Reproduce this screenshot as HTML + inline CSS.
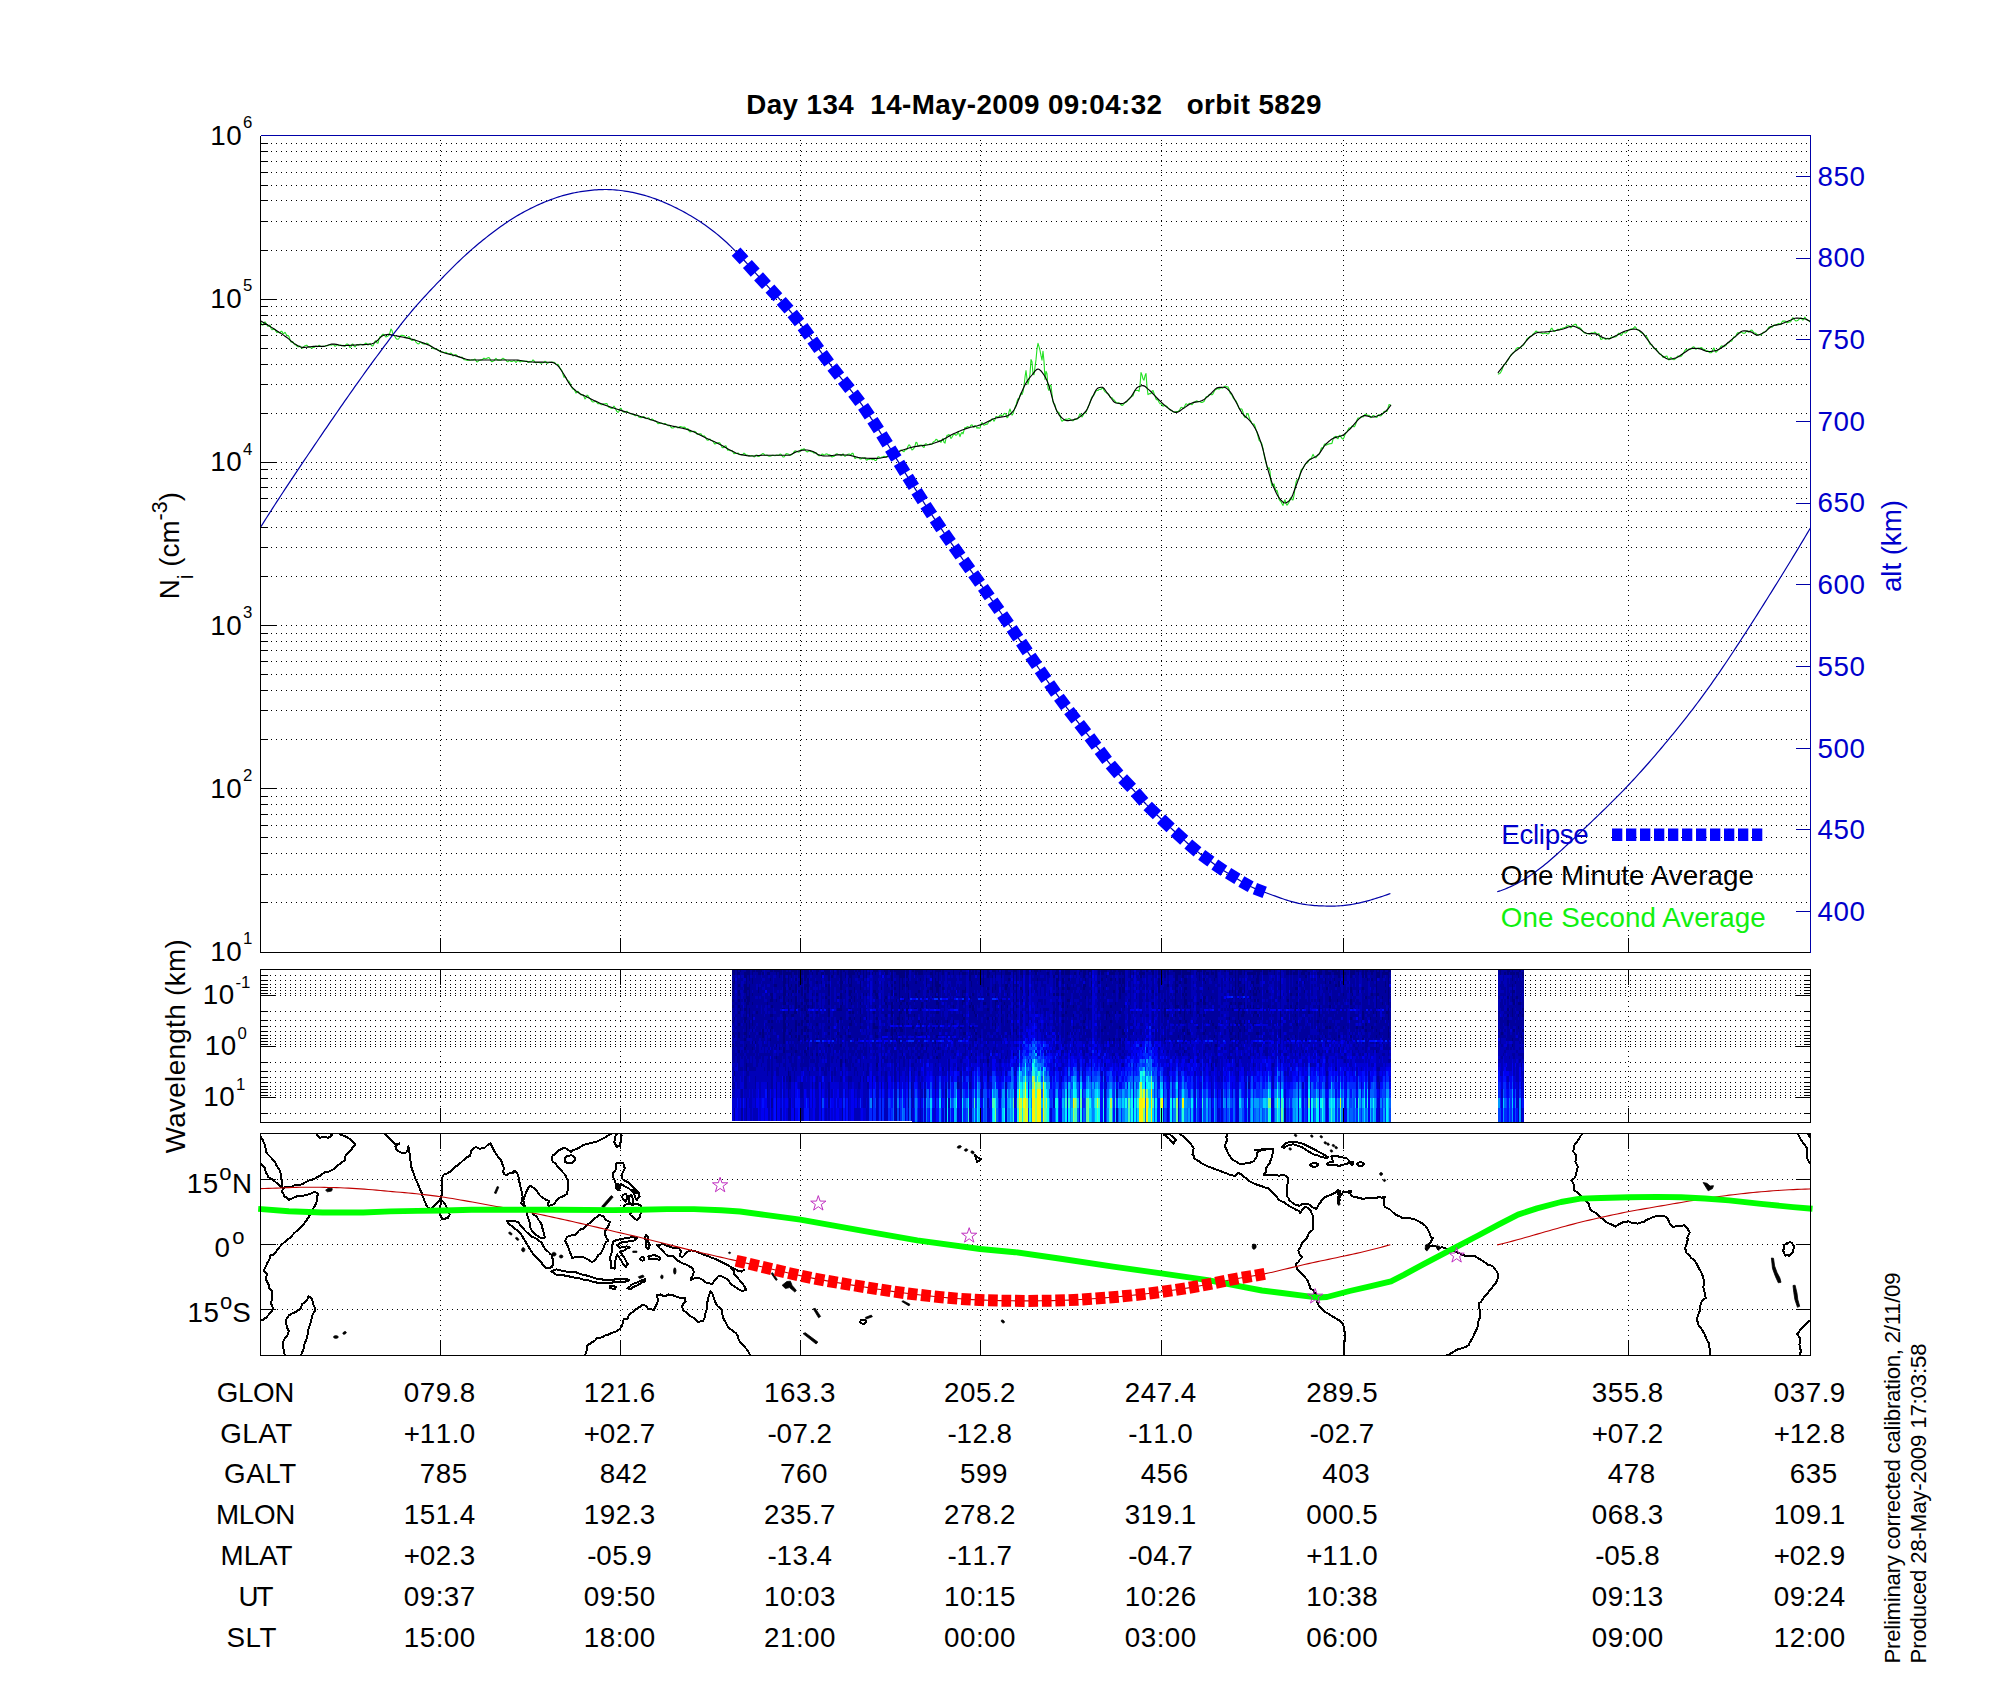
<!DOCTYPE html>
<html><head><meta charset="utf-8"><title>Day 134 14-May-2009 orbit 5829</title>
<style>
html,body{margin:0;padding:0;background:#fff;}
svg{display:block;font-family:"Liberation Sans",sans-serif;}
text{white-space:pre;}
</style></head><body>
<svg width="2000" height="1700" viewBox="0 0 2000 1700">
<rect x="0" y="0" width="2000" height="1700" fill="#fff"/>
<path d="M261 902.5H1809.5M261 874.5H1809.5M261 853.5H1809.5M261 837.5H1809.5M261 825.5H1809.5M261 814.5H1809.5M261 804.5H1809.5M261 796.5H1809.5M261 788.5H1809.5M261 739.5H1809.5M261 710.5H1809.5M261 690.5H1809.5M261 674.5H1809.5M261 661.5H1809.5M261 650.5H1809.5M261 641.5H1809.5M261 633.5H1809.5M261 625.5H1809.5M261 576.5H1809.5M261 547.5H1809.5M261 527.5H1809.5M261 511.5H1809.5M261 498.5H1809.5M261 487.5H1809.5M261 478.5H1809.5M261 469.5H1809.5M261 462.5H1809.5M261 413.5H1809.5M261 384.5H1809.5M261 364.5H1809.5M261 348.5H1809.5M261 335.5H1809.5M261 324.5H1809.5M261 315.5H1809.5M261 306.5H1809.5M261 299.5H1809.5M261 250.5H1809.5M261 221.5H1809.5M261 200.5H1809.5M261 185.5H1809.5M261 172.5H1809.5M261 161.5H1809.5M261 151.5H1809.5M261 143.5H1809.5M440.5 140V951.5M620.5 140V951.5M800.5 140V951.5M980.5 140V951.5M1161.5 140V951.5M1343.5 140V951.5M1628.5 140V951.5" stroke="#000" stroke-width="1" stroke-dasharray="1 4" fill="none" shape-rendering="crispEdges"/>
<path d="M261 322.22L262 325.06L263 325.12L264 322.69L265 321.88L266 323.26L267 325.11L268 326.34L269 325.43L270 325.13L271 328.2L272 329.64L273 329.39L274 328.99L275 329.2L276 331.48L277 332.58L278 331.75L279 332.31L280 333.1L281 331.37L282 331.34L283 333.72L284 333.33L285 332.3L286 334.04L287 335.59L288 335.49L289 336.56L290 339.77L291 341.94L292 341.66L293 341.89L294 343.79L295 344.82L296 344.92L297 346.1L298 346.95L299 346.16L300 345.99L301 347.14L302 348.23L303 347.94L304 346.4L305 345.75L306 345.4L307 345.26L308 346.6L309 347.1L310 346.97L311 347.91L312 348.16L313 347.56L314 347.46L315 346.83L316 345.92L317 346.62L318 346.42L319 345.28L320 345.83L321 346.67L322 346.78L323 346.35L324 346.28L325 346.06L326 345.53L327 345.65L328 345.58L329 345L330 344.75L331 345.22L332 344.98L333 344.38L334 345.06L335 346.3L336 345.76L337 344.36L338 345.08L339 345.78L340 344.94L341 345.07L342 345.66L343 345.3L344 346.1L345 346.25L346 344.59L347 343.98L348 344.29L349 345.68L350 347.61L351 346.89L352 344.28L353 344.16L354 346.1L355 346.85L356 345.67L357 344.57L358 344.78L359 344.84L360 344.27L361 344.18L362 344.84L363 345.04L364 344.55L365 343.75L366 343.05L367 343.94L368 345.08L369 343.95L370 343.35L371 344.79L372 345.84L373 345.65L374 343.77L375 341.25L376 340.68L377 342.96L378 343.19L379 339.01L380 336.79L381 336.66L382 335.08L383 334.17L384 334.56L385 335.98L386 337.02L387 336.58L388 335.92L389 334.88L390 332.51L391 328.94L392 330.47L393 334.71L394 335.59L395 336.64L396 338.43L397 339.29L398 339.23L399 338.33L400 336.61L401 335.35L402 335.4L403 335.59L404 335.64L405 336.42L406 337.56L407 338.06L408 337.18L409 336.58L410 337.93L411 339.64L412 340.57L413 340.24L414 339.21L415 340.09L416 342.19L417 343.07L418 343.91L419 343.69L420 342.14L421 342.29L422 343.28L423 343.76L424 344.02L425 344.09L426 343.59L427 343.11L428 343.71L429 344.62L430 345.36L431 346.22L432 347.53L433 348.5L434 348.71L435 348.97L436 349.1L437 349.21L438 349.62L439 350.35L440 351.29L441 352.05L442 351.97L443 351.89L444 352.59L445 352.45L446 352.28L447 352.87L448 353.42L449 353.88L450 353.53L451 353.07L452 354.22L453 355.88L454 355.44L455 354.61L456 354.71L457 355.61L458 356.71L459 356.49L460 357.16L461 357.57L462 356.97L463 358.26L464 359.71L465 359.77L466 359.94L467 360.36L468 360.27L469 360.06L470 360.2L471 360.06L472 359.8L473 360.06L474 359.43L475 359L476 360.58L477 362.04L478 361.34L479 360.27L480 360.18L481 359.86L482 359.74L483 359.02L484 358.12L485 358.72L486 358.89L487 358.32L488 357.77L489 357.65L490 358.89L491 361.03L492 361.79L493 361.17L494 360.82L495 359.42L496 358.3L497 359.5L498 360.26L499 359.95L500 360.32L501 360.25L502 358.86L503 358.26L504 359.08L505 359.57L506 360.03L507 361.45L508 361.74L509 360.69L510 360.83L511 361.42L512 361.48L513 361.04L514 360.44L515 361.35L516 362.44L517 361.38L518 360.24L519 361.09L520 361.94L521 361.21L522 361.09L523 361.48L524 360.92L525 361.18L526 361.14L527 361.1L528 362.44L529 362.19L530 361.35L531 361.83L532 361.1L533 359.93L534 360.78L535 362.3L536 362.85L537 362.57L538 362.45L539 362.48L540 362.69L541 363.16L542 362.94L543 362.74L544 362.33L545 361.22L546 361.81L547 363.4L548 363.09L549 362.34L550 362.29L551 362.21L552 362.14L553 362.25L554 362.26L555 362.91L556 364.51L557 364.45L558 364.22L559 366.05L560 368.11L561 369.43L562 370.75L563 374.41L564 377.3L565 376.85L566 377.63L567 379.78L568 380.83L569 381.26L570 383.15L571 385.88L572 387.97L573 389.23L574 389.27L575 391.11L576 393.1L577 391.82L578 391.21L579 392.56L580 393.92L581 394.93L582 394.82L583 394.65L584 396.61L585 398.99L586 397.57L587 395.08L588 395.78L589 397.42L590 398.55L591 399.9L592 401.44L593 401.95L594 401.66L595 401.42L596 401.55L597 402.66L598 403.78L599 403.6L600 403.65L601 404.63L602 404.69L603 404.07L604 403.82L605 404.05L606 403.52L607 403.63L608 406.14L609 407.4L610 407.41L611 408.23L612 408.54L613 407.31L614 406.11L615 407.46L616 409.87L617 411.55L618 412.35L619 411.29L620 408.74L621 408.25L622 410.28L623 411.73L624 412.14L625 412.07L626 411.47L627 411.29L628 412.15L629 412.87L630 413.53L631 414.03L632 414.07L633 414.36L634 414.91L635 415.63L636 415.59L637 414.87L638 415.7L639 417.21L640 417.41L641 417.6L642 417.46L643 416.6L644 416.71L645 417.75L646 418.71L647 418.57L648 417.7L649 418L650 419.76L651 420.05L652 418.88L653 419.48L654 420.59L655 420.93L656 421.25L657 422.45L658 423.68L659 423.53L660 423.4L661 423.24L662 423.13L663 423.75L664 423.7L665 423.48L666 424.07L667 424.93L668 425.6L669 425.37L670 425.69L671 427.23L672 428.02L673 428L674 427.45L675 426.62L676 426.32L677 427.05L678 428.02L679 427.36L680 426.47L681 426.66L682 427.01L683 427.43L684 427.15L685 427.36L686 428.71L687 428.74L688 428.62L689 430.94L690 431.95L691 431.19L692 431.77L693 431.53L694 431.19L695 431.46L696 432.16L697 434.14L698 434.6L699 433.89L700 433.75L701 433.91L702 435.46L703 436.45L704 435.77L705 436.47L706 438.39L707 440.01L708 440.34L709 439.23L710 439.16L711 440.16L712 440.43L713 441.17L714 443.1L715 444.06L716 443.35L717 443.14L718 443.01L719 442.51L720 443.11L721 445.03L722 447.39L723 447.76L724 446.98L725 446.02L726 445.86L727 448.62L728 450.35L729 449.86L730 450.59L731 450.75L732 450.4L733 452.27L734 453.73L735 453.31L736 453.41L737 453.44L738 452.88L739 454.02L740 454.81L741 454.42L742 454.95L743 454.17L744 453.16L745 453.95L746 454.76L747 455L748 455.35L749 455.95L750 455.91L751 455.72L752 455.5L753 455.96L754 456.92L755 456.41L756 455L757 454.95L758 456.38L759 456.49L760 455.55L761 454.95L762 454.04L763 453.54L764 454.2L765 455.28L766 455.29L767 455L768 455.85L769 456.27L770 456.14L771 456.05L772 455.35L773 455.18L774 455.55L775 455.72L776 455.33L777 455.08L778 455.55L779 455.07L780 454.13L781 454.2L782 455.67L783 457.02L784 457.04L785 455.71L786 453.88L787 453.65L788 454.06L789 454.58L790 455.5L791 455.11L792 454.27L793 453.47L794 451.91L795 450.8L796 450.95L797 451.68L798 451.96L799 452.1L800 451.37L801 449.62L802 449.38L803 449.53L804 448.78L805 449.42L806 451.12L807 451.91L808 451.61L809 450.8L810 450.94L811 451.6L812 451.49L813 452.27L814 453.2L815 452.64L816 452.58L817 453.88L818 455.17L819 455.64L820 455.78L821 455.26L822 454.08L823 454.39L824 455.25L825 454.66L826 453.92L827 453.96L828 454.54L829 454.87L830 454.9L831 456.14L832 457.03L833 456.56L834 456.43L835 455.47L836 454.08L837 453.81L838 454.24L839 454.56L840 454.71L841 455.7L842 455.03L843 453.71L844 455.4L845 456.32L846 455.47L847 454.86L848 454.18L849 454.03L850 454.34L851 454.57L852 453.4L853 453.24L854 456.57L855 458.54L856 457.74L857 457.68L858 457.72L859 457.65L860 458.89L861 459.07L862 457.89L863 458.15L864 458.02L865 457.76L866 459.8L867 460.19L868 459.03L869 459.4L870 459.05L871 458.87L872 459.69L873 459.36L874 459.42L875 460.41L876 460.56L877 459.1L878 456.81L879 456.75L880 458L881 457.71L882 457.05L883 456.66L884 456.23L885 456.72L886 457.42L887 456.53L888 455.82L889 456.4L890 456.03L891 454.49L892 454L893 454.28L894 454.32L895 453.68L896 452.63L897 452.08L898 451.77L899 451.58L900 450.82L901 450L902 450.15L903 451.35L904 451.7L905 450.06L906 449.74L907 449.23L908 446.2L909 444.74L910 445.67L911 448.04L912 449.92L913 449.34L914 448.17L915 445.67L916 442.28L917 442.82L918 446.03L919 446.01L920 445.06L921 445.35L922 445.1L923 446.9L924 447.53L925 444.47L926 443.66L927 444.61L928 444.45L929 444.18L930 443.82L931 444.51L932 444.28L933 442.18L934 441.56L935 440.91L936 439.21L937 439.64L938 441.42L939 441.12L940 440.89L941 442.36L942 440.08L943 438.44L944 442.39L945 443.13L946 438.39L947 435.38L948 435.21L949 434.48L950 435.93L951 438.53L952 437.25L953 435.18L954 434.44L955 434.3L956 435.4L957 434.65L958 432.07L959 433.79L960 436.64L961 433.78L962 432.33L963 433.8L964 430.36L965 427.47L966 428L967 426.72L968 426.48L969 427.74L970 426.79L971 425.16L972 424.74L973 426.23L974 427.39L975 425.57L976 426.21L977 428.22L978 427.49L979 428.19L980 428L981 424.36L982 422.45L983 423.97L984 425.3L985 424.72L986 423.95L987 424.4L988 423.25L989 421.34L990 421.59L991 420.64L992 418.72L993 419.43L994 421.19L995 419.49L996 416.51L997 416.67L998 417.3L999 416.66L1000 415.16L1001 414.87L1002 416.28L1003 415.27L1004 413.84L1005 413.31L1006 414.25L1007 417.75L1008 417.01L1009 411.78L1010 409.04L1011 411.92L1012 415.21L1013 413.68L1014 410.41L1015 407.36L1016 405.33L1017 401.54L1018 398.74L1019 399.13L1020 395.35L1021 392.95L1022 394.6L1023 391.83L1024 386.06L1025 377.19L1026 370.48L1027 378.93L1028 384.09L1029 380.15L1030 374.1L1031 359.53L1032 361.77L1033 374.04L1034 374.72L1035 366.84L1036 359.64L1037 348.97L1038 343.37L1039 346.7L1040 350.34L1041 355.67L1042 360.11L1043 351.18L1044 361.35L1045 379.54L1046 371.33L1047 373.62L1048 388.26L1049 390.5L1050 384.94L1051 385.77L1052 394.18L1053 401.94L1054 403.71L1055 404.9L1056 409.23L1057 411.86L1058 411.95L1059 412.77L1060 415.48L1061 419.4L1062 421.2L1063 420.47L1064 420.14L1065 419.69L1066 419.02L1067 419.33L1068 418.95L1069 418.45L1070 419.03L1071 419.85L1072 420.68L1073 420.79L1074 419.72L1075 418.92L1076 419.09L1077 419.22L1078 418.56L1079 415.89L1080 413.68L1081 415.23L1082 416.91L1083 415.39L1084 413.58L1085 413.01L1086 412.02L1087 409.9L1088 407.24L1089 404.99L1090 402.47L1091 399.16L1092 396.82L1093 396.05L1094 395.06L1095 393.03L1096 390.98L1097 390.48L1098 390.56L1099 389.48L1100 389.29L1101 389.43L1102 388.21L1103 388.25L1104 390.21L1105 391.8L1106 392.39L1107 393.2L1108 393.71L1109 394.71L1110 396.95L1111 397.57L1112 397.8L1113 399.13L1114 399.83L1115 401L1116 402.19L1117 402.85L1118 403.21L1119 402.75L1120 403.37L1121 404.82L1122 405.51L1123 405L1124 403.72L1125 402.64L1126 402.22L1127 401.55L1128 400.09L1129 399.1L1130 398.28L1131 396.94L1132 396.39L1133 395.76L1134 392.8L1135 390.49L1136 390.47L1137 390.46L1138 390.42L1139 391.3L1140 385.52L1141 372.46L1142 374.84L1143 378.87L1144 380.09L1145 375.83L1146 373.6L1147 386.7L1148 394.69L1149 393.85L1150 393.63L1151 393.65L1152 390.97L1153 390.54L1154 393.22L1155 396.09L1156 399.01L1157 399.91L1158 399.88L1159 402.25L1160 403.76L1161 403.5L1162 404.65L1163 406.17L1164 405.71L1165 405.37L1166 405.84L1167 406.38L1168 407.79L1169 408.99L1170 409.87L1171 410.21L1172 410.71L1173 411.75L1174 412.07L1175 411.94L1176 411.58L1177 411.57L1178 411.42L1179 410.83L1180 409.29L1181 407.39L1182 407.45L1183 408.51L1184 407.96L1185 405.43L1186 403.78L1187 404.18L1188 404.43L1189 403.58L1190 403.36L1191 404.29L1192 404.62L1193 403.39L1194 401.97L1195 401.78L1196 401.24L1197 400.86L1198 401.87L1199 401.74L1200 401.49L1201 402.42L1202 402.41L1203 401.89L1204 401.42L1205 399.45L1206 396.92L1207 396.58L1208 396.58L1209 395.03L1210 394.28L1211 394.64L1212 394.75L1213 393.86L1214 391.79L1215 390.07L1216 389.62L1217 388.84L1218 388.43L1219 389.09L1220 388.25L1221 387.47L1222 388.08L1223 387.96L1224 386.91L1225 386.07L1226 386.54L1227 387.07L1228 386.9L1229 389.1L1230 392.88L1231 394.05L1232 395.27L1233 397.62L1234 399.01L1235 399.89L1236 400.82L1237 403.06L1238 405.8L1239 408.35L1240 409.47L1241 408.75L1242 409.14L1243 412.22L1244 415.87L1245 417.55L1246 416.6L1247 413.76L1248 413.47L1249 416.97L1250 419.71L1251 421.43L1252 423.53L1253 424.15L1254 424.05L1255 426.15L1256 429.63L1257 432.25L1258 436.09L1259 440.23L1260 441.3L1261 442.08L1262 444.27L1263 448.6L1264 454.55L1265 459.04L1266 462.68L1267 466.85L1268 468.87L1269 467.61L1270 471.59L1271 481.7L1272 486.16L1273 484.69L1274 483.86L1275 487.7L1276 491.2L1277 490.38L1278 493.91L1279 499.12L1280 500.71L1281 501.49L1282 503.81L1283 505.42L1284 501.82L1285 499.8L1286 503.41L1287 505.25L1288 503.93L1289 502.32L1290 498.88L1291 497.25L1292 499.64L1293 499.89L1294 495.39L1295 488.16L1296 482.29L1297 479.82L1298 479.51L1299 478.95L1300 474.91L1301 470.12L1302 469.03L1303 468.43L1304 466.52L1305 464.58L1306 463.43L1307 463.07L1308 462.01L1309 460.08L1310 458.8L1311 458.91L1312 456.6L1313 454.36L1314 456.18L1315 457.79L1316 457.73L1317 456.24L1318 454.87L1319 454.27L1320 452.46L1321 448.8L1322 447.68L1323 448.3L1324 445.05L1325 443.73L1326 445.16L1327 444.74L1328 444.07L1329 444.1L1330 443.46L1331 443.67L1332 443.25L1333 439.38L1334 437.26L1335 436.78L1336 436.38L1337 438.22L1338 438.75L1339 436.05L1340 435.23L1341 436.96L1342 438.43L1343 439.15L1344 437.54L1345 434.5L1346 432.64L1347 431.83L1348 429.86L1349 427.93L1350 427.95L1351 427.61L1352 426.17L1353 426.12L1354 426.91L1355 425.89L1356 423.32L1357 420.04L1358 417.93L1359 417.98L1360 417.91L1361 416.81L1362 416.57L1363 417.06L1364 415.94L1365 414.42L1366 414.35L1367 415.14L1368 415.46L1369 415.23L1370 416.31L1371 417.63L1372 416.91L1373 415.63L1374 415.72L1375 416.69L1376 417.41L1377 417.14L1378 415.32L1379 414.66L1380 415.95L1381 415.82L1382 414.74L1383 413.36L1384 411.59L1385 411.13L1386 411.61L1387 411.23L1388 407.99L1389 404.59L1390 404.83L1391 405.22" stroke="#22e022" stroke-width="1.1" fill="none" stroke-linejoin="round"/>
<path d="M1497.9 374.23L1498.9 373.81L1499.9 373.39L1500.9 371.94L1501.9 369.97L1502.9 367.3L1503.9 364.78L1504.9 364.28L1505.9 363.22L1506.9 361.2L1507.9 360.13L1508.9 358.61L1509.9 356.48L1510.9 355L1511.9 354.04L1512.9 353.11L1513.9 352.28L1514.9 350.96L1515.9 349.21L1516.9 348.23L1517.9 347.53L1518.9 347.65L1519.9 348.03L1520.9 347.1L1521.9 345.87L1522.9 345.54L1523.9 344.62L1524.9 342.64L1525.9 340.98L1526.9 339.04L1527.9 338.06L1528.9 337.58L1529.9 336.49L1530.9 336.4L1531.9 335.76L1532.9 334.11L1533.9 333.44L1534.9 332.39L1535.9 331.16L1536.9 331.36L1537.9 332.29L1538.9 332.79L1539.9 332.81L1540.9 333.04L1541.9 333.22L1542.9 333.73L1543.9 333.5L1544.9 332.91L1545.9 333.16L1546.9 333.54L1547.9 334.06L1548.9 333.55L1549.9 331.39L1550.9 328.96L1551.9 328.19L1552.9 329.89L1553.9 331.54L1554.9 331.42L1555.9 330.65L1556.9 329.83L1557.9 329.34L1558.9 329.61L1559.9 329.21L1560.9 328.51L1561.9 328.57L1562.9 328.05L1563.9 327.69L1564.9 327.59L1565.9 326.94L1566.9 326.03L1567.9 325.67L1568.9 325.71L1569.9 326.61L1570.9 327.84L1571.9 326.65L1572.9 325.21L1573.9 325.11L1574.9 324.4L1575.9 324.33L1576.9 326.34L1577.9 327.48L1578.9 327.27L1579.9 327.83L1580.9 328.64L1581.9 330.06L1582.9 331.73L1583.9 332.72L1584.9 332.88L1585.9 333.04L1586.9 333.62L1587.9 333.61L1588.9 333.94L1589.9 334.21L1590.9 333.11L1591.9 332.68L1592.9 333.19L1593.9 332.66L1594.9 332.09L1595.9 332.96L1596.9 334.42L1597.9 333.98L1598.9 333.64L1599.9 336.53L1600.9 339.47L1601.9 339.3L1602.9 337.77L1603.9 337.84L1604.9 338.99L1605.9 339.43L1606.9 338.59L1607.9 338.16L1608.9 339.2L1609.9 338.85L1610.9 337.17L1611.9 336.98L1612.9 337.3L1613.9 337.01L1614.9 336.92L1615.9 336.77L1616.9 335.93L1617.9 334.22L1618.9 333.19L1619.9 334.16L1620.9 335.4L1621.9 334.85L1622.9 332.87L1623.9 332.19L1624.9 333.06L1625.9 332.88L1626.9 331.81L1627.9 330.73L1628.9 329.93L1629.9 329.58L1630.9 329.01L1631.9 328.8L1632.9 328.82L1633.9 327.73L1634.9 326.7L1635.9 327.71L1636.9 329.36L1637.9 329.76L1638.9 330.12L1639.9 331.33L1640.9 332.54L1641.9 332.92L1642.9 333.06L1643.9 334.25L1644.9 335.5L1645.9 336.01L1646.9 337.13L1647.9 339L1648.9 341.53L1649.9 344.13L1650.9 344.72L1651.9 344.81L1652.9 346.77L1653.9 348.57L1654.9 348.58L1655.9 348.89L1656.9 350.08L1657.9 351.47L1658.9 353.32L1659.9 354.19L1660.9 353.96L1661.9 355.54L1662.9 357.36L1663.9 357.12L1664.9 356.89L1665.9 356.3L1666.9 356.08L1667.9 358.37L1668.9 359.94L1669.9 358.42L1670.9 357.32L1671.9 358.3L1672.9 359.24L1673.9 359.68L1674.9 359.23L1675.9 358.18L1676.9 356.9L1677.9 356.03L1678.9 356.58L1679.9 356.75L1680.9 356.41L1681.9 355.49L1682.9 353.69L1683.9 352.3L1684.9 350.6L1685.9 349.41L1686.9 349.97L1687.9 349.81L1688.9 348.98L1689.9 349.17L1690.9 349.15L1691.9 348.42L1692.9 347.04L1693.9 346.77L1694.9 348.51L1695.9 349.2L1696.9 348.45L1697.9 348.01L1698.9 348.15L1699.9 348.3L1700.9 347.67L1701.9 347.8L1702.9 349.03L1703.9 349.24L1704.9 349.71L1705.9 350.85L1706.9 350.79L1707.9 350.71L1708.9 352.08L1709.9 352.81L1710.9 352.79L1711.9 352.25L1712.9 349.53L1713.9 347.94L1714.9 350.17L1715.9 352.24L1716.9 351.57L1717.9 349.85L1718.9 349.17L1719.9 348.2L1720.9 346.38L1721.9 345.77L1722.9 346.51L1723.9 346.74L1724.9 346.02L1725.9 345.57L1726.9 343.67L1727.9 342.39L1728.9 342.78L1729.9 341.52L1730.9 341.1L1731.9 340.88L1732.9 338.25L1733.9 336.82L1734.9 337.27L1735.9 336.04L1736.9 333.66L1737.9 332.59L1738.9 332.91L1739.9 332.99L1740.9 332.17L1741.9 332.33L1742.9 333.11L1743.9 333.24L1744.9 333.17L1745.9 331.93L1746.9 330.74L1747.9 331.74L1748.9 332.17L1749.9 331.18L1750.9 330.2L1751.9 330.05L1752.9 331.36L1753.9 332.71L1754.9 332.99L1755.9 333.38L1756.9 334.49L1757.9 335.22L1758.9 334.8L1759.9 334.8L1760.9 334.99L1761.9 334.1L1762.9 332.94L1763.9 331.99L1764.9 331.78L1765.9 331.45L1766.9 330.26L1767.9 328.56L1768.9 327.19L1769.9 326.64L1770.9 326.7L1771.9 327.29L1772.9 326.54L1773.9 325.16L1774.9 325.1L1775.9 325.13L1776.9 324.87L1777.9 323.84L1778.9 323.46L1779.9 324.71L1780.9 324.3L1781.9 322L1782.9 320.92L1783.9 321.13L1784.9 321.09L1785.9 321.51L1786.9 322.65L1787.9 322.59L1788.9 321.72L1789.9 321.94L1790.9 321.35L1791.9 318.86L1792.9 317.72L1793.9 318.85L1794.9 320.18L1795.9 321.03L1796.9 320.7L1797.9 320.16L1798.9 319.54L1799.9 318.19L1800.9 317.97L1801.9 319.1L1802.9 320.26L1803.9 318.7L1804.9 317.14L1805.9 318.69L1806.9 319.77L1807.9 320.21L1808.9 320.74L1809.9 321.61L1810.2 322.17" stroke="#22e022" stroke-width="1.1" fill="none" stroke-linejoin="round"/>
<path d="M261 321L262.5 321.88L264 322.78L265.5 323.68L267 324.59L268.5 325.51L270 326.44L271.5 327.38L273 328.33L274.5 329.28L276 330.24L277.5 331.2L279 332.16L280.5 333.13L282 334.12L283.5 335.13L285 336.17L286.5 337.24L288 338.37L289.5 339.65L291 340.98L292.5 342.25L294 343.38L295.5 344.28L297 345.16L298.5 346L300 346.71L301.5 347.21L303 347.4L304.5 347.36L306 347.24L307.5 347.08L309 346.9L310.5 346.72L312 346.56L313.5 346.44L315 346.4L316.5 346.4L318 346.4L319.5 346.4L321 346.4L322.5 346.4L324 346.33L325.5 346.02L327 345.56L328.5 345.02L330 344.52L331.5 344.15L333 344L334.5 344.1L336 344.35L337.5 344.68L339 345.04L340.5 345.35L342 345.56L343.5 345.6L345 345.57L346.5 345.52L348 345.44L349.5 345.35L351 345.25L352.5 345.15L354 345.06L355.5 344.97L357 344.9L358.5 344.84L360 344.77L361.5 344.71L363 344.64L364.5 344.56L366 344.47L367.5 344.36L369 344.22L370.5 344.06L372 343.78L373.5 343.17L375 342.4L376.5 341.34L378 339.89L379.5 338.31L381 336.87L382.5 335.82L384 335.25L385.5 334.78L387 334.47L388.5 334.41L390 334.56L391.5 334.84L393 335.17L394.5 335.5L396 335.79L397.5 336.07L399 336.36L400.5 336.65L402 336.95L403.5 337.26L405 337.58L406.5 337.91L408 338.26L409.5 338.62L411 339L412.5 339.4L414 339.83L415.5 340.28L417 340.75L418.5 341.25L420 341.76L421.5 342.29L423 342.85L424.5 343.41L426 344L427.5 344.61L429 345.29L430.5 346.04L432 346.84L433.5 347.67L435 348.52L436.5 349.36L438 350.17L439.5 350.93L441 351.62L442.5 352.22L444 352.73L445.5 353.19L447 353.61L448.5 353.99L450 354.37L451.5 354.73L453 355.09L454.5 355.47L456 355.88L457.5 356.34L459 356.83L460.5 357.35L462 357.86L463.5 358.36L465 358.82L466.5 359.23L468 359.57L469.5 359.82L471 359.97L472.5 360L474 360L475.5 360L477 360L478.5 360L480 360L481.5 360L483 360L484.5 360L486 360L487.5 360L489 360L490.5 360L492 360L493.5 360L495 360L496.5 360L498 360L499.5 360L501 360L502.5 360L504 360L505.5 360L507 360L508.5 360L510 360L511.5 360L513 360L514.5 360L516 360.02L517.5 360.12L519 360.29L520.5 360.5L522 360.75L523.5 361.02L525 361.29L526.5 361.53L528 361.75L529.5 361.91L531 362L532.5 362.05L534 362.08L535.5 362.11L537 362.13L538.5 362.14L540 362.16L541.5 362.17L543 362.18L544.5 362.2L546 362.22L547.5 362.25L549 362.29L550.5 362.34L552 362.4L553.5 362.76L555 363.57L556.5 364.63L558 365.9L559.5 367.75L561 369.96L562.5 372.26L564 374.55L565.5 377.13L567 379.82L568.5 382.42L570 384.73L571.5 386.56L573 388.13L574.5 389.56L576 390.84L577.5 391.98L579 393L580.5 393.89L582 394.67L583.5 395.39L585 396.07L586.5 396.76L588 397.48L589.5 398.22L591 398.95L592.5 399.68L594 400.41L595.5 401.13L597 401.83L598.5 402.51L600 403.17L601.5 403.8L603 404.4L604.5 404.97L606 405.52L607.5 406.05L609 406.56L610.5 407.06L612 407.55L613.5 408.03L615 408.5L616.5 408.98L618 409.45L619.5 409.92L621 410.4L622.5 410.88L624 411.36L625.5 411.83L627 412.29L628.5 412.76L630 413.22L631.5 413.68L633 414.15L634.5 414.61L636 415.07L637.5 415.53L639 416L640.5 416.47L642 416.93L643.5 417.39L645 417.86L646.5 418.32L648 418.79L649.5 419.25L651 419.72L652.5 420.2L654 420.68L655.5 421.16L657 421.67L658.5 422.19L660 422.71L661.5 423.22L663 423.7L664.5 424.14L666 424.56L667.5 424.94L669 425.31L670.5 425.66L672 425.99L673.5 426.32L675 426.64L676.5 426.96L678 427.28L679.5 427.6L681 427.94L682.5 428.29L684 428.66L685.5 429.05L687 429.47L688.5 429.92L690 430.4L691.5 430.94L693 431.55L694.5 432.22L696 432.93L697.5 433.68L699 434.45L700.5 435.23L702 436.01L703.5 436.78L705 437.52L706.5 438.23L708 438.91L709.5 439.58L711 440.25L712.5 440.91L714 441.57L715.5 442.25L717 442.94L718.5 443.66L720 444.4L721.5 445.19L723 446.04L724.5 446.92L726 447.81L727.5 448.67L729 449.49L730.5 450.25L732 451.02L733.5 451.8L735 452.56L736.5 453.25L738 453.83L739.5 454.29L741 454.61L742.5 454.91L744 455.18L745.5 455.44L747 455.65L748.5 455.82L750 455.94L751.5 456L753 455.98L754.5 455.91L756 455.79L757.5 455.65L759 455.5L760.5 455.36L762 455.26L763.5 455.2L765 455.2L766.5 455.2L768 455.2L769.5 455.2L771 455.2L772.5 455.2L774 455.2L775.5 455.2L777 455.2L778.5 455.2L780 455.2L781.5 455.2L783 455.2L784.5 455.2L786 455.2L787.5 455.2L789 455.11L790.5 454.68L792 454L793.5 453.19L795 452.38L796.5 451.68L798 451.2L799.5 450.88L801 450.57L802.5 450.3L804 450.11L805.5 450.01L807 450.05L808.5 450.28L810 450.64L811.5 451.06L813 451.56L814.5 452.35L816 453.28L817.5 454.18L819 454.9L820.5 455.3L822 455.59L823.5 455.82L825 455.97L826.5 456L828 455.93L829.5 455.81L831 455.65L832.5 455.46L834 455.27L835.5 455.09L837 454.94L838.5 454.84L840 454.8L841.5 454.82L843 454.87L844.5 454.95L846 455.05L847.5 455.16L849 455.3L850.5 455.55L852 455.87L853.5 456.25L855 456.65L856.5 457.04L858 457.4L859.5 457.71L861 457.92L862.5 458.02L864 458.1L865.5 458.16L867 458.22L868.5 458.27L870 458.32L871.5 458.35L873 458.38L874.5 458.39L876 458.4L877.5 458.35L879 458.23L880.5 458.03L882 457.79L883.5 457.51L885 457.21L886.5 456.89L888 456.45L889.5 455.89L891 455.22L892.5 454.5L894 453.74L895.5 452.98L897 452.24L898.5 451.58L900 451L901.5 450.48L903 449.97L904.5 449.47L906 448.99L907.5 448.52L909 448.07L910.5 447.65L912 447.26L913.5 446.91L915 446.59L916.5 446.31L918 446.08L919.5 445.89L921 445.72L922.5 445.56L924 445.39L925.5 445.2L927 444.98L928.5 444.7L930 444.37L931.5 443.97L933 443.53L934.5 443.04L936 442.52L937.5 441.97L939 441.39L940.5 440.8L942 440.12L943.5 439.37L945 438.55L946.5 437.7L948 436.83L949.5 435.96L951 435.12L952.5 434.32L954 433.6L955.5 432.92L957 432.25L958.5 431.59L960 430.95L961.5 430.33L963 429.74L964.5 429.18L966 428.65L967.5 428.16L969 427.71L970.5 427.31L972 426.96L973.5 426.62L975 426.29L976.5 425.95L978 425.57L979.5 425.15L981 424.66L982.5 424.07L984 423.4L985.5 422.68L987 421.92L988.5 421.16L990 420.41L991.5 419.69L993 419.04L994.5 418.47L996 418L997.5 417.65L999 417.37L1000.5 417.14L1002 416.93L1003.5 416.7L1005 416.42L1006.5 416.07L1008 415.6L1009.5 414.8L1011 413.53L1012.5 411.9L1014 410L1015.5 407.32L1017 403.69L1018.5 399.71L1020 396L1021.5 392.54L1023 389.05L1024.5 385.79L1026 383L1027.5 380.68L1029 378.62L1030.5 376.75L1032 375L1033.5 373.1L1035 371.14L1036.5 369.62L1038 369L1039.5 369.55L1041 370.96L1042.5 372.89L1044 375L1045.5 377.54L1047 380.83L1048.5 384.65L1050 389.2L1051.5 395.09L1053 400.9L1054.5 405.29L1056 408.97L1057.5 412.21L1059 414.78L1060.5 416.5L1062 417.93L1063.5 419.18L1065 420.1L1066.5 420.57L1068 420.57L1069.5 420.44L1071 420.21L1072.5 419.93L1074 419.6L1075.5 419.16L1077 418.52L1078.5 417.69L1080 416.67L1081.5 415.49L1083 414.14L1084.5 412.64L1086 411L1087.5 408.54L1089 405.06L1090.5 401.3L1092 398L1093.5 394.94L1095 391.84L1096.5 389.32L1098 388L1099.5 387.55L1101 387.26L1102.5 387.29L1104 388.46L1105.5 390.48L1107 392.71L1108.5 394.59L1110 396.61L1111.5 398.76L1113 400.74L1114.5 402.25L1116 403L1117.5 403.24L1119 403.43L1120.5 403.56L1122 403.6L1123.5 403.3L1125 402.48L1126.5 401.31L1128 399.92L1129.5 398.47L1131 396.87L1132.5 394.59L1134 392.02L1135.5 389.58L1137 387.71L1138.5 386.78L1140 386.19L1141.5 385.76L1143 385.6L1144.5 386.08L1146 387.23L1147.5 388.58L1149 389.84L1150.5 391.23L1152 392.75L1153.5 394.34L1155 395.95L1156.5 397.52L1158 399L1159.5 400.44L1161 401.91L1162.5 403.36L1164 404.77L1165.5 406.09L1167 407.29L1168.5 408.35L1170 409.45L1171.5 410.54L1173 411.48L1174.5 412.15L1176 412.4L1177.5 412.13L1179 411.42L1180.5 410.44L1182 409.35L1183.5 408.31L1185 407.38L1186.5 406.34L1188 405.27L1189.5 404.26L1191 403.42L1192.5 402.83L1194 402.42L1195.5 402.1L1197 401.83L1198.5 401.55L1200 401.22L1201.5 400.78L1203 400.14L1204.5 399.16L1206 397.94L1207.5 396.6L1209 395.25L1210.5 393.97L1212 392.47L1213.5 390.84L1215 389.32L1216.5 388.16L1218 387.6L1219.5 387.44L1221 387.31L1222.5 387.23L1224 387.2L1225.5 387.6L1227 388.63L1228.5 390.04L1230 391.6L1231.5 393.59L1233 396.24L1234.5 399.16L1236 402L1237.5 404.85L1239 407.85L1240.5 410.67L1242 413L1243.5 414.76L1245 416.22L1246.5 417.53L1248 418.88L1249.5 420.42L1251 422.24L1252.5 424.25L1254 426.5L1255.5 429.06L1257 432.07L1258.5 435.71L1260 439.86L1261.5 444.41L1263 449.52L1264.5 455.67L1266 462.15L1267.5 468.21L1269 473.4L1270.5 478.3L1272 482.83L1273.5 486.82L1275 490.24L1276.5 493.4L1278 496.18L1279.5 498.41L1281 500.12L1282.5 501.69L1284 502.76L1285.5 502.96L1287 502.39L1288.5 501.34L1290 500L1291.5 497.72L1293 494.16L1294.5 490.02L1296 486L1297.5 481.94L1299 477.57L1300.5 473.42L1302 470L1303.5 467.22L1305 464.73L1306.5 462.62L1308 461L1309.5 459.83L1311 458.93L1312.5 458.18L1314 457.48L1315.5 456.71L1317 455.77L1318.5 454.53L1320 452.69L1321.5 450.42L1323 448.02L1324.5 445.78L1326 444L1327.5 442.58L1329 441.27L1330.5 440.08L1332 439.06L1333.5 438.23L1335 437.62L1336.5 437.17L1338 436.81L1339.5 436.45L1341 435.99L1342.5 435.36L1344 434.43L1345.5 433.24L1347 431.88L1348.5 430.44L1350 429L1351.5 427.46L1353 425.71L1354.5 423.88L1356 422.04L1357.5 420.33L1359 418.83L1360.5 417.61L1362 416.43L1363.5 415.66L1365 415.66L1366.5 415.92L1368 416.3L1369.5 416.68L1371 416.94L1372.5 416.99L1374 416.83L1375.5 416.51L1377 416.07L1378.5 415.55L1380 415L1381.5 414.3L1383 413.37L1384.5 412.25L1386 411L1387.5 409.52L1389 407.74L1390.5 405.71L1391 405" stroke="#000" stroke-width="1.15" fill="none" stroke-linejoin="round"/>
<path d="M1497.9 372.8L1499.4 370.94L1500.9 369.06L1502.4 367.14L1503.9 365.2L1505.4 363.23L1506.9 361.15L1508.4 358.93L1509.9 356.76L1511.4 354.8L1512.9 353.21L1514.4 351.9L1515.9 350.75L1517.4 349.67L1518.9 348.57L1520.4 347.36L1521.9 345.93L1523.4 344.29L1524.9 342.53L1526.4 340.75L1527.9 339.05L1529.4 337.52L1530.9 336.27L1532.4 335.21L1533.9 334.19L1535.4 333.32L1536.9 332.7L1538.4 332.42L1539.9 332.26L1541.4 332.14L1542.9 332.05L1544.4 331.97L1545.9 331.88L1547.4 331.76L1548.9 331.6L1550.4 331.41L1551.9 331.2L1553.4 330.97L1554.9 330.72L1556.4 330.45L1557.9 330.16L1559.4 329.86L1560.9 329.55L1562.4 329.2L1563.9 328.73L1565.4 328.18L1566.9 327.6L1568.4 327.05L1569.9 326.59L1571.4 326.29L1572.9 326.2L1574.4 326.47L1575.9 327.03L1577.4 327.74L1578.9 328.44L1580.4 329.35L1581.9 330.47L1583.4 331.62L1584.9 332.61L1586.4 333.26L1587.9 333.48L1589.4 333.57L1590.9 333.63L1592.4 333.69L1593.9 333.76L1595.4 333.88L1596.9 334.25L1598.4 335.04L1599.9 335.99L1601.4 336.87L1602.9 337.47L1604.4 337.98L1605.9 338.44L1607.4 338.73L1608.9 338.77L1610.4 338.42L1611.9 337.77L1613.4 336.97L1614.9 336.14L1616.4 335.42L1617.9 334.68L1619.4 333.9L1620.9 333.09L1622.4 332.32L1623.9 331.63L1625.4 331.05L1626.9 330.6L1628.4 330.18L1629.9 329.79L1631.4 329.45L1632.9 329.21L1634.4 329.1L1635.9 329.22L1637.4 329.66L1638.9 330.33L1640.4 331.13L1641.9 332.26L1643.4 334.06L1644.9 336.18L1646.4 338.25L1647.9 340.14L1649.4 342.08L1650.9 344L1652.4 345.85L1653.9 347.56L1655.4 349.24L1656.9 350.9L1658.4 352.46L1659.9 353.9L1661.4 355.14L1662.9 356.22L1664.4 357.33L1665.9 358.31L1667.4 358.99L1668.9 359.2L1670.4 359.1L1671.9 358.87L1673.4 358.54L1674.9 358.16L1676.4 357.7L1677.9 356.96L1679.4 356.01L1680.9 354.96L1682.4 353.91L1683.9 352.96L1685.4 352.01L1686.9 350.94L1688.4 349.9L1689.9 349.01L1691.4 348.44L1692.9 348.3L1694.4 348.34L1695.9 348.42L1697.4 348.53L1698.9 348.66L1700.4 348.91L1701.9 349.45L1703.4 350.13L1704.9 350.81L1706.4 351.32L1707.9 351.5L1709.4 351.45L1710.9 351.32L1712.4 351.13L1713.9 350.88L1715.4 350.59L1716.9 350.24L1718.4 349.64L1719.9 348.79L1721.4 347.77L1722.9 346.68L1724.4 345.58L1725.9 344.5L1727.4 343.3L1728.9 342.02L1730.4 340.69L1731.9 339.37L1733.4 338.08L1734.9 336.88L1736.4 335.62L1737.9 334.22L1739.4 332.86L1740.9 331.72L1742.4 330.98L1743.9 330.8L1745.4 330.89L1746.9 331.07L1748.4 331.32L1749.9 331.62L1751.4 332.1L1752.9 333.02L1754.4 334.05L1755.9 334.86L1757.4 335.09L1758.9 334.83L1760.4 334.27L1761.9 333.54L1763.4 332.76L1764.9 331.9L1766.4 330.7L1767.9 329.33L1769.4 327.96L1770.9 326.79L1772.4 326L1773.9 325.53L1775.4 325.18L1776.9 324.89L1778.4 324.6L1779.9 324.27L1781.4 323.85L1782.9 323.32L1784.4 322.71L1785.9 322.07L1787.4 321.42L1788.9 320.8L1790.4 320.18L1791.9 319.45L1793.4 318.76L1794.9 318.26L1796.4 318.1L1797.9 318.14L1799.4 318.23L1800.9 318.37L1802.4 318.55L1803.9 318.77L1805.4 319.06L1806.9 319.62L1808.4 320.41L1809.9 321.31L1810.2 321.5" stroke="#000" stroke-width="1.15" fill="none" stroke-linejoin="round"/>
<path d="M260.7 527L262.7 523.81L264.7 520.63L266.7 517.47L268.7 514.33L270.7 511.2L272.7 508.08L274.7 504.98L276.7 501.9L278.7 498.82L280.7 495.76L282.7 492.71L284.7 489.67L286.7 486.64L288.7 483.62L290.7 480.6L292.7 477.6L294.7 474.6L296.7 471.61L298.7 468.63L300.7 465.65L302.7 462.68L304.7 459.71L306.7 456.74L308.7 453.78L310.7 450.82L312.7 447.87L314.7 444.92L316.7 441.97L318.7 439.02L320.7 436.08L322.7 433.15L324.7 430.21L326.7 427.29L328.7 424.37L330.7 421.45L332.7 418.54L334.7 415.63L336.7 412.73L338.7 409.83L340.7 406.95L342.7 404.07L344.7 401.19L346.7 398.33L348.7 395.47L350.7 392.62L352.7 389.78L354.7 386.95L356.7 384.13L358.7 381.32L360.7 378.52L362.7 375.73L364.7 372.95L366.7 370.19L368.7 367.43L370.7 364.68L372.7 361.94L374.7 359.21L376.7 356.49L378.7 353.78L380.7 351.08L382.7 348.39L384.7 345.7L386.7 343.03L388.7 340.36L390.7 337.71L392.7 335.07L394.7 332.44L396.7 329.84L398.7 327.26L400.7 324.7L402.7 322.17L404.7 319.67L406.7 317.2L408.7 314.76L410.7 312.36L412.7 309.99L414.7 307.66L416.7 305.36L418.7 303.1L420.7 300.86L422.7 298.65L424.7 296.47L426.7 294.3L428.7 292.16L430.7 290.03L432.7 287.91L434.7 285.81L436.7 283.71L438.7 281.63L440.7 279.55L442.7 277.48L444.7 275.42L446.7 273.38L448.7 271.35L450.7 269.33L452.7 267.34L454.7 265.36L456.7 263.4L458.7 261.47L460.7 259.56L462.7 257.68L464.7 255.83L466.7 254L468.7 252.2L470.7 250.42L472.7 248.67L474.7 246.95L476.7 245.25L478.7 243.58L480.7 241.92L482.7 240.29L484.7 238.69L486.7 237.1L488.7 235.53L490.7 233.99L492.7 232.46L494.7 230.96L496.7 229.48L498.7 228.02L500.7 226.58L502.7 225.17L504.7 223.79L506.7 222.43L508.7 221.1L510.7 219.8L512.7 218.53L514.7 217.28L516.7 216.07L518.7 214.89L520.7 213.74L522.7 212.61L524.7 211.52L526.7 210.45L528.7 209.41L530.7 208.4L532.7 207.42L534.7 206.46L536.7 205.52L538.7 204.61L540.7 203.73L542.7 202.87L544.7 202.03L546.7 201.22L548.7 200.44L550.7 199.68L552.7 198.94L554.7 198.23L556.7 197.55L558.7 196.9L560.7 196.28L562.7 195.68L564.7 195.11L566.7 194.58L568.7 194.07L570.7 193.6L572.7 193.15L574.7 192.73L576.7 192.34L578.7 191.97L580.7 191.64L582.7 191.33L584.7 191.04L586.7 190.78L588.7 190.54L590.7 190.32L592.7 190.13L594.7 189.96L596.7 189.81L598.7 189.68L600.7 189.59L602.7 189.53L604.7 189.5L606.7 189.51L608.7 189.55L610.7 189.63L612.7 189.74L614.7 189.89L616.7 190.06L618.7 190.27L620.7 190.5L622.7 190.76L624.7 191.04L626.7 191.35L628.7 191.69L630.7 192.06L632.7 192.45L634.7 192.88L636.7 193.33L638.7 193.81L640.7 194.31L642.7 194.85L644.7 195.41L646.7 196.01L648.7 196.63L650.7 197.28L652.7 197.95L654.7 198.66L656.7 199.39L658.7 200.15L660.7 200.94L662.7 201.75L664.7 202.59L666.7 203.45L668.7 204.34L670.7 205.26L672.7 206.2L674.7 207.17L676.7 208.16L678.7 209.17L680.7 210.22L682.7 211.28L684.7 212.38L686.7 213.5L688.7 214.65L690.7 215.82L692.7 217.02L694.7 218.25L696.7 219.51L698.7 220.79L700.7 222.11L702.7 223.45L704.7 224.83L706.7 226.24L708.7 227.69L710.7 229.17L712.7 230.69L714.7 232.25L716.7 233.86L718.7 235.5L720.7 237.2L722.7 238.94L724.7 240.72L726.7 242.56L728.7 244.44L730.7 246.37L732.7 248.34L734.7 250.36L736.7 252.43L738.7 254.54L740.7 256.68L742.7 258.84L744.7 261.02L746.7 263.21L748.7 265.42L750.7 267.63L752.7 269.85L754.7 272.06L756.7 274.28L758.7 276.49L760.7 278.69L762.7 280.87L764.7 283.04L766.7 285.2L768.7 287.35L770.7 289.5L772.7 291.65L774.7 293.8L776.7 295.96L778.7 298.14L780.7 300.34L782.7 302.55L784.7 304.8L786.7 307.08L788.7 309.39L790.7 311.75L792.7 314.15L794.7 316.6L796.7 319.11L798.7 321.67L800.7 324.28L802.7 326.93L804.7 329.62L806.7 332.34L808.7 335.08L810.7 337.84L812.7 340.61L814.7 343.39L816.7 346.16L818.7 348.93L820.7 351.69L822.7 354.43L824.7 357.14L826.7 359.82L828.7 362.47L830.7 365.07L832.7 367.64L834.7 370.17L836.7 372.68L838.7 375.17L840.7 377.65L842.7 380.13L844.7 382.6L846.7 385.08L848.7 387.57L850.7 390.09L852.7 392.63L854.7 395.2L856.7 397.82L858.7 400.47L860.7 403.18L862.7 405.95L864.7 408.78L866.7 411.67L868.7 414.6L870.7 417.59L872.7 420.62L874.7 423.69L876.7 426.8L878.7 429.94L880.7 433.11L882.7 436.3L884.7 439.52L886.7 442.76L888.7 446.01L890.7 449.27L892.7 452.53L894.7 455.8L896.7 459.07L898.7 462.33L900.7 465.59L902.7 468.85L904.7 472.09L906.7 475.33L908.7 478.56L910.7 481.78L912.7 484.99L914.7 488.18L916.7 491.36L918.7 494.52L920.7 497.66L922.7 500.79L924.7 503.89L926.7 506.97L928.7 510.03L930.7 513.06L932.7 516.07L934.7 519.06L936.7 522.03L938.7 524.98L940.7 527.91L942.7 530.82L944.7 533.72L946.7 536.6L948.7 539.47L950.7 542.32L952.7 545.17L954.7 548L956.7 550.82L958.7 553.63L960.7 556.44L962.7 559.24L964.7 562.03L966.7 564.82L968.7 567.6L970.7 570.39L972.7 573.17L974.7 575.95L976.7 578.73L978.7 581.51L980.7 584.3L982.7 587.09L984.7 589.88L986.7 592.68L988.7 595.49L990.7 598.3L992.7 601.13L994.7 603.96L996.7 606.8L998.7 609.66L1000.7 612.52L1002.7 615.4L1004.7 618.28L1006.7 621.17L1008.7 624.07L1010.7 626.98L1012.7 629.9L1014.7 632.82L1016.7 635.75L1018.7 638.69L1020.7 641.63L1022.7 644.58L1024.7 647.54L1026.7 650.5L1028.7 653.46L1030.7 656.43L1032.7 659.4L1034.7 662.36L1036.7 665.33L1038.7 668.28L1040.7 671.23L1042.7 674.16L1044.7 677.08L1046.7 679.98L1048.7 682.86L1050.7 685.72L1052.7 688.56L1054.7 691.37L1056.7 694.16L1058.7 696.91L1060.7 699.63L1062.7 702.31L1064.7 704.97L1066.7 707.6L1068.7 710.22L1070.7 712.81L1072.7 715.39L1074.7 717.96L1076.7 720.52L1078.7 723.08L1080.7 725.64L1082.7 728.2L1084.7 730.77L1086.7 733.35L1088.7 735.95L1090.7 738.56L1092.7 741.2L1094.7 743.85L1096.7 746.53L1098.7 749.2L1100.7 751.87L1102.7 754.53L1104.7 757.16L1106.7 759.76L1108.7 762.31L1110.7 764.82L1112.7 767.27L1114.7 769.66L1116.7 771.99L1118.7 774.25L1120.7 776.43L1122.7 778.57L1124.7 780.66L1126.7 782.75L1128.7 784.85L1130.7 786.98L1132.7 789.17L1134.7 791.43L1136.7 793.72L1138.7 796.02L1140.7 798.32L1142.7 800.57L1144.7 802.76L1146.7 804.87L1148.7 806.92L1150.7 808.91L1152.7 810.87L1154.7 812.8L1156.7 814.7L1158.7 816.61L1160.7 818.5L1162.7 820.4L1164.7 822.28L1166.7 824.16L1168.7 826.02L1170.7 827.88L1172.7 829.72L1174.7 831.56L1176.7 833.39L1178.7 835.21L1180.7 837.03L1182.7 838.85L1184.7 840.66L1186.7 842.47L1188.7 844.26L1190.7 846.02L1192.7 847.75L1194.7 849.44L1196.7 851.06L1198.7 852.63L1200.7 854.16L1202.7 855.65L1204.7 857.12L1206.7 858.57L1208.7 860.03L1210.7 861.49L1212.7 862.95L1214.7 864.4L1216.7 865.84L1218.7 867.24L1220.7 868.6L1222.7 869.91L1224.7 871.18L1226.7 872.4L1228.7 873.6L1230.7 874.8L1232.7 875.99L1234.7 877.19L1236.7 878.43L1238.7 879.68L1240.7 880.92L1242.7 882.16L1244.7 883.35L1246.7 884.49L1248.7 885.57L1250.7 886.56L1252.7 887.49L1254.7 888.37L1256.7 889.19L1258.7 889.99L1260.7 890.76L1262.7 891.52L1264.7 892.27L1266.7 893.01L1268.7 893.75L1270.7 894.48L1272.7 895.21L1274.7 895.93L1276.7 896.65L1278.7 897.37L1280.7 898.08L1282.7 898.77L1284.7 899.45L1286.7 900.11L1288.7 900.74L1290.7 901.33L1292.7 901.89L1294.7 902.41L1296.7 902.89L1298.7 903.34L1300.7 903.74L1302.7 904.11L1304.7 904.44L1306.7 904.73L1308.7 904.99L1310.7 905.21L1312.7 905.4L1314.7 905.55L1316.7 905.69L1318.7 905.8L1320.7 905.89L1322.7 905.96L1324.7 906.02L1326.7 906.06L1328.7 906.09L1330.7 906.1L1332.7 906.09L1334.7 906.05L1336.7 905.98L1338.7 905.88L1340.7 905.75L1342.7 905.58L1344.7 905.37L1346.7 905.13L1348.7 904.86L1350.7 904.56L1352.7 904.22L1354.7 903.85L1356.7 903.46L1358.7 903.04L1360.7 902.59L1362.7 902.11L1364.7 901.61L1366.7 901.09L1368.7 900.55L1370.7 899.98L1372.7 899.39L1374.7 898.79L1376.7 898.16L1378.7 897.52L1380.7 896.87L1382.7 896.2L1384.7 895.51L1386.7 894.82L1388.7 894.11L1390.4 893.5" stroke="#0000a8" stroke-width="1.2" fill="none"/>
<path d="M1497.2 891.8L1499.2 891.17L1501.2 890.5L1503.2 889.77L1505.2 889L1507.2 888.18L1509.2 887.31L1511.2 886.39L1513.2 885.43L1515.2 884.43L1517.2 883.38L1519.2 882.28L1521.2 881.14L1523.2 879.96L1525.2 878.74L1527.2 877.47L1529.2 876.17L1531.2 874.82L1533.2 873.43L1535.2 872.01L1537.2 870.55L1539.2 869.04L1541.2 867.51L1543.2 865.93L1545.2 864.32L1547.2 862.67L1549.2 860.99L1551.2 859.28L1553.2 857.54L1555.2 855.77L1557.2 853.98L1559.2 852.17L1561.2 850.34L1563.2 848.5L1565.2 846.64L1567.2 844.77L1569.2 842.89L1571.2 841.01L1573.2 839.13L1575.2 837.24L1577.2 835.36L1579.2 833.47L1581.2 831.58L1583.2 829.68L1585.2 827.79L1587.2 825.89L1589.2 823.99L1591.2 822.08L1593.2 820.17L1595.2 818.25L1597.2 816.33L1599.2 814.4L1601.2 812.47L1603.2 810.53L1605.2 808.58L1607.2 806.63L1609.2 804.66L1611.2 802.68L1613.2 800.69L1615.2 798.69L1617.2 796.68L1619.2 794.65L1621.2 792.61L1623.2 790.55L1625.2 788.48L1627.2 786.38L1629.2 784.27L1631.2 782.15L1633.2 780L1635.2 777.84L1637.2 775.66L1639.2 773.46L1641.2 771.24L1643.2 769.01L1645.2 766.77L1647.2 764.51L1649.2 762.23L1651.2 759.94L1653.2 757.63L1655.2 755.31L1657.2 752.97L1659.2 750.62L1661.2 748.26L1663.2 745.88L1665.2 743.48L1667.2 741.08L1669.2 738.66L1671.2 736.22L1673.2 733.78L1675.2 731.31L1677.2 728.84L1679.2 726.35L1681.2 723.85L1683.2 721.34L1685.2 718.8L1687.2 716.26L1689.2 713.69L1691.2 711.11L1693.2 708.51L1695.2 705.88L1697.2 703.24L1699.2 700.57L1701.2 697.88L1703.2 695.17L1705.2 692.42L1707.2 689.66L1709.2 686.87L1711.2 684.05L1713.2 681.21L1715.2 678.35L1717.2 675.47L1719.2 672.56L1721.2 669.64L1723.2 666.69L1725.2 663.73L1727.2 660.76L1729.2 657.76L1731.2 654.75L1733.2 651.73L1735.2 648.69L1737.2 645.64L1739.2 642.58L1741.2 639.51L1743.2 636.42L1745.2 633.33L1747.2 630.22L1749.2 627.1L1751.2 623.98L1753.2 620.85L1755.2 617.71L1757.2 614.56L1759.2 611.41L1761.2 608.25L1763.2 605.08L1765.2 601.91L1767.2 598.73L1769.2 595.54L1771.2 592.34L1773.2 589.14L1775.2 585.93L1777.2 582.71L1779.2 579.49L1781.2 576.25L1783.2 573.01L1785.2 569.76L1787.2 566.5L1789.2 563.23L1791.2 559.96L1793.2 556.67L1795.2 553.37L1797.2 550.07L1799.2 546.75L1801.2 543.43L1803.2 540.09L1805.2 536.75L1807.2 533.39L1809.2 530.03L1810.4 528" stroke="#0000a8" stroke-width="1.2" fill="none"/>
<path d="M740.45 247.61L748.42 256.16L739.65 264.35L731.68 255.79ZM751.84 259.94L759.67 268.61L750.76 276.65L742.93 267.98ZM762.97 272.29L770.87 280.91L762.03 289.02L754.13 280.4ZM774.32 284.57L782.27 293.14L773.48 301.31L765.53 292.74ZM785.74 296.9L793.47 305.67L784.46 313.61L776.73 304.84ZM796.9 309.73L804.18 318.87L794.8 326.35L787.52 317.2ZM807.37 323.12L814.3 332.54L804.63 339.64L797.7 330.22ZM817.2 336.59L824.03 346.08L814.3 353.09L807.47 343.61ZM826.92 350.08L833.9 359.45L824.28 366.62L817.3 357.25ZM836.85 363.24L844.14 372.38L834.75 379.87L827.46 370.73ZM847.31 376.27L854.64 385.37L845.29 392.9L837.96 383.79ZM857.84 389.4L864.91 398.71L855.36 405.97L848.29 396.66ZM868.03 403.01L874.66 412.64L864.77 419.45L858.14 409.82ZM877.53 417L883.86 426.83L873.77 433.32L867.44 423.49ZM886.57 431.15L892.73 441.09L882.53 447.41L876.37 437.47ZM895.37 445.39L901.47 455.37L891.23 461.63L885.13 451.66ZM904.1 459.67L910.22 469.63L900 475.91L893.88 465.95ZM912.8 473.81L918.98 483.73L908.8 490.08L902.62 480.15ZM921.62 487.94L927.9 497.8L917.78 504.25L911.5 494.38ZM930.56 501.92L936.97 511.69L926.94 518.28L920.53 508.51ZM939.73 515.81L946.3 525.49L936.37 532.23L929.8 522.56ZM949.08 529.52L955.76 539.11L945.92 545.98L939.24 536.39ZM958.61 543.15L965.38 552.68L955.59 559.62L948.82 550.09ZM968.32 556.78L975.13 566.28L965.38 573.28L958.57 563.78ZM978.06 570.34L984.88 579.83L975.14 586.84L968.32 577.35ZM987.79 583.88L994.58 593.39L984.81 600.36L978.02 590.85ZM997.5 597.5L1004.22 607.07L994.4 613.97L987.68 604.4ZM1007.11 611.21L1013.76 620.83L1003.89 627.66L997.24 618.04ZM1016.61 624.97L1023.2 634.63L1013.29 641.4L1006.7 631.74ZM1026.05 638.81L1032.59 648.5L1022.65 655.22L1016.11 645.54ZM1035.41 652.68L1041.94 662.37L1031.99 669.08L1025.46 659.39ZM1044.7 666.46L1051.3 676.11L1041.4 682.88L1034.8 673.23ZM1054.12 680.18L1060.87 689.73L1051.08 696.66L1044.33 687.12ZM1063.71 693.64L1070.71 703L1061.09 710.19L1054.09 700.82ZM1073.7 706.9L1080.87 716.13L1071.4 723.49L1064.23 714.26ZM1083.94 720.03L1091.13 729.25L1081.66 736.63L1074.47 727.41ZM1094.27 733.31L1101.31 742.65L1091.73 749.87L1084.69 740.54ZM1104.29 746.7L1111.87 756.69L1102.31 763.94L1094.73 753.95ZM1114.93 760.64L1123.34 770.58L1114.17 778.33L1105.76 768.39ZM1126.99 774.37L1135.99 783.78L1127.31 792.07L1118.31 782.66ZM1139.79 788.15L1148.35 797.97L1139.31 805.85L1130.75 796.04ZM1151.86 801.69L1161.2 810.76L1152.84 819.37L1143.5 810.3ZM1165.2 814.53L1174.7 823.43L1166.5 832.19L1157 823.28ZM1178.73 827.12L1188.25 835.79L1180.17 844.66L1170.65 836ZM1192.17 839.42L1201.41 847.28L1193.63 856.42L1184.39 848.56ZM1205.22 850.08L1214.43 856.77L1207.38 866.48L1198.17 859.79ZM1218.17 859.61L1227.31 865.87L1220.53 875.77L1211.39 869.51ZM1231.15 868.06L1240.52 873.68L1234.35 883.97L1224.98 878.36ZM1244.28 876.23L1253.64 881.53L1247.72 891.97L1238.36 886.67ZM1257.05 882.93L1266.85 886.7L1262.55 897.9L1252.75 894.13Z" fill="#0000ff"/>
<path d="M260.5 902.5h7M260.5 874.5h7M260.5 853.5h7M260.5 837.5h7M260.5 825.5h7M260.5 814.5h7M260.5 804.5h7M260.5 796.5h7M260.5 788.5h15M260.5 739.5h7M260.5 710.5h7M260.5 690.5h7M260.5 674.5h7M260.5 661.5h7M260.5 650.5h7M260.5 641.5h7M260.5 633.5h7M260.5 625.5h15M260.5 576.5h7M260.5 547.5h7M260.5 527.5h7M260.5 511.5h7M260.5 498.5h7M260.5 487.5h7M260.5 478.5h7M260.5 469.5h7M260.5 462.5h15M260.5 413.5h7M260.5 384.5h7M260.5 364.5h7M260.5 348.5h7M260.5 335.5h7M260.5 324.5h7M260.5 315.5h7M260.5 306.5h7M260.5 299.5h15M260.5 250.5h7M260.5 221.5h7M260.5 200.5h7M260.5 185.5h7M260.5 172.5h7M260.5 161.5h7M260.5 151.5h7M260.5 143.5h7M440.5 952.5v-15M620.5 952.5v-15M800.5 952.5v-15M980.5 952.5v-15M1161.5 952.5v-15M1343.5 952.5v-15M1628.5 952.5v-15" stroke="#000" stroke-width="1" fill="none" shape-rendering="crispEdges"/>
<path d="M260.5 135.5V952.5H1810.5" stroke="#000" stroke-width="1.2" fill="none" shape-rendering="crispEdges"/>
<path d="M260.5 135.5H1810.5V952.5M1810.5 911.5h-15M1810.5 829.5h-15M1810.5 748.5h-15M1810.5 666.5h-15M1810.5 584.5h-15M1810.5 503.5h-15M1810.5 421.5h-15M1810.5 339.5h-15M1810.5 258.5h-15M1810.5 176.5h-15" stroke="#0000a8" stroke-width="1.2" fill="none" shape-rendering="crispEdges"/>
<text x="210.2 226.2" y="960.9" font-size="27.78">10</text>
<text x="243" y="944.2" font-size="16.8">1</text>
<text x="210.2 226.2" y="797.7" font-size="27.78">10</text>
<text x="243" y="781" font-size="16.8">2</text>
<text x="210.2 226.2" y="634.5" font-size="27.78">10</text>
<text x="243" y="617.8" font-size="16.8">3</text>
<text x="210.2 226.2" y="471.3" font-size="27.78">10</text>
<text x="243" y="454.6" font-size="16.8">4</text>
<text x="210.2 226.2" y="308.1" font-size="27.78">10</text>
<text x="243" y="291.4" font-size="16.8">5</text>
<text x="210.2 226.2" y="144.9" font-size="27.78">10</text>
<text x="243" y="128.2" font-size="16.8">6</text>
<text x="1817.5 1833.5 1849.5" y="920.9" font-size="27.78" fill="#0000cc">400</text>
<text x="1817.5 1833.5 1849.5" y="839.2" font-size="27.78" fill="#0000cc">450</text>
<text x="1817.5 1833.5 1849.5" y="757.5" font-size="27.78" fill="#0000cc">500</text>
<text x="1817.5 1833.5 1849.5" y="675.8" font-size="27.78" fill="#0000cc">550</text>
<text x="1817.5 1833.5 1849.5" y="594.1" font-size="27.78" fill="#0000cc">600</text>
<text x="1817.5 1833.5 1849.5" y="512.4" font-size="27.78" fill="#0000cc">650</text>
<text x="1817.5 1833.5 1849.5" y="430.7" font-size="27.78" fill="#0000cc">700</text>
<text x="1817.5 1833.5 1849.5" y="349" font-size="27.78" fill="#0000cc">750</text>
<text x="1817.5 1833.5 1849.5" y="267.3" font-size="27.78" fill="#0000cc">800</text>
<text x="1817.5 1833.5 1849.5" y="185.6" font-size="27.78" fill="#0000cc">850</text>
<text x="746.3" y="113.8" font-size="27.78" letter-spacing="0.400" fill="#000" font-weight="bold">Day 134  14-May-2009 09:04:32   orbit 5829</text>
<g transform="translate(178.8 599.3) rotate(-90)"><text x="0" y="0" font-size="27.78">N<tspan font-size="21.5" dy="14">i</tspan><tspan dy="-14"> (cm</tspan><tspan font-size="21.5" dy="-12.3">-3</tspan><tspan dy="12.3">)</tspan></text></g>
<g transform="translate(1901.3 592) rotate(-90)"><text x="0" y="0" font-size="27.78" fill="#0000cc" textLength="92" lengthAdjust="spacing">alt (km)</text></g>
<text x="1501.2" y="843.8" font-size="27.78" letter-spacing="-0.317" fill="#0000cc">Eclipse</text>
<text x="1500.8" y="885" font-size="27.78" letter-spacing="0.024" fill="#000">One Minute Average</text>
<text x="1500.8" y="926.8" font-size="27.78" letter-spacing="0.082" fill="#10f010">One Second Average</text>
<path d="M1612 828.5h10.3v12.6h-10.3zM1626 828.5h10.3v12.6h-10.3zM1640 828.5h10.3v12.6h-10.3zM1654 828.5h10.3v12.6h-10.3zM1668 828.5h10.3v12.6h-10.3zM1682 828.5h10.3v12.6h-10.3zM1696 828.5h10.3v12.6h-10.3zM1710 828.5h10.3v12.6h-10.3zM1724 828.5h10.3v12.6h-10.3zM1738 828.5h10.3v12.6h-10.3zM1752 828.5h10.3v12.6h-10.3z" fill="#0000ff"/>
<path d="M265 975.5H1809.5M265 980.5H1809.5M265 984.5H1809.5M265 987.5H1809.5M265 990.5H1809.5M265 993.5H1809.5M265 995.5H1809.5M265 1011.5H1809.5M265 1020.5H1809.5M265 1026.5H1809.5M265 1031.5H1809.5M265 1035.5H1809.5M265 1038.5H1809.5M265 1041.5H1809.5M265 1044.5H1809.5M265 1046.5H1809.5M265 1062.5H1809.5M265 1071.5H1809.5M265 1077.5H1809.5M265 1082.5H1809.5M265 1086.5H1809.5M265 1089.5H1809.5M265 1092.5H1809.5M265 1095.5H1809.5M265 1097.5H1809.5M265 1113.5H1809.5M440.5 970.5V1121.5M620.5 970.5V1121.5M800.5 970.5V1121.5M980.5 970.5V1121.5M1161.5 970.5V1121.5M1343.5 970.5V1121.5M1628.5 970.5V1121.5" stroke="#000" stroke-width="1" stroke-dasharray="1 4" fill="none" shape-rendering="crispEdges"/>
<g shape-rendering="crispEdges"><rect x="732" y="969.5" width="659" height="152.5" fill="rgb(0,0,158)"/><rect x="1498" y="969.5" width="26" height="152.5" fill="rgb(0,0,158)"/><path d="M732 1044h1.5v3h-1.5zM732 1032h1.5v3h-1.5zM732 1020h1.5v3h-1.5zM732 1005h1.5v3h-1.5zM732 999h1.5v3h-1.5zM732 981h1.5v15h-1.5zM732 969.5h1.5v5.5h-1.5zM733.5 1071h1.5v5h-1.5zM733.5 1035h1.5v3h-1.5zM733.5 1017h1.5v3h-1.5zM733.5 978h1.5v6h-1.5zM733.5 969.5h1.5v5.5h-1.5zM736.5 969.5h1.5v5.5h-1.5zM738 1050h1.5v3h-1.5zM738 1032h1.5v6h-1.5zM738 1023h1.5v3h-1.5zM738 1011h1.5v3h-1.5zM738 1005h1.5v3h-1.5zM738 999h1.5v3h-1.5zM738 990h1.5v6h-1.5zM738 984h1.5v3h-1.5zM738 972h1.5v3h-1.5zM739.5 1008h1.5v3h-1.5zM739.5 969.5h1.5v2.5h-1.5zM744 1047h1.5v3h-1.5zM744 1038h1.5v3h-1.5zM744 1032h1.5v3h-1.5zM744 1017h1.5v6h-1.5zM744 1008h1.5v3h-1.5zM744 999h1.5v3h-1.5zM744 984h1.5v9h-1.5zM744 972h1.5v6h-1.5zM745.5 1062.5h1.5v8.5h-1.5zM745.5 1044h1.5v3h-1.5zM745.5 1023h1.5v15h-1.5zM745.5 1002h1.5v18h-1.5zM745.5 969.5h1.5v29.5h-1.5zM747 996h1.5v9h-1.5zM747 987h1.5v3h-1.5zM747 969.5h1.5v5.5h-1.5zM748.5 1035h1.5v3h-1.5zM748.5 1020h1.5v9h-1.5zM748.5 1008h1.5v9h-1.5zM748.5 984h1.5v18h-1.5zM748.5 969.5h1.5v11.5h-1.5zM751.5 1047h1.5v3h-1.5zM751.5 1041h1.5v3h-1.5zM751.5 1029h1.5v3h-1.5zM751.5 1014h1.5v12h-1.5zM751.5 1002h1.5v3h-1.5zM751.5 993h1.5v3h-1.5zM751.5 978h1.5v6h-1.5zM751.5 969.5h1.5v5.5h-1.5zM753 969.5h1.5v2.5h-1.5zM754.5 1041h1.5v3h-1.5zM756 1011h1.5v3h-1.5zM756 969.5h1.5v2.5h-1.5zM757.5 987h1.5v6h-1.5zM757.5 969.5h1.5v5.5h-1.5zM759 1032h1.5v3h-1.5zM759 969.5h1.5v5.5h-1.5zM760.5 969.5h1.5v2.5h-1.5zM762 1029h1.5v9h-1.5zM762 972h1.5v3h-1.5zM766.5 1002h1.5v3h-1.5zM766.5 972h1.5v3h-1.5zM768 1020h1.5v3h-1.5zM768 972h1.5v3h-1.5zM769.5 1038h1.5v3h-1.5zM769.5 1029h1.5v3h-1.5zM769.5 1014h1.5v3h-1.5zM769.5 999h1.5v3h-1.5zM769.5 993h1.5v3h-1.5zM769.5 978h1.5v3h-1.5zM769.5 969.5h1.5v2.5h-1.5zM771 1026h1.5v3h-1.5zM771 1020h1.5v3h-1.5zM771 1014h1.5v3h-1.5zM771 1005h1.5v3h-1.5zM771 993h1.5v9h-1.5zM771 969.5h1.5v2.5h-1.5zM774 984h1.5v3h-1.5zM774 969.5h1.5v2.5h-1.5zM775.5 1056h1.5v3h-1.5zM775.5 1044h1.5v3h-1.5zM775.5 999h1.5v3h-1.5zM775.5 984h1.5v3h-1.5zM775.5 969.5h1.5v5.5h-1.5zM777 969.5h1.5v2.5h-1.5zM778.5 1047h1.5v3h-1.5zM778.5 996h1.5v3h-1.5zM778.5 969.5h1.5v8.5h-1.5zM780 969.5h1.5v5.5h-1.5zM781.5 1008h1.5v3h-1.5zM783 1047h1.5v6h-1.5zM783 1008h1.5v36h-1.5zM783 969.5h1.5v35.5h-1.5zM784.5 1023h1.5v9h-1.5zM784.5 1014h1.5v6h-1.5zM784.5 1002h1.5v3h-1.5zM784.5 987h1.5v9h-1.5zM784.5 978h1.5v6h-1.5zM784.5 969.5h1.5v5.5h-1.5zM786 972h1.5v3h-1.5zM787.5 1071h1.5v5h-1.5zM787.5 1023h1.5v3h-1.5zM787.5 1005h1.5v9h-1.5zM787.5 999h1.5v3h-1.5zM787.5 993h1.5v3h-1.5zM787.5 969.5h1.5v17.5h-1.5zM789 1076h1.5v6h-1.5zM789 1032h1.5v3h-1.5zM789 987h1.5v3h-1.5zM789 972h1.5v3h-1.5zM790.5 1053h1.5v3h-1.5zM790.5 1047h1.5v3h-1.5zM790.5 1035h1.5v3h-1.5zM790.5 1029h1.5v3h-1.5zM790.5 1014h1.5v3h-1.5zM790.5 999h1.5v3h-1.5zM790.5 993h1.5v3h-1.5zM790.5 984h1.5v3h-1.5zM790.5 969.5h1.5v8.5h-1.5zM792 1014h1.5v3h-1.5zM792 990h1.5v3h-1.5zM792 969.5h1.5v2.5h-1.5zM793.5 1011h1.5v3h-1.5zM793.5 969.5h1.5v5.5h-1.5zM795 1050h1.5v3h-1.5zM795 1035h1.5v3h-1.5zM795 1020h1.5v12h-1.5zM795 996h1.5v18h-1.5zM795 984h1.5v9h-1.5zM795 978h1.5v3h-1.5zM795 969.5h1.5v5.5h-1.5zM798 1035h1.5v6h-1.5zM798 1023h1.5v3h-1.5zM798 1005h1.5v3h-1.5zM798 990h1.5v3h-1.5zM798 981h1.5v6h-1.5zM798 969.5h1.5v8.5h-1.5zM801 1029h1.5v6h-1.5zM801 1020h1.5v6h-1.5zM801 1008h1.5v3h-1.5zM801 1002h1.5v3h-1.5zM801 987h1.5v9h-1.5zM801 978h1.5v6h-1.5zM801 969.5h1.5v5.5h-1.5zM804 1050h1.5v3h-1.5zM804 1035h1.5v6h-1.5zM804 1026h1.5v6h-1.5zM804 1017h1.5v3h-1.5zM804 1005h1.5v6h-1.5zM804 993h1.5v9h-1.5zM804 984h1.5v6h-1.5zM804 969.5h1.5v11.5h-1.5zM805.5 1053h1.5v3h-1.5zM805.5 1026h1.5v3h-1.5zM805.5 1020h1.5v3h-1.5zM805.5 1011h1.5v6h-1.5zM805.5 999h1.5v6h-1.5zM805.5 984h1.5v3h-1.5zM805.5 969.5h1.5v8.5h-1.5zM807 1047h1.5v3h-1.5zM807 1035h1.5v3h-1.5zM807 1029h1.5v3h-1.5zM807 1020h1.5v3h-1.5zM807 1014h1.5v3h-1.5zM807 1005h1.5v3h-1.5zM807 999h1.5v3h-1.5zM807 978h1.5v15h-1.5zM807 969.5h1.5v5.5h-1.5zM810 969.5h1.5v2.5h-1.5zM811.5 1053h1.5v3h-1.5zM811.5 1026h1.5v3h-1.5zM811.5 999h1.5v9h-1.5zM811.5 993h1.5v3h-1.5zM811.5 972h1.5v3h-1.5zM816 1053h1.5v3h-1.5zM816 1038h1.5v6h-1.5zM816 1023h1.5v3h-1.5zM816 1011h1.5v3h-1.5zM816 999h1.5v3h-1.5zM816 993h1.5v3h-1.5zM816 981h1.5v3h-1.5zM816 969.5h1.5v5.5h-1.5zM817.5 1032h1.5v3h-1.5zM817.5 969.5h1.5v2.5h-1.5zM820.5 1008h1.5v3h-1.5zM820.5 981h1.5v3h-1.5zM820.5 972h1.5v6h-1.5zM822 972h1.5v3h-1.5zM823.5 969.5h1.5v2.5h-1.5zM825 996h1.5v3h-1.5zM825 984h1.5v3h-1.5zM825 969.5h1.5v5.5h-1.5zM826.5 969.5h1.5v5.5h-1.5zM828 1044h1.5v3h-1.5zM828 1032h1.5v3h-1.5zM828 1026h1.5v3h-1.5zM828 1020h1.5v3h-1.5zM828 1008h1.5v9h-1.5zM828 999h1.5v6h-1.5zM828 984h1.5v12h-1.5zM828 969.5h1.5v11.5h-1.5zM831 975h1.5v3h-1.5zM832.5 1038h1.5v3h-1.5zM832.5 969.5h1.5v5.5h-1.5zM837 1032h1.5v3h-1.5zM837 1020h1.5v3h-1.5zM837 1008h1.5v3h-1.5zM837 996h1.5v3h-1.5zM837 969.5h1.5v5.5h-1.5zM838.5 1008h1.5v3h-1.5zM840 1059h1.5v7.5h-1.5zM840 1044h1.5v3h-1.5zM840 1035h1.5v3h-1.5zM840 1017h1.5v3h-1.5zM840 1005h1.5v6h-1.5zM840 993h1.5v6h-1.5zM840 969.5h1.5v20.5h-1.5zM841.5 1026h1.5v3h-1.5zM841.5 1002h1.5v3h-1.5zM841.5 981h1.5v3h-1.5zM843 969.5h1.5v2.5h-1.5zM844.5 1059h1.5v3.5h-1.5zM844.5 1032h1.5v3h-1.5zM844.5 990h1.5v3h-1.5zM844.5 972h1.5v6h-1.5zM847.5 1035h1.5v3h-1.5zM847.5 1029h1.5v3h-1.5zM847.5 978h1.5v6h-1.5zM847.5 969.5h1.5v5.5h-1.5zM849 1035h1.5v3h-1.5zM849 1023h1.5v3h-1.5zM849 1017h1.5v3h-1.5zM849 1008h1.5v6h-1.5zM849 999h1.5v3h-1.5zM849 990h1.5v6h-1.5zM849 984h1.5v3h-1.5zM849 969.5h1.5v8.5h-1.5zM850.5 1020h1.5v6h-1.5zM850.5 1002h1.5v3h-1.5zM850.5 996h1.5v3h-1.5zM850.5 990h1.5v3h-1.5zM850.5 969.5h1.5v17.5h-1.5zM852 1011h1.5v3h-1.5zM852 969.5h1.5v5.5h-1.5zM853.5 1017h1.5v3h-1.5zM853.5 996h1.5v6h-1.5zM853.5 987h1.5v6h-1.5zM853.5 972h1.5v3h-1.5zM855 969.5h1.5v2.5h-1.5zM856.5 1038h1.5v3h-1.5zM856.5 972h1.5v3h-1.5zM858 975h1.5v3h-1.5zM858 969.5h1.5v2.5h-1.5zM859.5 1026h1.5v3h-1.5zM859.5 1017h1.5v6h-1.5zM859.5 1008h1.5v6h-1.5zM859.5 1002h1.5v3h-1.5zM859.5 996h1.5v3h-1.5zM859.5 981h1.5v9h-1.5zM859.5 969.5h1.5v5.5h-1.5zM862.5 993h1.5v3h-1.5zM862.5 969.5h1.5v11.5h-1.5zM865.5 1017h1.5v3h-1.5zM865.5 993h1.5v3h-1.5zM865.5 969.5h1.5v8.5h-1.5zM868.5 972h1.5v3h-1.5zM871.5 972h1.5v3h-1.5zM873 1023h1.5v6h-1.5zM873 1011h1.5v3h-1.5zM873 990h1.5v3h-1.5zM873 969.5h1.5v2.5h-1.5zM874.5 1032h1.5v6h-1.5zM874.5 1026h1.5v3h-1.5zM874.5 1005h1.5v3h-1.5zM874.5 990h1.5v6h-1.5zM874.5 981h1.5v3h-1.5zM874.5 969.5h1.5v5.5h-1.5zM876 1062.5h1.5v4h-1.5zM876 1035h1.5v3h-1.5zM876 1026h1.5v3h-1.5zM876 1017h1.5v3h-1.5zM876 993h1.5v6h-1.5zM876 969.5h1.5v2.5h-1.5zM880.5 987h1.5v3h-1.5zM883.5 999h1.5v3h-1.5zM883.5 969.5h1.5v2.5h-1.5zM885 1029h1.5v3h-1.5zM885 1014h1.5v3h-1.5zM885 1002h1.5v3h-1.5zM885 996h1.5v3h-1.5zM885 969.5h1.5v5.5h-1.5zM886.5 1029h1.5v3h-1.5zM886.5 1005h1.5v3h-1.5zM886.5 984h1.5v3h-1.5zM886.5 969.5h1.5v5.5h-1.5zM889.5 969.5h1.5v2.5h-1.5zM891 1020h1.5v21h-1.5zM891 1002h1.5v15h-1.5zM891 990h1.5v6h-1.5zM891 984h1.5v3h-1.5zM891 969.5h1.5v11.5h-1.5zM894 1029h1.5v3h-1.5zM894 993h1.5v3h-1.5zM894 987h1.5v3h-1.5zM894 981h1.5v3h-1.5zM894 969.5h1.5v2.5h-1.5zM895.5 1038h1.5v3h-1.5zM895.5 1032h1.5v3h-1.5zM895.5 1026h1.5v3h-1.5zM895.5 999h1.5v3h-1.5zM895.5 993h1.5v3h-1.5zM895.5 969.5h1.5v5.5h-1.5zM897 1023h1.5v3h-1.5zM897 1017h1.5v3h-1.5zM897 969.5h1.5v5.5h-1.5zM898.5 1035h1.5v9h-1.5zM898.5 1005h1.5v24h-1.5zM898.5 969.5h1.5v32.5h-1.5zM900 1026h1.5v6h-1.5zM900 1011h1.5v3h-1.5zM900 1002h1.5v3h-1.5zM900 969.5h1.5v8.5h-1.5zM901.5 1053h1.5v3h-1.5zM901.5 1029h1.5v3h-1.5zM901.5 1023h1.5v3h-1.5zM901.5 1017h1.5v3h-1.5zM901.5 1008h1.5v3h-1.5zM901.5 996h1.5v6h-1.5zM901.5 969.5h1.5v20.5h-1.5zM903 999h1.5v3h-1.5zM903 984h1.5v3h-1.5zM903 969.5h1.5v8.5h-1.5zM906 1008h1.5v6h-1.5zM906 1002h1.5v3h-1.5zM906 981h1.5v6h-1.5zM906 969.5h1.5v8.5h-1.5zM907.5 1023h1.5v3h-1.5zM907.5 1014h1.5v6h-1.5zM907.5 1005h1.5v6h-1.5zM907.5 993h1.5v6h-1.5zM907.5 984h1.5v6h-1.5zM907.5 978h1.5v3h-1.5zM907.5 969.5h1.5v5.5h-1.5zM912 1026h1.5v3h-1.5zM912 969.5h1.5v2.5h-1.5zM913.5 1014h1.5v3h-1.5zM913.5 1008h1.5v3h-1.5zM913.5 999h1.5v3h-1.5zM915 1032h1.5v3h-1.5zM915 1008h1.5v3h-1.5zM915 993h1.5v3h-1.5zM915 981h1.5v3h-1.5zM915 969.5h1.5v5.5h-1.5zM916.5 996h1.5v3h-1.5zM916.5 969.5h1.5v2.5h-1.5zM918 1056h1.5v3h-1.5zM918 1035h1.5v3h-1.5zM918 1020h1.5v3h-1.5zM918 990h1.5v3h-1.5zM918 969.5h1.5v5.5h-1.5zM919.5 1023h1.5v6h-1.5zM919.5 1008h1.5v3h-1.5zM919.5 978h1.5v3h-1.5zM919.5 969.5h1.5v5.5h-1.5zM921 1044h1.5v3h-1.5zM921 1032h1.5v3h-1.5zM921 1002h1.5v6h-1.5zM921 969.5h1.5v5.5h-1.5zM925.5 1047h1.5v3h-1.5zM925.5 1035h1.5v3h-1.5zM925.5 1026h1.5v6h-1.5zM925.5 1017h1.5v3h-1.5zM925.5 1005h1.5v3h-1.5zM925.5 996h1.5v6h-1.5zM925.5 978h1.5v9h-1.5zM925.5 969.5h1.5v2.5h-1.5zM927 990h1.5v3h-1.5zM930 987h1.5v3h-1.5zM930 972h1.5v3h-1.5zM931.5 1029h1.5v3h-1.5zM931.5 1020h1.5v3h-1.5zM931.5 996h1.5v3h-1.5zM931.5 969.5h1.5v23.5h-1.5zM933 1026h1.5v3h-1.5zM934.5 1050h1.5v3h-1.5zM934.5 1041h1.5v3h-1.5zM934.5 1020h1.5v3h-1.5zM934.5 1008h1.5v3h-1.5zM934.5 993h1.5v6h-1.5zM934.5 978h1.5v9h-1.5zM934.5 969.5h1.5v5.5h-1.5zM936 1056h1.5v3h-1.5zM936 1035h1.5v3h-1.5zM936 1023h1.5v3h-1.5zM936 1011h1.5v3h-1.5zM936 996h1.5v9h-1.5zM936 981h1.5v12h-1.5zM936 969.5h1.5v2.5h-1.5zM937.5 1047h1.5v3h-1.5zM937.5 1035h1.5v3h-1.5zM937.5 1026h1.5v3h-1.5zM937.5 1020h1.5v3h-1.5zM937.5 1002h1.5v12h-1.5zM937.5 969.5h1.5v29.5h-1.5zM939 984h1.5v3h-1.5zM939 969.5h1.5v2.5h-1.5zM942 987h1.5v3h-1.5zM942 969.5h1.5v5.5h-1.5zM946.5 1020h1.5v3h-1.5zM948 972h1.5v3h-1.5zM952.5 1020h1.5v6h-1.5zM952.5 1005h1.5v3h-1.5zM952.5 969.5h1.5v5.5h-1.5zM958.5 972h1.5v3h-1.5zM960 1026h1.5v3h-1.5zM960 969.5h1.5v2.5h-1.5zM961.5 1038h1.5v3h-1.5zM961.5 1020h1.5v3h-1.5zM961.5 1014h1.5v3h-1.5zM961.5 990h1.5v15h-1.5zM961.5 972h1.5v3h-1.5zM963 1032h1.5v3h-1.5zM963 1017h1.5v3h-1.5zM963 996h1.5v6h-1.5zM963 990h1.5v3h-1.5zM963 972h1.5v3h-1.5zM964.5 1032h1.5v3h-1.5zM964.5 987h1.5v6h-1.5zM964.5 972h1.5v3h-1.5zM969 1026h1.5v3h-1.5zM969 1005h1.5v3h-1.5zM969 996h1.5v3h-1.5zM969 969.5h1.5v11.5h-1.5zM970.5 1053h1.5v3h-1.5zM970.5 1002h1.5v3h-1.5zM970.5 981h1.5v6h-1.5zM970.5 972h1.5v3h-1.5zM972 1026h1.5v3h-1.5zM972 1005h1.5v6h-1.5zM972 993h1.5v3h-1.5zM972 969.5h1.5v5.5h-1.5zM973.5 1029h1.5v3h-1.5zM973.5 1011h1.5v3h-1.5zM975 1038h1.5v3h-1.5zM975 1032h1.5v3h-1.5zM975 1014h1.5v3h-1.5zM975 969.5h1.5v5.5h-1.5zM978 972h1.5v3h-1.5zM979.5 1035h1.5v3h-1.5zM979.5 972h1.5v3h-1.5zM982.5 1002h1.5v3h-1.5zM982.5 969.5h1.5v17.5h-1.5zM984 1002h1.5v3h-1.5zM987 1059h1.5v3.5h-1.5zM987 1017h1.5v3h-1.5zM987 1008h1.5v3h-1.5zM987 993h1.5v3h-1.5zM987 987h1.5v3h-1.5zM987 969.5h1.5v8.5h-1.5zM988.5 972h1.5v3h-1.5zM991.5 1023h1.5v3h-1.5zM991.5 1017h1.5v3h-1.5zM991.5 987h1.5v6h-1.5zM991.5 975h1.5v3h-1.5zM991.5 969.5h1.5v2.5h-1.5zM993 969.5h1.5v2.5h-1.5zM994.5 1023h1.5v6h-1.5zM994.5 1017h1.5v3h-1.5zM994.5 996h1.5v15h-1.5zM994.5 984h1.5v6h-1.5zM994.5 969.5h1.5v8.5h-1.5zM996 999h1.5v3h-1.5zM997.5 969.5h1.5v2.5h-1.5zM1000.5 1017h1.5v6h-1.5zM1000.5 1005h1.5v9h-1.5zM1000.5 999h1.5v3h-1.5zM1000.5 969.5h1.5v8.5h-1.5zM1003.5 1002h1.5v3h-1.5zM1005 984h1.5v6h-1.5zM1005 969.5h1.5v5.5h-1.5zM1006.5 1020h1.5v3h-1.5zM1006.5 1014h1.5v3h-1.5zM1006.5 1005h1.5v3h-1.5zM1006.5 993h1.5v3h-1.5zM1006.5 984h1.5v3h-1.5zM1006.5 969.5h1.5v5.5h-1.5zM1008 978h1.5v3h-1.5zM1008 972h1.5v3h-1.5zM1009.5 1032h1.5v3h-1.5zM1009.5 972h1.5v3h-1.5zM1012.5 1053h1.5v3h-1.5zM1012.5 1023h1.5v9h-1.5zM1012.5 1005h1.5v9h-1.5zM1012.5 999h1.5v3h-1.5zM1012.5 993h1.5v3h-1.5zM1012.5 969.5h1.5v20.5h-1.5zM1014 969.5h1.5v2.5h-1.5zM1015.5 1029h1.5v6h-1.5zM1015.5 1014h1.5v3h-1.5zM1015.5 1005h1.5v3h-1.5zM1015.5 969.5h1.5v32.5h-1.5zM1020 987h1.5v3h-1.5zM1020 969.5h1.5v5.5h-1.5zM1021.5 1014h1.5v3h-1.5zM1021.5 999h1.5v3h-1.5zM1021.5 990h1.5v3h-1.5zM1021.5 969.5h1.5v8.5h-1.5zM1026 969.5h1.5v5.5h-1.5zM1027.5 990h1.5v6h-1.5zM1027.5 969.5h1.5v5.5h-1.5zM1030.5 969.5h1.5v2.5h-1.5zM1033.5 969.5h1.5v2.5h-1.5zM1035 969.5h1.5v5.5h-1.5zM1036.5 978h1.5v3h-1.5zM1036.5 969.5h1.5v2.5h-1.5zM1039.5 969.5h1.5v2.5h-1.5zM1047 972h1.5v3h-1.5zM1053 1011h1.5v3h-1.5zM1053 993h1.5v3h-1.5zM1053 975h1.5v3h-1.5zM1054.5 972h1.5v3h-1.5zM1056 993h1.5v3h-1.5zM1056 978h1.5v9h-1.5zM1056 969.5h1.5v5.5h-1.5zM1057.5 1035h1.5v3h-1.5zM1057.5 1002h1.5v3h-1.5zM1057.5 993h1.5v3h-1.5zM1057.5 987h1.5v3h-1.5zM1057.5 969.5h1.5v11.5h-1.5zM1060.5 993h1.5v3h-1.5zM1060.5 969.5h1.5v5.5h-1.5zM1062 1020h1.5v3h-1.5zM1062 1014h1.5v3h-1.5zM1062 1002h1.5v6h-1.5zM1062 993h1.5v3h-1.5zM1062 987h1.5v3h-1.5zM1062 978h1.5v6h-1.5zM1062 969.5h1.5v5.5h-1.5zM1065 1011h1.5v3h-1.5zM1065 969.5h1.5v5.5h-1.5zM1066.5 1032h1.5v3h-1.5zM1066.5 1005h1.5v3h-1.5zM1066.5 999h1.5v3h-1.5zM1066.5 984h1.5v6h-1.5zM1066.5 969.5h1.5v5.5h-1.5zM1068 999h1.5v3h-1.5zM1068 987h1.5v3h-1.5zM1068 978h1.5v3h-1.5zM1068 969.5h1.5v5.5h-1.5zM1072.5 1026h1.5v3h-1.5zM1072.5 1014h1.5v3h-1.5zM1072.5 1005h1.5v3h-1.5zM1074 972h1.5v3h-1.5zM1078.5 972h1.5v3h-1.5zM1080 969.5h1.5v2.5h-1.5zM1083 1026h1.5v3h-1.5zM1083 1020h1.5v3h-1.5zM1083 984h1.5v6h-1.5zM1083 969.5h1.5v8.5h-1.5zM1084.5 1017h1.5v3h-1.5zM1084.5 996h1.5v3h-1.5zM1084.5 984h1.5v3h-1.5zM1084.5 978h1.5v3h-1.5zM1084.5 969.5h1.5v5.5h-1.5zM1087.5 1008h1.5v3h-1.5zM1087.5 969.5h1.5v5.5h-1.5zM1089 969.5h1.5v2.5h-1.5zM1090.5 990h1.5v6h-1.5zM1090.5 981h1.5v6h-1.5zM1090.5 969.5h1.5v8.5h-1.5zM1098 990h1.5v3h-1.5zM1098 981h1.5v3h-1.5zM1098 969.5h1.5v5.5h-1.5zM1101 1029h1.5v3h-1.5zM1101 978h1.5v3h-1.5zM1101 969.5h1.5v5.5h-1.5zM1102.5 1002h1.5v6h-1.5zM1102.5 993h1.5v3h-1.5zM1102.5 987h1.5v3h-1.5zM1102.5 969.5h1.5v5.5h-1.5zM1104 1026h1.5v3h-1.5zM1104 969.5h1.5v2.5h-1.5zM1105.5 1011h1.5v9h-1.5zM1105.5 984h1.5v3h-1.5zM1105.5 975h1.5v3h-1.5zM1105.5 969.5h1.5v2.5h-1.5zM1107 1011h1.5v3h-1.5zM1108.5 1038h1.5v3h-1.5zM1108.5 1014h1.5v3h-1.5zM1108.5 972h1.5v3h-1.5zM1110 1020h1.5v3h-1.5zM1110 1005h1.5v3h-1.5zM1110 978h1.5v3h-1.5zM1110 969.5h1.5v5.5h-1.5zM1111.5 972h1.5v3h-1.5zM1113 1038h1.5v3h-1.5zM1113 990h1.5v3h-1.5zM1113 969.5h1.5v5.5h-1.5zM1114.5 1011h1.5v3h-1.5zM1114.5 1002h1.5v3h-1.5zM1114.5 978h1.5v3h-1.5zM1114.5 969.5h1.5v2.5h-1.5zM1117.5 969.5h1.5v2.5h-1.5zM1119 1038h1.5v3h-1.5zM1119 1026h1.5v3h-1.5zM1119 1011h1.5v3h-1.5zM1119 987h1.5v12h-1.5zM1119 978h1.5v6h-1.5zM1119 969.5h1.5v5.5h-1.5zM1120.5 984h1.5v3h-1.5zM1120.5 969.5h1.5v2.5h-1.5zM1122 1029h1.5v6h-1.5zM1122 987h1.5v6h-1.5zM1122 978h1.5v6h-1.5zM1122 969.5h1.5v5.5h-1.5zM1123.5 1038h1.5v3h-1.5zM1123.5 1032h1.5v3h-1.5zM1123.5 1005h1.5v3h-1.5zM1123.5 969.5h1.5v23.5h-1.5zM1129.5 969.5h1.5v8.5h-1.5zM1132.5 972h1.5v3h-1.5zM1138.5 972h1.5v3h-1.5zM1140 969.5h1.5v8.5h-1.5zM1141.5 972h1.5v3h-1.5zM1143 972h1.5v3h-1.5zM1146 969.5h1.5v2.5h-1.5zM1150.5 969.5h1.5v2.5h-1.5zM1152 1002h1.5v3h-1.5zM1152 990h1.5v3h-1.5zM1152 969.5h1.5v5.5h-1.5zM1158 1008h1.5v3h-1.5zM1158 978h1.5v15h-1.5zM1158 969.5h1.5v5.5h-1.5zM1164 1038h1.5v3h-1.5zM1164 1008h1.5v9h-1.5zM1164 999h1.5v3h-1.5zM1164 969.5h1.5v8.5h-1.5zM1167 1014h1.5v3h-1.5zM1167 1008h1.5v3h-1.5zM1167 984h1.5v3h-1.5zM1167 969.5h1.5v5.5h-1.5zM1173 969.5h1.5v2.5h-1.5zM1174.5 969.5h1.5v47.5h-1.5zM1176 1005h1.5v3h-1.5zM1176 990h1.5v3h-1.5zM1176 984h1.5v3h-1.5zM1176 969.5h1.5v11.5h-1.5zM1177.5 1035h1.5v3h-1.5zM1177.5 1005h1.5v3h-1.5zM1177.5 969.5h1.5v5.5h-1.5zM1179 1020h1.5v3h-1.5zM1179 1011h1.5v3h-1.5zM1179 981h1.5v3h-1.5zM1179 969.5h1.5v5.5h-1.5zM1182 1029h1.5v3h-1.5zM1182 993h1.5v3h-1.5zM1182 969.5h1.5v8.5h-1.5zM1183.5 1050h1.5v3h-1.5zM1183.5 1035h1.5v6h-1.5zM1183.5 1026h1.5v6h-1.5zM1183.5 1011h1.5v9h-1.5zM1183.5 996h1.5v12h-1.5zM1183.5 987h1.5v6h-1.5zM1183.5 978h1.5v6h-1.5zM1183.5 969.5h1.5v5.5h-1.5zM1185 1020h1.5v3h-1.5zM1185 999h1.5v6h-1.5zM1185 993h1.5v3h-1.5zM1185 987h1.5v3h-1.5zM1185 978h1.5v6h-1.5zM1185 969.5h1.5v5.5h-1.5zM1186.5 1029h1.5v6h-1.5zM1186.5 1005h1.5v3h-1.5zM1186.5 972h1.5v3h-1.5zM1188 1032h1.5v3h-1.5zM1188 972h1.5v3h-1.5zM1189.5 1011h1.5v3h-1.5zM1189.5 1005h1.5v3h-1.5zM1189.5 969.5h1.5v5.5h-1.5zM1195.5 972h1.5v3h-1.5zM1197 1026h1.5v3h-1.5zM1197 1011h1.5v3h-1.5zM1197 1002h1.5v3h-1.5zM1197 969.5h1.5v2.5h-1.5zM1198.5 1014h1.5v3h-1.5zM1198.5 969.5h1.5v11.5h-1.5zM1200 999h1.5v3h-1.5zM1200 969.5h1.5v2.5h-1.5zM1203 1032h1.5v3h-1.5zM1203 1014h1.5v3h-1.5zM1203 996h1.5v9h-1.5zM1203 978h1.5v3h-1.5zM1203 969.5h1.5v5.5h-1.5zM1204.5 1029h1.5v3h-1.5zM1204.5 1002h1.5v3h-1.5zM1204.5 996h1.5v3h-1.5zM1204.5 981h1.5v3h-1.5zM1204.5 969.5h1.5v2.5h-1.5zM1206 972h1.5v3h-1.5zM1207.5 1020h1.5v3h-1.5zM1207.5 987h1.5v3h-1.5zM1207.5 972h1.5v3h-1.5zM1210.5 1062.5h1.5v4h-1.5zM1210.5 1020h1.5v3h-1.5zM1210.5 996h1.5v3h-1.5zM1210.5 969.5h1.5v5.5h-1.5zM1212 1023h1.5v3h-1.5zM1212 972h1.5v3h-1.5zM1213.5 1035h1.5v3h-1.5zM1213.5 978h1.5v3h-1.5zM1215 1044h1.5v3h-1.5zM1215 1026h1.5v3h-1.5zM1215 969.5h1.5v8.5h-1.5zM1224 969.5h1.5v2.5h-1.5zM1228.5 1029h1.5v3h-1.5zM1228.5 1023h1.5v3h-1.5zM1228.5 1017h1.5v3h-1.5zM1228.5 1005h1.5v3h-1.5zM1228.5 990h1.5v3h-1.5zM1228.5 978h1.5v3h-1.5zM1228.5 969.5h1.5v5.5h-1.5zM1230 1038h1.5v3h-1.5zM1230 1032h1.5v3h-1.5zM1230 1002h1.5v3h-1.5zM1230 972h1.5v3h-1.5zM1231.5 1038h1.5v3h-1.5zM1231.5 1026h1.5v6h-1.5zM1231.5 1008h1.5v3h-1.5zM1231.5 996h1.5v3h-1.5zM1231.5 987h1.5v6h-1.5zM1231.5 978h1.5v3h-1.5zM1231.5 969.5h1.5v5.5h-1.5zM1234.5 1035h1.5v3h-1.5zM1234.5 1020h1.5v6h-1.5zM1234.5 1002h1.5v3h-1.5zM1234.5 969.5h1.5v26.5h-1.5zM1236 1023h1.5v3h-1.5zM1237.5 1032h1.5v9h-1.5zM1237.5 1026h1.5v3h-1.5zM1237.5 1011h1.5v9h-1.5zM1237.5 1002h1.5v6h-1.5zM1237.5 990h1.5v9h-1.5zM1237.5 969.5h1.5v17.5h-1.5zM1239 1029h1.5v3h-1.5zM1239 1020h1.5v6h-1.5zM1239 1008h1.5v3h-1.5zM1239 1002h1.5v3h-1.5zM1239 987h1.5v6h-1.5zM1239 981h1.5v3h-1.5zM1239 969.5h1.5v5.5h-1.5zM1240.5 1023h1.5v3h-1.5zM1240.5 1014h1.5v3h-1.5zM1240.5 1002h1.5v3h-1.5zM1240.5 996h1.5v3h-1.5zM1240.5 987h1.5v6h-1.5zM1240.5 969.5h1.5v5.5h-1.5zM1242 1011h1.5v6h-1.5zM1242 993h1.5v3h-1.5zM1243.5 1020h1.5v12h-1.5zM1243.5 1002h1.5v12h-1.5zM1243.5 996h1.5v3h-1.5zM1243.5 984h1.5v9h-1.5zM1243.5 969.5h1.5v5.5h-1.5zM1246.5 1005h1.5v3h-1.5zM1246.5 972h1.5v3h-1.5zM1248 972h1.5v3h-1.5zM1249.5 1020h1.5v3h-1.5zM1249.5 1005h1.5v3h-1.5zM1249.5 996h1.5v3h-1.5zM1249.5 990h1.5v3h-1.5zM1249.5 972h1.5v3h-1.5zM1251 981h1.5v3h-1.5zM1251 972h1.5v3h-1.5zM1252.5 1023h1.5v3h-1.5zM1252.5 1014h1.5v3h-1.5zM1252.5 1005h1.5v6h-1.5zM1252.5 990h1.5v6h-1.5zM1252.5 981h1.5v6h-1.5zM1252.5 969.5h1.5v8.5h-1.5zM1254 1023h1.5v3h-1.5zM1254 1011h1.5v3h-1.5zM1254 999h1.5v3h-1.5zM1254 993h1.5v3h-1.5zM1254 987h1.5v3h-1.5zM1254 969.5h1.5v5.5h-1.5zM1255.5 1032h1.5v3h-1.5zM1255.5 1008h1.5v6h-1.5zM1255.5 990h1.5v6h-1.5zM1255.5 978h1.5v6h-1.5zM1255.5 969.5h1.5v2.5h-1.5zM1257 1032h1.5v3h-1.5zM1257 1014h1.5v3h-1.5zM1257 1008h1.5v3h-1.5zM1257 999h1.5v3h-1.5zM1257 987h1.5v3h-1.5zM1257 969.5h1.5v14.5h-1.5zM1258.5 1008h1.5v3h-1.5zM1258.5 990h1.5v3h-1.5zM1258.5 969.5h1.5v5.5h-1.5zM1260 969.5h1.5v2.5h-1.5zM1263 969.5h1.5v5.5h-1.5zM1264.5 969.5h1.5v5.5h-1.5zM1266 990h1.5v3h-1.5zM1266 969.5h1.5v5.5h-1.5zM1267.5 1005h1.5v3h-1.5zM1269 969.5h1.5v2.5h-1.5zM1273.5 969.5h1.5v5.5h-1.5zM1279.5 1029h1.5v9h-1.5zM1279.5 1011h1.5v12h-1.5zM1279.5 969.5h1.5v29.5h-1.5zM1285.5 969.5h1.5v5.5h-1.5zM1287 1038h1.5v3h-1.5zM1287 1008h1.5v3h-1.5zM1287 999h1.5v3h-1.5zM1287 969.5h1.5v5.5h-1.5zM1290 1005h1.5v3h-1.5zM1290 993h1.5v3h-1.5zM1290 969.5h1.5v5.5h-1.5zM1293 972h1.5v3h-1.5zM1294.5 1035h1.5v3h-1.5zM1294.5 1020h1.5v3h-1.5zM1294.5 1014h1.5v3h-1.5zM1294.5 1005h1.5v6h-1.5zM1294.5 987h1.5v3h-1.5zM1294.5 969.5h1.5v5.5h-1.5zM1296 1023h1.5v3h-1.5zM1296 1008h1.5v3h-1.5zM1296 1002h1.5v3h-1.5zM1296 993h1.5v3h-1.5zM1296 987h1.5v3h-1.5zM1296 981h1.5v3h-1.5zM1296 969.5h1.5v5.5h-1.5zM1300.5 972h1.5v3h-1.5zM1302 1008h1.5v3h-1.5zM1302 969.5h1.5v5.5h-1.5zM1303.5 990h1.5v3h-1.5zM1303.5 981h1.5v3h-1.5zM1303.5 969.5h1.5v5.5h-1.5zM1305 1038h1.5v3h-1.5zM1305 975h1.5v3h-1.5zM1305 969.5h1.5v2.5h-1.5zM1308 1011h1.5v3h-1.5zM1308 972h1.5v3h-1.5zM1317 1020h1.5v3h-1.5zM1317 972h1.5v3h-1.5zM1318.5 1038h1.5v3h-1.5zM1318.5 1029h1.5v3h-1.5zM1318.5 1005h1.5v12h-1.5zM1318.5 999h1.5v3h-1.5zM1318.5 987h1.5v3h-1.5zM1318.5 969.5h1.5v8.5h-1.5zM1320 969.5h1.5v5.5h-1.5zM1324.5 1035h1.5v3h-1.5zM1324.5 1026h1.5v3h-1.5zM1324.5 1020h1.5v3h-1.5zM1324.5 978h1.5v6h-1.5zM1324.5 969.5h1.5v5.5h-1.5zM1326 1026h1.5v3h-1.5zM1326 987h1.5v3h-1.5zM1326 969.5h1.5v5.5h-1.5zM1327.5 972h1.5v3h-1.5zM1329 1026h1.5v3h-1.5zM1329 1005h1.5v3h-1.5zM1329 996h1.5v6h-1.5zM1329 981h1.5v3h-1.5zM1329 972h1.5v3h-1.5zM1332 969.5h1.5v2.5h-1.5zM1333.5 1038h1.5v3h-1.5zM1333.5 978h1.5v3h-1.5zM1333.5 969.5h1.5v5.5h-1.5zM1335 984h1.5v3h-1.5zM1335 969.5h1.5v5.5h-1.5zM1336.5 999h1.5v3h-1.5zM1336.5 972h1.5v3h-1.5zM1338 1035h1.5v3h-1.5zM1338 981h1.5v6h-1.5zM1338 969.5h1.5v8.5h-1.5zM1342.5 1026h1.5v3h-1.5zM1342.5 993h1.5v3h-1.5zM1342.5 972h1.5v6h-1.5zM1344 972h1.5v3h-1.5zM1350 1035h1.5v3h-1.5zM1350 1017h1.5v3h-1.5zM1350 1008h1.5v3h-1.5zM1350 999h1.5v6h-1.5zM1350 987h1.5v6h-1.5zM1350 969.5h1.5v8.5h-1.5zM1351.5 1008h1.5v3h-1.5zM1351.5 993h1.5v3h-1.5zM1351.5 969.5h1.5v5.5h-1.5zM1353 969.5h1.5v5.5h-1.5zM1356 1026h1.5v3h-1.5zM1356 969.5h1.5v2.5h-1.5zM1357.5 990h1.5v3h-1.5zM1357.5 969.5h1.5v5.5h-1.5zM1362 1038h1.5v3h-1.5zM1362 1026h1.5v3h-1.5zM1362 1011h1.5v9h-1.5zM1362 987h1.5v3h-1.5zM1362 969.5h1.5v8.5h-1.5zM1365 1029h1.5v3h-1.5zM1365 1023h1.5v3h-1.5zM1365 996h1.5v3h-1.5zM1365 969.5h1.5v8.5h-1.5zM1366.5 978h1.5v3h-1.5zM1366.5 969.5h1.5v2.5h-1.5zM1369.5 1017h1.5v3h-1.5zM1369.5 969.5h1.5v2.5h-1.5zM1371 1026h1.5v3h-1.5zM1371 993h1.5v3h-1.5zM1371 978h1.5v3h-1.5zM1371 969.5h1.5v5.5h-1.5zM1372.5 1011h1.5v3h-1.5zM1372.5 969.5h1.5v2.5h-1.5zM1375.5 1050h1.5v3h-1.5zM1375.5 1041h1.5v3h-1.5zM1375.5 1035h1.5v3h-1.5zM1375.5 1029h1.5v3h-1.5zM1375.5 1020h1.5v3h-1.5zM1375.5 1011h1.5v6h-1.5zM1375.5 969.5h1.5v38.5h-1.5zM1377 993h1.5v3h-1.5zM1377 972h1.5v6h-1.5zM1378.5 1032h1.5v3h-1.5zM1378.5 1008h1.5v3h-1.5zM1378.5 969.5h1.5v8.5h-1.5zM1381.5 1017h1.5v3h-1.5zM1381.5 1002h1.5v3h-1.5zM1381.5 996h1.5v3h-1.5zM1381.5 972h1.5v6h-1.5zM1383 969.5h1.5v5.5h-1.5zM1384.5 990h1.5v3h-1.5zM1384.5 981h1.5v6h-1.5zM1384.5 972h1.5v3h-1.5zM1386 1011h1.5v3h-1.5zM1386 972h1.5v3h-1.5zM1387.5 1026h1.5v12h-1.5zM1387.5 1008h1.5v12h-1.5zM1387.5 969.5h1.5v35.5h-1.5zM1389 969.5h1.5v2.5h-1.5zM1390.5 1032h0.5v3h-0.5zM1390.5 1023h0.5v3h-0.5zM1390.5 969.5h0.5v2.5h-0.5zM1499.5 969.5h1.5v5.5h-1.5zM1501 1032h1.5v3h-1.5zM1504 972h1.5v3h-1.5zM1507 1020h1.5v6h-1.5zM1507 1014h1.5v3h-1.5zM1507 1008h1.5v3h-1.5zM1507 996h1.5v3h-1.5zM1507 969.5h1.5v5.5h-1.5zM1508.5 969.5h1.5v2.5h-1.5zM1510 972h1.5v3h-1.5zM1511.5 1044h1.5v3h-1.5zM1511.5 1038h1.5v3h-1.5zM1511.5 1008h1.5v9h-1.5zM1511.5 984h1.5v18h-1.5zM1511.5 969.5h1.5v11.5h-1.5zM1513 1029h1.5v3h-1.5zM1513 999h1.5v6h-1.5zM1513 990h1.5v3h-1.5zM1513 972h1.5v3h-1.5zM1514.5 981h1.5v3h-1.5zM1516 996h1.5v3h-1.5zM1516 972h1.5v3h-1.5zM1517.5 1026h1.5v3h-1.5zM1517.5 1014h1.5v3h-1.5zM1517.5 1002h1.5v3h-1.5zM1517.5 972h1.5v6h-1.5zM1519 1011h1.5v3h-1.5zM1519 1002h1.5v3h-1.5zM1519 969.5h1.5v2.5h-1.5zM1520.5 1035h1.5v3h-1.5zM1522 1029h1.5v3h-1.5zM1522 1014h1.5v3h-1.5zM1522 1008h1.5v3h-1.5zM1522 972h1.5v6h-1.5zM1523.5 1035h0.5v3h-0.5zM1523.5 1023h0.5v6h-0.5zM1523.5 1014h0.5v6h-0.5zM1523.5 1002h0.5v3h-0.5zM1523.5 993h0.5v6h-0.5zM1523.5 978h0.5v12h-0.5zM1523.5 969.5h0.5v5.5h-0.5z" fill="rgb(0,0,128)"/><path d="M732 1089h1.5v8.5h-1.5zM732 1071h1.5v5h-1.5zM732 1062.5h1.5v4h-1.5zM732 1026h1.5v3h-1.5zM733.5 1089h1.5v8.5h-1.5zM733.5 1062.5h1.5v8.5h-1.5zM733.5 1038h1.5v9h-1.5zM733.5 1014h1.5v3h-1.5zM735 1071h1.5v11h-1.5zM735 1056h1.5v10.5h-1.5zM735 1047h1.5v6h-1.5zM735 1035h1.5v6h-1.5zM735 1029h1.5v3h-1.5zM735 1017h1.5v9h-1.5zM735 1005h1.5v9h-1.5zM735 993h1.5v9h-1.5zM735 981h1.5v9h-1.5zM735 975h1.5v3h-1.5zM736.5 1071h1.5v18h-1.5zM736.5 1053h1.5v3h-1.5zM738 1071h1.5v18h-1.5zM738 975h1.5v3h-1.5zM739.5 1089h1.5v8.5h-1.5zM739.5 1071h1.5v5h-1.5zM739.5 1056h1.5v10.5h-1.5zM739.5 1047h1.5v6h-1.5zM739.5 1041h1.5v3h-1.5zM739.5 990h1.5v3h-1.5zM741 1097.5h1.5v10.5h-1.5zM741 1071h1.5v11h-1.5zM741 1059h1.5v7.5h-1.5zM741 1047h1.5v3h-1.5zM741 1041h1.5v3h-1.5zM741 1023h1.5v3h-1.5zM741 1011h1.5v6h-1.5zM741 1002h1.5v3h-1.5zM741 990h1.5v9h-1.5zM741 981h1.5v6h-1.5zM741 975h1.5v3h-1.5zM742.5 1056h1.5v15h-1.5zM742.5 1041h1.5v12h-1.5zM742.5 1035h1.5v3h-1.5zM742.5 1029h1.5v3h-1.5zM742.5 1020h1.5v3h-1.5zM742.5 1008h1.5v6h-1.5zM742.5 999h1.5v6h-1.5zM742.5 993h1.5v3h-1.5zM742.5 987h1.5v3h-1.5zM742.5 975h1.5v9h-1.5zM744 1108h1.5v14h-1.5zM744 1089h1.5v8.5h-1.5zM744 1071h1.5v5h-1.5zM744 1053h1.5v3h-1.5zM744 978h1.5v3h-1.5zM745.5 1089h1.5v8.5h-1.5zM745.5 1056h1.5v3h-1.5zM747 1076h1.5v21.5h-1.5zM747 1066.5h1.5v4.5h-1.5zM747 1059h1.5v3.5h-1.5zM747 1050h1.5v3h-1.5zM747 1038h1.5v3h-1.5zM747 1014h1.5v3h-1.5zM748.5 1097.5h1.5v10.5h-1.5zM748.5 1082h1.5v7h-1.5zM748.5 1071h1.5v5h-1.5zM748.5 1038h1.5v3h-1.5zM748.5 1032h1.5v3h-1.5zM750 1071h1.5v51h-1.5zM750 1056h1.5v6.5h-1.5zM750 1038h1.5v6h-1.5zM750 1029h1.5v3h-1.5zM750 1020h1.5v3h-1.5zM750 975h1.5v3h-1.5zM751.5 1071h1.5v18h-1.5zM751.5 990h1.5v3h-1.5zM753 1108h1.5v14h-1.5zM753 1071h1.5v26.5h-1.5zM753 1056h1.5v10.5h-1.5zM753 1050h1.5v3h-1.5zM753 1041h1.5v3h-1.5zM753 1029h1.5v3h-1.5zM753 1011h1.5v3h-1.5zM754.5 1089h1.5v33h-1.5zM754.5 1071h1.5v5h-1.5zM754.5 1059h1.5v7.5h-1.5zM754.5 1053h1.5v3h-1.5zM754.5 1047h1.5v3h-1.5zM754.5 1035h1.5v3h-1.5zM754.5 1026h1.5v3h-1.5zM754.5 996h1.5v3h-1.5zM754.5 975h1.5v3h-1.5zM756 1108h1.5v14h-1.5zM756 1066.5h1.5v15.5h-1.5zM756 1032h1.5v3h-1.5zM756 1023h1.5v3h-1.5zM756 1005h1.5v3h-1.5zM756 996h1.5v3h-1.5zM756 984h1.5v6h-1.5zM757.5 1062.5h1.5v19.5h-1.5zM757.5 1053h1.5v3h-1.5zM757.5 1041h1.5v3h-1.5zM759 1059h1.5v38.5h-1.5zM759 1038h1.5v15h-1.5zM759 996h1.5v3h-1.5zM759 984h1.5v3h-1.5zM760.5 1066.5h1.5v15.5h-1.5zM760.5 1056h1.5v6.5h-1.5zM760.5 1050h1.5v3h-1.5zM760.5 1041h1.5v6h-1.5zM760.5 1029h1.5v3h-1.5zM760.5 1005h1.5v9h-1.5zM760.5 981h1.5v3h-1.5zM760.5 975h1.5v3h-1.5zM762 1062.5h1.5v19.5h-1.5zM762 1047h1.5v6h-1.5zM762 993h1.5v3h-1.5zM762 987h1.5v3h-1.5zM762 978h1.5v3h-1.5zM763.5 1071h1.5v11h-1.5zM763.5 1056h1.5v10.5h-1.5zM763.5 1026h1.5v6h-1.5zM763.5 1020h1.5v3h-1.5zM763.5 1014h1.5v3h-1.5zM763.5 1008h1.5v3h-1.5zM763.5 993h1.5v9h-1.5zM763.5 984h1.5v6h-1.5zM763.5 978h1.5v3h-1.5zM763.5 969.5h1.5v5.5h-1.5zM765 1056h1.5v26h-1.5zM765 1047h1.5v6h-1.5zM765 1035h1.5v9h-1.5zM765 1029h1.5v3h-1.5zM765 1020h1.5v3h-1.5zM765 1005h1.5v9h-1.5zM765 999h1.5v3h-1.5zM766.5 1097.5h1.5v10.5h-1.5zM766.5 1076h1.5v6h-1.5zM766.5 1056h1.5v3h-1.5zM766.5 1047h1.5v3h-1.5zM766.5 1032h1.5v3h-1.5zM766.5 1026h1.5v3h-1.5zM766.5 984h1.5v3h-1.5zM768 1071h1.5v51h-1.5zM768 1050h1.5v3h-1.5zM768 1041h1.5v6h-1.5zM768 1035h1.5v3h-1.5zM768 1029h1.5v3h-1.5zM768 1011h1.5v3h-1.5zM768 1005h1.5v3h-1.5zM768 993h1.5v3h-1.5zM768 984h1.5v3h-1.5zM768 975h1.5v3h-1.5zM769.5 1059h1.5v30h-1.5zM771 1108h1.5v14h-1.5zM771 1089h1.5v8.5h-1.5zM772.5 1047h1.5v29h-1.5zM772.5 1029h1.5v6h-1.5zM772.5 1017h1.5v3h-1.5zM772.5 1008h1.5v6h-1.5zM772.5 987h1.5v12h-1.5zM772.5 975h1.5v9h-1.5zM774 1059h1.5v12h-1.5zM774 1053h1.5v3h-1.5zM774 1044h1.5v3h-1.5zM774 1032h1.5v3h-1.5zM774 1011h1.5v3h-1.5zM774 993h1.5v6h-1.5zM774 975h1.5v3h-1.5zM775.5 1076h1.5v6h-1.5zM775.5 1062.5h1.5v4h-1.5zM775.5 1050h1.5v3h-1.5zM775.5 1020h1.5v3h-1.5zM777 1076h1.5v6h-1.5zM777 1062.5h1.5v4h-1.5zM777 1044h1.5v12h-1.5zM777 1038h1.5v3h-1.5zM777 1017h1.5v3h-1.5zM777 990h1.5v3h-1.5zM778.5 1066.5h1.5v15.5h-1.5zM778.5 1050h1.5v3h-1.5zM778.5 1017h1.5v6h-1.5zM780 1108h1.5v14h-1.5zM780 1062.5h1.5v35h-1.5zM780 1050h1.5v3h-1.5zM780 1044h1.5v3h-1.5zM780 1014h1.5v6h-1.5zM780 999h1.5v3h-1.5zM780 990h1.5v3h-1.5zM781.5 1056h1.5v20h-1.5zM781.5 1047h1.5v6h-1.5zM781.5 1029h1.5v3h-1.5zM781.5 1017h1.5v3h-1.5zM781.5 1005h1.5v3h-1.5zM781.5 996h1.5v6h-1.5zM781.5 987h1.5v6h-1.5zM781.5 975h1.5v6h-1.5zM783 1082h1.5v15.5h-1.5zM783 1066.5h1.5v9.5h-1.5zM783 1059h1.5v3.5h-1.5zM784.5 1071h1.5v5h-1.5zM786 1082h1.5v7h-1.5zM786 1053h1.5v23h-1.5zM786 1044h1.5v6h-1.5zM786 1029h1.5v6h-1.5zM786 1023h1.5v3h-1.5zM786 1017h1.5v3h-1.5zM786 1002h1.5v3h-1.5zM786 993h1.5v3h-1.5zM786 984h1.5v6h-1.5zM786 975h1.5v3h-1.5zM787.5 1097.5h1.5v10.5h-1.5zM787.5 1059h1.5v7.5h-1.5zM787.5 1053h1.5v3h-1.5zM787.5 1044h1.5v6h-1.5zM789 1089h1.5v8.5h-1.5zM789 1062.5h1.5v8.5h-1.5zM789 1053h1.5v3h-1.5zM789 1041h1.5v3h-1.5zM789 1035h1.5v3h-1.5zM789 1005h1.5v3h-1.5zM790.5 1066.5h1.5v15.5h-1.5zM790.5 978h1.5v3h-1.5zM792 1071h1.5v11h-1.5zM792 1056h1.5v6.5h-1.5zM792 1041h1.5v3h-1.5zM792 1017h1.5v3h-1.5zM792 1005h1.5v6h-1.5zM792 993h1.5v3h-1.5zM793.5 1082h1.5v26h-1.5zM793.5 1066.5h1.5v4.5h-1.5zM793.5 1053h1.5v3h-1.5zM793.5 1044h1.5v3h-1.5zM793.5 975h1.5v6h-1.5zM795 1071h1.5v11h-1.5zM796.5 1056h1.5v20h-1.5zM796.5 1044h1.5v6h-1.5zM796.5 1026h1.5v12h-1.5zM796.5 1008h1.5v6h-1.5zM796.5 993h1.5v9h-1.5zM796.5 975h1.5v15h-1.5zM798 1082h1.5v7h-1.5zM798 1059h1.5v17h-1.5zM799.5 1097.5h1.5v24.5h-1.5zM799.5 1066.5h1.5v15.5h-1.5zM799.5 1056h1.5v6.5h-1.5zM799.5 1050h1.5v3h-1.5zM799.5 1041h1.5v3h-1.5zM799.5 1011h1.5v6h-1.5zM799.5 999h1.5v3h-1.5zM799.5 984h1.5v3h-1.5zM799.5 975h1.5v3h-1.5zM801 1097.5h1.5v10.5h-1.5zM802.5 1076h1.5v46h-1.5zM802.5 1066.5h1.5v4.5h-1.5zM802.5 1059h1.5v3.5h-1.5zM802.5 1050h1.5v6h-1.5zM802.5 1038h1.5v6h-1.5zM802.5 1032h1.5v3h-1.5zM802.5 1023h1.5v3h-1.5zM802.5 1014h1.5v6h-1.5zM802.5 999h1.5v6h-1.5zM802.5 975h1.5v21h-1.5zM804 1066.5h1.5v22.5h-1.5zM804 1032h1.5v3h-1.5zM805.5 1082h1.5v7h-1.5zM805.5 1066.5h1.5v9.5h-1.5zM807 1071h1.5v26.5h-1.5zM807 1023h1.5v3h-1.5zM808.5 1076h1.5v46h-1.5zM808.5 1059h1.5v7.5h-1.5zM808.5 1047h1.5v9h-1.5zM808.5 1032h1.5v6h-1.5zM808.5 1026h1.5v3h-1.5zM808.5 1011h1.5v12h-1.5zM808.5 987h1.5v18h-1.5zM808.5 978h1.5v6h-1.5zM808.5 969.5h1.5v2.5h-1.5zM810 1062.5h1.5v13.5h-1.5zM810 1056h1.5v3h-1.5zM810 1032h1.5v15h-1.5zM810 1023h1.5v6h-1.5zM810 1014h1.5v3h-1.5zM810 1002h1.5v3h-1.5zM810 990h1.5v9h-1.5zM810 981h1.5v6h-1.5zM810 975h1.5v3h-1.5zM811.5 1089h1.5v19h-1.5zM811.5 1071h1.5v11h-1.5zM811.5 1062.5h1.5v4h-1.5zM811.5 969.5h1.5v2.5h-1.5zM813 1071h1.5v5h-1.5zM813 1062.5h1.5v4h-1.5zM813 1050h1.5v9h-1.5zM813 1026h1.5v3h-1.5zM813 1008h1.5v12h-1.5zM813 996h1.5v6h-1.5zM813 987h1.5v3h-1.5zM814.5 1108h1.5v14h-1.5zM814.5 1089h1.5v8.5h-1.5zM814.5 1066.5h1.5v15.5h-1.5zM814.5 1047h1.5v15.5h-1.5zM814.5 1035h1.5v3h-1.5zM814.5 1029h1.5v3h-1.5zM814.5 1014h1.5v3h-1.5zM814.5 984h1.5v27h-1.5zM814.5 978h1.5v3h-1.5zM816 1089h1.5v33h-1.5zM816 1071h1.5v5h-1.5zM816 987h1.5v3h-1.5zM817.5 1071h1.5v51h-1.5zM817.5 1062.5h1.5v4h-1.5zM817.5 1044h1.5v12h-1.5zM817.5 1035h1.5v3h-1.5zM817.5 1014h1.5v3h-1.5zM817.5 1008h1.5v3h-1.5zM817.5 1002h1.5v3h-1.5zM819 1076h1.5v6h-1.5zM819 1056h1.5v10.5h-1.5zM819 1041h1.5v6h-1.5zM819 1023h1.5v6h-1.5zM819 993h1.5v15h-1.5zM819 984h1.5v6h-1.5zM820.5 1089h1.5v33h-1.5zM820.5 1071h1.5v11h-1.5zM820.5 1059h1.5v7.5h-1.5zM820.5 1053h1.5v3h-1.5zM820.5 1044h1.5v6h-1.5zM820.5 1011h1.5v3h-1.5zM820.5 969.5h1.5v2.5h-1.5zM822 1071h1.5v5h-1.5zM822 1062.5h1.5v4h-1.5zM822 1056h1.5v3h-1.5zM822 1041h1.5v12h-1.5zM822 1023h1.5v15h-1.5zM822 1017h1.5v3h-1.5zM822 999h1.5v15h-1.5zM822 993h1.5v3h-1.5zM822 978h1.5v9h-1.5zM822 969.5h1.5v2.5h-1.5zM823.5 1076h1.5v6h-1.5zM823.5 1059h1.5v12h-1.5zM823.5 1053h1.5v3h-1.5zM823.5 1047h1.5v3h-1.5zM823.5 1035h1.5v3h-1.5zM823.5 1023h1.5v3h-1.5zM823.5 1008h1.5v3h-1.5zM823.5 993h1.5v12h-1.5zM823.5 987h1.5v3h-1.5zM823.5 981h1.5v3h-1.5zM825 1108h1.5v14h-1.5zM825 1076h1.5v21.5h-1.5zM825 1053h1.5v6h-1.5zM825 1032h1.5v3h-1.5zM826.5 1066.5h1.5v22.5h-1.5zM826.5 1047h1.5v6h-1.5zM826.5 1038h1.5v3h-1.5zM826.5 1017h1.5v6h-1.5zM826.5 981h1.5v3h-1.5zM828 1108h1.5v14h-1.5zM828 1071h1.5v11h-1.5zM829.5 1053h1.5v13.5h-1.5zM829.5 1044h1.5v3h-1.5zM829.5 1026h1.5v15h-1.5zM829.5 987h1.5v36h-1.5zM829.5 975h1.5v6h-1.5zM829.5 969.5h1.5v2.5h-1.5zM831 1089h1.5v8.5h-1.5zM831 1062.5h1.5v8.5h-1.5zM831 1047h1.5v9h-1.5zM831 1041h1.5v3h-1.5zM831 1011h1.5v6h-1.5zM832.5 1059h1.5v17h-1.5zM832.5 1044h1.5v3h-1.5zM832.5 1026h1.5v3h-1.5zM834 1076h1.5v6h-1.5zM834 1053h1.5v13.5h-1.5zM834 1041h1.5v3h-1.5zM834 1032h1.5v6h-1.5zM834 1017h1.5v9h-1.5zM834 1005h1.5v6h-1.5zM834 987h1.5v15h-1.5zM834 975h1.5v3h-1.5zM834 969.5h1.5v2.5h-1.5zM835.5 1071h1.5v11h-1.5zM835.5 1062.5h1.5v4h-1.5zM835.5 1053h1.5v6h-1.5zM835.5 1041h1.5v3h-1.5zM835.5 1026h1.5v3h-1.5zM837 1059h1.5v23h-1.5zM837 1053h1.5v3h-1.5zM837 993h1.5v3h-1.5zM837 981h1.5v3h-1.5zM838.5 1053h1.5v44.5h-1.5zM838.5 1038h1.5v6h-1.5zM838.5 1023h1.5v6h-1.5zM838.5 999h1.5v9h-1.5zM838.5 993h1.5v3h-1.5zM838.5 984h1.5v3h-1.5zM838.5 978h1.5v3h-1.5zM840 1082h1.5v15.5h-1.5zM840 1056h1.5v3h-1.5zM841.5 1076h1.5v32h-1.5zM841.5 1062.5h1.5v8.5h-1.5zM841.5 1044h1.5v6h-1.5zM841.5 1020h1.5v3h-1.5zM841.5 990h1.5v3h-1.5zM843 1053h1.5v9.5h-1.5zM843 1035h1.5v12h-1.5zM843 1026h1.5v3h-1.5zM843 999h1.5v6h-1.5zM843 981h1.5v3h-1.5zM844.5 1089h1.5v8.5h-1.5zM844.5 1066.5h1.5v15.5h-1.5zM844.5 1047h1.5v3h-1.5zM846 1076h1.5v6h-1.5zM846 1066.5h1.5v4.5h-1.5zM846 1041h1.5v18h-1.5zM846 1029h1.5v6h-1.5zM846 1011h1.5v9h-1.5zM846 987h1.5v21h-1.5zM846 975h1.5v9h-1.5zM847.5 1089h1.5v33h-1.5zM847.5 1071h1.5v5h-1.5zM847.5 1059h1.5v3.5h-1.5zM847.5 1047h1.5v3h-1.5zM847.5 1014h1.5v3h-1.5zM847.5 996h1.5v3h-1.5zM849 1082h1.5v7h-1.5zM849 1071h1.5v5h-1.5zM849 1053h1.5v3h-1.5zM849 1032h1.5v3h-1.5zM850.5 1082h1.5v7h-1.5zM850.5 1062.5h1.5v13.5h-1.5zM850.5 999h1.5v3h-1.5zM852 1066.5h1.5v15.5h-1.5zM852 1056h1.5v6.5h-1.5zM852 1047h1.5v3h-1.5zM852 1038h1.5v3h-1.5zM852 1005h1.5v3h-1.5zM853.5 1108h1.5v14h-1.5zM853.5 1076h1.5v21.5h-1.5zM853.5 1053h1.5v13.5h-1.5zM853.5 1020h1.5v3h-1.5zM853.5 1014h1.5v3h-1.5zM855 1108h1.5v14h-1.5zM855 1071h1.5v18h-1.5zM855 1062.5h1.5v4h-1.5zM855 1056h1.5v3h-1.5zM855 1050h1.5v3h-1.5zM855 1041h1.5v3h-1.5zM855 1023h1.5v3h-1.5zM855 990h1.5v3h-1.5zM855 978h1.5v3h-1.5zM856.5 1076h1.5v46h-1.5zM856.5 1059h1.5v12h-1.5zM856.5 1053h1.5v3h-1.5zM856.5 1047h1.5v3h-1.5zM856.5 1041h1.5v3h-1.5zM856.5 1011h1.5v3h-1.5zM856.5 1002h1.5v6h-1.5zM856.5 993h1.5v6h-1.5zM856.5 978h1.5v6h-1.5zM858 1108h1.5v14h-1.5zM858 1089h1.5v8.5h-1.5zM858 1062.5h1.5v19.5h-1.5zM858 1044h1.5v6h-1.5zM858 1038h1.5v3h-1.5zM858 981h1.5v3h-1.5zM859.5 1082h1.5v7h-1.5zM859.5 1066.5h1.5v9.5h-1.5zM859.5 1044h1.5v3h-1.5zM859.5 975h1.5v3h-1.5zM861 1053h1.5v23h-1.5zM861 1044h1.5v6h-1.5zM861 1029h1.5v6h-1.5zM861 1023h1.5v3h-1.5zM861 1008h1.5v6h-1.5zM861 1002h1.5v3h-1.5zM861 993h1.5v6h-1.5zM861 981h1.5v6h-1.5zM861 975h1.5v3h-1.5zM862.5 1082h1.5v26h-1.5zM862.5 1059h1.5v3.5h-1.5zM862.5 1050h1.5v3h-1.5zM862.5 1032h1.5v3h-1.5zM862.5 1017h1.5v3h-1.5zM864 1056h1.5v52h-1.5zM864 1038h1.5v9h-1.5zM864 1029h1.5v6h-1.5zM864 996h1.5v9h-1.5zM864 987h1.5v3h-1.5zM864 978h1.5v3h-1.5zM865.5 1108h1.5v14h-1.5zM865.5 1082h1.5v15.5h-1.5zM865.5 1059h1.5v12h-1.5zM865.5 1035h1.5v3h-1.5zM865.5 1020h1.5v3h-1.5zM867 1089h1.5v33h-1.5zM867 1041h1.5v21.5h-1.5zM867 1029h1.5v6h-1.5zM867 999h1.5v27h-1.5zM867 993h1.5v3h-1.5zM867 987h1.5v3h-1.5zM867 981h1.5v3h-1.5zM867 975h1.5v3h-1.5zM867 969.5h1.5v2.5h-1.5zM868.5 1053h1.5v13.5h-1.5zM868.5 1044h1.5v3h-1.5zM868.5 1035h1.5v6h-1.5zM868.5 1029h1.5v3h-1.5zM868.5 1020h1.5v3h-1.5zM868.5 1008h1.5v3h-1.5zM868.5 996h1.5v6h-1.5zM868.5 975h1.5v6h-1.5zM870 1059h1.5v3.5h-1.5zM870 1053h1.5v3h-1.5zM870 1047h1.5v3h-1.5zM870 1038h1.5v6h-1.5zM870 1023h1.5v12h-1.5zM870 1005h1.5v15h-1.5zM870 978h1.5v3h-1.5zM870 969.5h1.5v5.5h-1.5zM871.5 1082h1.5v26h-1.5zM871.5 1047h1.5v29h-1.5zM871.5 1035h1.5v6h-1.5zM871.5 1014h1.5v9h-1.5zM871.5 996h1.5v6h-1.5zM871.5 975h1.5v18h-1.5zM871.5 969.5h1.5v2.5h-1.5zM873 1056h1.5v20h-1.5zM873 1050h1.5v3h-1.5zM873 1008h1.5v3h-1.5zM874.5 1059h1.5v17h-1.5zM874.5 1053h1.5v3h-1.5zM874.5 1041h1.5v3h-1.5zM874.5 1020h1.5v3h-1.5zM874.5 1014h1.5v3h-1.5zM876 1082h1.5v40h-1.5zM876 1071h1.5v5h-1.5zM876 1050h1.5v3h-1.5zM876 1044h1.5v3h-1.5zM877.5 1076h1.5v21.5h-1.5zM877.5 1066.5h1.5v4.5h-1.5zM877.5 1044h1.5v12h-1.5zM877.5 1038h1.5v3h-1.5zM877.5 1032h1.5v3h-1.5zM877.5 1017h1.5v3h-1.5zM877.5 1008h1.5v3h-1.5zM877.5 993h1.5v3h-1.5zM877.5 987h1.5v3h-1.5zM877.5 978h1.5v3h-1.5zM879 1047h1.5v6h-1.5zM879 1041h1.5v3h-1.5zM879 1032h1.5v6h-1.5zM879 1026h1.5v3h-1.5zM879 1008h1.5v12h-1.5zM879 999h1.5v6h-1.5zM879 984h1.5v9h-1.5zM879 975h1.5v6h-1.5zM879 969.5h1.5v2.5h-1.5zM880.5 1089h1.5v33h-1.5zM880.5 1076h1.5v6h-1.5zM880.5 1066.5h1.5v4.5h-1.5zM880.5 1056h1.5v3h-1.5zM880.5 1023h1.5v6h-1.5zM880.5 1014h1.5v3h-1.5zM880.5 990h1.5v3h-1.5zM880.5 978h1.5v3h-1.5zM882 1062.5h1.5v13.5h-1.5zM882 1050h1.5v3h-1.5zM882 1038h1.5v9h-1.5zM882 1023h1.5v3h-1.5zM882 1014h1.5v6h-1.5zM882 1008h1.5v3h-1.5zM882 978h1.5v27h-1.5zM883.5 1108h1.5v14h-1.5zM883.5 1071h1.5v18h-1.5zM883.5 1062.5h1.5v4h-1.5zM883.5 1047h1.5v6h-1.5zM883.5 1017h1.5v3h-1.5zM883.5 1002h1.5v3h-1.5zM883.5 978h1.5v3h-1.5zM883.5 972h1.5v3h-1.5zM885 1082h1.5v40h-1.5zM885 1062.5h1.5v8.5h-1.5zM885 1056h1.5v3h-1.5zM886.5 1089h1.5v33h-1.5zM886.5 1066.5h1.5v15.5h-1.5zM886.5 1050h1.5v6h-1.5zM886.5 1044h1.5v3h-1.5zM886.5 1032h1.5v6h-1.5zM886.5 1026h1.5v3h-1.5zM886.5 1020h1.5v3h-1.5zM886.5 975h1.5v3h-1.5zM888 1066.5h1.5v4.5h-1.5zM888 1053h1.5v9.5h-1.5zM888 1047h1.5v3h-1.5zM888 1032h1.5v12h-1.5zM888 1017h1.5v9h-1.5zM888 1005h1.5v6h-1.5zM888 999h1.5v3h-1.5zM888 993h1.5v3h-1.5zM888 981h1.5v6h-1.5zM888 975h1.5v3h-1.5zM889.5 1071h1.5v5h-1.5zM889.5 1059h1.5v3.5h-1.5zM889.5 1053h1.5v3h-1.5zM889.5 1047h1.5v3h-1.5zM889.5 1023h1.5v6h-1.5zM889.5 1014h1.5v3h-1.5zM889.5 1005h1.5v6h-1.5zM889.5 984h1.5v6h-1.5zM889.5 972h1.5v3h-1.5zM891 1062.5h1.5v19.5h-1.5zM891 1056h1.5v3h-1.5zM891 996h1.5v3h-1.5zM892.5 1053h1.5v9.5h-1.5zM892.5 1041h1.5v6h-1.5zM892.5 1035h1.5v3h-1.5zM892.5 1026h1.5v3h-1.5zM892.5 1017h1.5v6h-1.5zM892.5 1002h1.5v3h-1.5zM892.5 996h1.5v3h-1.5zM892.5 972h1.5v18h-1.5zM894 1082h1.5v40h-1.5zM894 1041h1.5v3h-1.5zM894 978h1.5v3h-1.5zM895.5 1071h1.5v37h-1.5zM895.5 1059h1.5v3.5h-1.5zM895.5 1041h1.5v9h-1.5zM897 1066.5h1.5v4.5h-1.5zM897 1050h1.5v12.5h-1.5zM897 1032h1.5v3h-1.5zM897 999h1.5v3h-1.5zM898.5 1108h1.5v14h-1.5zM898.5 1082h1.5v15.5h-1.5zM898.5 1053h1.5v3h-1.5zM900 1059h1.5v17h-1.5zM900 1053h1.5v3h-1.5zM900 1047h1.5v3h-1.5zM901.5 1056h1.5v15h-1.5zM901.5 1044h1.5v3h-1.5zM903 1066.5h1.5v4.5h-1.5zM903 1047h1.5v6h-1.5zM903 1041h1.5v3h-1.5zM903 1035h1.5v3h-1.5zM904.5 1071h1.5v11h-1.5zM904.5 1059h1.5v7.5h-1.5zM904.5 1050h1.5v6h-1.5zM904.5 1041h1.5v6h-1.5zM904.5 1008h1.5v30h-1.5zM904.5 1002h1.5v3h-1.5zM904.5 972h1.5v21h-1.5zM906 1059h1.5v17h-1.5zM906 1050h1.5v3h-1.5zM906 1017h1.5v3h-1.5zM907.5 1108h1.5v14h-1.5zM907.5 1041h1.5v3h-1.5zM907.5 1020h1.5v3h-1.5zM909 1047h1.5v9h-1.5zM909 1035h1.5v6h-1.5zM909 1017h1.5v9h-1.5zM909 1005h1.5v6h-1.5zM909 990h1.5v12h-1.5zM909 969.5h1.5v11.5h-1.5zM910.5 1108h1.5v14h-1.5zM910.5 1076h1.5v6h-1.5zM910.5 1066.5h1.5v4.5h-1.5zM910.5 1056h1.5v6.5h-1.5zM910.5 1041h1.5v3h-1.5zM910.5 1020h1.5v3h-1.5zM912 1066.5h1.5v41.5h-1.5zM912 1059h1.5v3.5h-1.5zM912 1053h1.5v3h-1.5zM912 1047h1.5v3h-1.5zM912 1017h1.5v3h-1.5zM913.5 1071h1.5v11h-1.5zM913.5 1050h1.5v16.5h-1.5zM913.5 1038h1.5v3h-1.5zM913.5 1029h1.5v3h-1.5zM913.5 1002h1.5v3h-1.5zM915 1062.5h1.5v8.5h-1.5zM915 1056h1.5v3h-1.5zM915 1050h1.5v3h-1.5zM915 1044h1.5v3h-1.5zM915 1026h1.5v3h-1.5zM916.5 1062.5h1.5v4h-1.5zM916.5 1041h1.5v3h-1.5zM916.5 1008h1.5v3h-1.5zM916.5 978h1.5v3h-1.5zM918 1076h1.5v13h-1.5zM918 1059h1.5v12h-1.5zM918 1053h1.5v3h-1.5zM918 1047h1.5v3h-1.5zM918 1029h1.5v3h-1.5zM918 1014h1.5v3h-1.5zM919.5 1089h1.5v33h-1.5zM919.5 1062.5h1.5v13.5h-1.5zM919.5 1044h1.5v3h-1.5zM919.5 1020h1.5v3h-1.5zM919.5 987h1.5v3h-1.5zM921 1089h1.5v8.5h-1.5zM921 1076h1.5v6h-1.5zM921 1059h1.5v7.5h-1.5zM921 1050h1.5v3h-1.5zM921 999h1.5v3h-1.5zM922.5 1056h1.5v3h-1.5zM922.5 1047h1.5v3h-1.5zM922.5 1041h1.5v3h-1.5zM922.5 1035h1.5v3h-1.5zM922.5 1029h1.5v3h-1.5zM922.5 1020h1.5v6h-1.5zM922.5 1011h1.5v6h-1.5zM922.5 999h1.5v3h-1.5zM922.5 990h1.5v6h-1.5zM922.5 981h1.5v3h-1.5zM924 1082h1.5v7h-1.5zM924 1053h1.5v23h-1.5zM924 1035h1.5v12h-1.5zM924 1026h1.5v6h-1.5zM924 1011h1.5v12h-1.5zM924 1002h1.5v6h-1.5zM924 975h1.5v24h-1.5zM925.5 1053h1.5v9.5h-1.5zM925.5 1032h1.5v3h-1.5zM925.5 987h1.5v3h-1.5zM927 1047h1.5v6h-1.5zM927 1038h1.5v6h-1.5zM927 1026h1.5v3h-1.5zM927 1017h1.5v3h-1.5zM927 984h1.5v3h-1.5zM927 975h1.5v3h-1.5zM928.5 1026h1.5v40.5h-1.5zM928.5 1008h1.5v12h-1.5zM928.5 999h1.5v3h-1.5zM928.5 990h1.5v6h-1.5zM928.5 984h1.5v3h-1.5zM928.5 975h1.5v6h-1.5zM930 1059h1.5v3.5h-1.5zM930 1041h1.5v15h-1.5zM930 1029h1.5v3h-1.5zM930 1023h1.5v3h-1.5zM930 1014h1.5v3h-1.5zM930 996h1.5v3h-1.5zM931.5 1056h1.5v6.5h-1.5zM931.5 1047h1.5v3h-1.5zM933 1059h1.5v17h-1.5zM933 1050h1.5v6h-1.5zM933 1044h1.5v3h-1.5zM933 1035h1.5v3h-1.5zM933 1014h1.5v3h-1.5zM934.5 1089h1.5v19h-1.5zM934.5 1066.5h1.5v9.5h-1.5zM934.5 1053h1.5v9.5h-1.5zM934.5 1047h1.5v3h-1.5zM936 1059h1.5v17h-1.5zM936 1050h1.5v6h-1.5zM936 1041h1.5v6h-1.5zM936 993h1.5v3h-1.5zM937.5 1071h1.5v5h-1.5zM937.5 1062.5h1.5v4h-1.5zM937.5 1050h1.5v3h-1.5zM939 1059h1.5v3.5h-1.5zM939 1050h1.5v3h-1.5zM939 1044h1.5v3h-1.5zM939 981h1.5v3h-1.5zM940.5 1047h1.5v19.5h-1.5zM940.5 1038h1.5v6h-1.5zM940.5 1029h1.5v6h-1.5zM940.5 1020h1.5v6h-1.5zM940.5 1008h1.5v9h-1.5zM940.5 984h1.5v21h-1.5zM940.5 975h1.5v6h-1.5zM942 1071h1.5v5h-1.5zM942 1056h1.5v10.5h-1.5zM942 1038h1.5v12h-1.5zM942 1026h1.5v3h-1.5zM942 1008h1.5v3h-1.5zM943.5 1071h1.5v5h-1.5zM943.5 1056h1.5v10.5h-1.5zM943.5 1047h1.5v6h-1.5zM943.5 1041h1.5v3h-1.5zM943.5 1011h1.5v6h-1.5zM943.5 981h1.5v6h-1.5zM945 1097.5h1.5v24.5h-1.5zM945 1082h1.5v7h-1.5zM945 1050h1.5v26h-1.5zM945 1038h1.5v9h-1.5zM945 1023h1.5v6h-1.5zM945 1002h1.5v18h-1.5zM945 972h1.5v24h-1.5zM946.5 1053h1.5v6h-1.5zM946.5 1047h1.5v3h-1.5zM946.5 1041h1.5v3h-1.5zM946.5 1032h1.5v3h-1.5zM946.5 1026h1.5v3h-1.5zM946.5 1008h1.5v9h-1.5zM946.5 984h1.5v3h-1.5zM948 1097.5h1.5v10.5h-1.5zM948 1071h1.5v18h-1.5zM948 1050h1.5v9h-1.5zM948 1038h1.5v9h-1.5zM948 1023h1.5v3h-1.5zM948 1005h1.5v3h-1.5zM948 996h1.5v3h-1.5zM948 990h1.5v3h-1.5zM948 981h1.5v3h-1.5zM948 975h1.5v3h-1.5zM949.5 1050h1.5v6h-1.5zM949.5 1041h1.5v6h-1.5zM949.5 1032h1.5v3h-1.5zM949.5 1020h1.5v6h-1.5zM949.5 1008h1.5v3h-1.5zM949.5 993h1.5v3h-1.5zM949.5 981h1.5v6h-1.5zM951 1053h1.5v6h-1.5zM951 1047h1.5v3h-1.5zM951 1026h1.5v9h-1.5zM951 1017h1.5v6h-1.5zM951 1008h1.5v6h-1.5zM951 1002h1.5v3h-1.5zM951 996h1.5v3h-1.5zM951 987h1.5v3h-1.5zM951 975h1.5v3h-1.5zM952.5 1062.5h1.5v8.5h-1.5zM952.5 1053h1.5v3h-1.5zM952.5 1038h1.5v12h-1.5zM952.5 1029h1.5v3h-1.5zM954 1062.5h1.5v4h-1.5zM954 1056h1.5v3h-1.5zM954 1047h1.5v6h-1.5zM954 1035h1.5v3h-1.5zM954 1020h1.5v3h-1.5zM954 996h1.5v3h-1.5zM954 987h1.5v3h-1.5zM955.5 1050h1.5v3h-1.5zM955.5 1041h1.5v6h-1.5zM955.5 1020h1.5v18h-1.5zM955.5 1005h1.5v9h-1.5zM955.5 993h1.5v3h-1.5zM955.5 981h1.5v6h-1.5zM955.5 975h1.5v3h-1.5zM957 1076h1.5v6h-1.5zM957 1056h1.5v10.5h-1.5zM957 1041h1.5v9h-1.5zM957 1029h1.5v9h-1.5zM957 1020h1.5v3h-1.5zM957 999h1.5v15h-1.5zM957 993h1.5v3h-1.5zM957 975h1.5v9h-1.5zM958.5 1082h1.5v7h-1.5zM958.5 1047h1.5v24h-1.5zM958.5 1038h1.5v6h-1.5zM958.5 990h1.5v6h-1.5zM958.5 981h1.5v6h-1.5zM960 1076h1.5v21.5h-1.5zM960 1062.5h1.5v8.5h-1.5zM960 1056h1.5v3h-1.5zM960 1041h1.5v12h-1.5zM960 1029h1.5v3h-1.5zM960 1011h1.5v3h-1.5zM960 981h1.5v3h-1.5zM960 975h1.5v3h-1.5zM961.5 1059h1.5v3.5h-1.5zM961.5 1041h1.5v12h-1.5zM963 1062.5h1.5v8.5h-1.5zM963 1056h1.5v3h-1.5zM963 1047h1.5v6h-1.5zM963 1041h1.5v3h-1.5zM963 1014h1.5v3h-1.5zM963 1005h1.5v3h-1.5zM964.5 1062.5h1.5v8.5h-1.5zM964.5 1056h1.5v3h-1.5zM964.5 1041h1.5v3h-1.5zM966 1050h1.5v6h-1.5zM966 1044h1.5v3h-1.5zM966 1035h1.5v6h-1.5zM966 1023h1.5v9h-1.5zM966 1017h1.5v3h-1.5zM966 1005h1.5v9h-1.5zM966 996h1.5v6h-1.5zM966 975h1.5v18h-1.5zM966 969.5h1.5v2.5h-1.5zM967.5 1026h1.5v12h-1.5zM967.5 1017h1.5v6h-1.5zM967.5 1002h1.5v9h-1.5zM967.5 972h1.5v24h-1.5zM969 1108h1.5v14h-1.5zM969 1071h1.5v11h-1.5zM969 1059h1.5v7.5h-1.5zM969 1050h1.5v6h-1.5zM969 1041h1.5v3h-1.5zM969 1032h1.5v3h-1.5zM970.5 1108h1.5v14h-1.5zM970.5 1076h1.5v13h-1.5zM970.5 1066.5h1.5v4.5h-1.5zM970.5 1059h1.5v3.5h-1.5zM970.5 1041h1.5v9h-1.5zM970.5 1023h1.5v3h-1.5zM970.5 999h1.5v3h-1.5zM970.5 993h1.5v3h-1.5zM972 1066.5h1.5v4.5h-1.5zM972 1047h1.5v15.5h-1.5zM972 1023h1.5v3h-1.5zM973.5 1056h1.5v6.5h-1.5zM973.5 1047h1.5v6h-1.5zM973.5 1032h1.5v3h-1.5zM973.5 1023h1.5v3h-1.5zM973.5 1005h1.5v3h-1.5zM973.5 990h1.5v3h-1.5zM975 1056h1.5v3h-1.5zM975 1050h1.5v3h-1.5zM975 1041h1.5v3h-1.5zM975 1029h1.5v3h-1.5zM976.5 1035h1.5v6h-1.5zM976.5 1017h1.5v3h-1.5zM976.5 1005h1.5v6h-1.5zM976.5 990h1.5v9h-1.5zM976.5 981h1.5v3h-1.5zM978 1038h1.5v18h-1.5zM978 1008h1.5v3h-1.5zM978 993h1.5v3h-1.5zM979.5 1108h1.5v14h-1.5zM979.5 1076h1.5v6h-1.5zM979.5 1062.5h1.5v4h-1.5zM979.5 1053h1.5v6h-1.5zM979.5 1044h1.5v6h-1.5zM979.5 1002h1.5v9h-1.5zM979.5 996h1.5v3h-1.5zM979.5 990h1.5v3h-1.5zM979.5 978h1.5v3h-1.5zM981 1059h1.5v38.5h-1.5zM981 1047h1.5v6h-1.5zM981 1041h1.5v3h-1.5zM981 1029h1.5v9h-1.5zM981 1017h1.5v6h-1.5zM981 999h1.5v12h-1.5zM981 987h1.5v9h-1.5zM981 975h1.5v3h-1.5zM982.5 1056h1.5v3h-1.5zM982.5 1041h1.5v6h-1.5zM984 1059h1.5v3.5h-1.5zM984 1047h1.5v9h-1.5zM984 1041h1.5v3h-1.5zM984 1026h1.5v3h-1.5zM984 1014h1.5v3h-1.5zM984 1005h1.5v3h-1.5zM984 975h1.5v3h-1.5zM985.5 1056h1.5v6.5h-1.5zM985.5 1047h1.5v6h-1.5zM985.5 1035h1.5v3h-1.5zM985.5 1020h1.5v3h-1.5zM985.5 1005h1.5v3h-1.5zM985.5 993h1.5v3h-1.5zM985.5 987h1.5v3h-1.5zM987 1097.5h1.5v10.5h-1.5zM987 1082h1.5v7h-1.5zM987 1066.5h1.5v4.5h-1.5zM987 1050h1.5v3h-1.5zM987 1044h1.5v3h-1.5zM987 1032h1.5v3h-1.5zM988.5 1066.5h1.5v9.5h-1.5zM988.5 1059h1.5v3.5h-1.5zM988.5 1041h1.5v9h-1.5zM988.5 1032h1.5v6h-1.5zM988.5 1017h1.5v3h-1.5zM988.5 990h1.5v3h-1.5zM990 1056h1.5v20h-1.5zM990 1041h1.5v9h-1.5zM990 1035h1.5v3h-1.5zM990 1017h1.5v12h-1.5zM990 978h1.5v36h-1.5zM990 969.5h1.5v2.5h-1.5zM991.5 1041h1.5v9h-1.5zM991.5 1008h1.5v3h-1.5zM991.5 993h1.5v3h-1.5zM993 1053h1.5v3h-1.5zM993 1044h1.5v3h-1.5zM993 1032h1.5v3h-1.5zM993 1026h1.5v3h-1.5zM993 1017h1.5v3h-1.5zM993 993h1.5v6h-1.5zM993 975h1.5v9h-1.5zM994.5 1056h1.5v3h-1.5zM994.5 1050h1.5v3h-1.5zM994.5 1032h1.5v3h-1.5zM996 1066.5h1.5v4.5h-1.5zM996 1056h1.5v6.5h-1.5zM996 1047h1.5v3h-1.5zM996 1041h1.5v3h-1.5zM996 1035h1.5v3h-1.5zM996 1023h1.5v6h-1.5zM996 1014h1.5v3h-1.5zM996 1005h1.5v3h-1.5zM996 996h1.5v3h-1.5zM996 975h1.5v6h-1.5zM997.5 1041h1.5v21.5h-1.5zM997.5 1029h1.5v3h-1.5zM997.5 1017h1.5v6h-1.5zM997.5 1011h1.5v3h-1.5zM997.5 999h1.5v3h-1.5zM997.5 993h1.5v3h-1.5zM997.5 975h1.5v9h-1.5zM999 1062.5h1.5v8.5h-1.5zM999 1041h1.5v12h-1.5zM999 1002h1.5v33h-1.5zM999 993h1.5v6h-1.5zM999 975h1.5v12h-1.5zM999 969.5h1.5v2.5h-1.5zM1000.5 1066.5h1.5v9.5h-1.5zM1000.5 1059h1.5v3.5h-1.5zM1000.5 1050h1.5v3h-1.5zM1000.5 1044h1.5v3h-1.5zM1002 1053h1.5v6h-1.5zM1002 1044h1.5v6h-1.5zM1002 1038h1.5v3h-1.5zM1002 1011h1.5v3h-1.5zM1002 987h1.5v3h-1.5zM1002 975h1.5v9h-1.5zM1003.5 1059h1.5v3.5h-1.5zM1003.5 1041h1.5v15h-1.5zM1003.5 1032h1.5v6h-1.5zM1003.5 1011h1.5v15h-1.5zM1003.5 1005h1.5v3h-1.5zM1003.5 990h1.5v3h-1.5zM1005 1082h1.5v7h-1.5zM1005 1071h1.5v5h-1.5zM1005 1059h1.5v3.5h-1.5zM1005 1044h1.5v12h-1.5zM1005 993h1.5v3h-1.5zM1005 981h1.5v3h-1.5zM1006.5 1056h1.5v3h-1.5zM1006.5 1047h1.5v3h-1.5zM1008 1035h1.5v27.5h-1.5zM1008 1014h1.5v6h-1.5zM1008 1005h1.5v6h-1.5zM1008 984h1.5v3h-1.5zM1009.5 1050h1.5v6h-1.5zM1009.5 1044h1.5v3h-1.5zM1009.5 1038h1.5v3h-1.5zM1009.5 1023h1.5v6h-1.5zM1009.5 1017h1.5v3h-1.5zM1009.5 1005h1.5v3h-1.5zM1009.5 987h1.5v15h-1.5zM1009.5 981h1.5v3h-1.5zM1009.5 975h1.5v3h-1.5zM1011 1035h1.5v6h-1.5zM1011 1023h1.5v3h-1.5zM1011 1014h1.5v6h-1.5zM1011 1008h1.5v3h-1.5zM1011 996h1.5v6h-1.5zM1011 981h1.5v12h-1.5zM1011 972h1.5v6h-1.5zM1012.5 1056h1.5v3h-1.5zM1012.5 1050h1.5v3h-1.5zM1012.5 1041h1.5v6h-1.5zM1014 1071h1.5v5h-1.5zM1014 1053h1.5v3h-1.5zM1014 1044h1.5v3h-1.5zM1014 1032h1.5v9h-1.5zM1014 1020h1.5v9h-1.5zM1014 1005h1.5v6h-1.5zM1014 993h1.5v9h-1.5zM1014 987h1.5v3h-1.5zM1014 975h1.5v6h-1.5zM1015.5 1066.5h1.5v4.5h-1.5zM1015.5 1059h1.5v3.5h-1.5zM1015.5 1053h1.5v3h-1.5zM1015.5 1047h1.5v3h-1.5zM1017 1056h1.5v3h-1.5zM1017 1050h1.5v3h-1.5zM1017 1044h1.5v3h-1.5zM1017 1038h1.5v3h-1.5zM1017 1029h1.5v6h-1.5zM1017 1023h1.5v3h-1.5zM1017 1008h1.5v12h-1.5zM1017 1002h1.5v3h-1.5zM1017 987h1.5v12h-1.5zM1018.5 990h1.5v9h-1.5zM1018.5 969.5h1.5v14.5h-1.5zM1020 1044h1.5v6h-1.5zM1020 1038h1.5v3h-1.5zM1020 1032h1.5v3h-1.5zM1020 1026h1.5v3h-1.5zM1020 1005h1.5v6h-1.5zM1020 981h1.5v6h-1.5zM1021.5 1035h1.5v6h-1.5zM1021.5 1023h1.5v6h-1.5zM1021.5 1017h1.5v3h-1.5zM1021.5 1011h1.5v3h-1.5zM1021.5 1005h1.5v3h-1.5zM1023 1008h1.5v3h-1.5zM1023 996h1.5v3h-1.5zM1023 969.5h1.5v5.5h-1.5zM1024.5 1011h1.5v21h-1.5zM1024.5 993h1.5v9h-1.5zM1026 1032h1.5v6h-1.5zM1026 1014h1.5v9h-1.5zM1026 1008h1.5v3h-1.5zM1027.5 1038h1.5v3h-1.5zM1027.5 1023h1.5v6h-1.5zM1027.5 1002h1.5v3h-1.5zM1027.5 996h1.5v3h-1.5zM1029 1017h1.5v3h-1.5zM1029 972h1.5v3h-1.5zM1030.5 1038h1.5v3h-1.5zM1030.5 1032h1.5v3h-1.5zM1030.5 1017h1.5v3h-1.5zM1030.5 993h1.5v21h-1.5zM1030.5 984h1.5v3h-1.5zM1032 1008h1.5v6h-1.5zM1032 996h1.5v6h-1.5zM1032 981h1.5v12h-1.5zM1032 975h1.5v3h-1.5zM1033.5 993h1.5v12h-1.5zM1035 1029h1.5v3h-1.5zM1035 1017h1.5v6h-1.5zM1035 993h1.5v18h-1.5zM1035 981h1.5v3h-1.5zM1036.5 1023h1.5v18h-1.5zM1036.5 1017h1.5v3h-1.5zM1036.5 1008h1.5v3h-1.5zM1036.5 996h1.5v6h-1.5zM1036.5 987h1.5v3h-1.5zM1036.5 972h1.5v3h-1.5zM1038 1023h1.5v6h-1.5zM1038 1017h1.5v3h-1.5zM1038 1002h1.5v12h-1.5zM1038 981h1.5v18h-1.5zM1039.5 1026h1.5v3h-1.5zM1039.5 1014h1.5v3h-1.5zM1039.5 1002h1.5v6h-1.5zM1039.5 996h1.5v3h-1.5zM1039.5 981h1.5v6h-1.5zM1039.5 975h1.5v3h-1.5zM1041 1029h1.5v12h-1.5zM1041 1005h1.5v9h-1.5zM1041 987h1.5v12h-1.5zM1041 975h1.5v3h-1.5zM1042.5 1032h1.5v3h-1.5zM1042.5 1023h1.5v6h-1.5zM1042.5 1011h1.5v9h-1.5zM1042.5 987h1.5v21h-1.5zM1042.5 981h1.5v3h-1.5zM1042.5 975h1.5v3h-1.5zM1044 1050h1.5v6h-1.5zM1044 1038h1.5v3h-1.5zM1044 1029h1.5v6h-1.5zM1044 1017h1.5v6h-1.5zM1044 1005h1.5v3h-1.5zM1044 996h1.5v3h-1.5zM1044 981h1.5v3h-1.5zM1045.5 1035h1.5v6h-1.5zM1045.5 1029h1.5v3h-1.5zM1045.5 1020h1.5v3h-1.5zM1045.5 996h1.5v12h-1.5zM1045.5 975h1.5v18h-1.5zM1045.5 969.5h1.5v2.5h-1.5zM1047 1050h1.5v3h-1.5zM1047 1038h1.5v3h-1.5zM1047 1026h1.5v9h-1.5zM1047 1011h1.5v12h-1.5zM1047 984h1.5v24h-1.5zM1048.5 1044h1.5v3h-1.5zM1048.5 1038h1.5v3h-1.5zM1048.5 1020h1.5v12h-1.5zM1048.5 996h1.5v21h-1.5zM1048.5 978h1.5v12h-1.5zM1050 1050h1.5v3h-1.5zM1050 1038h1.5v3h-1.5zM1050 1032h1.5v3h-1.5zM1050 1023h1.5v3h-1.5zM1050 1017h1.5v3h-1.5zM1050 1002h1.5v12h-1.5zM1050 993h1.5v6h-1.5zM1050 969.5h1.5v17.5h-1.5zM1051.5 1047h1.5v3h-1.5zM1051.5 1035h1.5v3h-1.5zM1051.5 1023h1.5v6h-1.5zM1051.5 1005h1.5v15h-1.5zM1051.5 975h1.5v27h-1.5zM1053 1066.5h1.5v4.5h-1.5zM1053 1059h1.5v3.5h-1.5zM1053 1050h1.5v3h-1.5zM1053 1041h1.5v6h-1.5zM1053 1035h1.5v3h-1.5zM1053 1026h1.5v3h-1.5zM1053 996h1.5v6h-1.5zM1053 990h1.5v3h-1.5zM1054.5 1047h1.5v6h-1.5zM1054.5 1029h1.5v6h-1.5zM1054.5 1020h1.5v3h-1.5zM1054.5 1011h1.5v6h-1.5zM1054.5 975h1.5v33h-1.5zM1056 1023h1.5v3h-1.5zM1056 996h1.5v3h-1.5zM1056 975h1.5v3h-1.5zM1057.5 1066.5h1.5v4.5h-1.5zM1057.5 1053h1.5v3h-1.5zM1057.5 1044h1.5v3h-1.5zM1057.5 999h1.5v3h-1.5zM1059 1066.5h1.5v4.5h-1.5zM1059 1056h1.5v3h-1.5zM1059 1023h1.5v12h-1.5zM1059 1011h1.5v6h-1.5zM1059 1002h1.5v3h-1.5zM1059 987h1.5v9h-1.5zM1059 972h1.5v9h-1.5zM1060.5 1076h1.5v6h-1.5zM1060.5 1066.5h1.5v4.5h-1.5zM1060.5 1056h1.5v6.5h-1.5zM1060.5 1041h1.5v3h-1.5zM1060.5 1023h1.5v3h-1.5zM1060.5 1017h1.5v3h-1.5zM1060.5 999h1.5v6h-1.5zM1062 1062.5h1.5v4h-1.5zM1062 1053h1.5v3h-1.5zM1062 1038h1.5v6h-1.5zM1063.5 1047h1.5v3h-1.5zM1063.5 1023h1.5v18h-1.5zM1063.5 1017h1.5v3h-1.5zM1063.5 996h1.5v18h-1.5zM1063.5 990h1.5v3h-1.5zM1063.5 978h1.5v3h-1.5zM1065 1056h1.5v3h-1.5zM1065 1050h1.5v3h-1.5zM1065 1044h1.5v3h-1.5zM1066.5 1089h1.5v8.5h-1.5zM1066.5 1066.5h1.5v4.5h-1.5zM1066.5 1053h1.5v9.5h-1.5zM1066.5 1047h1.5v3h-1.5zM1066.5 1041h1.5v3h-1.5zM1066.5 1017h1.5v3h-1.5zM1066.5 990h1.5v3h-1.5zM1068 1041h1.5v9h-1.5zM1068 1035h1.5v3h-1.5zM1069.5 1026h1.5v3h-1.5zM1069.5 999h1.5v3h-1.5zM1069.5 978h1.5v3h-1.5zM1071 1047h1.5v6h-1.5zM1071 1035h1.5v3h-1.5zM1071 1026h1.5v6h-1.5zM1071 1017h1.5v3h-1.5zM1071 993h1.5v12h-1.5zM1071 984h1.5v3h-1.5zM1071 975h1.5v3h-1.5zM1072.5 1050h1.5v3h-1.5zM1072.5 1038h1.5v3h-1.5zM1072.5 1011h1.5v3h-1.5zM1072.5 990h1.5v3h-1.5zM1074 1053h1.5v3h-1.5zM1074 1044h1.5v6h-1.5zM1074 1035h1.5v3h-1.5zM1074 1029h1.5v3h-1.5zM1074 1020h1.5v6h-1.5zM1074 1011h1.5v6h-1.5zM1074 999h1.5v3h-1.5zM1074 984h1.5v3h-1.5zM1074 975h1.5v3h-1.5zM1075.5 1047h1.5v9h-1.5zM1075.5 1032h1.5v12h-1.5zM1075.5 1020h1.5v3h-1.5zM1075.5 1014h1.5v3h-1.5zM1075.5 999h1.5v6h-1.5zM1075.5 990h1.5v3h-1.5zM1075.5 978h1.5v6h-1.5zM1077 1059h1.5v12h-1.5zM1077 1029h1.5v12h-1.5zM1077 1014h1.5v9h-1.5zM1077 1005h1.5v6h-1.5zM1077 999h1.5v3h-1.5zM1077 987h1.5v6h-1.5zM1077 969.5h1.5v14.5h-1.5zM1078.5 1062.5h1.5v13.5h-1.5zM1078.5 1047h1.5v6h-1.5zM1078.5 1020h1.5v6h-1.5zM1078.5 1005h1.5v3h-1.5zM1078.5 993h1.5v3h-1.5zM1078.5 987h1.5v3h-1.5zM1078.5 975h1.5v3h-1.5zM1080 1047h1.5v3h-1.5zM1080 1035h1.5v3h-1.5zM1080 1023h1.5v3h-1.5zM1080 1017h1.5v3h-1.5zM1080 1011h1.5v3h-1.5zM1080 1002h1.5v3h-1.5zM1080 996h1.5v3h-1.5zM1080 990h1.5v3h-1.5zM1080 978h1.5v3h-1.5zM1081.5 1071h1.5v5h-1.5zM1081.5 1053h1.5v3h-1.5zM1081.5 1041h1.5v6h-1.5zM1081.5 1026h1.5v9h-1.5zM1081.5 1014h1.5v6h-1.5zM1081.5 984h1.5v3h-1.5zM1083 1056h1.5v3h-1.5zM1083 1047h1.5v3h-1.5zM1083 1041h1.5v3h-1.5zM1084.5 1056h1.5v6.5h-1.5zM1084.5 1047h1.5v6h-1.5zM1084.5 1041h1.5v3h-1.5zM1084.5 1023h1.5v3h-1.5zM1086 1056h1.5v6.5h-1.5zM1086 1044h1.5v3h-1.5zM1086 1038h1.5v3h-1.5zM1086 1014h1.5v12h-1.5zM1086 996h1.5v12h-1.5zM1086 975h1.5v3h-1.5zM1087.5 1059h1.5v3.5h-1.5zM1087.5 1050h1.5v3h-1.5zM1087.5 1041h1.5v3h-1.5zM1089 1053h1.5v3h-1.5zM1089 1044h1.5v3h-1.5zM1089 1038h1.5v3h-1.5zM1089 1020h1.5v9h-1.5zM1089 1005h1.5v3h-1.5zM1089 999h1.5v3h-1.5zM1089 990h1.5v3h-1.5zM1089 978h1.5v9h-1.5zM1089 972h1.5v3h-1.5zM1090.5 1059h1.5v12h-1.5zM1090.5 1041h1.5v9h-1.5zM1090.5 1029h1.5v3h-1.5zM1090.5 1005h1.5v3h-1.5zM1093.5 1026h1.5v15h-1.5zM1093.5 1014h1.5v9h-1.5zM1093.5 1005h1.5v6h-1.5zM1093.5 984h1.5v9h-1.5zM1093.5 969.5h1.5v11.5h-1.5zM1095 1047h1.5v3h-1.5zM1095 1035h1.5v9h-1.5zM1095 1026h1.5v6h-1.5zM1095 1020h1.5v3h-1.5zM1095 1011h1.5v3h-1.5zM1095 999h1.5v9h-1.5zM1095 993h1.5v3h-1.5zM1095 981h1.5v6h-1.5zM1095 969.5h1.5v5.5h-1.5zM1096.5 1044h1.5v6h-1.5zM1096.5 1026h1.5v3h-1.5zM1096.5 1014h1.5v3h-1.5zM1096.5 1005h1.5v3h-1.5zM1096.5 999h1.5v3h-1.5zM1096.5 987h1.5v6h-1.5zM1098 1056h1.5v3h-1.5zM1098 1038h1.5v6h-1.5zM1098 1017h1.5v3h-1.5zM1098 1011h1.5v3h-1.5zM1098 984h1.5v3h-1.5zM1099.5 1053h1.5v6h-1.5zM1099.5 1026h1.5v21h-1.5zM1099.5 1020h1.5v3h-1.5zM1099.5 1014h1.5v3h-1.5zM1099.5 1002h1.5v9h-1.5zM1099.5 996h1.5v3h-1.5zM1099.5 987h1.5v6h-1.5zM1099.5 972h1.5v12h-1.5zM1101 1071h1.5v5h-1.5zM1101 1059h1.5v3.5h-1.5zM1101 1044h1.5v12h-1.5zM1101 1008h1.5v3h-1.5zM1102.5 1050h1.5v6h-1.5zM1102.5 1032h1.5v3h-1.5zM1104 1089h1.5v8.5h-1.5zM1104 1076h1.5v6h-1.5zM1104 1050h1.5v3h-1.5zM1104 1041h1.5v3h-1.5zM1104 1014h1.5v6h-1.5zM1104 996h1.5v3h-1.5zM1105.5 1053h1.5v6h-1.5zM1105.5 1044h1.5v6h-1.5zM1105.5 993h1.5v3h-1.5zM1105.5 978h1.5v3h-1.5zM1107 1047h1.5v6h-1.5zM1107 1032h1.5v3h-1.5zM1107 1002h1.5v3h-1.5zM1107 987h1.5v3h-1.5zM1108.5 1050h1.5v9h-1.5zM1108.5 1044h1.5v3h-1.5zM1108.5 1026h1.5v3h-1.5zM1108.5 999h1.5v3h-1.5zM1110 1047h1.5v9h-1.5zM1110 1041h1.5v3h-1.5zM1110 999h1.5v3h-1.5zM1111.5 1047h1.5v3h-1.5zM1111.5 1023h1.5v3h-1.5zM1111.5 1017h1.5v3h-1.5zM1111.5 1011h1.5v3h-1.5zM1111.5 999h1.5v3h-1.5zM1111.5 993h1.5v3h-1.5zM1111.5 981h1.5v3h-1.5zM1111.5 975h1.5v3h-1.5zM1113 1059h1.5v3.5h-1.5zM1113 1047h1.5v6h-1.5zM1114.5 1047h1.5v6h-1.5zM1114.5 1035h1.5v9h-1.5zM1114.5 1017h1.5v3h-1.5zM1114.5 975h1.5v3h-1.5zM1116 1108h1.5v14h-1.5zM1116 1089h1.5v8.5h-1.5zM1116 1076h1.5v6h-1.5zM1116 1059h1.5v3.5h-1.5zM1116 1041h1.5v12h-1.5zM1116 1029h1.5v9h-1.5zM1116 1011h1.5v12h-1.5zM1116 984h1.5v18h-1.5zM1116 975h1.5v6h-1.5zM1117.5 1062.5h1.5v4h-1.5zM1117.5 1050h1.5v6h-1.5zM1117.5 1041h1.5v3h-1.5zM1117.5 1014h1.5v6h-1.5zM1117.5 990h1.5v3h-1.5zM1119 1056h1.5v3h-1.5zM1119 1050h1.5v3h-1.5zM1119 1014h1.5v3h-1.5zM1120.5 1062.5h1.5v4h-1.5zM1120.5 1044h1.5v12h-1.5zM1122 1053h1.5v3h-1.5zM1122 1047h1.5v3h-1.5zM1122 1038h1.5v3h-1.5zM1123.5 1056h1.5v3h-1.5zM1123.5 1050h1.5v3h-1.5zM1123.5 1041h1.5v3h-1.5zM1123.5 1011h1.5v3h-1.5zM1125 1050h1.5v6h-1.5zM1125 1023h1.5v12h-1.5zM1125 1005h1.5v15h-1.5zM1125 996h1.5v6h-1.5zM1125 990h1.5v3h-1.5zM1125 969.5h1.5v17.5h-1.5zM1126.5 1050h1.5v3h-1.5zM1126.5 1038h1.5v3h-1.5zM1126.5 1032h1.5v3h-1.5zM1126.5 1020h1.5v6h-1.5zM1126.5 1008h1.5v6h-1.5zM1126.5 1002h1.5v3h-1.5zM1126.5 990h1.5v9h-1.5zM1126.5 969.5h1.5v11.5h-1.5zM1128 1053h1.5v3h-1.5zM1128 1002h1.5v3h-1.5zM1128 993h1.5v6h-1.5zM1128 987h1.5v3h-1.5zM1128 978h1.5v3h-1.5zM1129.5 1053h1.5v3h-1.5zM1129.5 1041h1.5v6h-1.5zM1129.5 1035h1.5v3h-1.5zM1129.5 1020h1.5v3h-1.5zM1129.5 1011h1.5v3h-1.5zM1129.5 1005h1.5v3h-1.5zM1131 1035h1.5v6h-1.5zM1131 1014h1.5v9h-1.5zM1131 981h1.5v30h-1.5zM1132.5 1035h1.5v9h-1.5zM1132.5 1023h1.5v3h-1.5zM1132.5 1017h1.5v3h-1.5zM1132.5 993h1.5v21h-1.5zM1132.5 987h1.5v3h-1.5zM1132.5 978h1.5v6h-1.5zM1134 1026h1.5v15h-1.5zM1134 1011h1.5v6h-1.5zM1134 999h1.5v3h-1.5zM1134 990h1.5v3h-1.5zM1134 984h1.5v3h-1.5zM1134 972h1.5v3h-1.5zM1135.5 1053h1.5v3h-1.5zM1135.5 1035h1.5v3h-1.5zM1135.5 1029h1.5v3h-1.5zM1135.5 1014h1.5v6h-1.5zM1135.5 1008h1.5v3h-1.5zM1135.5 999h1.5v6h-1.5zM1135.5 978h1.5v9h-1.5zM1137 1029h1.5v9h-1.5zM1137 1011h1.5v12h-1.5zM1137 993h1.5v15h-1.5zM1137 984h1.5v6h-1.5zM1137 972h1.5v3h-1.5zM1138.5 1026h1.5v15h-1.5zM1138.5 1011h1.5v12h-1.5zM1138.5 990h1.5v3h-1.5zM1138.5 981h1.5v3h-1.5zM1138.5 975h1.5v3h-1.5zM1140 1035h1.5v6h-1.5zM1140 1026h1.5v3h-1.5zM1140 1017h1.5v6h-1.5zM1140 1011h1.5v3h-1.5zM1140 987h1.5v3h-1.5zM1141.5 1035h1.5v3h-1.5zM1141.5 1026h1.5v6h-1.5zM1141.5 1014h1.5v3h-1.5zM1141.5 1002h1.5v9h-1.5zM1141.5 996h1.5v3h-1.5zM1141.5 990h1.5v3h-1.5zM1141.5 984h1.5v3h-1.5zM1141.5 975h1.5v6h-1.5zM1143 996h1.5v45h-1.5zM1143 990h1.5v3h-1.5zM1143 978h1.5v6h-1.5zM1144.5 1035h1.5v3h-1.5zM1144.5 1026h1.5v3h-1.5zM1144.5 1011h1.5v6h-1.5zM1144.5 999h1.5v3h-1.5zM1144.5 984h1.5v3h-1.5zM1144.5 969.5h1.5v8.5h-1.5zM1146 1038h1.5v3h-1.5zM1146 1029h1.5v6h-1.5zM1146 1017h1.5v6h-1.5zM1146 1008h1.5v6h-1.5zM1146 1002h1.5v3h-1.5zM1146 990h1.5v3h-1.5zM1147.5 1038h1.5v3h-1.5zM1147.5 1017h1.5v18h-1.5zM1147.5 1002h1.5v12h-1.5zM1147.5 993h1.5v6h-1.5zM1147.5 987h1.5v3h-1.5zM1147.5 975h1.5v9h-1.5zM1149 1023h1.5v3h-1.5zM1149 993h1.5v9h-1.5zM1149 975h1.5v15h-1.5zM1149 969.5h1.5v2.5h-1.5zM1150.5 1038h1.5v3h-1.5zM1150.5 1026h1.5v9h-1.5zM1150.5 1011h1.5v12h-1.5zM1150.5 1005h1.5v3h-1.5zM1150.5 999h1.5v3h-1.5zM1150.5 993h1.5v3h-1.5zM1150.5 981h1.5v6h-1.5zM1150.5 975h1.5v3h-1.5zM1152 1035h1.5v12h-1.5zM1152 1023h1.5v3h-1.5zM1152 999h1.5v3h-1.5zM1153.5 1038h1.5v3h-1.5zM1153.5 1026h1.5v3h-1.5zM1153.5 1014h1.5v3h-1.5zM1153.5 1005h1.5v6h-1.5zM1153.5 984h1.5v6h-1.5zM1153.5 969.5h1.5v8.5h-1.5zM1155 1020h1.5v9h-1.5zM1155 996h1.5v21h-1.5zM1155 978h1.5v15h-1.5zM1156.5 1032h1.5v9h-1.5zM1156.5 1017h1.5v12h-1.5zM1156.5 1008h1.5v6h-1.5zM1156.5 999h1.5v6h-1.5zM1156.5 993h1.5v3h-1.5zM1156.5 984h1.5v3h-1.5zM1156.5 978h1.5v3h-1.5zM1156.5 969.5h1.5v5.5h-1.5zM1158 1050h1.5v9h-1.5zM1159.5 1038h1.5v3h-1.5zM1159.5 1029h1.5v6h-1.5zM1159.5 1002h1.5v24h-1.5zM1159.5 993h1.5v6h-1.5zM1159.5 975h1.5v15h-1.5zM1161 1041h1.5v6h-1.5zM1161 1029h1.5v6h-1.5zM1161 1023h1.5v3h-1.5zM1161 999h1.5v3h-1.5zM1161 984h1.5v6h-1.5zM1161 978h1.5v3h-1.5zM1162.5 1035h1.5v9h-1.5zM1162.5 1026h1.5v3h-1.5zM1162.5 1014h1.5v9h-1.5zM1162.5 1005h1.5v6h-1.5zM1162.5 993h1.5v9h-1.5zM1162.5 975h1.5v12h-1.5zM1164 1044h1.5v6h-1.5zM1164 981h1.5v3h-1.5zM1165.5 1059h1.5v3.5h-1.5zM1165.5 1047h1.5v9h-1.5zM1165.5 1029h1.5v12h-1.5zM1165.5 1011h1.5v3h-1.5zM1165.5 1005h1.5v3h-1.5zM1165.5 990h1.5v12h-1.5zM1165.5 972h1.5v12h-1.5zM1167 1066.5h1.5v9.5h-1.5zM1167 1059h1.5v3.5h-1.5zM1167 1053h1.5v3h-1.5zM1167 1041h1.5v9h-1.5zM1167 1023h1.5v6h-1.5zM1168.5 1076h1.5v6h-1.5zM1168.5 1062.5h1.5v8.5h-1.5zM1168.5 1044h1.5v6h-1.5zM1168.5 1038h1.5v3h-1.5zM1168.5 1032h1.5v3h-1.5zM1168.5 1014h1.5v6h-1.5zM1168.5 1008h1.5v3h-1.5zM1168.5 999h1.5v6h-1.5zM1168.5 984h1.5v12h-1.5zM1168.5 975h1.5v6h-1.5zM1168.5 969.5h1.5v2.5h-1.5zM1170 1050h1.5v9h-1.5zM1170 1023h1.5v9h-1.5zM1170 1002h1.5v15h-1.5zM1170 996h1.5v3h-1.5zM1170 975h1.5v12h-1.5zM1171.5 1066.5h1.5v4.5h-1.5zM1171.5 1047h1.5v9h-1.5zM1171.5 1041h1.5v3h-1.5zM1171.5 1029h1.5v6h-1.5zM1171.5 1023h1.5v3h-1.5zM1171.5 1005h1.5v9h-1.5zM1171.5 993h1.5v3h-1.5zM1171.5 975h1.5v9h-1.5zM1173 1059h1.5v3.5h-1.5zM1173 1047h1.5v9h-1.5zM1173 1041h1.5v3h-1.5zM1173 1029h1.5v3h-1.5zM1173 1017h1.5v3h-1.5zM1173 1008h1.5v6h-1.5zM1173 996h1.5v3h-1.5zM1173 990h1.5v3h-1.5zM1173 978h1.5v3h-1.5zM1174.5 1044h1.5v6h-1.5zM1174.5 1026h1.5v3h-1.5zM1176 1053h1.5v3h-1.5zM1176 1044h1.5v6h-1.5zM1177.5 1071h1.5v5h-1.5zM1177.5 1062.5h1.5v4h-1.5zM1177.5 1056h1.5v3h-1.5zM1177.5 1047h1.5v3h-1.5zM1177.5 1041h1.5v3h-1.5zM1177.5 1026h1.5v6h-1.5zM1177.5 1014h1.5v3h-1.5zM1177.5 1008h1.5v3h-1.5zM1177.5 1002h1.5v3h-1.5zM1177.5 987h1.5v6h-1.5zM1179 1056h1.5v6.5h-1.5zM1179 1050h1.5v3h-1.5zM1179 1041h1.5v3h-1.5zM1179 1026h1.5v3h-1.5zM1179 1017h1.5v3h-1.5zM1179 984h1.5v3h-1.5zM1180.5 1056h1.5v3h-1.5zM1180.5 1047h1.5v6h-1.5zM1180.5 1035h1.5v9h-1.5zM1180.5 1023h1.5v9h-1.5zM1180.5 1017h1.5v3h-1.5zM1180.5 1005h1.5v6h-1.5zM1180.5 990h1.5v9h-1.5zM1182 1050h1.5v3h-1.5zM1182 1044h1.5v3h-1.5zM1183.5 1066.5h1.5v4.5h-1.5zM1183.5 1053h1.5v3h-1.5zM1183.5 1041h1.5v9h-1.5zM1185 1059h1.5v3.5h-1.5zM1185 1053h1.5v3h-1.5zM1185 1044h1.5v3h-1.5zM1186.5 1059h1.5v3.5h-1.5zM1186.5 1050h1.5v6h-1.5zM1186.5 1044h1.5v3h-1.5zM1186.5 1011h1.5v3h-1.5zM1186.5 975h1.5v3h-1.5zM1188 1056h1.5v3h-1.5zM1188 1050h1.5v3h-1.5zM1188 1044h1.5v3h-1.5zM1188 1023h1.5v6h-1.5zM1188 1002h1.5v3h-1.5zM1189.5 1047h1.5v9h-1.5zM1189.5 1026h1.5v3h-1.5zM1189.5 1020h1.5v3h-1.5zM1191 1044h1.5v15h-1.5zM1191 1035h1.5v3h-1.5zM1191 1023h1.5v9h-1.5zM1191 1017h1.5v3h-1.5zM1191 1002h1.5v9h-1.5zM1191 978h1.5v21h-1.5zM1192.5 1053h1.5v9.5h-1.5zM1192.5 1044h1.5v3h-1.5zM1192.5 1023h1.5v18h-1.5zM1192.5 1008h1.5v12h-1.5zM1192.5 999h1.5v3h-1.5zM1192.5 990h1.5v6h-1.5zM1192.5 984h1.5v3h-1.5zM1192.5 975h1.5v6h-1.5zM1194 1071h1.5v5h-1.5zM1194 1026h1.5v12h-1.5zM1194 1011h1.5v12h-1.5zM1194 1002h1.5v3h-1.5zM1194 987h1.5v9h-1.5zM1194 969.5h1.5v14.5h-1.5zM1195.5 1059h1.5v3.5h-1.5zM1195.5 1044h1.5v12h-1.5zM1195.5 1038h1.5v3h-1.5zM1195.5 1029h1.5v3h-1.5zM1195.5 1017h1.5v3h-1.5zM1195.5 993h1.5v9h-1.5zM1195.5 987h1.5v3h-1.5zM1195.5 978h1.5v3h-1.5zM1197 1056h1.5v3h-1.5zM1197 1044h1.5v6h-1.5zM1197 1035h1.5v3h-1.5zM1197 1014h1.5v3h-1.5zM1198.5 1066.5h1.5v4.5h-1.5zM1198.5 1056h1.5v6.5h-1.5zM1198.5 1041h1.5v9h-1.5zM1198.5 987h1.5v3h-1.5zM1200 1071h1.5v5h-1.5zM1200 1062.5h1.5v4h-1.5zM1200 1041h1.5v18h-1.5zM1200 1029h1.5v3h-1.5zM1200 1008h1.5v6h-1.5zM1200 993h1.5v6h-1.5zM1201.5 1035h1.5v9h-1.5zM1201.5 1002h1.5v21h-1.5zM1201.5 990h1.5v3h-1.5zM1201.5 984h1.5v3h-1.5zM1201.5 978h1.5v3h-1.5zM1201.5 969.5h1.5v5.5h-1.5zM1203 1066.5h1.5v4.5h-1.5zM1203 1056h1.5v6.5h-1.5zM1203 1044h1.5v6h-1.5zM1203 1017h1.5v3h-1.5zM1204.5 1059h1.5v7.5h-1.5zM1204.5 1041h1.5v3h-1.5zM1204.5 1023h1.5v3h-1.5zM1204.5 978h1.5v3h-1.5zM1206 1059h1.5v3.5h-1.5zM1206 1047h1.5v6h-1.5zM1206 1035h1.5v9h-1.5zM1206 1023h1.5v3h-1.5zM1206 1005h1.5v3h-1.5zM1206 996h1.5v6h-1.5zM1206 975h1.5v3h-1.5zM1207.5 1062.5h1.5v4h-1.5zM1207.5 1050h1.5v9h-1.5zM1209 1071h1.5v5h-1.5zM1209 1050h1.5v6h-1.5zM1209 1038h1.5v9h-1.5zM1209 1032h1.5v3h-1.5zM1209 1020h1.5v3h-1.5zM1209 1008h1.5v3h-1.5zM1209 1002h1.5v3h-1.5zM1209 978h1.5v6h-1.5zM1210.5 1076h1.5v21.5h-1.5zM1210.5 1056h1.5v6.5h-1.5zM1210.5 1047h1.5v6h-1.5zM1210.5 981h1.5v3h-1.5zM1212 1062.5h1.5v4h-1.5zM1212 1041h1.5v15h-1.5zM1212 1008h1.5v3h-1.5zM1212 990h1.5v3h-1.5zM1213.5 1053h1.5v9.5h-1.5zM1213.5 1038h1.5v6h-1.5zM1213.5 1029h1.5v3h-1.5zM1213.5 999h1.5v3h-1.5zM1215 1056h1.5v3h-1.5zM1215 1041h1.5v3h-1.5zM1215 1032h1.5v3h-1.5zM1215 984h1.5v3h-1.5zM1216.5 1089h1.5v8.5h-1.5zM1216.5 1062.5h1.5v19.5h-1.5zM1216.5 1047h1.5v9h-1.5zM1218 1076h1.5v6h-1.5zM1218 1056h1.5v15h-1.5zM1218 1050h1.5v3h-1.5zM1218 1044h1.5v3h-1.5zM1218 1032h1.5v9h-1.5zM1218 1017h1.5v3h-1.5zM1218 1008h1.5v3h-1.5zM1218 987h1.5v18h-1.5zM1218 972h1.5v12h-1.5zM1219.5 1071h1.5v5h-1.5zM1219.5 1056h1.5v3h-1.5zM1219.5 1050h1.5v3h-1.5zM1219.5 1035h1.5v9h-1.5zM1219.5 1023h1.5v9h-1.5zM1219.5 990h1.5v30h-1.5zM1219.5 969.5h1.5v17.5h-1.5zM1221 1089h1.5v8.5h-1.5zM1221 1056h1.5v26h-1.5zM1221 1050h1.5v3h-1.5zM1221 1038h1.5v6h-1.5zM1221 1026h1.5v9h-1.5zM1221 1017h1.5v3h-1.5zM1221 1011h1.5v3h-1.5zM1221 1005h1.5v3h-1.5zM1221 993h1.5v3h-1.5zM1221 975h1.5v3h-1.5zM1222.5 1053h1.5v3h-1.5zM1222.5 1002h1.5v39h-1.5zM1222.5 981h1.5v18h-1.5zM1222.5 975h1.5v3h-1.5zM1224 1053h1.5v6h-1.5zM1224 1044h1.5v3h-1.5zM1224 1035h1.5v6h-1.5zM1224 1017h1.5v9h-1.5zM1224 1011h1.5v3h-1.5zM1224 1002h1.5v6h-1.5zM1224 987h1.5v6h-1.5zM1224 981h1.5v3h-1.5zM1225.5 1059h1.5v3.5h-1.5zM1225.5 1053h1.5v3h-1.5zM1225.5 1023h1.5v27h-1.5zM1225.5 1008h1.5v9h-1.5zM1225.5 999h1.5v6h-1.5zM1225.5 981h1.5v15h-1.5zM1225.5 969.5h1.5v8.5h-1.5zM1227 1029h1.5v27h-1.5zM1227 1020h1.5v6h-1.5zM1227 1011h1.5v6h-1.5zM1227 1002h1.5v6h-1.5zM1227 996h1.5v3h-1.5zM1227 972h1.5v18h-1.5zM1228.5 1038h1.5v6h-1.5zM1230 1066.5h1.5v4.5h-1.5zM1230 1059h1.5v3.5h-1.5zM1230 1047h1.5v3h-1.5zM1230 1041h1.5v3h-1.5zM1230 1023h1.5v3h-1.5zM1230 1005h1.5v3h-1.5zM1230 984h1.5v6h-1.5zM1230 978h1.5v3h-1.5zM1231.5 1066.5h1.5v4.5h-1.5zM1231.5 1053h1.5v6h-1.5zM1231.5 1017h1.5v3h-1.5zM1233 1050h1.5v9h-1.5zM1233 1041h1.5v6h-1.5zM1233 1032h1.5v3h-1.5zM1233 1023h1.5v3h-1.5zM1233 1017h1.5v3h-1.5zM1233 1005h1.5v3h-1.5zM1233 996h1.5v6h-1.5zM1233 987h1.5v3h-1.5zM1233 978h1.5v3h-1.5zM1234.5 1062.5h1.5v13.5h-1.5zM1234.5 1047h1.5v6h-1.5zM1234.5 1005h1.5v3h-1.5zM1236 1071h1.5v11h-1.5zM1236 1056h1.5v6.5h-1.5zM1236 990h1.5v3h-1.5zM1237.5 1076h1.5v6h-1.5zM1237.5 1066.5h1.5v4.5h-1.5zM1237.5 1050h1.5v9h-1.5zM1239 1050h1.5v6h-1.5zM1239 1044h1.5v3h-1.5zM1239 996h1.5v3h-1.5zM1239 978h1.5v3h-1.5zM1240.5 1059h1.5v3.5h-1.5zM1240.5 1041h1.5v3h-1.5zM1240.5 1032h1.5v6h-1.5zM1240.5 1005h1.5v3h-1.5zM1242 1050h1.5v16.5h-1.5zM1242 1041h1.5v6h-1.5zM1242 1020h1.5v3h-1.5zM1242 1005h1.5v3h-1.5zM1242 996h1.5v3h-1.5zM1242 990h1.5v3h-1.5zM1242 978h1.5v6h-1.5zM1243.5 1071h1.5v11h-1.5zM1243.5 1056h1.5v10.5h-1.5zM1243.5 1047h1.5v6h-1.5zM1245 1082h1.5v7h-1.5zM1245 1053h1.5v23h-1.5zM1245 1041h1.5v9h-1.5zM1245 1032h1.5v3h-1.5zM1245 1020h1.5v9h-1.5zM1245 981h1.5v27h-1.5zM1245 972h1.5v6h-1.5zM1246.5 1066.5h1.5v4.5h-1.5zM1246.5 1044h1.5v18.5h-1.5zM1246.5 1032h1.5v3h-1.5zM1246.5 1011h1.5v3h-1.5zM1246.5 996h1.5v3h-1.5zM1246.5 990h1.5v3h-1.5zM1246.5 975h1.5v3h-1.5zM1248 1076h1.5v6h-1.5zM1248 1059h1.5v12h-1.5zM1248 1050h1.5v3h-1.5zM1248 1035h1.5v12h-1.5zM1248 1026h1.5v3h-1.5zM1248 999h1.5v3h-1.5zM1248 981h1.5v9h-1.5zM1249.5 1056h1.5v6.5h-1.5zM1249.5 1047h1.5v3h-1.5zM1249.5 1041h1.5v3h-1.5zM1249.5 1023h1.5v3h-1.5zM1249.5 1011h1.5v3h-1.5zM1249.5 981h1.5v3h-1.5zM1251 1053h1.5v3h-1.5zM1251 1044h1.5v3h-1.5zM1251 1029h1.5v3h-1.5zM1251 1014h1.5v3h-1.5zM1251 1002h1.5v6h-1.5zM1251 996h1.5v3h-1.5zM1251 984h1.5v3h-1.5zM1251 975h1.5v3h-1.5zM1252.5 1066.5h1.5v4.5h-1.5zM1252.5 1059h1.5v3.5h-1.5zM1254 1062.5h1.5v4h-1.5zM1254 1053h1.5v6h-1.5zM1254 1047h1.5v3h-1.5zM1255.5 1044h1.5v9h-1.5zM1255.5 1035h1.5v3h-1.5zM1255.5 999h1.5v3h-1.5zM1257 1056h1.5v3h-1.5zM1257 1041h1.5v3h-1.5zM1257 1020h1.5v3h-1.5zM1257 1011h1.5v3h-1.5zM1257 1005h1.5v3h-1.5zM1258.5 1062.5h1.5v8.5h-1.5zM1258.5 1056h1.5v3h-1.5zM1258.5 1050h1.5v3h-1.5zM1258.5 1041h1.5v3h-1.5zM1258.5 1029h1.5v3h-1.5zM1260 1041h1.5v3h-1.5zM1260 1035h1.5v3h-1.5zM1260 1020h1.5v3h-1.5zM1260 1008h1.5v3h-1.5zM1260 981h1.5v6h-1.5zM1261.5 1053h1.5v3h-1.5zM1261.5 1038h1.5v6h-1.5zM1261.5 1029h1.5v6h-1.5zM1261.5 1020h1.5v6h-1.5zM1261.5 1011h1.5v6h-1.5zM1261.5 1002h1.5v3h-1.5zM1261.5 996h1.5v3h-1.5zM1261.5 987h1.5v3h-1.5zM1261.5 969.5h1.5v5.5h-1.5zM1263 1053h1.5v3h-1.5zM1263 1044h1.5v6h-1.5zM1263 999h1.5v3h-1.5zM1264.5 1066.5h1.5v4.5h-1.5zM1264.5 1044h1.5v3h-1.5zM1264.5 990h1.5v3h-1.5zM1266 1056h1.5v3h-1.5zM1266 1044h1.5v3h-1.5zM1266 1026h1.5v3h-1.5zM1266 1020h1.5v3h-1.5zM1266 999h1.5v3h-1.5zM1267.5 1053h1.5v3h-1.5zM1267.5 1038h1.5v12h-1.5zM1267.5 1026h1.5v6h-1.5zM1267.5 987h1.5v3h-1.5zM1267.5 981h1.5v3h-1.5zM1269 1047h1.5v9h-1.5zM1269 1041h1.5v3h-1.5zM1269 1032h1.5v3h-1.5zM1269 1026h1.5v3h-1.5zM1269 1017h1.5v3h-1.5zM1269 1011h1.5v3h-1.5zM1269 996h1.5v3h-1.5zM1269 984h1.5v9h-1.5zM1269 975h1.5v6h-1.5zM1270.5 1062.5h1.5v8.5h-1.5zM1270.5 1053h1.5v6h-1.5zM1270.5 1047h1.5v3h-1.5zM1270.5 1032h1.5v6h-1.5zM1270.5 1023h1.5v6h-1.5zM1270.5 1014h1.5v6h-1.5zM1270.5 999h1.5v9h-1.5zM1270.5 990h1.5v6h-1.5zM1270.5 984h1.5v3h-1.5zM1270.5 978h1.5v3h-1.5zM1272 1066.5h1.5v22.5h-1.5zM1272 1056h1.5v3h-1.5zM1272 1050h1.5v3h-1.5zM1272 1044h1.5v3h-1.5zM1272 1035h1.5v6h-1.5zM1272 1029h1.5v3h-1.5zM1272 1017h1.5v3h-1.5zM1272 1011h1.5v3h-1.5zM1272 1002h1.5v3h-1.5zM1272 993h1.5v6h-1.5zM1272 981h1.5v9h-1.5zM1272 975h1.5v3h-1.5zM1273.5 1059h1.5v7.5h-1.5zM1273.5 1044h1.5v3h-1.5zM1273.5 975h1.5v6h-1.5zM1275 1041h1.5v18h-1.5zM1275 1026h1.5v3h-1.5zM1276.5 1038h1.5v3h-1.5zM1276.5 1026h1.5v6h-1.5zM1276.5 996h1.5v27h-1.5zM1276.5 990h1.5v3h-1.5zM1276.5 981h1.5v6h-1.5zM1276.5 969.5h1.5v5.5h-1.5zM1278 1053h1.5v6h-1.5zM1278 1047h1.5v3h-1.5zM1278 1026h1.5v3h-1.5zM1278 1011h1.5v9h-1.5zM1278 1002h1.5v6h-1.5zM1278 990h1.5v6h-1.5zM1278 975h1.5v6h-1.5zM1278 969.5h1.5v2.5h-1.5zM1279.5 1062.5h1.5v4h-1.5zM1279.5 1044h1.5v6h-1.5zM1281 1050h1.5v3h-1.5zM1281 1026h1.5v15h-1.5zM1281 1020h1.5v3h-1.5zM1281 996h1.5v18h-1.5zM1281 984h1.5v6h-1.5zM1281 969.5h1.5v8.5h-1.5zM1282.5 1053h1.5v3h-1.5zM1282.5 1032h1.5v18h-1.5zM1282.5 999h1.5v21h-1.5zM1282.5 972h1.5v21h-1.5zM1284 1071h1.5v5h-1.5zM1284 1056h1.5v6.5h-1.5zM1284 1044h1.5v3h-1.5zM1284 1014h1.5v3h-1.5zM1284 978h1.5v27h-1.5zM1285.5 1056h1.5v3h-1.5zM1285.5 1038h1.5v6h-1.5zM1285.5 1032h1.5v3h-1.5zM1285.5 1011h1.5v3h-1.5zM1285.5 1002h1.5v3h-1.5zM1285.5 993h1.5v3h-1.5zM1287 1066.5h1.5v9.5h-1.5zM1287 1059h1.5v3.5h-1.5zM1287 1050h1.5v6h-1.5zM1287 1041h1.5v3h-1.5zM1288.5 1059h1.5v3.5h-1.5zM1288.5 1044h1.5v9h-1.5zM1288.5 1035h1.5v3h-1.5zM1288.5 1029h1.5v3h-1.5zM1288.5 1023h1.5v3h-1.5zM1288.5 993h1.5v21h-1.5zM1288.5 975h1.5v15h-1.5zM1290 1062.5h1.5v4h-1.5zM1290 1053h1.5v6h-1.5zM1290 1038h1.5v6h-1.5zM1290 1029h1.5v3h-1.5zM1291.5 1066.5h1.5v4.5h-1.5zM1291.5 1053h1.5v9.5h-1.5zM1291.5 1044h1.5v6h-1.5zM1291.5 1035h1.5v3h-1.5zM1291.5 1026h1.5v6h-1.5zM1291.5 1017h1.5v6h-1.5zM1291.5 1011h1.5v3h-1.5zM1291.5 1002h1.5v6h-1.5zM1291.5 996h1.5v3h-1.5zM1291.5 975h1.5v12h-1.5zM1293 1056h1.5v3h-1.5zM1293 1044h1.5v9h-1.5zM1293 1035h1.5v6h-1.5zM1293 1020h1.5v3h-1.5zM1293 996h1.5v3h-1.5zM1294.5 1056h1.5v6.5h-1.5zM1294.5 1044h1.5v3h-1.5zM1296 1056h1.5v6.5h-1.5zM1296 1044h1.5v9h-1.5zM1297.5 1071h1.5v5h-1.5zM1297.5 1062.5h1.5v4h-1.5zM1297.5 1047h1.5v3h-1.5zM1297.5 1029h1.5v12h-1.5zM1297.5 1023h1.5v3h-1.5zM1297.5 1011h1.5v9h-1.5zM1297.5 1002h1.5v6h-1.5zM1297.5 996h1.5v3h-1.5zM1297.5 990h1.5v3h-1.5zM1297.5 984h1.5v3h-1.5zM1297.5 969.5h1.5v11.5h-1.5zM1299 1056h1.5v3h-1.5zM1299 1041h1.5v12h-1.5zM1299 1026h1.5v6h-1.5zM1299 1017h1.5v6h-1.5zM1299 996h1.5v3h-1.5zM1299 987h1.5v6h-1.5zM1300.5 1050h1.5v3h-1.5zM1300.5 1026h1.5v3h-1.5zM1300.5 1017h1.5v3h-1.5zM1302 1082h1.5v7h-1.5zM1302 1059h1.5v7.5h-1.5zM1302 1053h1.5v3h-1.5zM1302 1047h1.5v3h-1.5zM1302 1041h1.5v3h-1.5zM1302 1014h1.5v3h-1.5zM1302 984h1.5v3h-1.5zM1303.5 1059h1.5v3.5h-1.5zM1303.5 1053h1.5v3h-1.5zM1303.5 1038h1.5v12h-1.5zM1303.5 1026h1.5v3h-1.5zM1303.5 987h1.5v3h-1.5zM1305 1056h1.5v10.5h-1.5zM1305 1041h1.5v6h-1.5zM1305 1017h1.5v9h-1.5zM1305 1005h1.5v6h-1.5zM1305 990h1.5v9h-1.5zM1306.5 1076h1.5v6h-1.5zM1306.5 1059h1.5v7.5h-1.5zM1306.5 1053h1.5v3h-1.5zM1306.5 1038h1.5v9h-1.5zM1306.5 1017h1.5v3h-1.5zM1306.5 1005h1.5v6h-1.5zM1306.5 996h1.5v6h-1.5zM1306.5 990h1.5v3h-1.5zM1306.5 975h1.5v6h-1.5zM1308 1047h1.5v6h-1.5zM1308 1035h1.5v3h-1.5zM1308 1023h1.5v3h-1.5zM1308 1014h1.5v3h-1.5zM1309.5 1038h1.5v21h-1.5zM1309.5 1026h1.5v9h-1.5zM1309.5 1014h1.5v6h-1.5zM1309.5 1005h1.5v3h-1.5zM1309.5 993h1.5v9h-1.5zM1309.5 978h1.5v12h-1.5zM1309.5 972h1.5v3h-1.5zM1311 1062.5h1.5v4h-1.5zM1311 1050h1.5v6h-1.5zM1311 1041h1.5v6h-1.5zM1311 1029h1.5v6h-1.5zM1311 1014h1.5v3h-1.5zM1311 1002h1.5v9h-1.5zM1311 996h1.5v3h-1.5zM1311 981h1.5v3h-1.5zM1311 975h1.5v3h-1.5zM1312.5 1062.5h1.5v4h-1.5zM1312.5 1056h1.5v3h-1.5zM1312.5 1050h1.5v3h-1.5zM1312.5 1008h1.5v36h-1.5zM1312.5 978h1.5v27h-1.5zM1312.5 972h1.5v3h-1.5zM1314 1062.5h1.5v4h-1.5zM1314 1053h1.5v6h-1.5zM1314 1041h1.5v6h-1.5zM1314 1029h1.5v6h-1.5zM1314 1008h1.5v3h-1.5zM1314 1002h1.5v3h-1.5zM1314 987h1.5v12h-1.5zM1314 981h1.5v3h-1.5zM1314 975h1.5v3h-1.5zM1314 969.5h1.5v2.5h-1.5zM1315.5 1047h1.5v3h-1.5zM1315.5 1041h1.5v3h-1.5zM1315.5 1029h1.5v9h-1.5zM1315.5 1023h1.5v3h-1.5zM1315.5 1005h1.5v15h-1.5zM1315.5 999h1.5v3h-1.5zM1315.5 981h1.5v15h-1.5zM1315.5 972h1.5v3h-1.5zM1317 1059h1.5v3.5h-1.5zM1317 1053h1.5v3h-1.5zM1317 1041h1.5v9h-1.5zM1317 1032h1.5v3h-1.5zM1317 1002h1.5v3h-1.5zM1317 987h1.5v3h-1.5zM1318.5 1062.5h1.5v8.5h-1.5zM1318.5 1047h1.5v3h-1.5zM1318.5 1041h1.5v3h-1.5zM1318.5 1023h1.5v3h-1.5zM1320 1062.5h1.5v4h-1.5zM1320 1056h1.5v3h-1.5zM1320 1047h1.5v6h-1.5zM1320 1041h1.5v3h-1.5zM1320 1035h1.5v3h-1.5zM1320 1011h1.5v3h-1.5zM1320 1005h1.5v3h-1.5zM1320 984h1.5v12h-1.5zM1320 975h1.5v3h-1.5zM1321.5 1053h1.5v3h-1.5zM1321.5 1047h1.5v3h-1.5zM1321.5 1038h1.5v3h-1.5zM1321.5 1032h1.5v3h-1.5zM1321.5 1023h1.5v6h-1.5zM1321.5 1017h1.5v3h-1.5zM1321.5 990h1.5v3h-1.5zM1321.5 975h1.5v3h-1.5zM1323 1050h1.5v3h-1.5zM1323 1035h1.5v6h-1.5zM1323 1026h1.5v3h-1.5zM1323 1014h1.5v3h-1.5zM1323 1008h1.5v3h-1.5zM1323 993h1.5v12h-1.5zM1323 984h1.5v3h-1.5zM1323 978h1.5v3h-1.5zM1324.5 1062.5h1.5v8.5h-1.5zM1324.5 1053h1.5v6h-1.5zM1324.5 1038h1.5v3h-1.5zM1326 1076h1.5v13h-1.5zM1326 1062.5h1.5v8.5h-1.5zM1326 1053h1.5v3h-1.5zM1326 1044h1.5v3h-1.5zM1326 1008h1.5v3h-1.5zM1327.5 1062.5h1.5v4h-1.5zM1327.5 1050h1.5v9h-1.5zM1327.5 1041h1.5v3h-1.5zM1327.5 1029h1.5v9h-1.5zM1327.5 1017h1.5v6h-1.5zM1327.5 1008h1.5v6h-1.5zM1327.5 1002h1.5v3h-1.5zM1327.5 987h1.5v6h-1.5zM1327.5 981h1.5v3h-1.5zM1327.5 975h1.5v3h-1.5zM1329 1053h1.5v3h-1.5zM1329 1047h1.5v3h-1.5zM1329 1041h1.5v3h-1.5zM1329 1035h1.5v3h-1.5zM1329 1029h1.5v3h-1.5zM1329 1017h1.5v3h-1.5zM1329 993h1.5v3h-1.5zM1330.5 1038h1.5v18h-1.5zM1330.5 1029h1.5v3h-1.5zM1330.5 1017h1.5v3h-1.5zM1330.5 1005h1.5v6h-1.5zM1330.5 990h1.5v9h-1.5zM1330.5 978h1.5v3h-1.5zM1332 1059h1.5v3.5h-1.5zM1332 1053h1.5v3h-1.5zM1332 1044h1.5v3h-1.5zM1332 1020h1.5v3h-1.5zM1332 975h1.5v3h-1.5zM1333.5 1053h1.5v3h-1.5zM1333.5 1041h1.5v3h-1.5zM1333.5 1026h1.5v3h-1.5zM1333.5 1014h1.5v3h-1.5zM1333.5 1002h1.5v3h-1.5zM1333.5 981h1.5v3h-1.5zM1335 1056h1.5v10.5h-1.5zM1335 1044h1.5v9h-1.5zM1335 1029h1.5v3h-1.5zM1335 1020h1.5v6h-1.5zM1335 1005h1.5v3h-1.5zM1335 987h1.5v3h-1.5zM1336.5 1050h1.5v3h-1.5zM1336.5 1044h1.5v3h-1.5zM1336.5 1026h1.5v15h-1.5zM1336.5 1020h1.5v3h-1.5zM1336.5 1011h1.5v3h-1.5zM1338 1053h1.5v6h-1.5zM1338 1041h1.5v3h-1.5zM1338 1026h1.5v3h-1.5zM1338 1020h1.5v3h-1.5zM1338 1002h1.5v3h-1.5zM1338 993h1.5v3h-1.5zM1339.5 1053h1.5v6h-1.5zM1339.5 1032h1.5v9h-1.5zM1339.5 984h1.5v3h-1.5zM1341 1047h1.5v6h-1.5zM1341 1038h1.5v3h-1.5zM1341 1032h1.5v3h-1.5zM1341 1005h1.5v3h-1.5zM1341 984h1.5v9h-1.5zM1341 975h1.5v3h-1.5zM1342.5 1056h1.5v6.5h-1.5zM1342.5 1050h1.5v3h-1.5zM1342.5 1044h1.5v3h-1.5zM1342.5 999h1.5v3h-1.5zM1342.5 969.5h1.5v2.5h-1.5zM1344 1071h1.5v5h-1.5zM1344 1056h1.5v3h-1.5zM1344 1041h1.5v6h-1.5zM1344 1035h1.5v3h-1.5zM1344 1002h1.5v3h-1.5zM1344 981h1.5v3h-1.5zM1345.5 1053h1.5v13.5h-1.5zM1345.5 1047h1.5v3h-1.5zM1345.5 1026h1.5v3h-1.5zM1345.5 999h1.5v3h-1.5zM1345.5 981h1.5v9h-1.5zM1347 1059h1.5v3.5h-1.5zM1347 1050h1.5v3h-1.5zM1347 1029h1.5v12h-1.5zM1347 1008h1.5v15h-1.5zM1347 1002h1.5v3h-1.5zM1347 993h1.5v6h-1.5zM1347 984h1.5v3h-1.5zM1347 975h1.5v6h-1.5zM1348.5 1062.5h1.5v4h-1.5zM1348.5 1044h1.5v9h-1.5zM1348.5 1038h1.5v3h-1.5zM1348.5 1023h1.5v6h-1.5zM1348.5 993h1.5v27h-1.5zM1348.5 984h1.5v6h-1.5zM1348.5 969.5h1.5v11.5h-1.5zM1350 1059h1.5v7.5h-1.5zM1350 1047h1.5v3h-1.5zM1350 1041h1.5v3h-1.5zM1350 1032h1.5v3h-1.5zM1351.5 1066.5h1.5v4.5h-1.5zM1351.5 1056h1.5v3h-1.5zM1351.5 1041h1.5v9h-1.5zM1351.5 1035h1.5v3h-1.5zM1351.5 996h1.5v3h-1.5zM1351.5 984h1.5v3h-1.5zM1353 1047h1.5v6h-1.5zM1353 1041h1.5v3h-1.5zM1353 1032h1.5v3h-1.5zM1353 1017h1.5v3h-1.5zM1353 1008h1.5v3h-1.5zM1353 1002h1.5v3h-1.5zM1353 990h1.5v6h-1.5zM1353 975h1.5v3h-1.5zM1354.5 1059h1.5v3.5h-1.5zM1354.5 1050h1.5v6h-1.5zM1354.5 1041h1.5v6h-1.5zM1354.5 1029h1.5v3h-1.5zM1354.5 1023h1.5v3h-1.5zM1354.5 1017h1.5v3h-1.5zM1354.5 1011h1.5v3h-1.5zM1354.5 1005h1.5v3h-1.5zM1354.5 999h1.5v3h-1.5zM1354.5 990h1.5v6h-1.5zM1354.5 978h1.5v9h-1.5zM1356 1066.5h1.5v9.5h-1.5zM1356 1056h1.5v6.5h-1.5zM1356 1050h1.5v3h-1.5zM1356 1044h1.5v3h-1.5zM1356 1035h1.5v3h-1.5zM1356 1005h1.5v9h-1.5zM1356 996h1.5v3h-1.5zM1357.5 1059h1.5v3.5h-1.5zM1357.5 1053h1.5v3h-1.5zM1357.5 1047h1.5v3h-1.5zM1357.5 1041h1.5v3h-1.5zM1357.5 1029h1.5v3h-1.5zM1357.5 1023h1.5v3h-1.5zM1357.5 996h1.5v3h-1.5zM1359 1056h1.5v6.5h-1.5zM1359 1032h1.5v21h-1.5zM1359 1017h1.5v6h-1.5zM1359 1005h1.5v9h-1.5zM1359 993h1.5v9h-1.5zM1359 987h1.5v3h-1.5zM1359 972h1.5v12h-1.5zM1360.5 1066.5h1.5v4.5h-1.5zM1360.5 1044h1.5v18.5h-1.5zM1360.5 1035h1.5v6h-1.5zM1360.5 1029h1.5v3h-1.5zM1360.5 1023h1.5v3h-1.5zM1360.5 993h1.5v27h-1.5zM1360.5 975h1.5v12h-1.5zM1362 1059h1.5v3.5h-1.5zM1362 1050h1.5v3h-1.5zM1362 1044h1.5v3h-1.5zM1362 1029h1.5v6h-1.5zM1363.5 1041h1.5v12h-1.5zM1363.5 1032h1.5v3h-1.5zM1363.5 1020h1.5v9h-1.5zM1363.5 996h1.5v3h-1.5zM1363.5 990h1.5v3h-1.5zM1363.5 975h1.5v3h-1.5zM1365 1056h1.5v6.5h-1.5zM1365 1014h1.5v3h-1.5zM1366.5 1056h1.5v3h-1.5zM1366.5 1047h1.5v6h-1.5zM1366.5 1038h1.5v3h-1.5zM1366.5 1017h1.5v3h-1.5zM1368 1071h1.5v18h-1.5zM1368 1059h1.5v7.5h-1.5zM1368 1050h1.5v3h-1.5zM1368 1041h1.5v6h-1.5zM1368 1032h1.5v6h-1.5zM1368 1017h1.5v3h-1.5zM1368 1011h1.5v3h-1.5zM1368 999h1.5v6h-1.5zM1368 981h1.5v15h-1.5zM1368 975h1.5v3h-1.5zM1369.5 1050h1.5v9h-1.5zM1369.5 1044h1.5v3h-1.5zM1369.5 1032h1.5v3h-1.5zM1369.5 1026h1.5v3h-1.5zM1369.5 990h1.5v3h-1.5zM1369.5 978h1.5v3h-1.5zM1371 1062.5h1.5v4h-1.5zM1371 1050h1.5v6h-1.5zM1371 1044h1.5v3h-1.5zM1372.5 1062.5h1.5v4h-1.5zM1372.5 1053h1.5v3h-1.5zM1372.5 1044h1.5v3h-1.5zM1372.5 1038h1.5v3h-1.5zM1372.5 1029h1.5v3h-1.5zM1372.5 1014h1.5v3h-1.5zM1372.5 999h1.5v3h-1.5zM1372.5 990h1.5v3h-1.5zM1374 1041h1.5v3h-1.5zM1374 1023h1.5v3h-1.5zM1374 1014h1.5v3h-1.5zM1374 996h1.5v12h-1.5zM1374 987h1.5v6h-1.5zM1374 981h1.5v3h-1.5zM1375.5 1053h1.5v18h-1.5zM1377 1082h1.5v7h-1.5zM1377 1071h1.5v5h-1.5zM1377 1053h1.5v13.5h-1.5zM1377 1044h1.5v3h-1.5zM1377 996h1.5v3h-1.5zM1378.5 1108h1.5v14h-1.5zM1378.5 1076h1.5v6h-1.5zM1378.5 1062.5h1.5v4h-1.5zM1378.5 1050h1.5v6h-1.5zM1378.5 1041h1.5v3h-1.5zM1378.5 1020h1.5v3h-1.5zM1378.5 978h1.5v3h-1.5zM1380 1050h1.5v16.5h-1.5zM1380 1044h1.5v3h-1.5zM1380 1029h1.5v3h-1.5zM1380 1017h1.5v3h-1.5zM1380 1008h1.5v3h-1.5zM1380 999h1.5v3h-1.5zM1381.5 1062.5h1.5v4h-1.5zM1381.5 1050h1.5v3h-1.5zM1381.5 1035h1.5v3h-1.5zM1381.5 1029h1.5v3h-1.5zM1381.5 1014h1.5v3h-1.5zM1383 1056h1.5v6.5h-1.5zM1383 1050h1.5v3h-1.5zM1383 1041h1.5v3h-1.5zM1383 1026h1.5v3h-1.5zM1383 1014h1.5v3h-1.5zM1383 978h1.5v3h-1.5zM1384.5 1050h1.5v16.5h-1.5zM1384.5 1041h1.5v6h-1.5zM1384.5 1002h1.5v3h-1.5zM1384.5 975h1.5v3h-1.5zM1386 1050h1.5v12.5h-1.5zM1386 1041h1.5v3h-1.5zM1386 1005h1.5v6h-1.5zM1387.5 1056h1.5v3h-1.5zM1387.5 1023h1.5v3h-1.5zM1389 1053h1.5v3h-1.5zM1389 1041h1.5v6h-1.5zM1389 1029h1.5v3h-1.5zM1389 1008h1.5v3h-1.5zM1389 999h1.5v3h-1.5zM1389 978h1.5v3h-1.5zM1390.5 1053h0.5v3h-0.5zM1390.5 1047h0.5v3h-0.5zM1390.5 1041h0.5v3h-0.5zM1390.5 1026h0.5v3h-0.5zM1390.5 1005h0.5v3h-0.5zM1498 1059h1.5v3.5h-1.5zM1498 1041h1.5v15h-1.5zM1498 1032h1.5v3h-1.5zM1498 1020h1.5v9h-1.5zM1498 999h1.5v12h-1.5zM1498 975h1.5v21h-1.5zM1499.5 1071h1.5v5h-1.5zM1499.5 1044h1.5v18.5h-1.5zM1499.5 1029h1.5v3h-1.5zM1499.5 1008h1.5v6h-1.5zM1499.5 996h1.5v6h-1.5zM1499.5 987h1.5v6h-1.5zM1499.5 975h1.5v9h-1.5zM1501 1089h1.5v8.5h-1.5zM1501 1059h1.5v17h-1.5zM1501 1047h1.5v9h-1.5zM1501 1038h1.5v6h-1.5zM1501 1011h1.5v6h-1.5zM1501 996h1.5v3h-1.5zM1501 990h1.5v3h-1.5zM1501 975h1.5v6h-1.5zM1502.5 1038h1.5v15h-1.5zM1502.5 1029h1.5v3h-1.5zM1502.5 1023h1.5v3h-1.5zM1502.5 1017h1.5v3h-1.5zM1502.5 1011h1.5v3h-1.5zM1502.5 999h1.5v6h-1.5zM1502.5 990h1.5v3h-1.5zM1502.5 981h1.5v3h-1.5zM1504 1053h1.5v9.5h-1.5zM1504 1047h1.5v3h-1.5zM1504 1038h1.5v6h-1.5zM1504 1032h1.5v3h-1.5zM1504 1026h1.5v3h-1.5zM1504 1014h1.5v3h-1.5zM1504 1005h1.5v6h-1.5zM1504 996h1.5v3h-1.5zM1504 975h1.5v12h-1.5zM1505.5 1066.5h1.5v4.5h-1.5zM1505.5 1056h1.5v6.5h-1.5zM1505.5 1050h1.5v3h-1.5zM1505.5 1026h1.5v12h-1.5zM1505.5 1014h1.5v3h-1.5zM1505.5 975h1.5v36h-1.5zM1507 1076h1.5v6h-1.5zM1507 1050h1.5v21h-1.5zM1507 1041h1.5v3h-1.5zM1507 975h1.5v3h-1.5zM1508.5 1059h1.5v12h-1.5zM1508.5 1044h1.5v12h-1.5zM1508.5 1023h1.5v6h-1.5zM1508.5 1014h1.5v6h-1.5zM1508.5 1008h1.5v3h-1.5zM1508.5 996h1.5v9h-1.5zM1508.5 987h1.5v6h-1.5zM1508.5 975h1.5v9h-1.5zM1510 1050h1.5v21h-1.5zM1510 1044h1.5v3h-1.5zM1510 1032h1.5v3h-1.5zM1510 1017h1.5v3h-1.5zM1510 1002h1.5v3h-1.5zM1510 993h1.5v3h-1.5zM1510 987h1.5v3h-1.5zM1510 975h1.5v3h-1.5zM1511.5 1056h1.5v3h-1.5zM1511.5 1047h1.5v6h-1.5zM1511.5 1041h1.5v3h-1.5zM1513 1059h1.5v17h-1.5zM1513 1050h1.5v3h-1.5zM1513 1026h1.5v3h-1.5zM1513 987h1.5v3h-1.5zM1514.5 1041h1.5v21.5h-1.5zM1514.5 1026h1.5v12h-1.5zM1514.5 1020h1.5v3h-1.5zM1514.5 1014h1.5v3h-1.5zM1514.5 1008h1.5v3h-1.5zM1514.5 999h1.5v6h-1.5zM1514.5 984h1.5v12h-1.5zM1514.5 978h1.5v3h-1.5zM1516 1062.5h1.5v19.5h-1.5zM1516 1053h1.5v6h-1.5zM1516 1041h1.5v9h-1.5zM1516 1011h1.5v3h-1.5zM1517.5 1056h1.5v66h-1.5zM1517.5 1041h1.5v12h-1.5zM1517.5 1032h1.5v3h-1.5zM1517.5 1017h1.5v3h-1.5zM1517.5 1011h1.5v3h-1.5zM1517.5 999h1.5v3h-1.5zM1517.5 978h1.5v3h-1.5zM1519 1056h1.5v3h-1.5zM1519 1050h1.5v3h-1.5zM1519 1044h1.5v3h-1.5zM1519 1038h1.5v3h-1.5zM1520.5 1108h1.5v14h-1.5zM1520.5 1082h1.5v7h-1.5zM1520.5 1066.5h1.5v9.5h-1.5zM1520.5 1056h1.5v6.5h-1.5zM1520.5 1041h1.5v12h-1.5zM1520.5 1029h1.5v3h-1.5zM1520.5 1017h1.5v3h-1.5zM1520.5 1005h1.5v6h-1.5zM1520.5 996h1.5v6h-1.5zM1520.5 987h1.5v3h-1.5zM1520.5 975h1.5v6h-1.5zM1520.5 969.5h1.5v2.5h-1.5zM1522 1071h1.5v11h-1.5zM1522 1059h1.5v3.5h-1.5zM1522 1050h1.5v3h-1.5zM1522 1044h1.5v3h-1.5zM1522 1032h1.5v3h-1.5zM1522 1026h1.5v3h-1.5zM1522 993h1.5v3h-1.5zM1523.5 1066.5h0.5v15.5h-0.5zM1523.5 1050h0.5v9h-0.5zM1523.5 1020h0.5v3h-0.5zM940 1009h2v1.5h-2zM1156 1009h2v1.5h-2zM1162 1009h2v1.5h-2zM1172 1009h2v1.5h-2zM1248 1009h2v1.5h-2zM890 1036h2v1.5h-2zM960 1036h2v1.5h-2zM898 1025h2v1.5h-2zM944 1025h2v1.5h-2zM1184 1024h2v1.5h-2zM1190 1024h2v1.5h-2zM1204 1024h2v1.5h-2zM1248 1024h2v1.5h-2z" fill="rgb(0,0,184)"/><path d="M732 1097.5h1.5v24.5h-1.5zM733.5 1097.5h1.5v10.5h-1.5zM733.5 1076h1.5v6h-1.5zM735 1082h1.5v26h-1.5zM735 1066.5h1.5v4.5h-1.5zM735 990h1.5v3h-1.5zM735 978h1.5v3h-1.5zM736.5 1089h1.5v8.5h-1.5zM736.5 1062.5h1.5v8.5h-1.5zM738 1089h1.5v33h-1.5zM739.5 1108h1.5v14h-1.5zM739.5 1076h1.5v13h-1.5zM741 1082h1.5v7h-1.5zM742.5 1071h1.5v26.5h-1.5zM742.5 1005h1.5v3h-1.5zM744 1097.5h1.5v10.5h-1.5zM747 1097.5h1.5v24.5h-1.5zM748.5 1108h1.5v14h-1.5zM748.5 1089h1.5v8.5h-1.5zM748.5 1076h1.5v6h-1.5zM751.5 1089h1.5v33h-1.5zM753 1097.5h1.5v10.5h-1.5zM753 1017h1.5v3h-1.5zM754.5 1044h1.5v3h-1.5zM756 1082h1.5v15.5h-1.5zM757.5 1082h1.5v7h-1.5zM759 1097.5h1.5v24.5h-1.5zM760.5 1082h1.5v15.5h-1.5zM762 1082h1.5v15.5h-1.5zM763.5 1108h1.5v14h-1.5zM763.5 1082h1.5v15.5h-1.5zM763.5 1041h1.5v3h-1.5zM763.5 1023h1.5v3h-1.5zM765 1082h1.5v7h-1.5zM769.5 1047h1.5v3h-1.5zM772.5 1076h1.5v21.5h-1.5zM774 1071h1.5v18h-1.5zM774 1050h1.5v3h-1.5zM777 1082h1.5v15.5h-1.5zM777 1035h1.5v3h-1.5zM778.5 1082h1.5v15.5h-1.5zM780 1097.5h1.5v10.5h-1.5zM783 1097.5h1.5v24.5h-1.5zM784.5 1076h1.5v21.5h-1.5zM786 1108h1.5v14h-1.5zM786 1089h1.5v8.5h-1.5zM786 1041h1.5v3h-1.5zM790.5 1082h1.5v15.5h-1.5zM792 1082h1.5v26h-1.5zM796.5 1076h1.5v13h-1.5zM796.5 990h1.5v3h-1.5zM798 1076h1.5v6h-1.5zM798 1056h1.5v3h-1.5zM801 1071h1.5v5h-1.5zM805.5 1089h1.5v8.5h-1.5zM805.5 1076h1.5v6h-1.5zM805.5 1047h1.5v3h-1.5zM808.5 1066.5h1.5v4.5h-1.5zM808.5 1041h1.5v6h-1.5zM808.5 1008h1.5v3h-1.5zM810 1108h1.5v14h-1.5zM810 1076h1.5v13h-1.5zM811.5 1108h1.5v14h-1.5zM813 1082h1.5v7h-1.5zM813 1066.5h1.5v4.5h-1.5zM814.5 1097.5h1.5v10.5h-1.5zM819 1066.5h1.5v9.5h-1.5zM819 1050h1.5v3h-1.5zM822 1082h1.5v7h-1.5zM822 1059h1.5v3.5h-1.5zM823.5 1108h1.5v14h-1.5zM823.5 1082h1.5v15.5h-1.5zM823.5 1050h1.5v3h-1.5zM823.5 1032h1.5v3h-1.5zM823.5 984h1.5v3h-1.5zM825 1097.5h1.5v10.5h-1.5zM825 1059h1.5v3.5h-1.5zM826.5 1108h1.5v14h-1.5zM826.5 1089h1.5v8.5h-1.5zM828 1041h1.5v3h-1.5zM829.5 1082h1.5v15.5h-1.5zM829.5 1066.5h1.5v9.5h-1.5zM829.5 981h1.5v6h-1.5zM831 1108h1.5v14h-1.5zM831 1082h1.5v7h-1.5zM832.5 1076h1.5v13h-1.5zM834 1082h1.5v40h-1.5zM834 1050h1.5v3h-1.5zM835.5 1082h1.5v15.5h-1.5zM835.5 1066.5h1.5v4.5h-1.5zM835.5 1038h1.5v3h-1.5zM835.5 1032h1.5v3h-1.5zM835.5 1023h1.5v3h-1.5zM837 1097.5h1.5v10.5h-1.5zM837 1082h1.5v7h-1.5zM837 999h1.5v3h-1.5zM838.5 1108h1.5v14h-1.5zM838.5 1050h1.5v3h-1.5zM838.5 1029h1.5v3h-1.5zM838.5 1020h1.5v3h-1.5zM840 1108h1.5v14h-1.5zM840 1071h1.5v5h-1.5zM843 1082h1.5v7h-1.5zM843 1062.5h1.5v13.5h-1.5zM844.5 1097.5h1.5v24.5h-1.5zM844.5 1082h1.5v7h-1.5zM846 1082h1.5v15.5h-1.5zM846 1071h1.5v5h-1.5zM847.5 1026h1.5v3h-1.5zM849 1089h1.5v33h-1.5zM852 1082h1.5v7h-1.5zM853.5 1097.5h1.5v10.5h-1.5zM855 1089h1.5v8.5h-1.5zM858 1097.5h1.5v10.5h-1.5zM858 1059h1.5v3.5h-1.5zM859.5 1108h1.5v14h-1.5zM859.5 1089h1.5v8.5h-1.5zM859.5 1029h1.5v3h-1.5zM861 1076h1.5v32h-1.5zM862.5 1108h1.5v14h-1.5zM862.5 1071h1.5v5h-1.5zM864 1108h1.5v14h-1.5zM864 1017h1.5v3h-1.5zM865.5 1097.5h1.5v10.5h-1.5zM865.5 1005h1.5v3h-1.5zM867 1026h1.5v3h-1.5zM867 996h1.5v3h-1.5zM867 984h1.5v3h-1.5zM867 978h1.5v3h-1.5zM868.5 1066.5h1.5v15.5h-1.5zM868.5 1041h1.5v3h-1.5zM870 1062.5h1.5v8.5h-1.5zM870 1056h1.5v3h-1.5zM870 1050h1.5v3h-1.5zM870 1044h1.5v3h-1.5zM870 1035h1.5v3h-1.5zM870 1020h1.5v3h-1.5zM870 981h1.5v24h-1.5zM870 975h1.5v3h-1.5zM871.5 1108h1.5v14h-1.5zM873 999h1.5v3h-1.5zM874.5 1076h1.5v6h-1.5zM874.5 1056h1.5v3h-1.5zM877.5 1097.5h1.5v24.5h-1.5zM877.5 1071h1.5v5h-1.5zM877.5 1062.5h1.5v4h-1.5zM879 1053h1.5v29h-1.5zM879 1044h1.5v3h-1.5zM879 1038h1.5v3h-1.5zM879 1029h1.5v3h-1.5zM879 1020h1.5v6h-1.5zM879 1005h1.5v3h-1.5zM879 993h1.5v6h-1.5zM879 981h1.5v3h-1.5zM879 972h1.5v3h-1.5zM882 1076h1.5v6h-1.5zM882 1059h1.5v3.5h-1.5zM882 1053h1.5v3h-1.5zM882 1047h1.5v3h-1.5zM883.5 1089h1.5v19h-1.5zM883.5 1066.5h1.5v4.5h-1.5zM883.5 1023h1.5v3h-1.5zM885 1053h1.5v3h-1.5zM886.5 1062.5h1.5v4h-1.5zM888 1071h1.5v5h-1.5zM888 1062.5h1.5v4h-1.5zM888 1050h1.5v3h-1.5zM888 1014h1.5v3h-1.5zM888 996h1.5v3h-1.5zM889.5 1066.5h1.5v4.5h-1.5zM889.5 1041h1.5v3h-1.5zM891 1082h1.5v7h-1.5zM892.5 1062.5h1.5v13.5h-1.5zM892.5 1023h1.5v3h-1.5zM892.5 1014h1.5v3h-1.5zM892.5 990h1.5v3h-1.5zM895.5 1066.5h1.5v4.5h-1.5zM897 1071h1.5v11h-1.5zM897 1062.5h1.5v4h-1.5zM900 1076h1.5v13h-1.5zM901.5 1071h1.5v11h-1.5zM903 1071h1.5v18h-1.5zM903 1053h1.5v3h-1.5zM904.5 1082h1.5v40h-1.5zM904.5 1066.5h1.5v4.5h-1.5zM904.5 1056h1.5v3h-1.5zM906 1076h1.5v6h-1.5zM907.5 1047h1.5v3h-1.5zM909 1059h1.5v7.5h-1.5zM909 1011h1.5v3h-1.5zM910.5 1097.5h1.5v10.5h-1.5zM912 1108h1.5v14h-1.5zM913.5 1047h1.5v3h-1.5zM913.5 975h1.5v3h-1.5zM915 1071h1.5v5h-1.5zM916.5 1066.5h1.5v15.5h-1.5zM916.5 1059h1.5v3.5h-1.5zM916.5 1023h1.5v3h-1.5zM918 1108h1.5v14h-1.5zM918 1089h1.5v8.5h-1.5zM918 1017h1.5v3h-1.5zM919.5 1076h1.5v6h-1.5zM921 1108h1.5v14h-1.5zM921 1082h1.5v7h-1.5zM921 1071h1.5v5h-1.5zM922.5 1076h1.5v6h-1.5zM922.5 1059h1.5v3.5h-1.5zM924 1097.5h1.5v24.5h-1.5zM924 1076h1.5v6h-1.5zM924 1047h1.5v3h-1.5zM924 1008h1.5v3h-1.5zM925.5 1066.5h1.5v9.5h-1.5zM927 1066.5h1.5v4.5h-1.5zM927 1059h1.5v3.5h-1.5zM927 1035h1.5v3h-1.5zM928.5 1066.5h1.5v9.5h-1.5zM928.5 1023h1.5v3h-1.5zM930 1062.5h1.5v8.5h-1.5zM930 1056h1.5v3h-1.5zM931.5 1062.5h1.5v13.5h-1.5zM933 1108h1.5v14h-1.5zM933 1076h1.5v13h-1.5zM934.5 1108h1.5v14h-1.5zM934.5 1026h1.5v3h-1.5zM936 1076h1.5v13h-1.5zM937.5 1076h1.5v21.5h-1.5zM939 1071h1.5v5h-1.5zM939 1062.5h1.5v4h-1.5zM939 1032h1.5v3h-1.5zM940.5 1066.5h1.5v22.5h-1.5zM940.5 1044h1.5v3h-1.5zM942 1108h1.5v14h-1.5zM942 1076h1.5v21.5h-1.5zM942 1002h1.5v3h-1.5zM943.5 1066.5h1.5v4.5h-1.5zM943.5 1053h1.5v3h-1.5zM943.5 990h1.5v3h-1.5zM945 1076h1.5v6h-1.5zM945 1047h1.5v3h-1.5zM945 1032h1.5v3h-1.5zM946.5 1059h1.5v12h-1.5zM946.5 1038h1.5v3h-1.5zM948 1108h1.5v14h-1.5zM949.5 1056h1.5v10.5h-1.5zM949.5 1047h1.5v3h-1.5zM951 1076h1.5v6h-1.5zM951 1059h1.5v12h-1.5zM951 1044h1.5v3h-1.5zM952.5 1071h1.5v5h-1.5zM952.5 1059h1.5v3.5h-1.5zM954 1066.5h1.5v4.5h-1.5zM954 1059h1.5v3.5h-1.5zM954 1026h1.5v3h-1.5zM955.5 1053h1.5v9.5h-1.5zM957 1108h1.5v14h-1.5zM957 1050h1.5v3h-1.5zM957 1023h1.5v3h-1.5zM958.5 1071h1.5v11h-1.5zM960 1097.5h1.5v24.5h-1.5zM960 1053h1.5v3h-1.5zM961.5 1062.5h1.5v4h-1.5zM963 1071h1.5v11h-1.5zM963 1059h1.5v3.5h-1.5zM963 1038h1.5v3h-1.5zM964.5 1071h1.5v5h-1.5zM964.5 1059h1.5v3.5h-1.5zM966 1071h1.5v5h-1.5zM966 1059h1.5v7.5h-1.5zM966 1047h1.5v3h-1.5zM966 1041h1.5v3h-1.5zM966 1032h1.5v3h-1.5zM966 1020h1.5v3h-1.5zM966 1014h1.5v3h-1.5zM966 1002h1.5v3h-1.5zM966 993h1.5v3h-1.5zM967.5 1050h1.5v9h-1.5zM967.5 1038h1.5v9h-1.5zM967.5 1023h1.5v3h-1.5zM967.5 1011h1.5v3h-1.5zM967.5 996h1.5v6h-1.5zM967.5 969.5h1.5v2.5h-1.5zM969 1089h1.5v19h-1.5zM969 1066.5h1.5v4.5h-1.5zM970.5 1089h1.5v19h-1.5zM970.5 1056h1.5v3h-1.5zM970.5 1035h1.5v3h-1.5zM972 1062.5h1.5v4h-1.5zM973.5 1062.5h1.5v4h-1.5zM973.5 1053h1.5v3h-1.5zM973.5 1041h1.5v6h-1.5zM975 1062.5h1.5v8.5h-1.5zM975 1044h1.5v3h-1.5zM975 975h1.5v3h-1.5zM976.5 1050h1.5v6h-1.5zM976.5 1041h1.5v3h-1.5zM976.5 1014h1.5v3h-1.5zM978 1056h1.5v10.5h-1.5zM979.5 1089h1.5v8.5h-1.5zM979.5 1071h1.5v5h-1.5zM981 1053h1.5v6h-1.5zM981 1044h1.5v3h-1.5zM981 1038h1.5v3h-1.5zM982.5 1066.5h1.5v4.5h-1.5zM984 1062.5h1.5v13.5h-1.5zM984 1056h1.5v3h-1.5zM985.5 1062.5h1.5v8.5h-1.5zM987 1108h1.5v14h-1.5zM988.5 1108h1.5v14h-1.5zM988.5 1076h1.5v13h-1.5zM988.5 1062.5h1.5v4h-1.5zM988.5 1056h1.5v3h-1.5zM990 1082h1.5v7h-1.5zM990 1050h1.5v3h-1.5zM991.5 1056h1.5v3h-1.5zM991.5 1035h1.5v3h-1.5zM993 1056h1.5v3h-1.5zM993 1041h1.5v3h-1.5zM994.5 1062.5h1.5v4h-1.5zM994.5 1053h1.5v3h-1.5zM996 1071h1.5v5h-1.5zM996 1062.5h1.5v4h-1.5zM996 1044h1.5v3h-1.5zM996 1029h1.5v3h-1.5zM997.5 1062.5h1.5v13.5h-1.5zM997.5 1026h1.5v3h-1.5zM999 1089h1.5v8.5h-1.5zM999 1071h1.5v11h-1.5zM999 1053h1.5v6h-1.5zM999 987h1.5v6h-1.5zM1000.5 1062.5h1.5v4h-1.5zM1000.5 1035h1.5v3h-1.5zM1002 1066.5h1.5v4.5h-1.5zM1002 1059h1.5v3.5h-1.5zM1002 1050h1.5v3h-1.5zM1002 1041h1.5v3h-1.5zM1003.5 1062.5h1.5v4h-1.5zM1003.5 1056h1.5v3h-1.5zM1003.5 1038h1.5v3h-1.5zM1003.5 993h1.5v3h-1.5zM1005 1108h1.5v14h-1.5zM1005 1089h1.5v8.5h-1.5zM1005 1062.5h1.5v8.5h-1.5zM1005 1038h1.5v3h-1.5zM1005 1032h1.5v3h-1.5zM1006.5 1066.5h1.5v4.5h-1.5zM1006.5 1059h1.5v3.5h-1.5zM1006.5 1041h1.5v3h-1.5zM1008 1062.5h1.5v8.5h-1.5zM1009.5 1066.5h1.5v4.5h-1.5zM1009.5 1056h1.5v3h-1.5zM1009.5 1047h1.5v3h-1.5zM1009.5 1041h1.5v3h-1.5zM1011 1041h1.5v9h-1.5zM1011 1026h1.5v9h-1.5zM1011 1011h1.5v3h-1.5zM1011 1002h1.5v6h-1.5zM1011 993h1.5v3h-1.5zM1011 978h1.5v3h-1.5zM1012.5 1062.5h1.5v4h-1.5zM1012.5 1047h1.5v3h-1.5zM1014 1089h1.5v19h-1.5zM1014 1062.5h1.5v8.5h-1.5zM1014 1047h1.5v6h-1.5zM1014 981h1.5v3h-1.5zM1015.5 1082h1.5v7h-1.5zM1015.5 1062.5h1.5v4h-1.5zM1015.5 1050h1.5v3h-1.5zM1015.5 1041h1.5v3h-1.5zM1017 1062.5h1.5v4h-1.5zM1017 1053h1.5v3h-1.5zM1017 981h1.5v3h-1.5zM1018.5 1035h1.5v6h-1.5zM1018.5 1005h1.5v27h-1.5zM1018.5 999h1.5v3h-1.5zM1018.5 984h1.5v6h-1.5zM1020 1050h1.5v6h-1.5zM1021.5 1047h1.5v3h-1.5zM1021.5 1041h1.5v3h-1.5zM1021.5 1032h1.5v3h-1.5zM1021.5 996h1.5v3h-1.5zM1023 1038h1.5v3h-1.5zM1023 1011h1.5v24h-1.5zM1023 1005h1.5v3h-1.5zM1023 999h1.5v3h-1.5zM1023 975h1.5v21h-1.5zM1024.5 1032h1.5v6h-1.5zM1026 1026h1.5v3h-1.5zM1027.5 1035h1.5v3h-1.5zM1027.5 1029h1.5v3h-1.5zM1029 1023h1.5v6h-1.5zM1029 1011h1.5v6h-1.5zM1029 987h1.5v18h-1.5zM1029 975h1.5v9h-1.5zM1029 969.5h1.5v2.5h-1.5zM1030.5 1023h1.5v9h-1.5zM1030.5 1014h1.5v3h-1.5zM1032 1032h1.5v3h-1.5zM1032 1014h1.5v12h-1.5zM1032 1002h1.5v6h-1.5zM1032 993h1.5v3h-1.5zM1033.5 1020h1.5v3h-1.5zM1033.5 1005h1.5v12h-1.5zM1033.5 990h1.5v3h-1.5zM1035 1032h1.5v9h-1.5zM1035 1023h1.5v3h-1.5zM1036.5 1053h1.5v3h-1.5zM1038 1029h1.5v12h-1.5zM1038 1020h1.5v3h-1.5zM1038 1014h1.5v3h-1.5zM1039.5 1032h1.5v9h-1.5zM1039.5 1017h1.5v6h-1.5zM1041 1023h1.5v6h-1.5zM1041 1014h1.5v6h-1.5zM1042.5 1047h1.5v3h-1.5zM1042.5 1035h1.5v6h-1.5zM1042.5 1020h1.5v3h-1.5zM1045.5 1047h1.5v3h-1.5zM1045.5 1041h1.5v3h-1.5zM1045.5 1023h1.5v6h-1.5zM1045.5 1011h1.5v9h-1.5zM1045.5 993h1.5v3h-1.5zM1047 1041h1.5v3h-1.5zM1047 1035h1.5v3h-1.5zM1048.5 1047h1.5v3h-1.5zM1048.5 1035h1.5v3h-1.5zM1050 1108h1.5v14h-1.5zM1050 1076h1.5v6h-1.5zM1050 1062.5h1.5v8.5h-1.5zM1050 1041h1.5v6h-1.5zM1050 1035h1.5v3h-1.5zM1050 1026h1.5v6h-1.5zM1050 1020h1.5v3h-1.5zM1050 1014h1.5v3h-1.5zM1050 999h1.5v3h-1.5zM1050 987h1.5v6h-1.5zM1051.5 1050h1.5v6h-1.5zM1051.5 1044h1.5v3h-1.5zM1051.5 1020h1.5v3h-1.5zM1053 1097.5h1.5v10.5h-1.5zM1053 1071h1.5v5h-1.5zM1053 1062.5h1.5v4h-1.5zM1053 1053h1.5v6h-1.5zM1053 1047h1.5v3h-1.5zM1053 1038h1.5v3h-1.5zM1054.5 1053h1.5v3h-1.5zM1054.5 1044h1.5v3h-1.5zM1054.5 1038h1.5v3h-1.5zM1054.5 1017h1.5v3h-1.5zM1056 1062.5h1.5v4h-1.5zM1056 1056h1.5v3h-1.5zM1056 1050h1.5v3h-1.5zM1056 1041h1.5v3h-1.5zM1057.5 1056h1.5v6.5h-1.5zM1057.5 1041h1.5v3h-1.5zM1057.5 1032h1.5v3h-1.5zM1059 1071h1.5v18h-1.5zM1059 1059h1.5v3.5h-1.5zM1059 1035h1.5v15h-1.5zM1059 1017h1.5v6h-1.5zM1059 1005h1.5v6h-1.5zM1059 996h1.5v6h-1.5zM1059 981h1.5v6h-1.5zM1059 969.5h1.5v2.5h-1.5zM1060.5 1062.5h1.5v4h-1.5zM1060.5 1008h1.5v3h-1.5zM1062 1066.5h1.5v9.5h-1.5zM1062 1056h1.5v6.5h-1.5zM1062 1047h1.5v3h-1.5zM1063.5 1062.5h1.5v4h-1.5zM1063.5 1056h1.5v3h-1.5zM1063.5 1050h1.5v3h-1.5zM1063.5 1044h1.5v3h-1.5zM1063.5 984h1.5v3h-1.5zM1065 1059h1.5v7.5h-1.5zM1065 1053h1.5v3h-1.5zM1066.5 1097.5h1.5v10.5h-1.5zM1066.5 1071h1.5v11h-1.5zM1066.5 1062.5h1.5v4h-1.5zM1066.5 1044h1.5v3h-1.5zM1068 1050h1.5v3h-1.5zM1069.5 1056h1.5v10.5h-1.5zM1069.5 1047h1.5v3h-1.5zM1069.5 1041h1.5v3h-1.5zM1069.5 1032h1.5v6h-1.5zM1069.5 1002h1.5v3h-1.5zM1069.5 975h1.5v3h-1.5zM1071 1053h1.5v3h-1.5zM1071 1038h1.5v9h-1.5zM1071 1023h1.5v3h-1.5zM1072.5 1053h1.5v3h-1.5zM1072.5 1047h1.5v3h-1.5zM1072.5 1032h1.5v3h-1.5zM1074 1056h1.5v3h-1.5zM1074 1050h1.5v3h-1.5zM1074 1041h1.5v3h-1.5zM1075.5 1056h1.5v3h-1.5zM1075.5 1044h1.5v3h-1.5zM1077 1041h1.5v18h-1.5zM1078.5 1076h1.5v6h-1.5zM1078.5 1056h1.5v6.5h-1.5zM1078.5 1041h1.5v6h-1.5zM1078.5 1029h1.5v3h-1.5zM1080 1053h1.5v3h-1.5zM1080 1041h1.5v6h-1.5zM1081.5 1076h1.5v6h-1.5zM1081.5 1056h1.5v15h-1.5zM1083 1062.5h1.5v8.5h-1.5zM1083 981h1.5v3h-1.5zM1084.5 1066.5h1.5v9.5h-1.5zM1084.5 1053h1.5v3h-1.5zM1084.5 1032h1.5v3h-1.5zM1086 1053h1.5v3h-1.5zM1086 1026h1.5v3h-1.5zM1087.5 1062.5h1.5v4h-1.5zM1087.5 1053h1.5v6h-1.5zM1087.5 1044h1.5v6h-1.5zM1089 1056h1.5v3h-1.5zM1089 1050h1.5v3h-1.5zM1089 1041h1.5v3h-1.5zM1090.5 1076h1.5v6h-1.5zM1090.5 1056h1.5v3h-1.5zM1090.5 1050h1.5v3h-1.5zM1092 1044h1.5v3h-1.5zM1092 987h1.5v51h-1.5zM1092 978h1.5v6h-1.5zM1092 969.5h1.5v5.5h-1.5zM1093.5 1047h1.5v9h-1.5zM1093.5 1023h1.5v3h-1.5zM1093.5 1011h1.5v3h-1.5zM1093.5 993h1.5v12h-1.5zM1093.5 981h1.5v3h-1.5zM1095 1053h1.5v3h-1.5zM1095 1032h1.5v3h-1.5zM1095 1014h1.5v6h-1.5zM1095 1008h1.5v3h-1.5zM1095 996h1.5v3h-1.5zM1095 987h1.5v6h-1.5zM1095 975h1.5v6h-1.5zM1096.5 1053h1.5v13.5h-1.5zM1096.5 1041h1.5v3h-1.5zM1098 1044h1.5v6h-1.5zM1098 1014h1.5v3h-1.5zM1099.5 1062.5h1.5v13.5h-1.5zM1099.5 1047h1.5v3h-1.5zM1099.5 1023h1.5v3h-1.5zM1099.5 984h1.5v3h-1.5zM1101 1076h1.5v6h-1.5zM1101 1062.5h1.5v4h-1.5zM1101 1056h1.5v3h-1.5zM1104 1097.5h1.5v24.5h-1.5zM1104 1082h1.5v7h-1.5zM1104 1066.5h1.5v9.5h-1.5zM1104 1056h1.5v6.5h-1.5zM1104 1044h1.5v3h-1.5zM1105.5 1082h1.5v7h-1.5zM1105.5 1066.5h1.5v4.5h-1.5zM1105.5 1050h1.5v3h-1.5zM1105.5 987h1.5v3h-1.5zM1107 1062.5h1.5v8.5h-1.5zM1107 1053h1.5v6h-1.5zM1107 999h1.5v3h-1.5zM1107 972h1.5v3h-1.5zM1108.5 1062.5h1.5v4h-1.5zM1110 1056h1.5v10.5h-1.5zM1111.5 1059h1.5v3.5h-1.5zM1111.5 1050h1.5v3h-1.5zM1113 1062.5h1.5v8.5h-1.5zM1113 1056h1.5v3h-1.5zM1114.5 1059h1.5v3.5h-1.5zM1114.5 1053h1.5v3h-1.5zM1114.5 1044h1.5v3h-1.5zM1114.5 1014h1.5v3h-1.5zM1116 1071h1.5v5h-1.5zM1116 1062.5h1.5v4h-1.5zM1116 1053h1.5v6h-1.5zM1117.5 1066.5h1.5v4.5h-1.5zM1117.5 1059h1.5v3.5h-1.5zM1117.5 1044h1.5v3h-1.5zM1119 1059h1.5v3.5h-1.5zM1120.5 1066.5h1.5v4.5h-1.5zM1120.5 1038h1.5v6h-1.5zM1120.5 1008h1.5v3h-1.5zM1122 1059h1.5v3.5h-1.5zM1123.5 1059h1.5v12h-1.5zM1123.5 1029h1.5v3h-1.5zM1125 1056h1.5v3h-1.5zM1125 1038h1.5v12h-1.5zM1125 1020h1.5v3h-1.5zM1125 987h1.5v3h-1.5zM1126.5 1059h1.5v3.5h-1.5zM1126.5 1053h1.5v3h-1.5zM1126.5 1044h1.5v6h-1.5zM1126.5 1035h1.5v3h-1.5zM1126.5 1026h1.5v3h-1.5zM1126.5 1014h1.5v6h-1.5zM1126.5 1005h1.5v3h-1.5zM1126.5 999h1.5v3h-1.5zM1126.5 981h1.5v9h-1.5zM1128 1044h1.5v9h-1.5zM1129.5 1062.5h1.5v4h-1.5zM1129.5 1056h1.5v3h-1.5zM1129.5 1047h1.5v6h-1.5zM1129.5 1026h1.5v3h-1.5zM1131 1050h1.5v3h-1.5zM1131 1041h1.5v6h-1.5zM1131 1026h1.5v3h-1.5zM1131 975h1.5v3h-1.5zM1132.5 1082h1.5v7h-1.5zM1132.5 1062.5h1.5v8.5h-1.5zM1132.5 1053h1.5v3h-1.5zM1132.5 1047h1.5v3h-1.5zM1132.5 1014h1.5v3h-1.5zM1134 1017h1.5v9h-1.5zM1134 1002h1.5v9h-1.5zM1134 993h1.5v6h-1.5zM1134 987h1.5v3h-1.5zM1134 975h1.5v9h-1.5zM1134 969.5h1.5v2.5h-1.5zM1135.5 1062.5h1.5v4h-1.5zM1135.5 1056h1.5v3h-1.5zM1135.5 1047h1.5v3h-1.5zM1135.5 1026h1.5v3h-1.5zM1135.5 990h1.5v3h-1.5zM1137 1047h1.5v3h-1.5zM1137 1038h1.5v3h-1.5zM1137 1023h1.5v6h-1.5zM1137 1008h1.5v3h-1.5zM1137 990h1.5v3h-1.5zM1137 981h1.5v3h-1.5zM1138.5 1044h1.5v3h-1.5zM1138.5 1023h1.5v3h-1.5zM1140 1041h1.5v3h-1.5zM1141.5 1050h1.5v3h-1.5zM1141.5 1032h1.5v3h-1.5zM1141.5 1017h1.5v6h-1.5zM1144.5 1032h1.5v3h-1.5zM1144.5 1017h1.5v9h-1.5zM1144.5 1002h1.5v9h-1.5zM1144.5 987h1.5v12h-1.5zM1144.5 978h1.5v6h-1.5zM1146 1047h1.5v6h-1.5zM1146 1023h1.5v3h-1.5zM1147.5 1035h1.5v3h-1.5zM1149 1002h1.5v18h-1.5zM1149 990h1.5v3h-1.5zM1150.5 1047h1.5v3h-1.5zM1150.5 1041h1.5v3h-1.5zM1150.5 1035h1.5v3h-1.5zM1150.5 1023h1.5v3h-1.5zM1150.5 1008h1.5v3h-1.5zM1152 1029h1.5v3h-1.5zM1153.5 1053h1.5v3h-1.5zM1153.5 1047h1.5v3h-1.5zM1153.5 1032h1.5v6h-1.5zM1153.5 1023h1.5v3h-1.5zM1153.5 1017h1.5v3h-1.5zM1153.5 1011h1.5v3h-1.5zM1153.5 990h1.5v15h-1.5zM1153.5 978h1.5v6h-1.5zM1155 1044h1.5v3h-1.5zM1155 1017h1.5v3h-1.5zM1156.5 1050h1.5v3h-1.5zM1156.5 1044h1.5v3h-1.5zM1156.5 1014h1.5v3h-1.5zM1156.5 1005h1.5v3h-1.5zM1156.5 996h1.5v3h-1.5zM1156.5 987h1.5v6h-1.5zM1156.5 975h1.5v3h-1.5zM1158 1076h1.5v6h-1.5zM1158 1059h1.5v7.5h-1.5zM1158 1041h1.5v3h-1.5zM1159.5 1059h1.5v3.5h-1.5zM1159.5 1047h1.5v9h-1.5zM1159.5 1035h1.5v3h-1.5zM1159.5 1026h1.5v3h-1.5zM1161 1059h1.5v7.5h-1.5zM1161 1053h1.5v3h-1.5zM1161 1047h1.5v3h-1.5zM1162.5 1071h1.5v18h-1.5zM1162.5 1059h1.5v7.5h-1.5zM1162.5 1053h1.5v3h-1.5zM1162.5 1044h1.5v6h-1.5zM1162.5 1029h1.5v3h-1.5zM1164 1066.5h1.5v9.5h-1.5zM1164 1050h1.5v12.5h-1.5zM1165.5 1062.5h1.5v13.5h-1.5zM1165.5 1041h1.5v6h-1.5zM1165.5 1026h1.5v3h-1.5zM1167 1108h1.5v14h-1.5zM1167 1089h1.5v8.5h-1.5zM1167 1076h1.5v6h-1.5zM1167 1056h1.5v3h-1.5zM1167 1020h1.5v3h-1.5zM1168.5 1082h1.5v7h-1.5zM1168.5 1050h1.5v12.5h-1.5zM1168.5 981h1.5v3h-1.5zM1170 1041h1.5v9h-1.5zM1170 1032h1.5v3h-1.5zM1170 987h1.5v6h-1.5zM1171.5 1076h1.5v6h-1.5zM1171.5 1056h1.5v10.5h-1.5zM1171.5 1044h1.5v3h-1.5zM1171.5 990h1.5v3h-1.5zM1173 1062.5h1.5v8.5h-1.5zM1173 1056h1.5v3h-1.5zM1174.5 1059h1.5v12h-1.5zM1174.5 1053h1.5v3h-1.5zM1176 1056h1.5v3h-1.5zM1177.5 1076h1.5v46h-1.5zM1177.5 1066.5h1.5v4.5h-1.5zM1177.5 1059h1.5v3.5h-1.5zM1177.5 1044h1.5v3h-1.5zM1179 1071h1.5v5h-1.5zM1179 1062.5h1.5v4h-1.5zM1180.5 1066.5h1.5v4.5h-1.5zM1180.5 1059h1.5v3.5h-1.5zM1180.5 1053h1.5v3h-1.5zM1180.5 1044h1.5v3h-1.5zM1180.5 987h1.5v3h-1.5zM1180.5 978h1.5v3h-1.5zM1182 1056h1.5v3h-1.5zM1183.5 1062.5h1.5v4h-1.5zM1183.5 1056h1.5v3h-1.5zM1183.5 1032h1.5v3h-1.5zM1185 1062.5h1.5v8.5h-1.5zM1185 1056h1.5v3h-1.5zM1185 1047h1.5v3h-1.5zM1186.5 1066.5h1.5v9.5h-1.5zM1186.5 1056h1.5v3h-1.5zM1186.5 1041h1.5v3h-1.5zM1188 1071h1.5v5h-1.5zM1188 1041h1.5v3h-1.5zM1189.5 1062.5h1.5v8.5h-1.5zM1189.5 1044h1.5v3h-1.5zM1189.5 1029h1.5v3h-1.5zM1191 1062.5h1.5v4h-1.5zM1191 1041h1.5v3h-1.5zM1191 1032h1.5v3h-1.5zM1191 975h1.5v3h-1.5zM1192.5 1076h1.5v6h-1.5zM1192.5 1066.5h1.5v4.5h-1.5zM1192.5 1050h1.5v3h-1.5zM1192.5 1041h1.5v3h-1.5zM1194 1076h1.5v21.5h-1.5zM1194 1041h1.5v15h-1.5zM1194 1005h1.5v6h-1.5zM1194 996h1.5v6h-1.5zM1194 984h1.5v3h-1.5zM1195.5 1066.5h1.5v4.5h-1.5zM1195.5 1041h1.5v3h-1.5zM1197 1062.5h1.5v13.5h-1.5zM1197 1050h1.5v3h-1.5zM1197 1038h1.5v6h-1.5zM1198.5 1071h1.5v26.5h-1.5zM1198.5 1062.5h1.5v4h-1.5zM1198.5 1053h1.5v3h-1.5zM1200 1108h1.5v14h-1.5zM1200 1082h1.5v7h-1.5zM1200 1066.5h1.5v4.5h-1.5zM1200 1059h1.5v3.5h-1.5zM1200 987h1.5v3h-1.5zM1201.5 1044h1.5v15h-1.5zM1201.5 1023h1.5v9h-1.5zM1201.5 996h1.5v6h-1.5zM1201.5 987h1.5v3h-1.5zM1201.5 981h1.5v3h-1.5zM1201.5 975h1.5v3h-1.5zM1203 1071h1.5v11h-1.5zM1203 1062.5h1.5v4h-1.5zM1203 1041h1.5v3h-1.5zM1204.5 1066.5h1.5v9.5h-1.5zM1204.5 1053h1.5v3h-1.5zM1204.5 1011h1.5v3h-1.5zM1206 1053h1.5v6h-1.5zM1207.5 1066.5h1.5v9.5h-1.5zM1207.5 1041h1.5v3h-1.5zM1209 1076h1.5v6h-1.5zM1209 1062.5h1.5v8.5h-1.5zM1209 1056h1.5v3h-1.5zM1210.5 1097.5h1.5v24.5h-1.5zM1210.5 1071h1.5v5h-1.5zM1210.5 1053h1.5v3h-1.5zM1212 1071h1.5v26.5h-1.5zM1212 1005h1.5v3h-1.5zM1215 1066.5h1.5v15.5h-1.5zM1216.5 1097.5h1.5v24.5h-1.5zM1216.5 1082h1.5v7h-1.5zM1218 1108h1.5v14h-1.5zM1218 1082h1.5v7h-1.5zM1218 1071h1.5v5h-1.5zM1218 1041h1.5v3h-1.5zM1218 1023h1.5v3h-1.5zM1219.5 1076h1.5v13h-1.5zM1219.5 1059h1.5v12h-1.5zM1219.5 1053h1.5v3h-1.5zM1219.5 1044h1.5v6h-1.5zM1219.5 1020h1.5v3h-1.5zM1219.5 987h1.5v3h-1.5zM1221 1097.5h1.5v24.5h-1.5zM1221 1082h1.5v7h-1.5zM1221 1053h1.5v3h-1.5zM1221 1044h1.5v3h-1.5zM1222.5 1056h1.5v10.5h-1.5zM1222.5 1041h1.5v12h-1.5zM1222.5 978h1.5v3h-1.5zM1224 1076h1.5v6h-1.5zM1224 1059h1.5v12h-1.5zM1224 1050h1.5v3h-1.5zM1224 1026h1.5v3h-1.5zM1224 1014h1.5v3h-1.5zM1225.5 1071h1.5v5h-1.5zM1225.5 1062.5h1.5v4h-1.5zM1225.5 1056h1.5v3h-1.5zM1225.5 1050h1.5v3h-1.5zM1225.5 978h1.5v3h-1.5zM1227 1066.5h1.5v4.5h-1.5zM1227 1059h1.5v3.5h-1.5zM1227 993h1.5v3h-1.5zM1228.5 1066.5h1.5v4.5h-1.5zM1230 1071h1.5v5h-1.5zM1230 1062.5h1.5v4h-1.5zM1230 1053h1.5v3h-1.5zM1231.5 1082h1.5v15.5h-1.5zM1233 1059h1.5v17h-1.5zM1234.5 1076h1.5v13h-1.5zM1236 1082h1.5v40h-1.5zM1236 1066.5h1.5v4.5h-1.5zM1236 1050h1.5v6h-1.5zM1236 1041h1.5v3h-1.5zM1237.5 1082h1.5v40h-1.5zM1239 1059h1.5v12h-1.5zM1240.5 1062.5h1.5v4h-1.5zM1240.5 1050h1.5v3h-1.5zM1245 1089h1.5v8.5h-1.5zM1245 1076h1.5v6h-1.5zM1245 1050h1.5v3h-1.5zM1245 978h1.5v3h-1.5zM1246.5 1062.5h1.5v4h-1.5zM1248 1097.5h1.5v24.5h-1.5zM1248 1071h1.5v5h-1.5zM1248 1053h1.5v3h-1.5zM1248 1047h1.5v3h-1.5zM1248 1029h1.5v3h-1.5zM1249.5 1071h1.5v5h-1.5zM1249.5 1062.5h1.5v4h-1.5zM1249.5 1044h1.5v3h-1.5zM1249.5 1029h1.5v3h-1.5zM1249.5 987h1.5v3h-1.5zM1251 1062.5h1.5v8.5h-1.5zM1251 1056h1.5v3h-1.5zM1251 1047h1.5v6h-1.5zM1251 1041h1.5v3h-1.5zM1251 1026h1.5v3h-1.5zM1252.5 1071h1.5v11h-1.5zM1252.5 1056h1.5v3h-1.5zM1254 1066.5h1.5v9.5h-1.5zM1254 1059h1.5v3.5h-1.5zM1254 1050h1.5v3h-1.5zM1255.5 1053h1.5v9.5h-1.5zM1257 1059h1.5v12h-1.5zM1257 1053h1.5v3h-1.5zM1258.5 1059h1.5v3.5h-1.5zM1258.5 1047h1.5v3h-1.5zM1258.5 1035h1.5v3h-1.5zM1258.5 1014h1.5v3h-1.5zM1260 1047h1.5v15.5h-1.5zM1260 1023h1.5v3h-1.5zM1261.5 1062.5h1.5v13.5h-1.5zM1261.5 1056h1.5v3h-1.5zM1261.5 1047h1.5v6h-1.5zM1261.5 1026h1.5v3h-1.5zM1261.5 1017h1.5v3h-1.5zM1261.5 1005h1.5v3h-1.5zM1261.5 999h1.5v3h-1.5zM1261.5 990h1.5v6h-1.5zM1261.5 975h1.5v12h-1.5zM1263 1062.5h1.5v8.5h-1.5zM1263 1056h1.5v3h-1.5zM1263 1032h1.5v3h-1.5zM1263 981h1.5v3h-1.5zM1264.5 1062.5h1.5v4h-1.5zM1264.5 1056h1.5v3h-1.5zM1266 1059h1.5v3.5h-1.5zM1267.5 1050h1.5v3h-1.5zM1267.5 1008h1.5v3h-1.5zM1269 1056h1.5v3h-1.5zM1269 1044h1.5v3h-1.5zM1270.5 1097.5h1.5v10.5h-1.5zM1270.5 1076h1.5v6h-1.5zM1270.5 1059h1.5v3.5h-1.5zM1270.5 1050h1.5v3h-1.5zM1270.5 1044h1.5v3h-1.5zM1270.5 996h1.5v3h-1.5zM1270.5 987h1.5v3h-1.5zM1270.5 975h1.5v3h-1.5zM1272 1097.5h1.5v24.5h-1.5zM1272 1059h1.5v3.5h-1.5zM1272 1047h1.5v3h-1.5zM1272 1032h1.5v3h-1.5zM1272 990h1.5v3h-1.5zM1273.5 1066.5h1.5v9.5h-1.5zM1273.5 1050h1.5v9h-1.5zM1275 1059h1.5v7.5h-1.5zM1275 999h1.5v3h-1.5zM1276.5 1053h1.5v3h-1.5zM1276.5 1032h1.5v3h-1.5zM1276.5 993h1.5v3h-1.5zM1276.5 987h1.5v3h-1.5zM1276.5 975h1.5v6h-1.5zM1278 1059h1.5v3.5h-1.5zM1278 1038h1.5v6h-1.5zM1279.5 1066.5h1.5v22.5h-1.5zM1279.5 1056h1.5v3h-1.5zM1281 1056h1.5v6.5h-1.5zM1281 1041h1.5v9h-1.5zM1281 1023h1.5v3h-1.5zM1281 990h1.5v6h-1.5zM1281 978h1.5v6h-1.5zM1282.5 1062.5h1.5v4h-1.5zM1282.5 1050h1.5v3h-1.5zM1282.5 1020h1.5v3h-1.5zM1282.5 996h1.5v3h-1.5zM1284 1089h1.5v19h-1.5zM1284 1076h1.5v6h-1.5zM1284 1062.5h1.5v8.5h-1.5zM1284 1047h1.5v6h-1.5zM1284 1041h1.5v3h-1.5zM1284 1032h1.5v3h-1.5zM1284 1020h1.5v3h-1.5zM1285.5 1071h1.5v5h-1.5zM1285.5 1059h1.5v7.5h-1.5zM1285.5 1050h1.5v3h-1.5zM1287 1076h1.5v6h-1.5zM1287 1062.5h1.5v4h-1.5zM1287 1047h1.5v3h-1.5zM1288.5 1076h1.5v6h-1.5zM1288.5 1066.5h1.5v4.5h-1.5zM1288.5 1053h1.5v6h-1.5zM1288.5 1041h1.5v3h-1.5zM1288.5 1014h1.5v6h-1.5zM1290 1071h1.5v11h-1.5zM1290 1059h1.5v3.5h-1.5zM1290 1023h1.5v3h-1.5zM1291.5 1062.5h1.5v4h-1.5zM1291.5 1050h1.5v3h-1.5zM1291.5 1041h1.5v3h-1.5zM1293 1062.5h1.5v8.5h-1.5zM1293 1053h1.5v3h-1.5zM1293 1041h1.5v3h-1.5zM1294.5 1062.5h1.5v4h-1.5zM1294.5 1047h1.5v3h-1.5zM1296 1053h1.5v3h-1.5zM1296 1041h1.5v3h-1.5zM1297.5 1108h1.5v14h-1.5zM1297.5 1076h1.5v21.5h-1.5zM1297.5 1066.5h1.5v4.5h-1.5zM1297.5 1050h1.5v12.5h-1.5zM1297.5 1041h1.5v3h-1.5zM1297.5 1008h1.5v3h-1.5zM1297.5 999h1.5v3h-1.5zM1297.5 993h1.5v3h-1.5zM1297.5 987h1.5v3h-1.5zM1297.5 981h1.5v3h-1.5zM1299 1062.5h1.5v4h-1.5zM1299 978h1.5v3h-1.5zM1300.5 1062.5h1.5v4h-1.5zM1300.5 1053h1.5v6h-1.5zM1300.5 1041h1.5v3h-1.5zM1302 1066.5h1.5v9.5h-1.5zM1302 1056h1.5v3h-1.5zM1302 1044h1.5v3h-1.5zM1302 981h1.5v3h-1.5zM1303.5 1056h1.5v3h-1.5zM1303.5 1050h1.5v3h-1.5zM1303.5 1014h1.5v3h-1.5zM1305 1076h1.5v6h-1.5zM1305 1066.5h1.5v4.5h-1.5zM1305 1053h1.5v3h-1.5zM1305 1047h1.5v3h-1.5zM1306.5 1082h1.5v15.5h-1.5zM1306.5 1066.5h1.5v9.5h-1.5zM1306.5 1056h1.5v3h-1.5zM1306.5 1050h1.5v3h-1.5zM1306.5 1020h1.5v3h-1.5zM1308 1053h1.5v3h-1.5zM1308 1044h1.5v3h-1.5zM1309.5 1082h1.5v7h-1.5zM1309.5 1066.5h1.5v9.5h-1.5zM1309.5 1059h1.5v3.5h-1.5zM1309.5 1023h1.5v3h-1.5zM1309.5 1008h1.5v3h-1.5zM1309.5 990h1.5v3h-1.5zM1309.5 975h1.5v3h-1.5zM1311 1056h1.5v6.5h-1.5zM1312.5 1047h1.5v3h-1.5zM1312.5 969.5h1.5v2.5h-1.5zM1314 1066.5h1.5v4.5h-1.5zM1314 1059h1.5v3.5h-1.5zM1314 1050h1.5v3h-1.5zM1315.5 1050h1.5v3h-1.5zM1315.5 1044h1.5v3h-1.5zM1315.5 996h1.5v3h-1.5zM1315.5 975h1.5v6h-1.5zM1317 1056h1.5v3h-1.5zM1318.5 1089h1.5v8.5h-1.5zM1318.5 1071h1.5v11h-1.5zM1318.5 1056h1.5v3h-1.5zM1320 1059h1.5v3.5h-1.5zM1321.5 1056h1.5v6.5h-1.5zM1321.5 1041h1.5v3h-1.5zM1323 1053h1.5v3h-1.5zM1323 1041h1.5v9h-1.5zM1324.5 1082h1.5v7h-1.5zM1324.5 1071h1.5v5h-1.5zM1324.5 1059h1.5v3.5h-1.5zM1324.5 1047h1.5v3h-1.5zM1326 1097.5h1.5v24.5h-1.5zM1326 1047h1.5v3h-1.5zM1327.5 1071h1.5v5h-1.5zM1327.5 1059h1.5v3.5h-1.5zM1327.5 1047h1.5v3h-1.5zM1329 1056h1.5v10.5h-1.5zM1330.5 1056h1.5v6.5h-1.5zM1332 1062.5h1.5v8.5h-1.5zM1332 1056h1.5v3h-1.5zM1332 1047h1.5v6h-1.5zM1332 1041h1.5v3h-1.5zM1333.5 1056h1.5v10.5h-1.5zM1333.5 1044h1.5v3h-1.5zM1335 1076h1.5v6h-1.5zM1335 1053h1.5v3h-1.5zM1335 1041h1.5v3h-1.5zM1336.5 1053h1.5v6h-1.5zM1336.5 1047h1.5v3h-1.5zM1336.5 1041h1.5v3h-1.5zM1338 1059h1.5v17h-1.5zM1338 1044h1.5v3h-1.5zM1339.5 1059h1.5v7.5h-1.5zM1339.5 1047h1.5v3h-1.5zM1339.5 1041h1.5v3h-1.5zM1339.5 981h1.5v3h-1.5zM1341 1059h1.5v7.5h-1.5zM1341 1053h1.5v3h-1.5zM1341 1044h1.5v3h-1.5zM1341 1035h1.5v3h-1.5zM1341 1017h1.5v3h-1.5zM1341 978h1.5v3h-1.5zM1342.5 1062.5h1.5v8.5h-1.5zM1342.5 1053h1.5v3h-1.5zM1342.5 1041h1.5v3h-1.5zM1344 1062.5h1.5v4h-1.5zM1344 1047h1.5v3h-1.5zM1345.5 1076h1.5v6h-1.5zM1345.5 1066.5h1.5v4.5h-1.5zM1345.5 1050h1.5v3h-1.5zM1345.5 1041h1.5v6h-1.5zM1345.5 1002h1.5v3h-1.5zM1347 1066.5h1.5v4.5h-1.5zM1347 1053h1.5v3h-1.5zM1347 1044h1.5v6h-1.5zM1348.5 1053h1.5v9.5h-1.5zM1348.5 1041h1.5v3h-1.5zM1348.5 1035h1.5v3h-1.5zM1348.5 1029h1.5v3h-1.5zM1348.5 990h1.5v3h-1.5zM1348.5 981h1.5v3h-1.5zM1350 1066.5h1.5v4.5h-1.5zM1350 1050h1.5v6h-1.5zM1350 1044h1.5v3h-1.5zM1351.5 1071h1.5v5h-1.5zM1351.5 1059h1.5v7.5h-1.5zM1351.5 1038h1.5v3h-1.5zM1353 1056h1.5v15h-1.5zM1354.5 1056h1.5v3h-1.5zM1356 1076h1.5v13h-1.5zM1356 1062.5h1.5v4h-1.5zM1356 1053h1.5v3h-1.5zM1356 1023h1.5v3h-1.5zM1357.5 1062.5h1.5v4h-1.5zM1357.5 1056h1.5v3h-1.5zM1357.5 1032h1.5v3h-1.5zM1359 1062.5h1.5v8.5h-1.5zM1359 1023h1.5v3h-1.5zM1359 1014h1.5v3h-1.5zM1359 990h1.5v3h-1.5zM1359 984h1.5v3h-1.5zM1360.5 1082h1.5v7h-1.5zM1360.5 1062.5h1.5v4h-1.5zM1360.5 1041h1.5v3h-1.5zM1362 1062.5h1.5v8.5h-1.5zM1362 1020h1.5v3h-1.5zM1363.5 1053h1.5v13.5h-1.5zM1363.5 1038h1.5v3h-1.5zM1365 1062.5h1.5v13.5h-1.5zM1365 1053h1.5v3h-1.5zM1366.5 1059h1.5v3.5h-1.5zM1368 1089h1.5v8.5h-1.5zM1368 1066.5h1.5v4.5h-1.5zM1368 1053h1.5v6h-1.5zM1368 1047h1.5v3h-1.5zM1369.5 1059h1.5v12h-1.5zM1369.5 987h1.5v3h-1.5zM1371 1066.5h1.5v4.5h-1.5zM1371 1059h1.5v3.5h-1.5zM1372.5 1056h1.5v6.5h-1.5zM1374 1050h1.5v12.5h-1.5zM1374 1044h1.5v3h-1.5zM1375.5 1071h1.5v11h-1.5zM1377 1097.5h1.5v24.5h-1.5zM1377 978h1.5v3h-1.5zM1378.5 1089h1.5v19h-1.5zM1378.5 1071h1.5v5h-1.5zM1378.5 1059h1.5v3.5h-1.5zM1380 1076h1.5v6h-1.5zM1380 1066.5h1.5v4.5h-1.5zM1380 1047h1.5v3h-1.5zM1380 1038h1.5v6h-1.5zM1380 1011h1.5v6h-1.5zM1381.5 1066.5h1.5v9.5h-1.5zM1381.5 1056h1.5v6.5h-1.5zM1381.5 1044h1.5v6h-1.5zM1383 1062.5h1.5v8.5h-1.5zM1384.5 1066.5h1.5v9.5h-1.5zM1384.5 1020h1.5v3h-1.5zM1386 1062.5h1.5v4h-1.5zM1387.5 1062.5h1.5v4h-1.5zM1389 1076h1.5v6h-1.5zM1389 1062.5h1.5v4h-1.5zM1389 1056h1.5v3h-1.5zM1389 1050h1.5v3h-1.5zM1390.5 1066.5h0.5v9.5h-0.5zM1390.5 1056h0.5v6.5h-0.5zM1390.5 1050h0.5v3h-0.5zM1390.5 1044h0.5v3h-0.5zM1498 1062.5h1.5v4h-1.5zM1498 1056h1.5v3h-1.5zM1499.5 1062.5h1.5v8.5h-1.5zM1499.5 1014h1.5v3h-1.5zM1501 1097.5h1.5v10.5h-1.5zM1501 1076h1.5v13h-1.5zM1502.5 1056h1.5v15h-1.5zM1504 1062.5h1.5v4h-1.5zM1504 1044h1.5v3h-1.5zM1505.5 1076h1.5v6h-1.5zM1505.5 1053h1.5v3h-1.5zM1505.5 1041h1.5v6h-1.5zM1507 1082h1.5v7h-1.5zM1508.5 1071h1.5v5h-1.5zM1508.5 1041h1.5v3h-1.5zM1510 1071h1.5v5h-1.5zM1510 1041h1.5v3h-1.5zM1510 1029h1.5v3h-1.5zM1511.5 1059h1.5v3.5h-1.5zM1513 1076h1.5v13h-1.5zM1514.5 1066.5h1.5v15.5h-1.5zM1516 1082h1.5v26h-1.5zM1516 1059h1.5v3.5h-1.5zM1516 1035h1.5v3h-1.5zM1519 1062.5h1.5v4h-1.5zM1520.5 1089h1.5v19h-1.5zM1520.5 1076h1.5v6h-1.5zM1522 1108h1.5v14h-1.5zM1522 1082h1.5v15.5h-1.5zM1522 1062.5h1.5v8.5h-1.5zM1523.5 1082h0.5v7h-0.5zM924 998h2v1.5h-2zM932 998h2v1.5h-2zM958 998h2v1.5h-2zM960 998h2v1.5h-2zM1002 998h2v1.5h-2zM1004 998h2v1.5h-2zM780 1009h2v1.5h-2zM790 1009h2v1.5h-2zM792 1009h2v1.5h-2zM814 1009h2v1.5h-2zM830 1009h2v1.5h-2zM834 1009h2v1.5h-2zM850 1009h2v1.5h-2zM866 1009h2v1.5h-2zM892 1009h2v1.5h-2zM912 1009h2v1.5h-2zM914 1009h2v1.5h-2zM916 1009h2v1.5h-2zM922 1009h2v1.5h-2zM928 1009h2v1.5h-2zM948 1009h2v1.5h-2zM1134 1009h2v1.5h-2zM1174 1009h2v1.5h-2zM1176 1009h2v1.5h-2zM1186 1009h2v1.5h-2zM1188 1009h2v1.5h-2zM1208 1009h2v1.5h-2zM1218 1009h2v1.5h-2zM1240 1009h2v1.5h-2zM1244 1009h2v1.5h-2zM1250 1009h2v1.5h-2zM1252 1009h2v1.5h-2zM1254 1009h2v1.5h-2zM1256 1009h2v1.5h-2zM1258 1009h2v1.5h-2zM1284 1009h2v1.5h-2zM1290 1009h2v1.5h-2zM1292 1009h2v1.5h-2zM1298 1009h2v1.5h-2zM1310 1009h2v1.5h-2zM1320 1009h2v1.5h-2zM1326 1009h2v1.5h-2zM1330 1009h2v1.5h-2zM1334 1009h2v1.5h-2zM1344 1009h2v1.5h-2zM1348 1009h2v1.5h-2zM1356 1009h2v1.5h-2zM1358 1009h2v1.5h-2zM1370 1009h2v1.5h-2zM1376 1009h2v1.5h-2zM1380 1009h2v1.5h-2zM900 1036h2v1.5h-2zM904 1036h2v1.5h-2zM908 1036h2v1.5h-2zM910 1036h2v1.5h-2zM912 1036h2v1.5h-2zM916 1036h2v1.5h-2zM922 1036h2v1.5h-2zM938 1036h2v1.5h-2zM940 1036h2v1.5h-2zM944 1036h2v1.5h-2zM952 1036h2v1.5h-2zM800 1040h2v1.5h-2zM806 1040h2v1.5h-2zM814 1040h2v1.5h-2zM826 1040h2v1.5h-2zM830 1040h2v1.5h-2zM852 1040h2v1.5h-2zM858 1040h2v1.5h-2zM868 1040h2v1.5h-2zM892 1040h2v1.5h-2zM928 1040h2v1.5h-2zM964 1040h2v1.5h-2zM1165 1040h2v1.5h-2zM1167 1040h2v1.5h-2zM1173 1040h2v1.5h-2zM1191 1040h2v1.5h-2zM1199 1040h2v1.5h-2zM1203 1040h2v1.5h-2zM1215 1040h2v1.5h-2zM1231 1040h2v1.5h-2zM1237 1040h2v1.5h-2zM1245 1040h2v1.5h-2zM1251 1040h2v1.5h-2zM1265 1040h2v1.5h-2zM1267 1040h2v1.5h-2zM1271 1040h2v1.5h-2zM1281 1040h2v1.5h-2zM1311 1040h2v1.5h-2zM1313 1040h2v1.5h-2zM1343 1040h2v1.5h-2zM894 1025h2v1.5h-2zM904 1025h2v1.5h-2zM924 1025h2v1.5h-2zM932 1025h2v1.5h-2zM934 1025h2v1.5h-2zM936 1025h2v1.5h-2zM952 1025h2v1.5h-2zM960 1025h2v1.5h-2zM962 1025h2v1.5h-2zM974 1025h2v1.5h-2zM976 1025h2v1.5h-2zM1225 996h2v1.5h-2zM1241 996h2v1.5h-2zM1170 1024h2v1.5h-2zM1172 1024h2v1.5h-2zM1176 1024h2v1.5h-2zM1180 1024h2v1.5h-2zM1182 1024h2v1.5h-2zM1194 1024h2v1.5h-2zM1208 1024h2v1.5h-2zM1218 1024h2v1.5h-2zM1222 1024h2v1.5h-2zM1226 1024h2v1.5h-2zM1230 1024h2v1.5h-2zM1238 1024h2v1.5h-2zM1244 1024h2v1.5h-2zM1250 1024h2v1.5h-2zM1254 1024h2v1.5h-2zM1262 1024h2v1.5h-2zM1264 1024h2v1.5h-2zM1266 1024h2v1.5h-2zM1274 1024h2v1.5h-2z" fill="rgb(0,0,212)"/><path d="M735 1108h1.5v14h-1.5zM736.5 1108h1.5v14h-1.5zM739.5 1097.5h1.5v10.5h-1.5zM742.5 1108h1.5v14h-1.5zM756 1097.5h1.5v10.5h-1.5zM757.5 1089h1.5v33h-1.5zM760.5 1097.5h1.5v24.5h-1.5zM762 1108h1.5v14h-1.5zM763.5 1097.5h1.5v10.5h-1.5zM765 1097.5h1.5v24.5h-1.5zM765 990h1.5v3h-1.5zM766.5 1108h1.5v14h-1.5zM769.5 1089h1.5v33h-1.5zM769.5 1056h1.5v3h-1.5zM772.5 1097.5h1.5v24.5h-1.5zM774 1089h1.5v8.5h-1.5zM777 1097.5h1.5v24.5h-1.5zM778.5 1097.5h1.5v24.5h-1.5zM781.5 1076h1.5v13h-1.5zM784.5 1097.5h1.5v24.5h-1.5zM786 1097.5h1.5v10.5h-1.5zM790.5 1097.5h1.5v24.5h-1.5zM792 1108h1.5v14h-1.5zM795 1108h1.5v14h-1.5zM795 1082h1.5v15.5h-1.5zM796.5 1108h1.5v14h-1.5zM798 1089h1.5v8.5h-1.5zM801 1076h1.5v6h-1.5zM802.5 1071h1.5v5h-1.5zM804 1089h1.5v19h-1.5zM807 1097.5h1.5v10.5h-1.5zM810 1089h1.5v19h-1.5zM813 1089h1.5v33h-1.5zM813 1076h1.5v6h-1.5zM819 1082h1.5v40h-1.5zM822 1089h1.5v8.5h-1.5zM822 975h1.5v3h-1.5zM823.5 1097.5h1.5v10.5h-1.5zM826.5 1097.5h1.5v10.5h-1.5zM829.5 1108h1.5v14h-1.5zM829.5 1076h1.5v6h-1.5zM831 1097.5h1.5v10.5h-1.5zM832.5 1089h1.5v33h-1.5zM834 1026h1.5v3h-1.5zM835.5 1108h1.5v14h-1.5zM837 1108h1.5v14h-1.5zM837 1089h1.5v8.5h-1.5zM838.5 1097.5h1.5v10.5h-1.5zM840 1097.5h1.5v10.5h-1.5zM843 1076h1.5v6h-1.5zM850.5 1089h1.5v33h-1.5zM852 1089h1.5v33h-1.5zM855 1097.5h1.5v10.5h-1.5zM861 1108h1.5v14h-1.5zM862.5 1056h1.5v3h-1.5zM867 1076h1.5v6h-1.5zM868.5 1082h1.5v7h-1.5zM870 1071h1.5v18h-1.5zM873 1076h1.5v13h-1.5zM879 1082h1.5v7h-1.5zM882 1082h1.5v7h-1.5zM882 975h1.5v3h-1.5zM883.5 1041h1.5v3h-1.5zM888 1076h1.5v13h-1.5zM889.5 1076h1.5v21.5h-1.5zM889.5 1062.5h1.5v4h-1.5zM891 1089h1.5v8.5h-1.5zM892.5 1076h1.5v6h-1.5zM892.5 993h1.5v3h-1.5zM894 1047h1.5v3h-1.5zM898.5 1097.5h1.5v10.5h-1.5zM900 1089h1.5v8.5h-1.5zM903 1089h1.5v8.5h-1.5zM906 1082h1.5v7h-1.5zM909 1066.5h1.5v4.5h-1.5zM915 1076h1.5v6h-1.5zM916.5 1082h1.5v7h-1.5zM918 1097.5h1.5v10.5h-1.5zM919.5 1059h1.5v3.5h-1.5zM921 1097.5h1.5v10.5h-1.5zM921 1066.5h1.5v4.5h-1.5zM922.5 1062.5h1.5v13.5h-1.5zM925.5 1076h1.5v6h-1.5zM925.5 1062.5h1.5v4h-1.5zM927 1071h1.5v18h-1.5zM928.5 1076h1.5v21.5h-1.5zM930 1071h1.5v5h-1.5zM930 978h1.5v3h-1.5zM931.5 1108h1.5v14h-1.5zM931.5 1076h1.5v21.5h-1.5zM933 1089h1.5v8.5h-1.5zM936 1089h1.5v8.5h-1.5zM939 1066.5h1.5v4.5h-1.5zM940.5 1097.5h1.5v10.5h-1.5zM943.5 1076h1.5v6h-1.5zM949.5 1066.5h1.5v9.5h-1.5zM951 1071h1.5v5h-1.5zM951 1041h1.5v3h-1.5zM952.5 1108h1.5v14h-1.5zM952.5 1076h1.5v13h-1.5zM955.5 1062.5h1.5v8.5h-1.5zM955.5 990h1.5v3h-1.5zM957 1089h1.5v19h-1.5zM957 1071h1.5v5h-1.5zM957 1053h1.5v3h-1.5zM958.5 1108h1.5v14h-1.5zM958.5 1089h1.5v8.5h-1.5zM961.5 1066.5h1.5v4.5h-1.5zM963 1082h1.5v7h-1.5zM964.5 1076h1.5v13h-1.5zM966 1082h1.5v7h-1.5zM966 1056h1.5v3h-1.5zM967.5 1059h1.5v17h-1.5zM967.5 1014h1.5v3h-1.5zM970.5 1062.5h1.5v4h-1.5zM970.5 1050h1.5v3h-1.5zM972 1071h1.5v18h-1.5zM973.5 1066.5h1.5v4.5h-1.5zM975 1071h1.5v18h-1.5zM976.5 1056h1.5v10.5h-1.5zM979.5 1097.5h1.5v10.5h-1.5zM981 1097.5h1.5v24.5h-1.5zM982.5 1082h1.5v7h-1.5zM982.5 1071h1.5v5h-1.5zM982.5 1062.5h1.5v4h-1.5zM985.5 1071h1.5v5h-1.5zM985.5 1041h1.5v3h-1.5zM987 1089h1.5v8.5h-1.5zM990 1089h1.5v8.5h-1.5zM990 1076h1.5v6h-1.5zM991.5 1059h1.5v12h-1.5zM993 1059h1.5v12h-1.5zM994.5 1066.5h1.5v4.5h-1.5zM994.5 1059h1.5v3.5h-1.5zM996 1076h1.5v6h-1.5zM996 1053h1.5v3h-1.5zM997.5 1076h1.5v21.5h-1.5zM997.5 1005h1.5v3h-1.5zM999 1097.5h1.5v10.5h-1.5zM999 1082h1.5v7h-1.5zM1000.5 1076h1.5v6h-1.5zM1002 1071h1.5v11h-1.5zM1002 1062.5h1.5v4h-1.5zM1003.5 1066.5h1.5v4.5h-1.5zM1005 1097.5h1.5v10.5h-1.5zM1005 1076h1.5v6h-1.5zM1005 1041h1.5v3h-1.5zM1006.5 1071h1.5v5h-1.5zM1006.5 1062.5h1.5v4h-1.5zM1009.5 1076h1.5v6h-1.5zM1009.5 1059h1.5v3.5h-1.5zM1011 1062.5h1.5v4h-1.5zM1011 1050h1.5v9h-1.5zM1011 1020h1.5v3h-1.5zM1012.5 1059h1.5v3.5h-1.5zM1014 1076h1.5v13h-1.5zM1014 1059h1.5v3.5h-1.5zM1014 1041h1.5v3h-1.5zM1015.5 1089h1.5v8.5h-1.5zM1015.5 1071h1.5v11h-1.5zM1015.5 1056h1.5v3h-1.5zM1017 1059h1.5v3.5h-1.5zM1017 1047h1.5v3h-1.5zM1017 1041h1.5v3h-1.5zM1017 1020h1.5v3h-1.5zM1018.5 1032h1.5v3h-1.5zM1018.5 1002h1.5v3h-1.5zM1020 1056h1.5v6.5h-1.5zM1020 1041h1.5v3h-1.5zM1021.5 1056h1.5v3h-1.5zM1021.5 1050h1.5v3h-1.5zM1023 1044h1.5v3h-1.5zM1023 1035h1.5v3h-1.5zM1023 1002h1.5v3h-1.5zM1026 1050h1.5v3h-1.5zM1026 1038h1.5v6h-1.5zM1026 1029h1.5v3h-1.5zM1027.5 1059h1.5v3.5h-1.5zM1027.5 1050h1.5v3h-1.5zM1027.5 1041h1.5v6h-1.5zM1027.5 1032h1.5v3h-1.5zM1029 1029h1.5v15h-1.5zM1029 1020h1.5v3h-1.5zM1029 1005h1.5v6h-1.5zM1029 984h1.5v3h-1.5zM1030.5 1059h1.5v3.5h-1.5zM1030.5 1044h1.5v3h-1.5zM1030.5 1035h1.5v3h-1.5zM1032 1035h1.5v3h-1.5zM1032 1026h1.5v6h-1.5zM1033.5 1029h1.5v9h-1.5zM1033.5 1017h1.5v3h-1.5zM1035 1050h1.5v3h-1.5zM1035 1026h1.5v3h-1.5zM1035 1014h1.5v3h-1.5zM1036.5 1047h1.5v3h-1.5zM1036.5 1014h1.5v3h-1.5zM1038 1053h1.5v3h-1.5zM1038 1047h1.5v3h-1.5zM1041 1050h1.5v3h-1.5zM1041 1041h1.5v6h-1.5zM1041 1020h1.5v3h-1.5zM1044 1047h1.5v3h-1.5zM1045.5 1053h1.5v3h-1.5zM1047 1062.5h1.5v4h-1.5zM1047 1053h1.5v3h-1.5zM1047 1047h1.5v3h-1.5zM1048.5 1071h1.5v5h-1.5zM1048.5 1062.5h1.5v4h-1.5zM1048.5 1050h1.5v3h-1.5zM1048.5 1041h1.5v3h-1.5zM1050 1082h1.5v7h-1.5zM1050 1071h1.5v5h-1.5zM1050 1059h1.5v3.5h-1.5zM1050 1053h1.5v3h-1.5zM1050 1047h1.5v3h-1.5zM1051.5 1056h1.5v20h-1.5zM1051.5 1038h1.5v6h-1.5zM1051.5 1032h1.5v3h-1.5zM1053 1089h1.5v8.5h-1.5zM1053 1076h1.5v6h-1.5zM1053 1032h1.5v3h-1.5zM1054.5 1066.5h1.5v4.5h-1.5zM1054.5 1059h1.5v3.5h-1.5zM1054.5 1035h1.5v3h-1.5zM1056 1066.5h1.5v4.5h-1.5zM1056 1059h1.5v3.5h-1.5zM1057.5 1062.5h1.5v4h-1.5zM1057.5 1050h1.5v3h-1.5zM1059 1097.5h1.5v24.5h-1.5zM1059 1062.5h1.5v4h-1.5zM1059 1050h1.5v6h-1.5zM1060.5 1108h1.5v14h-1.5zM1060.5 1082h1.5v15.5h-1.5zM1060.5 1044h1.5v6h-1.5zM1062 1076h1.5v6h-1.5zM1063.5 1066.5h1.5v9.5h-1.5zM1063.5 1059h1.5v3.5h-1.5zM1063.5 1053h1.5v3h-1.5zM1066.5 1108h1.5v14h-1.5zM1066.5 1082h1.5v7h-1.5zM1068 1053h1.5v6h-1.5zM1069.5 1066.5h1.5v9.5h-1.5zM1071 1056h1.5v15h-1.5zM1071 1020h1.5v3h-1.5zM1072.5 1062.5h1.5v4h-1.5zM1072.5 1056h1.5v3h-1.5zM1074 1059h1.5v3.5h-1.5zM1075.5 1059h1.5v3.5h-1.5zM1077 1071h1.5v11h-1.5zM1078.5 1082h1.5v40h-1.5zM1078.5 1053h1.5v3h-1.5zM1080 1056h1.5v3h-1.5zM1080 1050h1.5v3h-1.5zM1081.5 1089h1.5v8.5h-1.5zM1083 1071h1.5v11h-1.5zM1083 1059h1.5v3.5h-1.5zM1083 1044h1.5v3h-1.5zM1084.5 1076h1.5v6h-1.5zM1086 1062.5h1.5v4h-1.5zM1089 1062.5h1.5v4h-1.5zM1089 1047h1.5v3h-1.5zM1090.5 1071h1.5v5h-1.5zM1092 1053h1.5v6h-1.5zM1092 1047h1.5v3h-1.5zM1092 1038h1.5v3h-1.5zM1092 984h1.5v3h-1.5zM1092 975h1.5v3h-1.5zM1093.5 1066.5h1.5v4.5h-1.5zM1093.5 1056h1.5v6.5h-1.5zM1093.5 1041h1.5v6h-1.5zM1095 1056h1.5v10.5h-1.5zM1095 1050h1.5v3h-1.5zM1095 1044h1.5v3h-1.5zM1095 1023h1.5v3h-1.5zM1096.5 1066.5h1.5v4.5h-1.5zM1098 1059h1.5v3.5h-1.5zM1098 1050h1.5v3h-1.5zM1099.5 1082h1.5v7h-1.5zM1099.5 1059h1.5v3.5h-1.5zM1099.5 1050h1.5v3h-1.5zM1101 1082h1.5v7h-1.5zM1102.5 1066.5h1.5v4.5h-1.5zM1102.5 1059h1.5v3.5h-1.5zM1105.5 1059h1.5v7.5h-1.5zM1107 1059h1.5v3.5h-1.5zM1107 1041h1.5v6h-1.5zM1108.5 1066.5h1.5v4.5h-1.5zM1108.5 1059h1.5v3.5h-1.5zM1111.5 1071h1.5v5h-1.5zM1111.5 1062.5h1.5v4h-1.5zM1111.5 1041h1.5v3h-1.5zM1113 1071h1.5v11h-1.5zM1114.5 1062.5h1.5v8.5h-1.5zM1116 1082h1.5v7h-1.5zM1116 1066.5h1.5v4.5h-1.5zM1117.5 1071h1.5v11h-1.5zM1117.5 1056h1.5v3h-1.5zM1119 1082h1.5v7h-1.5zM1119 1062.5h1.5v13.5h-1.5zM1120.5 1082h1.5v7h-1.5zM1120.5 1059h1.5v3.5h-1.5zM1122 1076h1.5v6h-1.5zM1122 1066.5h1.5v4.5h-1.5zM1123.5 1071h1.5v5h-1.5zM1125 1062.5h1.5v4h-1.5zM1125 1002h1.5v3h-1.5zM1126.5 1082h1.5v7h-1.5zM1126.5 1071h1.5v5h-1.5zM1126.5 1062.5h1.5v4h-1.5zM1126.5 1041h1.5v3h-1.5zM1128 1059h1.5v3.5h-1.5zM1128 1041h1.5v3h-1.5zM1131 1053h1.5v6h-1.5zM1131 1047h1.5v3h-1.5zM1132.5 1089h1.5v8.5h-1.5zM1132.5 1071h1.5v11h-1.5zM1132.5 1050h1.5v3h-1.5zM1132.5 1044h1.5v3h-1.5zM1132.5 1032h1.5v3h-1.5zM1134 1041h1.5v21.5h-1.5zM1135.5 1059h1.5v3.5h-1.5zM1135.5 1050h1.5v3h-1.5zM1137 1056h1.5v6.5h-1.5zM1137 1050h1.5v3h-1.5zM1137 1041h1.5v3h-1.5zM1138.5 1047h1.5v9h-1.5zM1138.5 1041h1.5v3h-1.5zM1140 1047h1.5v3h-1.5zM1141.5 1056h1.5v3h-1.5zM1141.5 1041h1.5v6h-1.5zM1143 1041h1.5v9h-1.5zM1144.5 1038h1.5v3h-1.5zM1144.5 1029h1.5v3h-1.5zM1146 1035h1.5v3h-1.5zM1146 1026h1.5v3h-1.5zM1147.5 1041h1.5v6h-1.5zM1149 1035h1.5v6h-1.5zM1149 1029h1.5v3h-1.5zM1149 1020h1.5v3h-1.5zM1152 1062.5h1.5v4h-1.5zM1152 1056h1.5v3h-1.5zM1152 1050h1.5v3h-1.5zM1153.5 1059h1.5v7.5h-1.5zM1153.5 1050h1.5v3h-1.5zM1153.5 1041h1.5v3h-1.5zM1153.5 1029h1.5v3h-1.5zM1153.5 1020h1.5v3h-1.5zM1155 1047h1.5v9h-1.5zM1155 1041h1.5v3h-1.5zM1156.5 1071h1.5v11h-1.5zM1156.5 1053h1.5v9.5h-1.5zM1156.5 1047h1.5v3h-1.5zM1156.5 1041h1.5v3h-1.5zM1156.5 1029h1.5v3h-1.5zM1158 1082h1.5v7h-1.5zM1158 1066.5h1.5v4.5h-1.5zM1158 1044h1.5v3h-1.5zM1159.5 1041h1.5v6h-1.5zM1161 1056h1.5v3h-1.5zM1161 1050h1.5v3h-1.5zM1162.5 1108h1.5v14h-1.5zM1162.5 1089h1.5v8.5h-1.5zM1162.5 1066.5h1.5v4.5h-1.5zM1162.5 1032h1.5v3h-1.5zM1164 1062.5h1.5v4h-1.5zM1165.5 1076h1.5v6h-1.5zM1167 1097.5h1.5v10.5h-1.5zM1167 1082h1.5v7h-1.5zM1167 1062.5h1.5v4h-1.5zM1168.5 1071h1.5v5h-1.5zM1170 1062.5h1.5v8.5h-1.5zM1171.5 1082h1.5v15.5h-1.5zM1171.5 1071h1.5v5h-1.5zM1171.5 1014h1.5v3h-1.5zM1173 1071h1.5v11h-1.5zM1176 1059h1.5v3.5h-1.5zM1179 1076h1.5v6h-1.5zM1179 1066.5h1.5v4.5h-1.5zM1180.5 1062.5h1.5v4h-1.5zM1182 1059h1.5v12h-1.5zM1183.5 1071h1.5v5h-1.5zM1183.5 1059h1.5v3.5h-1.5zM1185 1071h1.5v11h-1.5zM1186.5 1062.5h1.5v4h-1.5zM1188 1062.5h1.5v8.5h-1.5zM1189.5 1071h1.5v11h-1.5zM1189.5 1059h1.5v3.5h-1.5zM1191 1071h1.5v5h-1.5zM1191 1059h1.5v3.5h-1.5zM1191 1020h1.5v3h-1.5zM1192.5 1082h1.5v7h-1.5zM1192.5 1071h1.5v5h-1.5zM1192.5 1062.5h1.5v4h-1.5zM1192.5 1047h1.5v3h-1.5zM1194 1097.5h1.5v24.5h-1.5zM1194 1056h1.5v15h-1.5zM1195.5 1071h1.5v5h-1.5zM1195.5 1056h1.5v3h-1.5zM1197 1076h1.5v13h-1.5zM1198.5 1108h1.5v14h-1.5zM1200 1089h1.5v8.5h-1.5zM1200 1076h1.5v6h-1.5zM1203 1082h1.5v7h-1.5zM1204.5 1076h1.5v13h-1.5zM1206 1062.5h1.5v13.5h-1.5zM1207.5 1076h1.5v13h-1.5zM1209 1082h1.5v7h-1.5zM1209 1059h1.5v3.5h-1.5zM1212 1108h1.5v14h-1.5zM1213.5 1062.5h1.5v13.5h-1.5zM1215 1082h1.5v7h-1.5zM1218 1089h1.5v8.5h-1.5zM1218 1053h1.5v3h-1.5zM1218 1047h1.5v3h-1.5zM1219.5 1032h1.5v3h-1.5zM1222.5 1071h1.5v5h-1.5zM1224 1071h1.5v5h-1.5zM1224 1041h1.5v3h-1.5zM1224 996h1.5v3h-1.5zM1225.5 1076h1.5v32h-1.5zM1225.5 1066.5h1.5v4.5h-1.5zM1225.5 1020h1.5v3h-1.5zM1227 1071h1.5v11h-1.5zM1227 1062.5h1.5v4h-1.5zM1228.5 1062.5h1.5v4h-1.5zM1230 1076h1.5v13h-1.5zM1231.5 1071h1.5v11h-1.5zM1231.5 1062.5h1.5v4h-1.5zM1233 1076h1.5v13h-1.5zM1234.5 1089h1.5v8.5h-1.5zM1236 1047h1.5v3h-1.5zM1239 1071h1.5v11h-1.5zM1240.5 1066.5h1.5v9.5h-1.5zM1240.5 1053h1.5v3h-1.5zM1242 1066.5h1.5v9.5h-1.5zM1243.5 1082h1.5v26h-1.5zM1243.5 1044h1.5v3h-1.5zM1245 1108h1.5v14h-1.5zM1246.5 1071h1.5v5h-1.5zM1248 1089h1.5v8.5h-1.5zM1248 1020h1.5v3h-1.5zM1249.5 1076h1.5v6h-1.5zM1249.5 1066.5h1.5v4.5h-1.5zM1251 1071h1.5v5h-1.5zM1251 1059h1.5v3.5h-1.5zM1252.5 1082h1.5v7h-1.5zM1254 1082h1.5v7h-1.5zM1255.5 1062.5h1.5v13.5h-1.5zM1257 1076h1.5v6h-1.5zM1258.5 1071h1.5v11h-1.5zM1260 1062.5h1.5v8.5h-1.5zM1261.5 1059h1.5v3.5h-1.5zM1261.5 1044h1.5v3h-1.5zM1261.5 1035h1.5v3h-1.5zM1261.5 1008h1.5v3h-1.5zM1263 1071h1.5v11h-1.5zM1263 1059h1.5v3.5h-1.5zM1263 1041h1.5v3h-1.5zM1266 1066.5h1.5v15.5h-1.5zM1267.5 1056h1.5v15h-1.5zM1269 1059h1.5v12h-1.5zM1270.5 1108h1.5v14h-1.5zM1270.5 1082h1.5v15.5h-1.5zM1270.5 1071h1.5v5h-1.5zM1270.5 1041h1.5v3h-1.5zM1270.5 1020h1.5v3h-1.5zM1272 1089h1.5v8.5h-1.5zM1272 1053h1.5v3h-1.5zM1272 1041h1.5v3h-1.5zM1275 1066.5h1.5v9.5h-1.5zM1276.5 1047h1.5v3h-1.5zM1276.5 1041h1.5v3h-1.5zM1276.5 1023h1.5v3h-1.5zM1278 1062.5h1.5v8.5h-1.5zM1281 1053h1.5v3h-1.5zM1281 1017h1.5v3h-1.5zM1282.5 1066.5h1.5v4.5h-1.5zM1282.5 1056h1.5v6.5h-1.5zM1284 1082h1.5v7h-1.5zM1285.5 1076h1.5v6h-1.5zM1285.5 1066.5h1.5v4.5h-1.5zM1287 1082h1.5v7h-1.5zM1287 1056h1.5v3h-1.5zM1288.5 1082h1.5v7h-1.5zM1288.5 1071h1.5v5h-1.5zM1288.5 1062.5h1.5v4h-1.5zM1288.5 990h1.5v3h-1.5zM1291.5 1071h1.5v11h-1.5zM1293 1071h1.5v5h-1.5zM1293 1059h1.5v3.5h-1.5zM1294.5 1066.5h1.5v9.5h-1.5zM1296 1076h1.5v6h-1.5zM1296 1062.5h1.5v4h-1.5zM1297.5 1097.5h1.5v10.5h-1.5zM1297.5 1044h1.5v3h-1.5zM1297.5 1020h1.5v3h-1.5zM1299 1066.5h1.5v4.5h-1.5zM1299 1059h1.5v3.5h-1.5zM1300.5 1066.5h1.5v9.5h-1.5zM1300.5 1059h1.5v3.5h-1.5zM1302 1089h1.5v33h-1.5zM1303.5 1062.5h1.5v19.5h-1.5zM1305 1082h1.5v15.5h-1.5zM1305 1071h1.5v5h-1.5zM1306.5 1097.5h1.5v24.5h-1.5zM1306.5 1047h1.5v3h-1.5zM1308 1056h1.5v6.5h-1.5zM1309.5 1089h1.5v33h-1.5zM1309.5 1076h1.5v6h-1.5zM1311 1066.5h1.5v4.5h-1.5zM1312.5 1066.5h1.5v9.5h-1.5zM1312.5 1059h1.5v3.5h-1.5zM1312.5 1053h1.5v3h-1.5zM1312.5 1044h1.5v3h-1.5zM1312.5 975h1.5v3h-1.5zM1314 1071h1.5v5h-1.5zM1315.5 1056h1.5v10.5h-1.5zM1315.5 1026h1.5v3h-1.5zM1317 1066.5h1.5v4.5h-1.5zM1318.5 1097.5h1.5v24.5h-1.5zM1318.5 1082h1.5v7h-1.5zM1320 1066.5h1.5v9.5h-1.5zM1321.5 1062.5h1.5v4h-1.5zM1321.5 1044h1.5v3h-1.5zM1323 1062.5h1.5v13.5h-1.5zM1323 1056h1.5v3h-1.5zM1324.5 1076h1.5v6h-1.5zM1326 1089h1.5v8.5h-1.5zM1326 1050h1.5v3h-1.5zM1327.5 1076h1.5v13h-1.5zM1327.5 1066.5h1.5v4.5h-1.5zM1329 1066.5h1.5v4.5h-1.5zM1329 1044h1.5v3h-1.5zM1330.5 1062.5h1.5v4h-1.5zM1332 1071h1.5v5h-1.5zM1333.5 1066.5h1.5v4.5h-1.5zM1335 1089h1.5v8.5h-1.5zM1335 1071h1.5v5h-1.5zM1336.5 1059h1.5v12h-1.5zM1338 1076h1.5v13h-1.5zM1339.5 1050h1.5v3h-1.5zM1341 1066.5h1.5v15.5h-1.5zM1341 1041h1.5v3h-1.5zM1344 1097.5h1.5v24.5h-1.5zM1344 1076h1.5v13h-1.5zM1344 1066.5h1.5v4.5h-1.5zM1344 1050h1.5v3h-1.5zM1345.5 1108h1.5v14h-1.5zM1345.5 1082h1.5v15.5h-1.5zM1345.5 1071h1.5v5h-1.5zM1347 1062.5h1.5v4h-1.5zM1347 1056h1.5v3h-1.5zM1348.5 1066.5h1.5v15.5h-1.5zM1348.5 1020h1.5v3h-1.5zM1350 1071h1.5v5h-1.5zM1350 1056h1.5v3h-1.5zM1353 1071h1.5v11h-1.5zM1354.5 1066.5h1.5v4.5h-1.5zM1356 1089h1.5v19h-1.5zM1356 1017h1.5v3h-1.5zM1357.5 1066.5h1.5v9.5h-1.5zM1359 1071h1.5v5h-1.5zM1360.5 1089h1.5v8.5h-1.5zM1360.5 1071h1.5v11h-1.5zM1362 1056h1.5v3h-1.5zM1363.5 1066.5h1.5v4.5h-1.5zM1365 1076h1.5v6h-1.5zM1366.5 1062.5h1.5v8.5h-1.5zM1368 1097.5h1.5v24.5h-1.5zM1368 1020h1.5v3h-1.5zM1369.5 1076h1.5v6h-1.5zM1371 1071h1.5v11h-1.5zM1371 1056h1.5v3h-1.5zM1372.5 1066.5h1.5v9.5h-1.5zM1374 1062.5h1.5v8.5h-1.5zM1375.5 1108h1.5v14h-1.5zM1375.5 1082h1.5v7h-1.5zM1377 1089h1.5v8.5h-1.5zM1380 1071h1.5v5h-1.5zM1381.5 1076h1.5v6h-1.5zM1383 1071h1.5v5h-1.5zM1384.5 1076h1.5v6h-1.5zM1386 1066.5h1.5v4.5h-1.5zM1387.5 1066.5h1.5v4.5h-1.5zM1389 1082h1.5v7h-1.5zM1389 1066.5h1.5v9.5h-1.5zM1389 984h1.5v3h-1.5zM1390.5 1076h0.5v6h-0.5zM1498 1066.5h1.5v4.5h-1.5zM1498 1038h1.5v3h-1.5zM1499.5 1076h1.5v6h-1.5zM1501 1108h1.5v14h-1.5zM1504 1066.5h1.5v9.5h-1.5zM1505.5 1082h1.5v7h-1.5zM1505.5 1071h1.5v5h-1.5zM1505.5 1062.5h1.5v4h-1.5zM1507 1089h1.5v8.5h-1.5zM1507 1071h1.5v5h-1.5zM1508.5 1076h1.5v6h-1.5zM1510 1076h1.5v13h-1.5zM1511.5 1062.5h1.5v13.5h-1.5zM1513 1108h1.5v14h-1.5zM1513 1089h1.5v8.5h-1.5zM1514.5 1082h1.5v7h-1.5zM1514.5 1062.5h1.5v4h-1.5zM1519 1066.5h1.5v15.5h-1.5zM902 998h2v1.5h-2zM912 998h2v1.5h-2zM914 998h2v1.5h-2zM942 998h2v1.5h-2zM944 998h2v1.5h-2zM954 998h2v1.5h-2zM1008 998h2v1.5h-2zM784 1009h2v1.5h-2zM786 1009h2v1.5h-2zM808 1009h2v1.5h-2zM810 1009h2v1.5h-2zM816 1009h2v1.5h-2zM848 1009h2v1.5h-2zM872 1009h2v1.5h-2zM874 1009h2v1.5h-2zM882 1009h2v1.5h-2zM898 1009h2v1.5h-2zM904 1009h2v1.5h-2zM908 1009h2v1.5h-2zM930 1009h2v1.5h-2zM932 1009h2v1.5h-2zM936 1009h2v1.5h-2zM938 1009h2v1.5h-2zM950 1009h2v1.5h-2zM952 1009h2v1.5h-2zM1130 1009h2v1.5h-2zM1132 1009h2v1.5h-2zM1138 1009h2v1.5h-2zM1152 1009h2v1.5h-2zM1154 1009h2v1.5h-2zM1158 1009h2v1.5h-2zM1168 1009h2v1.5h-2zM1170 1009h2v1.5h-2zM1182 1009h2v1.5h-2zM1204 1009h2v1.5h-2zM1206 1009h2v1.5h-2zM1210 1009h2v1.5h-2zM1234 1009h2v1.5h-2zM1236 1009h2v1.5h-2zM1260 1009h2v1.5h-2zM1264 1009h2v1.5h-2zM1270 1009h2v1.5h-2zM1272 1009h2v1.5h-2zM1274 1009h2v1.5h-2zM1280 1009h2v1.5h-2zM1288 1009h2v1.5h-2zM1296 1009h2v1.5h-2zM1304 1009h2v1.5h-2zM1312 1009h2v1.5h-2zM1314 1009h2v1.5h-2zM1332 1009h2v1.5h-2zM1340 1009h2v1.5h-2zM1352 1009h2v1.5h-2zM1378 1009h2v1.5h-2zM882 1036h2v1.5h-2zM884 1036h2v1.5h-2zM886 1036h2v1.5h-2zM898 1036h2v1.5h-2zM918 1036h2v1.5h-2zM920 1036h2v1.5h-2zM924 1036h2v1.5h-2zM928 1036h2v1.5h-2zM942 1036h2v1.5h-2zM954 1036h2v1.5h-2zM968 1036h2v1.5h-2zM824 1040h2v1.5h-2zM842 1040h2v1.5h-2zM860 1040h2v1.5h-2zM866 1040h2v1.5h-2zM870 1040h2v1.5h-2zM878 1040h2v1.5h-2zM880 1040h2v1.5h-2zM884 1040h2v1.5h-2zM886 1040h2v1.5h-2zM894 1040h2v1.5h-2zM906 1040h2v1.5h-2zM918 1040h2v1.5h-2zM936 1040h2v1.5h-2zM950 1040h2v1.5h-2zM962 1040h2v1.5h-2zM1179 1040h2v1.5h-2zM1181 1040h2v1.5h-2zM1185 1040h2v1.5h-2zM1207 1040h2v1.5h-2zM1253 1040h2v1.5h-2zM1257 1040h2v1.5h-2zM1269 1040h2v1.5h-2zM1287 1040h2v1.5h-2zM1299 1040h2v1.5h-2zM1307 1040h2v1.5h-2zM1329 1040h2v1.5h-2zM1333 1040h2v1.5h-2zM1341 1040h2v1.5h-2zM1353 1040h2v1.5h-2zM1359 1040h2v1.5h-2zM1377 1040h2v1.5h-2zM1379 1040h2v1.5h-2zM1389 1040h2v1.5h-2zM890 1025h2v1.5h-2zM892 1025h2v1.5h-2zM896 1025h2v1.5h-2zM900 1025h2v1.5h-2zM906 1025h2v1.5h-2zM908 1025h2v1.5h-2zM910 1025h2v1.5h-2zM918 1025h2v1.5h-2zM928 1025h2v1.5h-2zM942 1025h2v1.5h-2zM948 1025h2v1.5h-2zM954 1025h2v1.5h-2zM956 1025h2v1.5h-2zM970 1025h2v1.5h-2zM1237 996h2v1.5h-2zM1247 996h2v1.5h-2zM1196 1024h2v1.5h-2zM1206 1024h2v1.5h-2zM1220 1024h2v1.5h-2zM1234 1024h2v1.5h-2zM1256 1024h2v1.5h-2zM1258 1024h2v1.5h-2z" fill="rgb(0,0,241)"/><path d="M736.5 1097.5h1.5v10.5h-1.5zM742.5 1097.5h1.5v10.5h-1.5zM762 1097.5h1.5v10.5h-1.5zM765 1089h1.5v8.5h-1.5zM774 1097.5h1.5v24.5h-1.5zM781.5 1089h1.5v33h-1.5zM795 1097.5h1.5v10.5h-1.5zM796.5 1089h1.5v19h-1.5zM798 1097.5h1.5v24.5h-1.5zM804 1108h1.5v14h-1.5zM805.5 1108h1.5v14h-1.5zM807 1108h1.5v14h-1.5zM822 1108h1.5v14h-1.5zM822 1076h1.5v6h-1.5zM829.5 1097.5h1.5v10.5h-1.5zM835.5 1097.5h1.5v10.5h-1.5zM843 1108h1.5v14h-1.5zM843 1089h1.5v8.5h-1.5zM846 1097.5h1.5v24.5h-1.5zM870 1089h1.5v8.5h-1.5zM874.5 1082h1.5v15.5h-1.5zM879 1089h1.5v8.5h-1.5zM882 1089h1.5v8.5h-1.5zM888 1089h1.5v8.5h-1.5zM889.5 1108h1.5v14h-1.5zM891 1097.5h1.5v10.5h-1.5zM892.5 1082h1.5v7h-1.5zM897 1082h1.5v7h-1.5zM901.5 1082h1.5v7h-1.5zM903 1097.5h1.5v10.5h-1.5zM906 1089h1.5v8.5h-1.5zM909 1071h1.5v11h-1.5zM913.5 1108h1.5v14h-1.5zM913.5 1082h1.5v15.5h-1.5zM915 1082h1.5v7h-1.5zM916.5 1089h1.5v8.5h-1.5zM922.5 1082h1.5v7h-1.5zM927 1062.5h1.5v4h-1.5zM928.5 1108h1.5v14h-1.5zM930 1076h1.5v6h-1.5zM933 1097.5h1.5v10.5h-1.5zM936 1108h1.5v14h-1.5zM937.5 1097.5h1.5v24.5h-1.5zM940.5 1108h1.5v14h-1.5zM940.5 1089h1.5v8.5h-1.5zM942 1097.5h1.5v10.5h-1.5zM943.5 1082h1.5v15.5h-1.5zM946.5 1071h1.5v11h-1.5zM946.5 1044h1.5v3h-1.5zM948 1089h1.5v8.5h-1.5zM951 1108h1.5v14h-1.5zM951 1082h1.5v15.5h-1.5zM952.5 1089h1.5v8.5h-1.5zM954 1071h1.5v11h-1.5zM955.5 1071h1.5v11h-1.5zM958.5 1097.5h1.5v10.5h-1.5zM961.5 1071h1.5v5h-1.5zM964.5 1089h1.5v8.5h-1.5zM966 1089h1.5v8.5h-1.5zM966 1066.5h1.5v4.5h-1.5zM975 1089h1.5v8.5h-1.5zM978 1066.5h1.5v9.5h-1.5zM979.5 1082h1.5v7h-1.5zM982.5 1076h1.5v6h-1.5zM984 1076h1.5v6h-1.5zM985.5 1076h1.5v13h-1.5zM988.5 1097.5h1.5v10.5h-1.5zM990 1097.5h1.5v24.5h-1.5zM990 1053h1.5v3h-1.5zM994.5 1071h1.5v5h-1.5zM996 1082h1.5v7h-1.5zM999 1108h1.5v14h-1.5zM1000.5 1082h1.5v7h-1.5zM1003.5 1071h1.5v5h-1.5zM1006.5 1076h1.5v6h-1.5zM1008 1076h1.5v6h-1.5zM1009.5 1062.5h1.5v4h-1.5zM1011 1059h1.5v3.5h-1.5zM1012.5 1066.5h1.5v4.5h-1.5zM1014 1108h1.5v14h-1.5zM1014 1056h1.5v3h-1.5zM1015.5 1108h1.5v14h-1.5zM1018.5 1041h1.5v9h-1.5zM1020 1062.5h1.5v4h-1.5zM1021.5 1044h1.5v3h-1.5zM1023 1047h1.5v3h-1.5zM1024.5 1053h1.5v3h-1.5zM1024.5 1047h1.5v3h-1.5zM1024.5 1038h1.5v6h-1.5zM1026 1053h1.5v3h-1.5zM1026 1047h1.5v3h-1.5zM1027.5 1082h1.5v15.5h-1.5zM1027.5 1053h1.5v3h-1.5zM1027.5 1047h1.5v3h-1.5zM1030.5 1066.5h1.5v4.5h-1.5zM1030.5 1050h1.5v3h-1.5zM1030.5 1041h1.5v3h-1.5zM1032 1038h1.5v3h-1.5zM1033.5 1023h1.5v6h-1.5zM1036.5 1041h1.5v6h-1.5zM1038 1050h1.5v3h-1.5zM1038 1044h1.5v3h-1.5zM1039.5 1041h1.5v3h-1.5zM1041 1053h1.5v3h-1.5zM1042.5 1050h1.5v3h-1.5zM1044 1062.5h1.5v4h-1.5zM1044 1056h1.5v3h-1.5zM1044 1041h1.5v3h-1.5zM1045.5 1066.5h1.5v4.5h-1.5zM1045.5 1059h1.5v3.5h-1.5zM1045.5 1044h1.5v3h-1.5zM1045.5 1032h1.5v3h-1.5zM1047 1056h1.5v6.5h-1.5zM1047 1044h1.5v3h-1.5zM1048.5 1066.5h1.5v4.5h-1.5zM1048.5 1053h1.5v6h-1.5zM1050 1056h1.5v3h-1.5zM1053 1082h1.5v7h-1.5zM1054.5 1041h1.5v3h-1.5zM1056 1071h1.5v11h-1.5zM1056 1053h1.5v3h-1.5zM1057.5 1089h1.5v8.5h-1.5zM1057.5 1071h1.5v11h-1.5zM1059 1089h1.5v8.5h-1.5zM1060.5 1097.5h1.5v10.5h-1.5zM1060.5 1071h1.5v5h-1.5zM1065 1066.5h1.5v9.5h-1.5zM1068 1059h1.5v7.5h-1.5zM1069.5 1076h1.5v6h-1.5zM1069.5 1050h1.5v3h-1.5zM1069.5 1044h1.5v3h-1.5zM1071 1071h1.5v5h-1.5zM1072.5 1059h1.5v3.5h-1.5zM1074 1062.5h1.5v4h-1.5zM1075.5 1062.5h1.5v4h-1.5zM1080 1059h1.5v7.5h-1.5zM1081.5 1097.5h1.5v24.5h-1.5zM1083 1082h1.5v7h-1.5zM1084.5 1082h1.5v7h-1.5zM1086 1066.5h1.5v4.5h-1.5zM1087.5 1066.5h1.5v4.5h-1.5zM1089 1059h1.5v3.5h-1.5zM1092 1059h1.5v7.5h-1.5zM1092 1041h1.5v3h-1.5zM1095 1066.5h1.5v4.5h-1.5zM1098 1062.5h1.5v4h-1.5zM1098 1053h1.5v3h-1.5zM1099.5 1089h1.5v33h-1.5zM1099.5 1076h1.5v6h-1.5zM1101 1089h1.5v33h-1.5zM1101 1066.5h1.5v4.5h-1.5zM1102.5 1062.5h1.5v4h-1.5zM1102.5 1056h1.5v3h-1.5zM1104 1053h1.5v3h-1.5zM1105.5 1071h1.5v11h-1.5zM1107 1076h1.5v6h-1.5zM1110 1066.5h1.5v4.5h-1.5zM1111.5 1066.5h1.5v4.5h-1.5zM1113 1108h1.5v14h-1.5zM1114.5 1071h1.5v5h-1.5zM1120.5 1076h1.5v6h-1.5zM1122 1071h1.5v5h-1.5zM1125 1076h1.5v6h-1.5zM1125 1066.5h1.5v4.5h-1.5zM1125 1059h1.5v3.5h-1.5zM1126.5 1066.5h1.5v4.5h-1.5zM1126.5 1056h1.5v3h-1.5zM1126.5 1029h1.5v3h-1.5zM1128 1066.5h1.5v4.5h-1.5zM1128 1056h1.5v3h-1.5zM1129.5 1066.5h1.5v9.5h-1.5zM1129.5 1059h1.5v3.5h-1.5zM1132.5 1097.5h1.5v10.5h-1.5zM1132.5 1056h1.5v6.5h-1.5zM1134 1062.5h1.5v8.5h-1.5zM1135.5 1066.5h1.5v9.5h-1.5zM1135.5 1041h1.5v3h-1.5zM1137 1053h1.5v3h-1.5zM1138.5 1056h1.5v3h-1.5zM1140 1050h1.5v9h-1.5zM1141.5 1053h1.5v3h-1.5zM1141.5 1047h1.5v3h-1.5zM1143 1056h1.5v3h-1.5zM1143 1050h1.5v3h-1.5zM1144.5 1066.5h1.5v4.5h-1.5zM1144.5 1059h1.5v3.5h-1.5zM1146 1044h1.5v3h-1.5zM1147.5 1047h1.5v12h-1.5zM1149 1053h1.5v3h-1.5zM1149 1047h1.5v3h-1.5zM1149 1032h1.5v3h-1.5zM1150.5 1044h1.5v3h-1.5zM1152 1053h1.5v3h-1.5zM1152 1047h1.5v3h-1.5zM1153.5 1056h1.5v3h-1.5zM1153.5 1044h1.5v3h-1.5zM1155 1056h1.5v10.5h-1.5zM1156.5 1108h1.5v14h-1.5zM1156.5 1082h1.5v15.5h-1.5zM1156.5 1066.5h1.5v4.5h-1.5zM1158 1097.5h1.5v24.5h-1.5zM1158 1071h1.5v5h-1.5zM1159.5 1062.5h1.5v4h-1.5zM1159.5 1056h1.5v3h-1.5zM1162.5 1097.5h1.5v10.5h-1.5zM1162.5 1056h1.5v3h-1.5zM1164 1076h1.5v6h-1.5zM1165.5 1082h1.5v7h-1.5zM1165.5 1056h1.5v3h-1.5zM1168.5 1089h1.5v19h-1.5zM1170 1071h1.5v5h-1.5zM1170 1059h1.5v3.5h-1.5zM1174.5 1071h1.5v11h-1.5zM1176 1062.5h1.5v4h-1.5zM1179 1082h1.5v7h-1.5zM1180.5 1076h1.5v6h-1.5zM1183.5 1076h1.5v6h-1.5zM1186.5 1082h1.5v7h-1.5zM1188 1076h1.5v21.5h-1.5zM1189.5 1082h1.5v7h-1.5zM1191 1066.5h1.5v4.5h-1.5zM1192.5 1089h1.5v8.5h-1.5zM1195.5 1062.5h1.5v4h-1.5zM1198.5 1097.5h1.5v10.5h-1.5zM1200 1097.5h1.5v10.5h-1.5zM1201.5 1059h1.5v12h-1.5zM1206 1076h1.5v6h-1.5zM1207.5 1089h1.5v8.5h-1.5zM1209 1089h1.5v8.5h-1.5zM1212 1097.5h1.5v10.5h-1.5zM1213.5 1076h1.5v6h-1.5zM1215 1089h1.5v8.5h-1.5zM1218 1097.5h1.5v10.5h-1.5zM1219.5 1108h1.5v14h-1.5zM1219.5 1089h1.5v8.5h-1.5zM1222.5 1076h1.5v6h-1.5zM1222.5 1066.5h1.5v4.5h-1.5zM1224 1082h1.5v7h-1.5zM1225.5 1108h1.5v14h-1.5zM1230 1108h1.5v14h-1.5zM1230 1089h1.5v8.5h-1.5zM1231.5 1108h1.5v14h-1.5zM1231.5 1059h1.5v3.5h-1.5zM1234.5 1097.5h1.5v24.5h-1.5zM1240.5 1076h1.5v13h-1.5zM1242 1076h1.5v21.5h-1.5zM1243.5 1108h1.5v14h-1.5zM1245 1097.5h1.5v10.5h-1.5zM1249.5 1082h1.5v7h-1.5zM1252.5 1089h1.5v8.5h-1.5zM1254 1076h1.5v6h-1.5zM1255.5 1076h1.5v6h-1.5zM1257 1071h1.5v5h-1.5zM1258.5 1082h1.5v7h-1.5zM1260 1071h1.5v5h-1.5zM1261.5 1076h1.5v13h-1.5zM1263 1082h1.5v7h-1.5zM1264.5 1071h1.5v5h-1.5zM1264.5 1059h1.5v3.5h-1.5zM1266 1062.5h1.5v4h-1.5zM1269 1071h1.5v5h-1.5zM1273.5 1076h1.5v6h-1.5zM1276.5 1050h1.5v3h-1.5zM1276.5 1044h1.5v3h-1.5zM1276.5 1035h1.5v3h-1.5zM1278 1076h1.5v6h-1.5zM1279.5 1089h1.5v8.5h-1.5zM1281 1062.5h1.5v8.5h-1.5zM1282.5 1071h1.5v5h-1.5zM1285.5 1082h1.5v15.5h-1.5zM1287 1108h1.5v14h-1.5zM1287 1089h1.5v8.5h-1.5zM1290 1108h1.5v14h-1.5zM1290 1082h1.5v7h-1.5zM1290 1066.5h1.5v4.5h-1.5zM1291.5 1082h1.5v7h-1.5zM1293 1076h1.5v6h-1.5zM1294.5 1076h1.5v6h-1.5zM1296 1071h1.5v5h-1.5zM1299 1071h1.5v5h-1.5zM1300.5 1076h1.5v6h-1.5zM1302 1076h1.5v6h-1.5zM1311 1071h1.5v11h-1.5zM1312.5 1076h1.5v6h-1.5zM1314 1076h1.5v13h-1.5zM1315.5 1066.5h1.5v4.5h-1.5zM1315.5 1053h1.5v3h-1.5zM1317 1071h1.5v5h-1.5zM1317 1062.5h1.5v4h-1.5zM1320 1076h1.5v13h-1.5zM1321.5 1066.5h1.5v15.5h-1.5zM1323 1059h1.5v3.5h-1.5zM1324.5 1089h1.5v8.5h-1.5zM1327.5 1108h1.5v14h-1.5zM1327.5 1089h1.5v8.5h-1.5zM1329 1071h1.5v18h-1.5zM1330.5 1066.5h1.5v9.5h-1.5zM1332 1076h1.5v6h-1.5zM1333.5 1071h1.5v5h-1.5zM1335 1082h1.5v7h-1.5zM1336.5 1071h1.5v5h-1.5zM1338 1089h1.5v8.5h-1.5zM1339.5 1071h1.5v5h-1.5zM1341 1082h1.5v7h-1.5zM1342.5 1071h1.5v5h-1.5zM1344 1089h1.5v8.5h-1.5zM1347 1071h1.5v11h-1.5zM1350 1089h1.5v8.5h-1.5zM1350 1076h1.5v6h-1.5zM1351.5 1076h1.5v6h-1.5zM1354.5 1076h1.5v6h-1.5zM1354.5 1062.5h1.5v4h-1.5zM1359 1076h1.5v6h-1.5zM1362 1071h1.5v18h-1.5zM1363.5 1071h1.5v5h-1.5zM1365 1082h1.5v15.5h-1.5zM1366.5 1071h1.5v5h-1.5zM1369.5 1082h1.5v7h-1.5zM1369.5 1071h1.5v5h-1.5zM1374 1071h1.5v5h-1.5zM1380 1082h1.5v7h-1.5zM1381.5 1082h1.5v7h-1.5zM1384.5 1082h1.5v7h-1.5zM1387.5 1071h1.5v5h-1.5zM1390.5 1082h0.5v7h-0.5zM1498 1071h1.5v11h-1.5zM1499.5 1082h1.5v15.5h-1.5zM1502.5 1071h1.5v11h-1.5zM1504 1076h1.5v6h-1.5zM1505.5 1089h1.5v8.5h-1.5zM1507 1097.5h1.5v24.5h-1.5zM1513 1097.5h1.5v10.5h-1.5zM1516 1108h1.5v14h-1.5zM1519 1082h1.5v7h-1.5zM1522 1097.5h1.5v10.5h-1.5zM1523.5 1089h0.5v19h-0.5zM900 998h2v1.5h-2zM920 998h2v1.5h-2zM926 998h2v1.5h-2zM946 998h2v1.5h-2zM968 998h2v1.5h-2zM980 998h2v1.5h-2zM996 998h2v1.5h-2zM782 1009h2v1.5h-2zM796 1009h2v1.5h-2zM812 1009h2v1.5h-2zM820 1009h2v1.5h-2zM824 1009h2v1.5h-2zM832 1009h2v1.5h-2zM870 1009h2v1.5h-2zM910 1009h2v1.5h-2zM926 1009h2v1.5h-2zM934 1009h2v1.5h-2zM954 1009h2v1.5h-2zM956 1009h2v1.5h-2zM1136 1009h2v1.5h-2zM1140 1009h2v1.5h-2zM1166 1009h2v1.5h-2zM1178 1009h2v1.5h-2zM1212 1009h2v1.5h-2zM1246 1009h2v1.5h-2zM1278 1009h2v1.5h-2zM1286 1009h2v1.5h-2zM1302 1009h2v1.5h-2zM1316 1009h2v1.5h-2zM1350 1009h2v1.5h-2zM1354 1009h2v1.5h-2zM1366 1009h2v1.5h-2zM1382 1009h2v1.5h-2zM948 1036h2v1.5h-2zM828 1040h2v1.5h-2zM862 1040h2v1.5h-2zM876 1040h2v1.5h-2zM926 1040h2v1.5h-2zM938 1040h2v1.5h-2zM942 1040h2v1.5h-2zM948 1040h2v1.5h-2zM958 1040h2v1.5h-2zM966 1040h2v1.5h-2zM1169 1040h2v1.5h-2zM1195 1040h2v1.5h-2zM1233 1040h2v1.5h-2zM1255 1040h2v1.5h-2zM1261 1040h2v1.5h-2zM1291 1040h2v1.5h-2zM1293 1040h2v1.5h-2zM1297 1040h2v1.5h-2zM1303 1040h2v1.5h-2zM1315 1040h2v1.5h-2zM1327 1040h2v1.5h-2zM1361 1040h2v1.5h-2zM1369 1040h2v1.5h-2zM1371 1040h2v1.5h-2zM1373 1040h2v1.5h-2zM1381 1040h2v1.5h-2zM916 1025h2v1.5h-2zM922 1025h2v1.5h-2zM940 1025h2v1.5h-2zM1227 996h2v1.5h-2zM1229 996h2v1.5h-2z" fill="rgb(0,14,255)"/><path d="M805.5 1097.5h1.5v10.5h-1.5zM843 1097.5h1.5v10.5h-1.5zM859.5 1097.5h1.5v10.5h-1.5zM868.5 1108h1.5v14h-1.5zM868.5 1089h1.5v8.5h-1.5zM870 1108h1.5v14h-1.5zM873 1089h1.5v33h-1.5zM874.5 1108h1.5v14h-1.5zM879 1097.5h1.5v24.5h-1.5zM882 1097.5h1.5v24.5h-1.5zM888 1108h1.5v14h-1.5zM889.5 1097.5h1.5v10.5h-1.5zM891 1108h1.5v14h-1.5zM900 1097.5h1.5v24.5h-1.5zM906 1097.5h1.5v24.5h-1.5zM909 1082h1.5v7h-1.5zM913.5 1097.5h1.5v10.5h-1.5zM916.5 1108h1.5v14h-1.5zM922.5 1089h1.5v8.5h-1.5zM925.5 1082h1.5v7h-1.5zM927 1108h1.5v14h-1.5zM931.5 1097.5h1.5v10.5h-1.5zM936 1097.5h1.5v10.5h-1.5zM939 1076h1.5v6h-1.5zM943.5 1097.5h1.5v10.5h-1.5zM949.5 1076h1.5v6h-1.5zM961.5 1082h1.5v7h-1.5zM963 1108h1.5v14h-1.5zM963 1089h1.5v8.5h-1.5zM964.5 1108h1.5v14h-1.5zM966 1076h1.5v6h-1.5zM967.5 1076h1.5v6h-1.5zM972 1089h1.5v8.5h-1.5zM973.5 1071h1.5v5h-1.5zM975 1097.5h1.5v10.5h-1.5zM976.5 1066.5h1.5v4.5h-1.5zM978 1076h1.5v6h-1.5zM984 1082h1.5v7h-1.5zM988.5 1089h1.5v8.5h-1.5zM991.5 1071h1.5v5h-1.5zM993 1071h1.5v5h-1.5zM997.5 1097.5h1.5v24.5h-1.5zM1000.5 1089h1.5v8.5h-1.5zM1002 1082h1.5v7h-1.5zM1006.5 1082h1.5v7h-1.5zM1008 1071h1.5v5h-1.5zM1009.5 1071h1.5v5h-1.5zM1012.5 1071h1.5v5h-1.5zM1015.5 1097.5h1.5v10.5h-1.5zM1017 1066.5h1.5v4.5h-1.5zM1020 1066.5h1.5v4.5h-1.5zM1021.5 1059h1.5v3.5h-1.5zM1021.5 1053h1.5v3h-1.5zM1023 1050h1.5v6h-1.5zM1024.5 1050h1.5v3h-1.5zM1024.5 1044h1.5v3h-1.5zM1026 1062.5h1.5v4h-1.5zM1026 1056h1.5v3h-1.5zM1026 1044h1.5v3h-1.5zM1027.5 1108h1.5v14h-1.5zM1027.5 1071h1.5v5h-1.5zM1029 1062.5h1.5v4h-1.5zM1029 1056h1.5v3h-1.5zM1029 1050h1.5v3h-1.5zM1030.5 1062.5h1.5v4h-1.5zM1033.5 1041h1.5v3h-1.5zM1035 1044h1.5v3h-1.5zM1036.5 1056h1.5v3h-1.5zM1036.5 1050h1.5v3h-1.5zM1038 1041h1.5v3h-1.5zM1039.5 1059h1.5v3.5h-1.5zM1039.5 1044h1.5v6h-1.5zM1041 1066.5h1.5v4.5h-1.5zM1041 1056h1.5v3h-1.5zM1041 1047h1.5v3h-1.5zM1042.5 1041h1.5v3h-1.5zM1044 1059h1.5v3.5h-1.5zM1044 1044h1.5v3h-1.5zM1045.5 1071h1.5v5h-1.5zM1045.5 1062.5h1.5v4h-1.5zM1045.5 1056h1.5v3h-1.5zM1045.5 1050h1.5v3h-1.5zM1047 1066.5h1.5v4.5h-1.5zM1048.5 1089h1.5v8.5h-1.5zM1048.5 1059h1.5v3.5h-1.5zM1050 1089h1.5v19h-1.5zM1051.5 1108h1.5v14h-1.5zM1051.5 1076h1.5v21.5h-1.5zM1053 1108h1.5v14h-1.5zM1054.5 1082h1.5v7h-1.5zM1054.5 1071h1.5v5h-1.5zM1054.5 1062.5h1.5v4h-1.5zM1054.5 1056h1.5v3h-1.5zM1057.5 1108h1.5v14h-1.5zM1057.5 1082h1.5v7h-1.5zM1062 1082h1.5v7h-1.5zM1063.5 1076h1.5v6h-1.5zM1065 1076h1.5v6h-1.5zM1068 1076h1.5v6h-1.5zM1075.5 1066.5h1.5v4.5h-1.5zM1080 1066.5h1.5v4.5h-1.5zM1081.5 1082h1.5v7h-1.5zM1083 1097.5h1.5v10.5h-1.5zM1086 1071h1.5v5h-1.5zM1087.5 1071h1.5v5h-1.5zM1089 1066.5h1.5v9.5h-1.5zM1092 1066.5h1.5v4.5h-1.5zM1092 1050h1.5v3h-1.5zM1093.5 1071h1.5v5h-1.5zM1093.5 1062.5h1.5v4h-1.5zM1095 1071h1.5v5h-1.5zM1098 1066.5h1.5v4.5h-1.5zM1102.5 1071h1.5v5h-1.5zM1105.5 1089h1.5v19h-1.5zM1107 1071h1.5v5h-1.5zM1108.5 1071h1.5v5h-1.5zM1111.5 1076h1.5v6h-1.5zM1113 1082h1.5v26h-1.5zM1114.5 1076h1.5v6h-1.5zM1116 1097.5h1.5v10.5h-1.5zM1119 1076h1.5v6h-1.5zM1120.5 1108h1.5v14h-1.5zM1120.5 1071h1.5v5h-1.5zM1122 1082h1.5v7h-1.5zM1123.5 1076h1.5v13h-1.5zM1125 1071h1.5v5h-1.5zM1126.5 1076h1.5v6h-1.5zM1128 1071h1.5v5h-1.5zM1128 1062.5h1.5v4h-1.5zM1131 1066.5h1.5v4.5h-1.5zM1131 1059h1.5v3.5h-1.5zM1134 1071h1.5v5h-1.5zM1135.5 1082h1.5v7h-1.5zM1135.5 1044h1.5v3h-1.5zM1137 1062.5h1.5v13.5h-1.5zM1137 1044h1.5v3h-1.5zM1138.5 1059h1.5v7.5h-1.5zM1141.5 1062.5h1.5v4h-1.5zM1143 1062.5h1.5v4h-1.5zM1143 1053h1.5v3h-1.5zM1144.5 1082h1.5v7h-1.5zM1144.5 1062.5h1.5v4h-1.5zM1144.5 1053h1.5v6h-1.5zM1144.5 1041h1.5v3h-1.5zM1146 1053h1.5v6h-1.5zM1146 1041h1.5v3h-1.5zM1149 1050h1.5v3h-1.5zM1149 1041h1.5v6h-1.5zM1149 1026h1.5v3h-1.5zM1150.5 1053h1.5v6h-1.5zM1152 1071h1.5v5h-1.5zM1152 1059h1.5v3.5h-1.5zM1153.5 1082h1.5v15.5h-1.5zM1153.5 1066.5h1.5v4.5h-1.5zM1156.5 1097.5h1.5v10.5h-1.5zM1156.5 1062.5h1.5v4h-1.5zM1159.5 1066.5h1.5v4.5h-1.5zM1161 1066.5h1.5v9.5h-1.5zM1165.5 1108h1.5v14h-1.5zM1168.5 1108h1.5v14h-1.5zM1170 1076h1.5v6h-1.5zM1171.5 1097.5h1.5v24.5h-1.5zM1173 1082h1.5v15.5h-1.5zM1176 1066.5h1.5v4.5h-1.5zM1179 1089h1.5v8.5h-1.5zM1180.5 1082h1.5v7h-1.5zM1180.5 1071h1.5v5h-1.5zM1182 1071h1.5v5h-1.5zM1183.5 1082h1.5v7h-1.5zM1186.5 1076h1.5v6h-1.5zM1189.5 1108h1.5v14h-1.5zM1189.5 1089h1.5v8.5h-1.5zM1191 1076h1.5v13h-1.5zM1192.5 1108h1.5v14h-1.5zM1195.5 1076h1.5v13h-1.5zM1197 1089h1.5v33h-1.5zM1201.5 1071h1.5v5h-1.5zM1203 1089h1.5v8.5h-1.5zM1204.5 1089h1.5v8.5h-1.5zM1206 1082h1.5v7h-1.5zM1207.5 1097.5h1.5v24.5h-1.5zM1213.5 1082h1.5v7h-1.5zM1219.5 1097.5h1.5v10.5h-1.5zM1222.5 1108h1.5v14h-1.5zM1222.5 1082h1.5v7h-1.5zM1224 1089h1.5v8.5h-1.5zM1227 1082h1.5v7h-1.5zM1228.5 1071h1.5v11h-1.5zM1231.5 1097.5h1.5v10.5h-1.5zM1239 1082h1.5v7h-1.5zM1240.5 1089h1.5v8.5h-1.5zM1249.5 1089h1.5v8.5h-1.5zM1252.5 1108h1.5v14h-1.5zM1255.5 1082h1.5v15.5h-1.5zM1257 1082h1.5v15.5h-1.5zM1258.5 1089h1.5v8.5h-1.5zM1260 1076h1.5v6h-1.5zM1261.5 1089h1.5v8.5h-1.5zM1264.5 1076h1.5v6h-1.5zM1266 1082h1.5v7h-1.5zM1269 1076h1.5v6h-1.5zM1273.5 1082h1.5v7h-1.5zM1275 1076h1.5v13h-1.5zM1276.5 1056h1.5v10.5h-1.5zM1279.5 1097.5h1.5v10.5h-1.5zM1282.5 1076h1.5v6h-1.5zM1285.5 1108h1.5v14h-1.5zM1287 1097.5h1.5v10.5h-1.5zM1288.5 1089h1.5v8.5h-1.5zM1290 1089h1.5v19h-1.5zM1291.5 1089h1.5v8.5h-1.5zM1293 1082h1.5v7h-1.5zM1294.5 1082h1.5v7h-1.5zM1296 1066.5h1.5v4.5h-1.5zM1299 1076h1.5v6h-1.5zM1300.5 1082h1.5v7h-1.5zM1303.5 1082h1.5v15.5h-1.5zM1305 1097.5h1.5v24.5h-1.5zM1308 1062.5h1.5v4h-1.5zM1312.5 1108h1.5v14h-1.5zM1312.5 1082h1.5v7h-1.5zM1315.5 1076h1.5v6h-1.5zM1317 1082h1.5v7h-1.5zM1323 1076h1.5v6h-1.5zM1324.5 1097.5h1.5v24.5h-1.5zM1327.5 1097.5h1.5v10.5h-1.5zM1333.5 1076h1.5v13h-1.5zM1335 1097.5h1.5v24.5h-1.5zM1336.5 1082h1.5v7h-1.5zM1338 1108h1.5v14h-1.5zM1339.5 1066.5h1.5v4.5h-1.5zM1342.5 1076h1.5v6h-1.5zM1345.5 1097.5h1.5v10.5h-1.5zM1348.5 1082h1.5v7h-1.5zM1350 1082h1.5v7h-1.5zM1351.5 1082h1.5v7h-1.5zM1353 1082h1.5v7h-1.5zM1354.5 1082h1.5v7h-1.5zM1356 1108h1.5v14h-1.5zM1359 1082h1.5v7h-1.5zM1360.5 1108h1.5v14h-1.5zM1363.5 1076h1.5v6h-1.5zM1365 1097.5h1.5v10.5h-1.5zM1366.5 1076h1.5v6h-1.5zM1372.5 1076h1.5v6h-1.5zM1374 1076h1.5v6h-1.5zM1375.5 1089h1.5v8.5h-1.5zM1380 1089h1.5v8.5h-1.5zM1381.5 1097.5h1.5v24.5h-1.5zM1383 1076h1.5v6h-1.5zM1384.5 1108h1.5v14h-1.5zM1384.5 1089h1.5v8.5h-1.5zM1386 1071h1.5v11h-1.5zM1387.5 1076h1.5v6h-1.5zM1389 1089h1.5v8.5h-1.5zM1498 1082h1.5v15.5h-1.5zM1499.5 1097.5h1.5v10.5h-1.5zM1502.5 1082h1.5v7h-1.5zM1504 1108h1.5v14h-1.5zM1504 1082h1.5v15.5h-1.5zM1505.5 1108h1.5v14h-1.5zM1508.5 1082h1.5v15.5h-1.5zM1510 1089h1.5v33h-1.5zM1511.5 1076h1.5v6h-1.5zM1519 1089h1.5v8.5h-1.5zM1523.5 1108h0.5v14h-0.5zM910 998h2v1.5h-2zM916 998h2v1.5h-2zM934 998h2v1.5h-2zM936 998h2v1.5h-2zM940 998h2v1.5h-2zM956 998h2v1.5h-2zM962 998h2v1.5h-2zM978 998h2v1.5h-2zM982 998h2v1.5h-2zM992 998h2v1.5h-2zM994 998h2v1.5h-2zM810 1040h2v1.5h-2zM816 1040h2v1.5h-2zM818 1040h2v1.5h-2zM822 1040h2v1.5h-2zM832 1040h2v1.5h-2zM850 1040h2v1.5h-2zM872 1040h2v1.5h-2zM890 1040h2v1.5h-2zM900 1040h2v1.5h-2zM908 1040h2v1.5h-2zM910 1040h2v1.5h-2zM912 1040h2v1.5h-2zM924 1040h2v1.5h-2zM932 1040h2v1.5h-2zM940 1040h2v1.5h-2zM960 1040h2v1.5h-2zM1177 1040h2v1.5h-2zM1205 1040h2v1.5h-2zM1209 1040h2v1.5h-2zM1211 1040h2v1.5h-2zM1223 1040h2v1.5h-2zM1259 1040h2v1.5h-2zM1309 1040h2v1.5h-2zM1321 1040h2v1.5h-2zM1357 1040h2v1.5h-2zM1363 1040h2v1.5h-2zM1375 1040h2v1.5h-2zM1385 1040h2v1.5h-2zM1231 996h2v1.5h-2zM1243 996h2v1.5h-2z" fill="rgb(0,42,255)"/><path d="M822 1097.5h1.5v10.5h-1.5zM868.5 1097.5h1.5v10.5h-1.5zM874.5 1097.5h1.5v10.5h-1.5zM888 1097.5h1.5v10.5h-1.5zM892.5 1089h1.5v8.5h-1.5zM897 1108h1.5v14h-1.5zM897 1089h1.5v8.5h-1.5zM909 1089h1.5v8.5h-1.5zM915 1089h1.5v8.5h-1.5zM916.5 1097.5h1.5v10.5h-1.5zM922.5 1108h1.5v14h-1.5zM925.5 1089h1.5v8.5h-1.5zM928.5 1097.5h1.5v10.5h-1.5zM930 1082h1.5v7h-1.5zM939 1082h1.5v7h-1.5zM943.5 1108h1.5v14h-1.5zM946.5 1082h1.5v7h-1.5zM949.5 1082h1.5v7h-1.5zM951 1097.5h1.5v10.5h-1.5zM961.5 1076h1.5v6h-1.5zM963 1097.5h1.5v10.5h-1.5zM964.5 1097.5h1.5v10.5h-1.5zM966 1108h1.5v14h-1.5zM972 1097.5h1.5v10.5h-1.5zM973.5 1076h1.5v13h-1.5zM975 1108h1.5v14h-1.5zM976.5 1071h1.5v5h-1.5zM982.5 1089h1.5v8.5h-1.5zM984 1089h1.5v33h-1.5zM985.5 1089h1.5v8.5h-1.5zM991.5 1076h1.5v13h-1.5zM993 1076h1.5v13h-1.5zM994.5 1076h1.5v6h-1.5zM1000.5 1108h1.5v14h-1.5zM1003.5 1076h1.5v6h-1.5zM1008 1082h1.5v7h-1.5zM1012.5 1076h1.5v13h-1.5zM1018.5 1059h1.5v3.5h-1.5zM1021.5 1062.5h1.5v4h-1.5zM1023 1062.5h1.5v4h-1.5zM1023 1056h1.5v3h-1.5zM1023 1041h1.5v3h-1.5zM1026 1059h1.5v3.5h-1.5zM1027.5 1076h1.5v6h-1.5zM1027.5 1062.5h1.5v4h-1.5zM1027.5 1056h1.5v3h-1.5zM1029 1066.5h1.5v9.5h-1.5zM1029 1044h1.5v6h-1.5zM1030.5 1053h1.5v3h-1.5zM1030.5 1047h1.5v3h-1.5zM1032 1047h1.5v3h-1.5zM1032 1041h1.5v3h-1.5zM1033.5 1047h1.5v3h-1.5zM1033.5 1038h1.5v3h-1.5zM1035 1056h1.5v3h-1.5zM1035 1041h1.5v3h-1.5zM1038 1059h1.5v3.5h-1.5zM1039.5 1053h1.5v6h-1.5zM1041 1076h1.5v6h-1.5zM1041 1059h1.5v3.5h-1.5zM1042.5 1053h1.5v6h-1.5zM1048.5 1108h1.5v14h-1.5zM1048.5 1076h1.5v6h-1.5zM1051.5 1097.5h1.5v10.5h-1.5zM1054.5 1076h1.5v6h-1.5zM1056 1082h1.5v7h-1.5zM1057.5 1097.5h1.5v10.5h-1.5zM1063.5 1082h1.5v15.5h-1.5zM1068 1066.5h1.5v4.5h-1.5zM1069.5 1089h1.5v8.5h-1.5zM1071 1082h1.5v7h-1.5zM1072.5 1071h1.5v5h-1.5zM1074 1066.5h1.5v4.5h-1.5zM1075.5 1071h1.5v5h-1.5zM1077 1082h1.5v15.5h-1.5zM1080 1071h1.5v5h-1.5zM1083 1089h1.5v8.5h-1.5zM1084.5 1089h1.5v33h-1.5zM1089 1076h1.5v6h-1.5zM1090.5 1082h1.5v15.5h-1.5zM1092 1071h1.5v11h-1.5zM1093.5 1076h1.5v13h-1.5zM1095 1076h1.5v6h-1.5zM1096.5 1071h1.5v5h-1.5zM1098 1071h1.5v5h-1.5zM1102.5 1082h1.5v7h-1.5zM1105.5 1108h1.5v14h-1.5zM1107 1082h1.5v7h-1.5zM1108.5 1076h1.5v6h-1.5zM1110 1071h1.5v11h-1.5zM1111.5 1082h1.5v15.5h-1.5zM1117.5 1082h1.5v7h-1.5zM1120.5 1089h1.5v8.5h-1.5zM1128 1076h1.5v6h-1.5zM1129.5 1082h1.5v7h-1.5zM1131 1071h1.5v5h-1.5zM1131 1062.5h1.5v4h-1.5zM1132.5 1108h1.5v14h-1.5zM1140 1062.5h1.5v4h-1.5zM1141.5 1059h1.5v3.5h-1.5zM1144.5 1044h1.5v3h-1.5zM1147.5 1066.5h1.5v4.5h-1.5zM1147.5 1059h1.5v3.5h-1.5zM1150.5 1050h1.5v3h-1.5zM1152 1066.5h1.5v4.5h-1.5zM1153.5 1097.5h1.5v24.5h-1.5zM1153.5 1071h1.5v11h-1.5zM1155 1066.5h1.5v9.5h-1.5zM1158 1089h1.5v8.5h-1.5zM1164 1108h1.5v14h-1.5zM1164 1082h1.5v15.5h-1.5zM1165.5 1089h1.5v8.5h-1.5zM1174.5 1089h1.5v8.5h-1.5zM1176 1071h1.5v5h-1.5zM1179 1108h1.5v14h-1.5zM1185 1082h1.5v7h-1.5zM1192.5 1097.5h1.5v10.5h-1.5zM1203 1097.5h1.5v24.5h-1.5zM1204.5 1097.5h1.5v24.5h-1.5zM1215 1097.5h1.5v24.5h-1.5zM1224 1108h1.5v14h-1.5zM1227 1108h1.5v14h-1.5zM1227 1089h1.5v8.5h-1.5zM1228.5 1082h1.5v7h-1.5zM1230 1097.5h1.5v10.5h-1.5zM1233 1089h1.5v8.5h-1.5zM1242 1108h1.5v14h-1.5zM1246.5 1076h1.5v6h-1.5zM1251 1076h1.5v13h-1.5zM1252.5 1097.5h1.5v10.5h-1.5zM1254 1089h1.5v8.5h-1.5zM1258.5 1108h1.5v14h-1.5zM1260 1082h1.5v15.5h-1.5zM1261.5 1108h1.5v14h-1.5zM1264.5 1082h1.5v7h-1.5zM1267.5 1071h1.5v5h-1.5zM1273.5 1108h1.5v14h-1.5zM1278 1071h1.5v5h-1.5zM1279.5 1108h1.5v14h-1.5zM1281 1071h1.5v11h-1.5zM1282.5 1082h1.5v7h-1.5zM1285.5 1097.5h1.5v10.5h-1.5zM1288.5 1108h1.5v14h-1.5zM1291.5 1108h1.5v14h-1.5zM1300.5 1089h1.5v8.5h-1.5zM1303.5 1108h1.5v14h-1.5zM1308 1066.5h1.5v9.5h-1.5zM1312.5 1089h1.5v8.5h-1.5zM1314 1089h1.5v8.5h-1.5zM1315.5 1071h1.5v5h-1.5zM1317 1076h1.5v6h-1.5zM1320 1089h1.5v8.5h-1.5zM1323 1082h1.5v7h-1.5zM1330.5 1076h1.5v6h-1.5zM1332 1082h1.5v7h-1.5zM1336.5 1089h1.5v8.5h-1.5zM1336.5 1076h1.5v6h-1.5zM1339.5 1076h1.5v6h-1.5zM1341 1089h1.5v8.5h-1.5zM1342.5 1082h1.5v7h-1.5zM1347 1082h1.5v7h-1.5zM1348.5 1089h1.5v33h-1.5zM1350 1097.5h1.5v10.5h-1.5zM1353 1089h1.5v33h-1.5zM1354.5 1089h1.5v8.5h-1.5zM1354.5 1071h1.5v5h-1.5zM1357.5 1076h1.5v6h-1.5zM1360.5 1097.5h1.5v10.5h-1.5zM1362 1089h1.5v8.5h-1.5zM1371 1082h1.5v7h-1.5zM1374 1082h1.5v15.5h-1.5zM1375.5 1097.5h1.5v10.5h-1.5zM1380 1108h1.5v14h-1.5zM1381.5 1089h1.5v8.5h-1.5zM1383 1082h1.5v15.5h-1.5zM1384.5 1097.5h1.5v10.5h-1.5zM1389 1108h1.5v14h-1.5zM1390.5 1108h0.5v14h-0.5zM1390.5 1089h0.5v8.5h-0.5zM1498 1108h1.5v14h-1.5zM1499.5 1108h1.5v14h-1.5zM1505.5 1097.5h1.5v10.5h-1.5zM1511.5 1082h1.5v7h-1.5zM1514.5 1108h1.5v14h-1.5zM1514.5 1089h1.5v8.5h-1.5z" fill="rgb(0,71,255)"/><path d="M892.5 1097.5h1.5v24.5h-1.5zM901.5 1089h1.5v8.5h-1.5zM903 1108h1.5v14h-1.5zM909 1097.5h1.5v24.5h-1.5zM922.5 1097.5h1.5v10.5h-1.5zM927 1089h1.5v19h-1.5zM930 1089h1.5v8.5h-1.5zM949.5 1108h1.5v14h-1.5zM949.5 1089h1.5v8.5h-1.5zM952.5 1097.5h1.5v10.5h-1.5zM954 1082h1.5v15.5h-1.5zM955.5 1082h1.5v7h-1.5zM967.5 1082h1.5v7h-1.5zM972 1108h1.5v14h-1.5zM976.5 1076h1.5v6h-1.5zM978 1082h1.5v7h-1.5zM982.5 1108h1.5v14h-1.5zM985.5 1097.5h1.5v24.5h-1.5zM996 1108h1.5v14h-1.5zM1000.5 1097.5h1.5v10.5h-1.5zM1003.5 1082h1.5v7h-1.5zM1008 1089h1.5v8.5h-1.5zM1009.5 1082h1.5v7h-1.5zM1011 1066.5h1.5v15.5h-1.5zM1017 1071h1.5v5h-1.5zM1018.5 1050h1.5v9h-1.5zM1021.5 1071h1.5v5h-1.5zM1023 1059h1.5v3.5h-1.5zM1024.5 1056h1.5v3h-1.5zM1026 1066.5h1.5v9.5h-1.5zM1027.5 1097.5h1.5v10.5h-1.5zM1029 1059h1.5v3.5h-1.5zM1029 1053h1.5v3h-1.5zM1030.5 1071h1.5v18h-1.5zM1030.5 1056h1.5v3h-1.5zM1032 1050h1.5v9h-1.5zM1032 1044h1.5v3h-1.5zM1033.5 1053h1.5v3h-1.5zM1035 1047h1.5v3h-1.5zM1036.5 1059h1.5v3.5h-1.5zM1038 1066.5h1.5v4.5h-1.5zM1038 1056h1.5v3h-1.5zM1039.5 1050h1.5v3h-1.5zM1041 1089h1.5v8.5h-1.5zM1041 1062.5h1.5v4h-1.5zM1042.5 1062.5h1.5v4h-1.5zM1042.5 1044h1.5v3h-1.5zM1044 1071h1.5v5h-1.5zM1045.5 1076h1.5v6h-1.5zM1047 1071h1.5v5h-1.5zM1054.5 1089h1.5v8.5h-1.5zM1062 1089h1.5v8.5h-1.5zM1068 1071h1.5v5h-1.5zM1069.5 1082h1.5v7h-1.5zM1071 1076h1.5v6h-1.5zM1072.5 1066.5h1.5v4.5h-1.5zM1074 1071h1.5v5h-1.5zM1075.5 1076h1.5v6h-1.5zM1077 1108h1.5v14h-1.5zM1083 1108h1.5v14h-1.5zM1086 1076h1.5v6h-1.5zM1096.5 1076h1.5v6h-1.5zM1098 1076h1.5v6h-1.5zM1102.5 1076h1.5v6h-1.5zM1107 1089h1.5v8.5h-1.5zM1108.5 1082h1.5v7h-1.5zM1117.5 1108h1.5v14h-1.5zM1117.5 1089h1.5v8.5h-1.5zM1119 1089h1.5v8.5h-1.5zM1125 1089h1.5v8.5h-1.5zM1126.5 1089h1.5v8.5h-1.5zM1129.5 1089h1.5v8.5h-1.5zM1129.5 1076h1.5v6h-1.5zM1131 1076h1.5v6h-1.5zM1134 1076h1.5v6h-1.5zM1135.5 1108h1.5v14h-1.5zM1135.5 1089h1.5v8.5h-1.5zM1135.5 1076h1.5v6h-1.5zM1137 1076h1.5v13h-1.5zM1138.5 1071h1.5v11h-1.5zM1140 1066.5h1.5v4.5h-1.5zM1140 1059h1.5v3.5h-1.5zM1143 1059h1.5v3.5h-1.5zM1144.5 1097.5h1.5v24.5h-1.5zM1144.5 1071h1.5v11h-1.5zM1144.5 1050h1.5v3h-1.5zM1146 1062.5h1.5v4h-1.5zM1149 1056h1.5v20h-1.5zM1152 1076h1.5v6h-1.5zM1155 1076h1.5v6h-1.5zM1159.5 1071h1.5v5h-1.5zM1161 1076h1.5v6h-1.5zM1165.5 1097.5h1.5v10.5h-1.5zM1174.5 1082h1.5v7h-1.5zM1176 1076h1.5v6h-1.5zM1179 1097.5h1.5v10.5h-1.5zM1180.5 1089h1.5v8.5h-1.5zM1182 1076h1.5v6h-1.5zM1185 1089h1.5v8.5h-1.5zM1186.5 1108h1.5v14h-1.5zM1186.5 1089h1.5v8.5h-1.5zM1189.5 1097.5h1.5v10.5h-1.5zM1201.5 1076h1.5v13h-1.5zM1206 1089h1.5v8.5h-1.5zM1209 1097.5h1.5v24.5h-1.5zM1213.5 1089h1.5v8.5h-1.5zM1222.5 1089h1.5v8.5h-1.5zM1233 1097.5h1.5v24.5h-1.5zM1242 1097.5h1.5v10.5h-1.5zM1246.5 1082h1.5v15.5h-1.5zM1249.5 1097.5h1.5v10.5h-1.5zM1254 1108h1.5v14h-1.5zM1258.5 1097.5h1.5v10.5h-1.5zM1263 1108h1.5v14h-1.5zM1263 1089h1.5v8.5h-1.5zM1264.5 1089h1.5v8.5h-1.5zM1266 1108h1.5v14h-1.5zM1266 1089h1.5v8.5h-1.5zM1273.5 1089h1.5v8.5h-1.5zM1276.5 1066.5h1.5v4.5h-1.5zM1278 1082h1.5v7h-1.5zM1282.5 1089h1.5v8.5h-1.5zM1293 1089h1.5v8.5h-1.5zM1294.5 1089h1.5v8.5h-1.5zM1296 1082h1.5v7h-1.5zM1299 1082h1.5v7h-1.5zM1300.5 1097.5h1.5v10.5h-1.5zM1303.5 1097.5h1.5v10.5h-1.5zM1311 1082h1.5v15.5h-1.5zM1314 1108h1.5v14h-1.5zM1315.5 1082h1.5v7h-1.5zM1321.5 1082h1.5v7h-1.5zM1332 1089h1.5v8.5h-1.5zM1338 1097.5h1.5v10.5h-1.5zM1350 1108h1.5v14h-1.5zM1351.5 1089h1.5v33h-1.5zM1357.5 1082h1.5v7h-1.5zM1359 1108h1.5v14h-1.5zM1365 1108h1.5v14h-1.5zM1366.5 1082h1.5v7h-1.5zM1369.5 1089h1.5v8.5h-1.5zM1371 1108h1.5v14h-1.5zM1371 1089h1.5v8.5h-1.5zM1372.5 1082h1.5v15.5h-1.5zM1386 1082h1.5v7h-1.5zM1387.5 1082h1.5v7h-1.5zM1389 1097.5h1.5v10.5h-1.5zM1502.5 1089h1.5v8.5h-1.5zM1504 1097.5h1.5v10.5h-1.5zM1508.5 1108h1.5v14h-1.5z" fill="rgb(0,99,255)"/><path d="M870 1097.5h1.5v10.5h-1.5zM897 1097.5h1.5v10.5h-1.5zM901.5 1097.5h1.5v24.5h-1.5zM915 1097.5h1.5v24.5h-1.5zM925.5 1108h1.5v14h-1.5zM939 1108h1.5v14h-1.5zM939 1089h1.5v8.5h-1.5zM946.5 1089h1.5v8.5h-1.5zM961.5 1089h1.5v8.5h-1.5zM966 1097.5h1.5v10.5h-1.5zM967.5 1089h1.5v8.5h-1.5zM978 1089h1.5v8.5h-1.5zM993 1089h1.5v8.5h-1.5zM996 1089h1.5v19h-1.5zM1008 1108h1.5v14h-1.5zM1011 1082h1.5v15.5h-1.5zM1017 1076h1.5v6h-1.5zM1018.5 1062.5h1.5v4h-1.5zM1021.5 1076h1.5v6h-1.5zM1021.5 1066.5h1.5v4.5h-1.5zM1023 1066.5h1.5v9.5h-1.5zM1027.5 1066.5h1.5v4.5h-1.5zM1029 1076h1.5v6h-1.5zM1030.5 1097.5h1.5v10.5h-1.5zM1033.5 1056h1.5v3h-1.5zM1033.5 1044h1.5v3h-1.5zM1035 1062.5h1.5v4h-1.5zM1038 1062.5h1.5v4h-1.5zM1039.5 1062.5h1.5v4h-1.5zM1041 1108h1.5v14h-1.5zM1041 1071h1.5v5h-1.5zM1042.5 1059h1.5v3.5h-1.5zM1044 1076h1.5v6h-1.5zM1047 1076h1.5v6h-1.5zM1048.5 1097.5h1.5v10.5h-1.5zM1054.5 1108h1.5v14h-1.5zM1063.5 1097.5h1.5v24.5h-1.5zM1065 1082h1.5v7h-1.5zM1069.5 1097.5h1.5v24.5h-1.5zM1071 1089h1.5v8.5h-1.5zM1075.5 1082h1.5v7h-1.5zM1080 1076h1.5v6h-1.5zM1086 1082h1.5v7h-1.5zM1089 1082h1.5v7h-1.5zM1092 1089h1.5v33h-1.5zM1098 1082h1.5v7h-1.5zM1110 1082h1.5v7h-1.5zM1114.5 1082h1.5v7h-1.5zM1120.5 1097.5h1.5v10.5h-1.5zM1122 1108h1.5v14h-1.5zM1123.5 1108h1.5v14h-1.5zM1123.5 1089h1.5v8.5h-1.5zM1125 1082h1.5v7h-1.5zM1126.5 1097.5h1.5v10.5h-1.5zM1131 1082h1.5v7h-1.5zM1138.5 1066.5h1.5v4.5h-1.5zM1141.5 1066.5h1.5v4.5h-1.5zM1144.5 1089h1.5v8.5h-1.5zM1144.5 1047h1.5v3h-1.5zM1146 1066.5h1.5v9.5h-1.5zM1147.5 1062.5h1.5v4h-1.5zM1150.5 1059h1.5v12h-1.5zM1155 1082h1.5v15.5h-1.5zM1159.5 1076h1.5v6h-1.5zM1164 1097.5h1.5v10.5h-1.5zM1170 1082h1.5v15.5h-1.5zM1173 1108h1.5v14h-1.5zM1174.5 1108h1.5v14h-1.5zM1182 1082h1.5v7h-1.5zM1183.5 1108h1.5v14h-1.5zM1183.5 1089h1.5v8.5h-1.5zM1185 1108h1.5v14h-1.5zM1186.5 1097.5h1.5v10.5h-1.5zM1188 1097.5h1.5v10.5h-1.5zM1191 1089h1.5v8.5h-1.5zM1195.5 1108h1.5v14h-1.5zM1195.5 1089h1.5v8.5h-1.5zM1224 1097.5h1.5v10.5h-1.5zM1227 1097.5h1.5v10.5h-1.5zM1228.5 1108h1.5v14h-1.5zM1228.5 1089h1.5v8.5h-1.5zM1239 1108h1.5v14h-1.5zM1239 1089h1.5v8.5h-1.5zM1240.5 1097.5h1.5v24.5h-1.5zM1246.5 1108h1.5v14h-1.5zM1249.5 1108h1.5v14h-1.5zM1251 1089h1.5v8.5h-1.5zM1255.5 1108h1.5v14h-1.5zM1257 1108h1.5v14h-1.5zM1260 1097.5h1.5v10.5h-1.5zM1261.5 1097.5h1.5v10.5h-1.5zM1267.5 1076h1.5v6h-1.5zM1269 1082h1.5v7h-1.5zM1273.5 1097.5h1.5v10.5h-1.5zM1275 1089h1.5v8.5h-1.5zM1276.5 1071h1.5v11h-1.5zM1278 1089h1.5v8.5h-1.5zM1281 1082h1.5v7h-1.5zM1288.5 1097.5h1.5v10.5h-1.5zM1291.5 1097.5h1.5v10.5h-1.5zM1294.5 1108h1.5v14h-1.5zM1296 1089h1.5v8.5h-1.5zM1300.5 1108h1.5v14h-1.5zM1312.5 1097.5h1.5v10.5h-1.5zM1317 1089h1.5v8.5h-1.5zM1320 1108h1.5v14h-1.5zM1323 1089h1.5v8.5h-1.5zM1329 1089h1.5v8.5h-1.5zM1333.5 1089h1.5v8.5h-1.5zM1341 1097.5h1.5v24.5h-1.5zM1342.5 1108h1.5v14h-1.5zM1342.5 1089h1.5v8.5h-1.5zM1347 1089h1.5v8.5h-1.5zM1354.5 1108h1.5v14h-1.5zM1357.5 1089h1.5v8.5h-1.5zM1362 1108h1.5v14h-1.5zM1380 1097.5h1.5v10.5h-1.5zM1383 1097.5h1.5v10.5h-1.5zM1390.5 1097.5h0.5v10.5h-0.5zM1508.5 1097.5h1.5v10.5h-1.5zM1514.5 1097.5h1.5v10.5h-1.5z" fill="rgb(0,128,255)"/><path d="M925.5 1097.5h1.5v10.5h-1.5zM955.5 1108h1.5v14h-1.5zM973.5 1089h1.5v8.5h-1.5zM976.5 1082h1.5v7h-1.5zM982.5 1097.5h1.5v10.5h-1.5zM994.5 1082h1.5v15.5h-1.5zM1002 1089h1.5v19h-1.5zM1003.5 1089h1.5v8.5h-1.5zM1006.5 1097.5h1.5v24.5h-1.5zM1008 1097.5h1.5v10.5h-1.5zM1009.5 1089h1.5v8.5h-1.5zM1011 1097.5h1.5v24.5h-1.5zM1017 1082h1.5v7h-1.5zM1020 1076h1.5v6h-1.5zM1024.5 1059h1.5v3.5h-1.5zM1026 1076h1.5v6h-1.5zM1029 1082h1.5v7h-1.5zM1030.5 1108h1.5v14h-1.5zM1030.5 1089h1.5v8.5h-1.5zM1035 1059h1.5v3.5h-1.5zM1036.5 1062.5h1.5v8.5h-1.5zM1041 1082h1.5v7h-1.5zM1044 1066.5h1.5v4.5h-1.5zM1045.5 1082h1.5v7h-1.5zM1047 1082h1.5v7h-1.5zM1048.5 1082h1.5v7h-1.5zM1056 1089h1.5v8.5h-1.5zM1062 1108h1.5v14h-1.5zM1071 1097.5h1.5v10.5h-1.5zM1074 1076h1.5v6h-1.5zM1087.5 1076h1.5v13h-1.5zM1089 1089h1.5v8.5h-1.5zM1090.5 1097.5h1.5v10.5h-1.5zM1092 1082h1.5v7h-1.5zM1093.5 1108h1.5v14h-1.5zM1093.5 1089h1.5v8.5h-1.5zM1095 1082h1.5v7h-1.5zM1107 1108h1.5v14h-1.5zM1111.5 1108h1.5v14h-1.5zM1119 1108h1.5v14h-1.5zM1122 1089h1.5v8.5h-1.5zM1123.5 1097.5h1.5v10.5h-1.5zM1126.5 1108h1.5v14h-1.5zM1129.5 1108h1.5v14h-1.5zM1134 1082h1.5v15.5h-1.5zM1135.5 1097.5h1.5v10.5h-1.5zM1146 1059h1.5v3.5h-1.5zM1152 1089h1.5v8.5h-1.5zM1174.5 1097.5h1.5v10.5h-1.5zM1180.5 1097.5h1.5v24.5h-1.5zM1183.5 1097.5h1.5v10.5h-1.5zM1185 1097.5h1.5v10.5h-1.5zM1188 1108h1.5v14h-1.5zM1201.5 1089h1.5v8.5h-1.5zM1206 1108h1.5v14h-1.5zM1213.5 1097.5h1.5v24.5h-1.5zM1222.5 1097.5h1.5v10.5h-1.5zM1228.5 1097.5h1.5v10.5h-1.5zM1254 1097.5h1.5v10.5h-1.5zM1255.5 1097.5h1.5v10.5h-1.5zM1257 1097.5h1.5v10.5h-1.5zM1260 1108h1.5v14h-1.5zM1264.5 1108h1.5v14h-1.5zM1267.5 1082h1.5v7h-1.5zM1275 1108h1.5v14h-1.5zM1293 1097.5h1.5v24.5h-1.5zM1294.5 1097.5h1.5v10.5h-1.5zM1299 1089h1.5v8.5h-1.5zM1308 1076h1.5v6h-1.5zM1314 1097.5h1.5v10.5h-1.5zM1321.5 1089h1.5v8.5h-1.5zM1336.5 1097.5h1.5v24.5h-1.5zM1339.5 1082h1.5v7h-1.5zM1347 1108h1.5v14h-1.5zM1359 1089h1.5v19h-1.5zM1363.5 1082h1.5v7h-1.5zM1366.5 1108h1.5v14h-1.5zM1371 1097.5h1.5v10.5h-1.5zM1374 1097.5h1.5v24.5h-1.5zM1383 1108h1.5v14h-1.5zM1386 1089h1.5v8.5h-1.5zM1387.5 1089h1.5v8.5h-1.5zM1498 1097.5h1.5v10.5h-1.5zM1502.5 1108h1.5v14h-1.5zM1511.5 1108h1.5v14h-1.5zM1511.5 1089h1.5v8.5h-1.5zM1519 1097.5h1.5v24.5h-1.5z" fill="rgb(0,156,255)"/><path d="M930 1108h1.5v14h-1.5zM949.5 1097.5h1.5v10.5h-1.5zM954 1097.5h1.5v24.5h-1.5zM955.5 1089h1.5v8.5h-1.5zM976.5 1089h1.5v8.5h-1.5zM978 1097.5h1.5v24.5h-1.5zM1003.5 1097.5h1.5v10.5h-1.5zM1006.5 1089h1.5v8.5h-1.5zM1009.5 1108h1.5v14h-1.5zM1012.5 1089h1.5v8.5h-1.5zM1020 1071h1.5v5h-1.5zM1021.5 1082h1.5v7h-1.5zM1032 1059h1.5v3.5h-1.5zM1033.5 1050h1.5v3h-1.5zM1035 1071h1.5v11h-1.5zM1035 1053h1.5v3h-1.5zM1039.5 1066.5h1.5v4.5h-1.5zM1041 1097.5h1.5v10.5h-1.5zM1047 1089h1.5v8.5h-1.5zM1062 1097.5h1.5v10.5h-1.5zM1068 1082h1.5v15.5h-1.5zM1071 1108h1.5v14h-1.5zM1072.5 1076h1.5v6h-1.5zM1077 1097.5h1.5v10.5h-1.5zM1090.5 1108h1.5v14h-1.5zM1096.5 1082h1.5v7h-1.5zM1098 1089h1.5v8.5h-1.5zM1102.5 1089h1.5v8.5h-1.5zM1107 1097.5h1.5v10.5h-1.5zM1108.5 1089h1.5v8.5h-1.5zM1111.5 1097.5h1.5v10.5h-1.5zM1114.5 1089h1.5v8.5h-1.5zM1119 1097.5h1.5v10.5h-1.5zM1125 1108h1.5v14h-1.5zM1128 1082h1.5v15.5h-1.5zM1129.5 1097.5h1.5v10.5h-1.5zM1137 1089h1.5v8.5h-1.5zM1141.5 1076h1.5v6h-1.5zM1143 1066.5h1.5v4.5h-1.5zM1147.5 1071h1.5v11h-1.5zM1149 1076h1.5v6h-1.5zM1161 1082h1.5v7h-1.5zM1176 1089h1.5v8.5h-1.5zM1191 1108h1.5v14h-1.5zM1206 1097.5h1.5v10.5h-1.5zM1251 1097.5h1.5v24.5h-1.5zM1266 1097.5h1.5v10.5h-1.5zM1269 1089h1.5v8.5h-1.5zM1296 1097.5h1.5v24.5h-1.5zM1299 1108h1.5v14h-1.5zM1308 1082h1.5v7h-1.5zM1315.5 1089h1.5v8.5h-1.5zM1323 1097.5h1.5v24.5h-1.5zM1329 1108h1.5v14h-1.5zM1330.5 1082h1.5v15.5h-1.5zM1332 1108h1.5v14h-1.5zM1347 1097.5h1.5v10.5h-1.5zM1362 1097.5h1.5v10.5h-1.5zM1363.5 1089h1.5v8.5h-1.5zM1369.5 1108h1.5v14h-1.5zM1387.5 1097.5h1.5v24.5h-1.5z" fill="rgb(0,184,255)"/><path d="M930 1097.5h1.5v10.5h-1.5zM939 1097.5h1.5v10.5h-1.5zM961.5 1108h1.5v14h-1.5zM973.5 1108h1.5v14h-1.5zM991.5 1108h1.5v14h-1.5zM991.5 1089h1.5v8.5h-1.5zM1002 1108h1.5v14h-1.5zM1009.5 1097.5h1.5v10.5h-1.5zM1021.5 1089h1.5v8.5h-1.5zM1023 1076h1.5v6h-1.5zM1026 1082h1.5v7h-1.5zM1029 1089h1.5v8.5h-1.5zM1033.5 1062.5h1.5v4h-1.5zM1035 1066.5h1.5v4.5h-1.5zM1036.5 1071h1.5v5h-1.5zM1039.5 1071h1.5v11h-1.5zM1065 1089h1.5v8.5h-1.5zM1074 1082h1.5v7h-1.5zM1075.5 1089h1.5v8.5h-1.5zM1080 1082h1.5v7h-1.5zM1086 1089h1.5v8.5h-1.5zM1089 1108h1.5v14h-1.5zM1093.5 1097.5h1.5v10.5h-1.5zM1095 1089h1.5v8.5h-1.5zM1110 1089h1.5v8.5h-1.5zM1114.5 1108h1.5v14h-1.5zM1117.5 1097.5h1.5v10.5h-1.5zM1122 1097.5h1.5v10.5h-1.5zM1131 1089h1.5v8.5h-1.5zM1137 1108h1.5v14h-1.5zM1141.5 1082h1.5v7h-1.5zM1143 1076h1.5v6h-1.5zM1147.5 1089h1.5v8.5h-1.5zM1149 1089h1.5v8.5h-1.5zM1150.5 1071h1.5v5h-1.5zM1152 1108h1.5v14h-1.5zM1155 1108h1.5v14h-1.5zM1159.5 1082h1.5v15.5h-1.5zM1173 1097.5h1.5v10.5h-1.5zM1176 1082h1.5v7h-1.5zM1182 1089h1.5v8.5h-1.5zM1195.5 1097.5h1.5v10.5h-1.5zM1201.5 1108h1.5v14h-1.5zM1239 1097.5h1.5v10.5h-1.5zM1246.5 1097.5h1.5v10.5h-1.5zM1263 1097.5h1.5v10.5h-1.5zM1264.5 1097.5h1.5v10.5h-1.5zM1275 1097.5h1.5v10.5h-1.5zM1276.5 1082h1.5v7h-1.5zM1278 1108h1.5v14h-1.5zM1282.5 1108h1.5v14h-1.5zM1329 1097.5h1.5v10.5h-1.5zM1332 1097.5h1.5v10.5h-1.5zM1333.5 1108h1.5v14h-1.5zM1339.5 1089h1.5v8.5h-1.5zM1342.5 1097.5h1.5v10.5h-1.5zM1354.5 1097.5h1.5v10.5h-1.5zM1363.5 1108h1.5v14h-1.5zM1366.5 1089h1.5v8.5h-1.5zM1369.5 1097.5h1.5v10.5h-1.5zM1372.5 1108h1.5v14h-1.5zM1502.5 1097.5h1.5v10.5h-1.5zM1511.5 1097.5h1.5v10.5h-1.5z" fill="rgb(0,212,255)"/><path d="M946.5 1097.5h1.5v24.5h-1.5zM961.5 1097.5h1.5v10.5h-1.5zM967.5 1097.5h1.5v10.5h-1.5zM976.5 1097.5h1.5v24.5h-1.5zM1018.5 1066.5h1.5v4.5h-1.5zM1020 1082h1.5v7h-1.5zM1021.5 1108h1.5v14h-1.5zM1024.5 1062.5h1.5v8.5h-1.5zM1029 1097.5h1.5v10.5h-1.5zM1033.5 1066.5h1.5v4.5h-1.5zM1038 1076h1.5v6h-1.5zM1042.5 1066.5h1.5v4.5h-1.5zM1045.5 1089h1.5v8.5h-1.5zM1047 1097.5h1.5v10.5h-1.5zM1054.5 1097.5h1.5v10.5h-1.5zM1056 1108h1.5v14h-1.5zM1065 1108h1.5v14h-1.5zM1068 1108h1.5v14h-1.5zM1072.5 1082h1.5v7h-1.5zM1074 1089h1.5v8.5h-1.5zM1087.5 1089h1.5v8.5h-1.5zM1095 1108h1.5v14h-1.5zM1096.5 1089h1.5v8.5h-1.5zM1134 1097.5h1.5v24.5h-1.5zM1141.5 1071h1.5v5h-1.5zM1143 1082h1.5v7h-1.5zM1146 1082h1.5v7h-1.5zM1149 1097.5h1.5v10.5h-1.5zM1149 1082h1.5v7h-1.5zM1152 1082h1.5v7h-1.5zM1155 1097.5h1.5v10.5h-1.5zM1161 1089h1.5v8.5h-1.5zM1170 1108h1.5v14h-1.5zM1191 1097.5h1.5v10.5h-1.5zM1278 1097.5h1.5v10.5h-1.5zM1281 1089h1.5v8.5h-1.5zM1282.5 1097.5h1.5v10.5h-1.5zM1308 1089h1.5v8.5h-1.5zM1311 1108h1.5v14h-1.5zM1315.5 1108h1.5v14h-1.5zM1317 1097.5h1.5v24.5h-1.5zM1320 1097.5h1.5v10.5h-1.5zM1333.5 1097.5h1.5v10.5h-1.5zM1386 1097.5h1.5v24.5h-1.5z" fill="rgb(0,241,255)"/><path d="M955.5 1097.5h1.5v10.5h-1.5zM993 1108h1.5v14h-1.5zM994.5 1097.5h1.5v10.5h-1.5zM1003.5 1108h1.5v14h-1.5zM1017 1089h1.5v8.5h-1.5zM1018.5 1071h1.5v5h-1.5zM1020 1089h1.5v8.5h-1.5zM1024.5 1071h1.5v5h-1.5zM1026 1089h1.5v8.5h-1.5zM1029 1108h1.5v14h-1.5zM1032 1062.5h1.5v4h-1.5zM1047 1108h1.5v14h-1.5zM1056 1097.5h1.5v10.5h-1.5zM1072.5 1089h1.5v8.5h-1.5zM1089 1097.5h1.5v10.5h-1.5zM1098 1108h1.5v14h-1.5zM1102.5 1108h1.5v14h-1.5zM1108.5 1097.5h1.5v10.5h-1.5zM1125 1097.5h1.5v10.5h-1.5zM1131 1097.5h1.5v24.5h-1.5zM1138.5 1082h1.5v7h-1.5zM1140 1071h1.5v11h-1.5zM1146 1076h1.5v6h-1.5zM1147.5 1082h1.5v7h-1.5zM1170 1097.5h1.5v10.5h-1.5zM1267.5 1089h1.5v8.5h-1.5zM1269 1108h1.5v14h-1.5zM1276.5 1089h1.5v8.5h-1.5zM1299 1097.5h1.5v10.5h-1.5zM1308 1108h1.5v14h-1.5zM1311 1097.5h1.5v10.5h-1.5zM1321.5 1108h1.5v14h-1.5zM1330.5 1097.5h1.5v10.5h-1.5zM1357.5 1108h1.5v14h-1.5zM1363.5 1097.5h1.5v10.5h-1.5zM1366.5 1097.5h1.5v10.5h-1.5zM1372.5 1097.5h1.5v10.5h-1.5z" fill="rgb(14,255,241)"/><path d="M967.5 1108h1.5v14h-1.5zM1012.5 1108h1.5v14h-1.5zM1017 1108h1.5v14h-1.5zM1018.5 1076h1.5v6h-1.5zM1021.5 1097.5h1.5v10.5h-1.5zM1023 1082h1.5v7h-1.5zM1032 1066.5h1.5v9.5h-1.5zM1033.5 1071h1.5v5h-1.5zM1033.5 1059h1.5v3.5h-1.5zM1038 1071h1.5v5h-1.5zM1042.5 1071h1.5v5h-1.5zM1044 1082h1.5v15.5h-1.5zM1065 1097.5h1.5v10.5h-1.5zM1068 1097.5h1.5v10.5h-1.5zM1080 1108h1.5v14h-1.5zM1080 1089h1.5v8.5h-1.5zM1095 1097.5h1.5v10.5h-1.5zM1102.5 1097.5h1.5v10.5h-1.5zM1108.5 1108h1.5v14h-1.5zM1114.5 1097.5h1.5v10.5h-1.5zM1137 1097.5h1.5v10.5h-1.5zM1143 1071h1.5v5h-1.5zM1147.5 1108h1.5v14h-1.5zM1149 1108h1.5v14h-1.5zM1161 1108h1.5v14h-1.5zM1182 1108h1.5v14h-1.5zM1201.5 1097.5h1.5v10.5h-1.5zM1267.5 1108h1.5v14h-1.5zM1276.5 1108h1.5v14h-1.5zM1321.5 1097.5h1.5v10.5h-1.5zM1330.5 1108h1.5v14h-1.5zM1357.5 1097.5h1.5v10.5h-1.5z" fill="rgb(43,255,212)"/><path d="M973.5 1097.5h1.5v10.5h-1.5zM991.5 1097.5h1.5v10.5h-1.5zM993 1097.5h1.5v10.5h-1.5zM1018.5 1082h1.5v7h-1.5zM1035 1082h1.5v15.5h-1.5zM1044 1097.5h1.5v10.5h-1.5zM1045.5 1108h1.5v14h-1.5zM1074 1108h1.5v14h-1.5zM1075.5 1108h1.5v14h-1.5zM1096.5 1108h1.5v14h-1.5zM1098 1097.5h1.5v10.5h-1.5zM1128 1108h1.5v14h-1.5zM1138.5 1089h1.5v8.5h-1.5zM1152 1097.5h1.5v10.5h-1.5zM1159.5 1108h1.5v14h-1.5zM1281 1097.5h1.5v10.5h-1.5zM1315.5 1097.5h1.5v10.5h-1.5zM1339.5 1108h1.5v14h-1.5z" fill="rgb(71,255,184)"/><path d="M1012.5 1097.5h1.5v10.5h-1.5zM1017 1097.5h1.5v10.5h-1.5zM1023 1089h1.5v8.5h-1.5zM1024.5 1076h1.5v6h-1.5zM1039.5 1082h1.5v7h-1.5zM1042.5 1076h1.5v6h-1.5zM1044 1108h1.5v14h-1.5zM1075.5 1097.5h1.5v10.5h-1.5zM1080 1097.5h1.5v10.5h-1.5zM1086 1097.5h1.5v24.5h-1.5zM1110 1108h1.5v14h-1.5zM1128 1097.5h1.5v10.5h-1.5zM1141.5 1089h1.5v8.5h-1.5zM1150.5 1076h1.5v6h-1.5zM1176 1108h1.5v14h-1.5zM1281 1108h1.5v14h-1.5zM1308 1097.5h1.5v10.5h-1.5z" fill="rgb(99,255,156)"/><path d="M994.5 1108h1.5v14h-1.5zM1032 1082h1.5v7h-1.5zM1033.5 1076h1.5v6h-1.5zM1036.5 1076h1.5v13h-1.5zM1087.5 1097.5h1.5v24.5h-1.5zM1143 1108h1.5v14h-1.5zM1146 1089h1.5v8.5h-1.5zM1147.5 1097.5h1.5v10.5h-1.5zM1267.5 1097.5h1.5v10.5h-1.5zM1269 1097.5h1.5v10.5h-1.5zM1276.5 1097.5h1.5v10.5h-1.5z" fill="rgb(128,255,128)"/><path d="M1035 1097.5h1.5v24.5h-1.5zM1038 1082h1.5v7h-1.5zM1072.5 1108h1.5v14h-1.5zM1074 1097.5h1.5v10.5h-1.5zM1150.5 1082h1.5v7h-1.5zM1159.5 1097.5h1.5v10.5h-1.5zM1176 1097.5h1.5v10.5h-1.5z" fill="rgb(156,255,99)"/><path d="M1020 1108h1.5v14h-1.5zM1023 1108h1.5v14h-1.5zM1026 1097.5h1.5v10.5h-1.5zM1032 1076h1.5v6h-1.5zM1045.5 1097.5h1.5v10.5h-1.5zM1110 1097.5h1.5v10.5h-1.5zM1140 1082h1.5v7h-1.5z" fill="rgb(184,255,71)"/><path d="M1020 1097.5h1.5v10.5h-1.5zM1026 1108h1.5v14h-1.5zM1096.5 1097.5h1.5v10.5h-1.5zM1140 1089h1.5v8.5h-1.5zM1143 1089h1.5v8.5h-1.5zM1339.5 1097.5h1.5v10.5h-1.5z" fill="rgb(213,255,42)"/><path d="M1023 1097.5h1.5v10.5h-1.5zM1024.5 1082h1.5v15.5h-1.5zM1039.5 1089h1.5v8.5h-1.5zM1143 1097.5h1.5v10.5h-1.5zM1161 1097.5h1.5v10.5h-1.5zM1182 1097.5h1.5v10.5h-1.5z" fill="rgb(241,255,14)"/><path d="M1018.5 1089h1.5v33h-1.5zM1024.5 1097.5h1.5v24.5h-1.5zM1032 1089h1.5v33h-1.5zM1033.5 1082h1.5v40h-1.5zM1036.5 1089h1.5v33h-1.5zM1038 1089h1.5v33h-1.5zM1039.5 1097.5h1.5v24.5h-1.5zM1042.5 1082h1.5v40h-1.5zM1072.5 1097.5h1.5v10.5h-1.5zM1138.5 1097.5h1.5v24.5h-1.5zM1140 1097.5h1.5v24.5h-1.5zM1141.5 1097.5h1.5v24.5h-1.5zM1146 1097.5h1.5v24.5h-1.5zM1150.5 1089h1.5v33h-1.5z" fill="rgb(255,241,0)"/><rect x="732" y="1121" width="180" height="1" fill="#fff"/></g>
<path d="M260.5 975.5h7M1810.5 975.5h-7M260.5 980.5h7M1810.5 980.5h-7M260.5 984.5h7M1810.5 984.5h-7M260.5 987.5h7M1810.5 987.5h-7M260.5 990.5h7M1810.5 990.5h-7M260.5 993.5h7M1810.5 993.5h-7M260.5 995.5h15M1810.5 995.5h-15M260.5 1011.5h7M1810.5 1011.5h-7M260.5 1020.5h7M1810.5 1020.5h-7M260.5 1026.5h7M1810.5 1026.5h-7M260.5 1031.5h7M1810.5 1031.5h-7M260.5 1035.5h7M1810.5 1035.5h-7M260.5 1038.5h7M1810.5 1038.5h-7M260.5 1041.5h7M1810.5 1041.5h-7M260.5 1044.5h7M1810.5 1044.5h-7M260.5 1046.5h15M1810.5 1046.5h-15M260.5 1062.5h7M1810.5 1062.5h-7M260.5 1071.5h7M1810.5 1071.5h-7M260.5 1077.5h7M1810.5 1077.5h-7M260.5 1082.5h7M1810.5 1082.5h-7M260.5 1086.5h7M1810.5 1086.5h-7M260.5 1089.5h7M1810.5 1089.5h-7M260.5 1092.5h7M1810.5 1092.5h-7M260.5 1095.5h7M1810.5 1095.5h-7M260.5 1097.5h15M1810.5 1097.5h-15M260.5 1113.5h7M1810.5 1113.5h-7M440.5 969.5v15M440.5 1122.5v-15M620.5 969.5v15M620.5 1122.5v-15M800.5 969.5v15M800.5 1122.5v-15M980.5 969.5v15M980.5 1122.5v-15M1161.5 969.5v15M1161.5 1122.5v-15M1343.5 969.5v15M1343.5 1122.5v-15M1628.5 969.5v15M1628.5 1122.5v-15" stroke="#000" stroke-width="1" fill="none" shape-rendering="crispEdges"/>
<rect x="260.5" y="969.5" width="1550" height="153" stroke="#000" stroke-width="1.2" fill="none" shape-rendering="crispEdges"/>
<text x="202.7 218.7" y="1004.2" font-size="27.78">10</text>
<text x="235.5" y="987.9" font-size="16.8">-1</text>
<text x="204.7 220.7" y="1055.2" font-size="27.78">10</text>
<text x="237.5" y="1038.9" font-size="16.8">0</text>
<text x="203.2 219.2" y="1106.2" font-size="27.78">10</text>
<text x="236" y="1089.9" font-size="16.8">1</text>
<g transform="translate(184.9 1153.3) rotate(-90)"><text x="0" y="0" font-size="27.78" textLength="214" lengthAdjust="spacing">Wavelength (km)</text></g>
<path d="M261.5 1309.5H1809.5M261.5 1244.5H1809.5M261.5 1179.5H1809.5M440.5 1134.5V1354.5M620.5 1134.5V1354.5M800.5 1134.5V1354.5M980.5 1134.5V1354.5M1161.5 1134.5V1354.5M1343.5 1134.5V1354.5M1628.5 1134.5V1354.5" stroke="#000" stroke-width="1" stroke-dasharray="1 4" fill="none" shape-rendering="crispEdges"/>
<clipPath id="mapclip"><rect x="260.5" y="1133.5" width="1550" height="222"/></clipPath>
<g clip-path="url(#mapclip)"><path d="M260.4 1136.1L261.9 1138.7L263.1 1140.8L264.4 1143.9L265.1 1146.2L265.7 1149.3L265.8 1151.6L267.4 1154L269.9 1156.4L272 1158.5L273.3 1160.4L275.3 1162.8L276.6 1165.8L278.3 1168L280 1170.6L280.7 1173.4L281.4 1176L281.3 1178.8L282.1 1182.1L282.2 1185.2L282.7 1187.5L282.6 1189.2L282.1 1191.6L283.3 1193.6L284.1 1196.3L286.6 1197.6L288.8 1199.7L291.1 1198.9L294.2 1197.4L297.4 1196.2L301 1195.6L304.1 1195.5L306.2 1195.1L309.1 1194.3L311.9 1193.1L314.5 1191.6L317.9 1193.6L317.3 1196.7L317.2 1199L316.7 1201.8L315.9 1203.7L314.5 1206.6L312.5 1209.8L310.7 1212.9L309.1 1216.6L307.4 1218.2L306.4 1220.6L304.2 1223.4L302.3 1226L299.2 1228.6L296.9 1230.8L294.1 1233.3L291.5 1236.2L289.1 1238.5L286.1 1240.9L283.6 1242.9L281.4 1245L279.5 1247L277.3 1249.7L276.1 1251.7L273.9 1254.5L270.6 1255.1L270.1 1257.8L269.2 1259.9L267.4 1262.8L266.5 1265.3L265 1268.1L263.8 1270.7L265 1272L267.2 1274.1L266.2 1276.9L265.8 1278.8L266.9 1281.7L268.5 1284.2L268.5 1287.6L270.6 1289.4L271.9 1290.3L271.8 1293.2L271.9 1296.4L271.6 1300L271.2 1303.2L271.9 1306.1L273.3 1308.6L272.2 1310.9L270.6 1312.6L268.1 1315.4L266.5 1317.4L264.4 1318.6L263.1 1320.1L260.1 1320.7M260.1 1162.5L262.4 1165.2L264.5 1167.2L265.3 1170.6L266.5 1173.3L267.6 1175.2L268.5 1177.3L271.1 1178.7L273.9 1180.7L275.6 1182.1L278 1184.1L280.5 1186.5L282.7 1187.9L285.5 1187.3L288.8 1187.5L292 1186.5L294.2 1185.5L296.9 1184.8L299.7 1184.9L302.3 1184.1L305.4 1182.4L308.4 1180.7L311.1 1180.1L314.5 1178.7L316.8 1177.3L319.9 1176L322.9 1173.6L325.3 1171.9L328.3 1171.7L330.8 1170.6L333.6 1169.2L336.2 1167.2L338.5 1164.8L341.6 1162.5L345 1160.4L345 1158.4L345.6 1155.7L347.5 1153.6L349.7 1151.6L351.5 1149.9L352.4 1147.6L354.3 1145.9L355.4 1144.2L353.5 1142.7L351.7 1140.8L350 1139.3L348.3 1138.1L345.6 1136.4L342.9 1135.4L340.8 1134.9L338.9 1133.5M317.2 1134.9L318.9 1136.6L319.7 1138.1L321.8 1137.3L324 1136.8L325.7 1137.1L328.1 1137.8L330.2 1136.7L331.8 1134.9L330.8 1133.8M384.9 1133.5L386.8 1136.1L388.9 1138.1L391.2 1140L393 1141.5L394.3 1143.9L397.1 1144L399.5 1143.5L397.3 1145.1L395.4 1146.2L396 1148.3L397 1150.3L399.7 1151.8L401.8 1153L404 1153.1L406.5 1152.3L407.7 1149.4L408.5 1146.2L408.6 1149.7L409.5 1153L409.6 1155.9L410.2 1158.7L410.6 1161.1L411.2 1164.1L411.3 1166.7L411.9 1169.2L413.5 1172.9L414.6 1176L415.8 1179.7L417.3 1182.8L419 1186.3L420 1189.5L421.8 1193.3L422.7 1196.3L424.1 1199.7L425.5 1203.1L426.5 1205.7L428.2 1207.8L430.9 1208.7L433.3 1206.9L434.9 1205.1L436.8 1203.6L438.3 1201.7L439.9 1199.4L441 1197.6L441.9 1194.3L442.4 1190.9L442.2 1187.4L441.7 1184.1L442.1 1181L442.4 1177.3L443.7 1174.6L446.9 1173.5L449.8 1171.9L452.5 1169.2L454.8 1166.9L457.9 1165.2L460.1 1163.3L462.2 1161.3L464.7 1159.1L467.5 1157L470.1 1155.7L470.7 1152.8L471.5 1150.3L473.4 1148.3L476.2 1146.9L479.6 1148.9L482.1 1148L485 1147.6L487.4 1145.1L490.4 1143.5L491.7 1146.1L493.1 1148.9L495.2 1152.4L497.2 1155.7L498.9 1158.1L501.2 1159.8L501.7 1162.4L502.8 1165.1L503.9 1167.9L503.4 1171L503.6 1173.6L506.6 1175.3L509.2 1173.5L512 1172.6L515.4 1170.6M441 1200.3L442.8 1201.3L444.4 1203.1L445.8 1205.6L447.1 1208.5L448.5 1211.9L449.8 1214.6L447.8 1217.9L445.4 1218.5L442.4 1219.3L441.6 1217.4L440.3 1215.2L439.9 1211.5L439.7 1208.5L440.2 1205.8L441 1203.5ZM308.4 1296.4L311.8 1298.4L312.6 1301.3L313.2 1304.5L314.5 1307.1L315.2 1310.6L313.5 1313L312.5 1315.3L311.7 1318.2L310.8 1322L309.8 1324.8L309 1327.4L308.2 1330L307.8 1332.9L307.3 1336L306.4 1339.6L305.1 1342.4L304.2 1345.3L303.7 1348.7L302.3 1351.9L301.1 1355.2L300 1358.9M308.4 1296.4L307.5 1299.1L305.7 1301.8L302.3 1303.8L301.5 1306.2L301 1308.6L297.9 1310.4L295.6 1312L292.2 1313.5L288.8 1315.3L287.7 1317.7L286.1 1319.4L286 1322.8L286.8 1326.2L287.6 1328.9L288.8 1330.9L288.1 1333.4L286.8 1336.3L284.9 1338.4L283.4 1341L283.5 1343.6L282.7 1346.5L283.5 1349.1L284.1 1351.9L284.7 1355.5L285 1358.9M513.1 1173L514.5 1170.6L517.2 1173.3L518.1 1175.7L518.8 1178.5L519.2 1181.4L519.9 1184L520.4 1186.8L521.2 1189.5L521.9 1192.8L522.6 1196.3L522.1 1199.8L521.2 1203.1L523.3 1205.8L524.5 1208.2L526.6 1211.2L527.3 1214.9L528 1217.9L529.4 1221.4L530 1224.7L530.6 1228.3L532.1 1231.5L534 1233.2L536.1 1234.8L538.7 1236.7L540.8 1238.2L542.9 1238.3L544.9 1237.5L544.2 1234.2L543.1 1230.7L542.2 1227.4L541.5 1224.4L540.2 1222L538.3 1219.6L536.8 1216.6L534 1214.9L532.1 1212.5L529.9 1211.1L527.3 1209.8L525.4 1207.4L523.9 1204.4L524 1202.1L523.3 1200.3L524.3 1197.7L525.3 1194.9L526.6 1191.4L528 1188.2L530 1185.5L531.7 1186.9L534.1 1188.2L536.4 1190.1L538.1 1192.9L539.6 1195.2L541.5 1197L543.8 1198.5L545.6 1199.7L549 1201L548.2 1203.6L548.3 1205.8L551.7 1205.1L554.1 1203.8L555.7 1201.7L557.8 1199L560.6 1197.2L563.2 1196.3L565.5 1194.7L567.2 1193.6L567.5 1190.6L567.5 1186.8L567.9 1183.1L567.9 1180.1L566.4 1177.7L565.2 1174.6L562.9 1172.4L561.1 1169.9L559 1167.6L557.1 1165.8L555.2 1163.4L553 1161.8L552 1159.7L551.7 1157.7L552.6 1155.6L554.4 1154.4L556.8 1152.5L559.1 1150.3L562.2 1148.6L564.5 1147.6L566.5 1148.8L568.6 1150.3L571.3 1152.3L572.6 1150.3L575.4 1149.3L578.1 1148.3L581.2 1146.5L583.5 1144.9L585.8 1144.4L588.9 1143.5L591.3 1143L594.3 1142.2L597 1141.5L599.7 1140.1L602.5 1138.9L605.1 1137.4L606.9 1136.1L609.2 1134.7L611.9 1133.5M564.5 1159.1L566.6 1156.4L568.7 1155.9L571.3 1155L574.7 1157.1L574.7 1160.4L572 1163.1L569.6 1162.8L567.2 1163.1L564.5 1161.4ZM617.3 1133.5L615.7 1135.7L614.6 1138.1L614.7 1139.9L614.3 1142.2L615.6 1144.7L616.6 1146.9L619.3 1145.6L620 1143.3L621.3 1140.8L621.1 1137.8L621.6 1135.4L620.7 1133.5M616.6 1163.1L619.9 1162.6L623 1162.5L624.2 1165.5L624.7 1168.6L623 1171.9L621.6 1174.6L621.7 1177.2L622.7 1179.4L625.3 1180.8L628.8 1182.8L631.9 1185.6L634.2 1188.2L636 1190.2L638.3 1192.9L634.9 1193.6L632.9 1191.7L630.1 1189.5L628.1 1187.8L625.4 1186.8L623.1 1185.3L620.7 1184.1L619.4 1186L618.6 1188.2L615.9 1186.8L615.7 1184L615.3 1181.4L614.1 1179.1L613.2 1177.3L613.2 1175.5L612.5 1173.3L615.3 1170.6L615.9 1168.5L615.9 1166.5ZM618 1183.8L620.3 1186.8L618.9 1190.3L616.2 1188.4L616.8 1186.4L616.7 1184.4ZM622.7 1194.9L626.1 1193.6L626.8 1195.7L627.4 1197.6L626.6 1199.6L625.4 1201.7L622.7 1199L622.3 1196.5ZM628.8 1196.3L631.5 1194.9L632.2 1197.2L633.5 1200.3L632.9 1202.4L631.5 1204.4L628.8 1201.7L629 1198.5ZM633.5 1189.5L635.9 1190.9L638.3 1191.6L639 1193.9L639.6 1196.3L638.2 1198L636.9 1200.3L635.6 1198L634.9 1196.3L634.1 1192.8ZM624 1205.8L627.4 1203.7L630.1 1204.1L632.2 1205.1L634.3 1204.2L636.9 1203.7L638.6 1204.6L641 1205.8L641.1 1208.4L641.6 1211.2L640.5 1214.3L640.3 1216.6L638.5 1218.7L636.9 1220L633.5 1217.9L632 1216.4L630.1 1214.6L631.5 1211.2L629.4 1210.9L627.4 1209.8L624 1211.2L622.7 1208.5ZM599.7 1214.6L601.4 1215.7L603.8 1216.6L605.1 1219.3L607.3 1220.8L609.8 1222L609 1224.4L607.8 1227.4L606.2 1229L605.1 1231.5L605.2 1233.8L605.8 1236.9L607 1239L608.5 1240.3L605.8 1242.3L604.6 1244.8L603.8 1247.7L602.7 1249.5L601.7 1251.8L600.2 1253.6L598.3 1255.1L596.7 1257.3L595.6 1259.9L593.8 1261.3L591.6 1261.9L589 1260.1L586.2 1258.5L583.9 1257.4L580.8 1257.2L577.7 1257.4L575.3 1257.2L572 1257.8L570.9 1254.4L569.9 1251.8L569 1249.5L567.9 1246.3L566.6 1243.5L565.2 1240.9L566.6 1237.5L568.6 1236.1L571.3 1235.5L573.7 1235.2L575.3 1234.8L577.4 1232.4L578.7 1230.8L580.9 1229.4L583.5 1228.8L585.4 1226.3L587.5 1224.7L589.3 1223.3L591.6 1222L593.4 1219.6L595.6 1217.9L597.3 1216.7ZM507 1221.3L509.4 1221L512.4 1220.6L515.1 1221.3L517.9 1222L519.8 1224.5L522.6 1227.4L524.6 1230.1L527.3 1232.8L530.1 1234.9L532.1 1236.9L535.1 1238L537.5 1239.6L539.1 1241L541.5 1242.3L542.9 1245.1L544.2 1247.7L546.1 1249.8L548.3 1251.8L550.2 1253.8L551.7 1255.1L552.2 1257.5L553 1259.9L553 1263L552.3 1266.6L549.6 1268L547.3 1267.8L545.6 1268L543.2 1265.5L541.5 1262.6L539.8 1260.4L537.5 1258.5L535.1 1256.1L533.4 1254.5L531.5 1251.4L530 1249L528.3 1246.4L526.6 1243.6L524.4 1239.9L522.6 1236.9L520.7 1233.8L518.5 1231.5L515.6 1229.2L513.1 1227.4L511 1225.4L509.1 1224ZM551 1271.4L553.6 1270.2L556.4 1269.3L559.3 1270.1L561.8 1270.7L565.6 1271.5L568.6 1272L572.2 1272.1L575.3 1272L578 1273.3L580.8 1274.1L583.6 1275.2L586.2 1275.4L589.1 1276.3L591.6 1276.8L594.1 1278.1L597 1278.8L599.6 1278.8L602.4 1279.5L604.7 1279.5L607.8 1280.2L610.3 1280.2L613.2 1279.9L612.5 1282.9L609.3 1282.5L606.5 1282.9L603.3 1283.3L599.7 1283.5L596.6 1282.5L594.3 1282.2L590.6 1281L587.5 1280.2L584.5 1279.9L580.8 1278.8L577.5 1277.9L574 1277.5L570.5 1276.7L567.2 1276.1L563.7 1275.3L560.5 1275.4L557.8 1275L555.1 1274.1L553.2 1272.4ZM613.9 1279.5L617 1278.7L620 1278.5L623.6 1278.6L626.8 1278.8L629.2 1280.2L627 1281.2L624 1281.8L621 1281.9L618.6 1282.3L616.6 1282.2L613.9 1282.2ZM610.5 1285.6L613.2 1286.2L615.9 1286.9L614.6 1289.1L612.5 1288.8L609.8 1287.7ZM627.4 1288.3L629.5 1287L631.5 1284.9L634.3 1283.4L636.9 1282.6L639.5 1281.4L641.6 1280.4L643.1 1280.1L645.4 1278.8L644.6 1281.5L642 1282.6L640.3 1283.5L637.6 1285.2L634.9 1286.2L632.4 1287.5L630.1 1289.4ZM613.2 1241.6L615.7 1240.3L618.6 1239.6L621.4 1239L624.3 1238.4L626.8 1238.2L630 1237.5L633.5 1237.3L637.3 1238.2L634.9 1240.3L632.6 1241L629.8 1241.3L626.8 1241.6L623.3 1242L620 1243L617.3 1245L620 1247.7L623.7 1247L626.8 1246.3L629.7 1247.7L626.5 1248.8L624 1250.4L621.7 1251.3L620 1251.8L621.7 1253.5L622.7 1255.8L624.3 1257.7L625.4 1259.9L626.7 1262.2L627.7 1263.9L626.1 1266.9L624.5 1265.3L622.7 1263.3L621.2 1260.4L620 1258.5L618.6 1256.6L617.3 1254.5L616.3 1256.4L615.9 1258.5L615.4 1260.8L615.3 1263.9L614.7 1266.2L614.6 1268.7L611.2 1268L611.2 1265.5L611.2 1262.6L610.4 1260.3L609.8 1257.2L611.1 1254.8L611.9 1251.8L612 1249.2L611.9 1246.3L612.6 1244.2ZM645.7 1234.8L648.4 1236.9L647.9 1239L647.7 1240.9L648.9 1243L649.8 1245L648.9 1246.6L648.4 1249L645.7 1246.3L645.7 1244.2L646.4 1242.3L645.8 1240.5L645 1238.2ZM644.5 1258.8L644.1 1259.8L643 1260.5L641.6 1260.5L640.6 1259.8L640.1 1258.8L640.6 1257.8L641.6 1257.1L643 1257.1L644.1 1257.8ZM648.4 1256.5L651.3 1255.6L653.8 1255.1L657 1255.9L659.5 1257.2L659.5 1259.9L656.8 1259.1L653.8 1259.2L651.7 1259.1L649.1 1258.8ZM657.2 1245L660.3 1244.9L662.6 1244L665.8 1245.4L668.7 1246.1L671.6 1247.3L674.1 1248.4L676.2 1248L678.8 1247.7L680.9 1251.1L680.5 1253.2L679.5 1255.8L682.2 1257.2L684.7 1254.8L686.3 1252.4L688.9 1251L691.7 1250.4L695 1251.1L698.5 1252.4L702 1254.1L705.2 1255.1L709 1256.6L712 1257.8L715.3 1258.8L718.7 1260.5L722.3 1262.3L725.5 1263.9L729.1 1265.8L732.3 1268L735.3 1269.1L737.7 1270.7L739.5 1271L741.7 1271.6L744.4 1269.6M657.2 1245L659.2 1247.7L661.4 1249.7L663.3 1251.1L664.3 1252.9L666 1254.5L669.4 1256.5L671.6 1255.9L673.4 1255.8L674.7 1257.9L676.8 1259.9L679.8 1261.9L682.2 1263.3L685.1 1264.2L687.6 1265.3L689.9 1266.7L692.4 1268L693.4 1270.2L693.7 1272.7L692.4 1276.1L691.3 1278.1L690.6 1279.9L693.6 1278.7L695.7 1278.1L698 1278.1L701.2 1278.8L703.9 1280.9L706.6 1282.9L709 1283.3L712 1284.2L713.4 1282.2L714.7 1279.9L716.5 1278.3L718.1 1276.4L721.5 1276.1L723.8 1277.4L726.9 1278.8L728.9 1281.3L730.2 1282.9L732.4 1285.2L735 1286.9L738.5 1289.3L741.7 1291L743.7 1290.6L746.1 1289.9L744.9 1287L743.1 1284.2L740.4 1281.2L738.4 1278.8L736.4 1276.8L735 1275.4L734 1273.2L733.6 1270.7L730.9 1268.3M584.8 1358.9L585.1 1355.6L586.2 1351.9L587.1 1348.8L587.5 1345.1L589.8 1343.9L591.6 1342.4L594.7 1340.8L597 1338.3L599.8 1338.1L602.4 1337L605.4 1335.3L609.2 1334.3L612.2 1332.7L615.9 1331.6L617.8 1330.2L620 1328.9L621.5 1326.4L622.7 1323.5L623 1321L624 1318.7L627.4 1319.4L628.1 1317.3L628.8 1315.3L630.8 1313.4L633.5 1311.3L635.4 1309.8L637.6 1307.9L639.6 1307L641.6 1305.2L644.1 1305.1L645.7 1305.9L647.3 1307.8L648.4 1309.2L650.9 1309.2L653.8 1309.9L654.8 1307.8L655.8 1305.9L657.1 1303.5L657.9 1300.5L657.4 1297.6L657.2 1295L660.6 1294.4L662.6 1295.6L664.6 1296.4L666.9 1295.4L668.7 1294.4L671.2 1294.9L674.1 1295.7L677.1 1296.8L679.5 1297.7L681.8 1297.7L684.9 1297.7L685 1299.9L685.6 1301.8L683.5 1303.6L682.2 1305.9L682.5 1308.2L683.6 1310.6L686 1312.3L687.6 1314L690.2 1316.1L693 1317.4L695.4 1319.6L698.5 1322.1L700.8 1321.3L702.5 1321.4L704.1 1318.9L705.2 1316.7L705.5 1313.1L706.6 1309.9L706.9 1306.4L707.2 1303.2L707.9 1299.4L708.6 1296.4L709.4 1294.1L710.6 1291L712.7 1294.4L713.6 1297.4L714.7 1300.5L715.7 1303L717.4 1305.9L719.8 1308.1L721.5 1309.9L722.1 1312.9L722.8 1316.7L724.1 1319.6L725.5 1322.1L726.8 1324.9L728.2 1327.5L731.3 1329.7L733.6 1331.6L735.8 1333.2L737.7 1335.6L738.6 1339.3L740.4 1342.4L742.3 1344.8L744.4 1346.5L746.8 1349.5L748.5 1351.9L749.8 1354.7L751.6 1356.9L752.8 1358.9M974.8 1155L977.7 1157.3L981.2 1159.1L979 1161L976.9 1162.1L976.3 1158.3ZM866.2 1321.7L865.6 1323L864.1 1323.8L862.3 1323.8L860.8 1323L860.2 1321.7L860.8 1320.4L862.3 1319.6L864.1 1319.6L865.6 1320.4ZM1162.6 1133.5L1165.9 1133.6L1169.4 1134.1L1171.6 1135.9L1174 1137.8L1176.1 1140.1L1174.5 1141.8L1173.4 1143.5L1170.7 1140.7L1168.7 1138.1L1166.7 1136.8L1164 1134.7M1179.5 1133.5L1181.9 1135.4L1184.9 1138.1L1187.9 1141.2L1190.3 1143.5L1192.1 1145.6L1193.7 1148.3L1192.8 1151.7L1192.4 1154.4L1193.8 1156L1194.4 1158.4L1196.8 1160L1199.8 1161.8L1202.3 1163.7L1205.2 1165.2L1207.8 1166.4L1210.6 1167.2L1213.7 1168.6L1217.4 1169.9L1221.2 1171.4L1224.2 1172.6L1227.2 1173.6L1230.9 1175.3L1233.1 1175.5L1235 1176L1236.6 1174.5L1238.4 1173L1241.7 1174.6L1243.8 1176.8L1245.8 1178L1247.6 1179.8L1249.9 1181.4L1252.4 1182.8L1255.3 1184.1L1258.2 1184.8L1260.7 1186.1L1263.4 1187.1L1266.1 1187.8M1226.9 1133.5L1226.4 1137.4L1226.9 1140.8L1225.8 1143.2L1224.8 1145.6L1225.9 1148.2L1226.9 1150.3L1227.8 1153L1229.6 1155.7L1231.2 1158L1233.6 1160.4L1236.9 1162L1240.4 1164.5L1243.6 1163.8L1247.2 1163.1L1250.7 1162.5L1253.9 1161.1L1255.2 1159.1L1256.6 1157.1L1257.2 1155.1L1257.3 1152.3L1260.7 1150.3L1263.8 1150.4L1266.1 1149.6M1255 1150.3L1257.5 1149.7L1260.4 1149.6L1263.5 1149L1265.8 1149.4L1268.5 1148.9L1270.9 1148.8L1273.3 1148.9L1273.2 1151.5L1272.4 1154.6L1271.9 1157.1L1270.6 1160L1269.9 1163.1L1268.2 1165.2L1266.5 1167.2L1265.9 1169.5L1265.8 1171.9L1263.8 1174.6L1265.8 1174.6L1268.5 1175.3L1271.1 1175L1274.4 1175.1L1276.6 1175.3L1279.1 1175.6L1282.3 1175.1L1284.8 1175.3L1286.7 1176.8L1288.1 1178L1287.7 1181.2L1287.5 1184.1L1286.9 1187.3L1286.8 1190.9L1287.1 1193.5L1286.8 1196.3L1288.5 1198L1289.5 1200.3L1291.5 1202L1294.2 1204.4L1297.2 1205.1L1299.6 1205.8L1301.6 1204.3L1304.4 1203.7L1306.7 1203.9L1308.4 1204.1L1310.5 1205.2L1311.8 1207.1L1314.3 1207.8L1316.6 1209.1L1317.9 1205.8L1319.8 1203.5L1321.3 1201L1323.4 1198.7L1325.3 1197L1328.5 1195.6L1330.8 1194.9L1333.1 1193.7L1336.2 1192.2L1337.5 1190.2L1339.6 1190.9L1338.8 1192.5L1338.9 1194.9L1338.2 1197.1L1337.5 1199L1338.2 1201.6L1338.2 1203.7L1339.6 1200.3L1339.5 1198.4L1340.2 1196.3L1341.9 1193.9L1342.9 1192.2L1345.9 1191.7L1348.3 1191.6L1350.2 1193.5L1352.4 1196.3L1355.3 1197L1357.8 1197.6L1360.9 1198.3L1363.2 1199L1366.3 1198.1L1370 1197.6L1373.2 1198L1376.8 1197.6L1379.2 1197.3L1382.2 1197.6L1384.9 1197L1384.1 1199.6L1383.5 1203.1L1384.1 1205.2L1384.9 1207.1L1387.7 1208.2L1390.3 1209.8L1392.7 1212.2L1395.7 1214.6L1399.2 1216.2L1402.5 1217.9L1405.2 1218.3L1407.9 1217.9L1410.9 1218.4L1414.6 1219.3L1417.3 1220.7L1420 1222L1423.1 1224.1L1425.5 1226L1427.3 1228.7L1428.8 1231.5L1430.1 1234.5L1430.9 1236.9L1432.9 1238.2L1431.7 1239.9L1430.9 1242.3L1428.2 1244.3L1426.9 1246.6L1426.1 1249L1428.2 1247.5L1429.5 1246.3L1432.3 1246.1L1434.9 1245.7L1437 1247L1438.3 1249L1441.7 1247L1444.6 1247.9L1447.1 1249L1450.1 1250.2L1453.9 1251.1L1457.6 1252.5L1460.6 1253.8L1462.9 1255.2L1466 1255.8L1468.6 1255.9L1471.7 1255.6L1474.2 1255.8L1477.5 1257.7L1480.9 1259.9L1482.8 1261.1L1485.6 1262.9L1487.7 1264.6L1490.7 1265.2L1493.1 1266.6L1494.9 1269.1L1497.2 1272L1497.9 1275L1497.8 1277.5L1497.2 1280.2L1495.8 1282.9L1493.4 1285.5L1491.7 1288.3L1489.7 1290.1L1488.2 1292.6L1486.3 1295L1483.9 1297.4L1482.3 1299.8L1481 1301.9L1478.9 1303.2L1479.2 1306.2L1479.6 1309.9L1480.1 1313L1480.2 1316.7L1479.3 1319L1478.2 1322.1L1478 1325.5L1476.9 1328.9L1475.5 1331.4L1474.2 1334.3L1472.8 1337.4L1471.5 1339.7L1470 1342.1L1468.7 1345.1L1466.1 1346.8L1463.3 1347.8L1459.8 1348.9L1456.6 1349.8L1454.2 1351.4L1451.2 1353.2L1448.7 1354.6L1445.7 1355.9L1443.6 1357L1442.1 1358.9M1255 1184.1L1258.8 1185.1L1261.8 1186.1L1265.1 1187.5L1268.5 1188.2L1270.6 1190.2L1272.6 1192.2L1274.4 1194.5L1276.6 1196.3L1277.8 1198.3L1279.4 1200.3L1282 1201.5L1284.1 1202.4L1286.1 1203.8L1288.8 1205.8L1291.7 1207.3L1294.2 1208.5L1295.9 1209.9L1298.3 1210.5L1300.3 1213.2L1302.3 1209.8L1305.1 1207.1L1308.4 1207.8L1309.5 1209.2L1311.1 1211.2L1311.8 1213.8L1313.2 1216.6L1313.3 1219.6L1312.9 1222.2L1313.2 1224.7L1312.5 1227.5L1312.5 1230.1L1310.6 1231.3L1309.1 1232.8L1307.7 1235.7L1307.1 1238.2L1304.4 1240.5L1302.3 1242.3L1301.2 1245.1L1300.3 1247.7L1298.3 1250.4L1299.1 1252.4L1299.6 1254.5L1302.3 1257.2L1299.6 1259.9L1298.3 1262.3L1296.3 1263.9L1296.4 1266.5L1296.9 1269.3L1299.3 1271L1301 1273.4L1303 1275.4L1305.1 1277.5L1307.2 1279.8L1308.4 1282.9L1309.6 1285.8L1310.5 1288.3L1312.7 1289.9L1314.5 1292.3L1315.9 1294.2L1316.6 1296.4L1317.2 1299.2L1317.2 1301.8L1318.5 1304.8L1319.9 1307.2L1322.1 1309.1L1324 1311.3L1327.6 1313.3L1330.8 1315.3L1334.3 1317.5L1337.5 1319.4L1340.5 1321.1L1342.9 1323.5L1343.6 1326.4L1344.3 1330.2L1344.8 1333.2L1345 1335.2L1345 1338.3L1344.8 1341L1344.2 1343.5L1344.3 1346.5L1344.4 1350.1L1343.6 1353.2L1343.4 1356.4L1343.6 1358.9M1282.1 1146.9L1284.2 1144.8L1286.1 1142.9L1289 1142.2L1291.3 1141.5L1294.2 1141.5L1297.1 1142.2L1299.9 1142.9L1302.3 1143.5L1305.7 1145L1309.1 1146.9L1312.7 1148.5L1315.9 1150.3L1319.3 1152.2L1322.6 1153.7L1325.3 1155.5L1328.1 1157.1L1326.7 1158.4L1322.9 1157.2L1319.9 1156.4L1316.9 1155L1313.2 1154.4L1309.4 1151.9L1306.4 1150.3L1303.3 1147.9L1299.6 1146.2L1296.2 1145.2L1292.9 1144.2L1290.4 1144.9L1287.5 1145.6L1285.8 1146.5L1284.1 1148.3ZM1331.4 1156.4L1334.1 1156.3L1336.2 1155.7L1339 1156.7L1341.6 1157.1L1344.4 1157.9L1347 1158.4L1348.7 1160.2L1349.7 1161.8L1347 1163.8L1343.9 1164.5L1341.6 1164.5L1338.9 1166.5L1337.3 1165.2L1334.8 1164.5L1332.4 1164.7L1330.8 1165.2L1328.4 1164.7L1326.7 1164.5L1328.7 1162.5L1330.7 1161.9L1333.5 1161.8L1332.1 1159.1ZM1318.3 1164.9L1317.5 1166L1315.5 1166.7L1313 1166.7L1311 1166L1310.2 1164.9L1311 1163.8L1313 1163.1L1315.5 1163.1L1317.5 1163.8ZM1364.2 1164.1L1363.5 1165.1L1361.6 1165.8L1359.4 1165.8L1357.6 1165.1L1356.9 1164.1L1357.6 1163.1L1359.4 1162.4L1361.6 1162.4L1363.5 1163.1ZM1353.2 1163.1L1352.9 1164L1352.2 1164.6L1351.3 1164.6L1350.5 1164L1350.2 1163.1L1350.5 1162.3L1351.3 1161.7L1352.2 1161.7L1352.9 1162.3ZM1340.5 1193.6L1340.2 1194.5L1339.6 1195.1L1338.7 1195.1L1338.1 1194.5L1337.8 1193.6L1338.1 1192.6L1338.7 1192L1339.6 1192L1340.2 1192.6ZM1351.3 1192L1351 1192.6L1350.2 1193L1349.2 1193L1348.4 1192.6L1348.1 1192L1348.4 1191.3L1349.2 1190.9L1350.2 1190.9L1351 1191.3ZM1582.6 1133.5L1580.2 1136.5L1578.6 1139.6L1576.8 1141.9L1575.3 1143.6L1573.8 1146L1573.8 1149.2L1573 1151.6L1574.8 1153.3L1576.2 1155.6L1575.7 1158.8L1575.4 1162L1576.5 1164L1577.8 1166.8L1577 1170.2L1576.2 1173.2L1575.6 1175.9L1574.6 1178L1571.4 1180.4L1572.8 1182.6L1573.8 1184.4L1574.1 1187.6L1573.8 1190L1576.1 1191.5L1577.8 1193.2L1579.9 1194.9L1581.8 1196.4L1584.1 1198.6L1585.8 1200.4L1587.3 1202.1L1589 1204.4L1589.6 1207L1590.6 1210L1593.6 1211.8L1596.2 1213.2L1598.3 1215.6L1601 1218L1603.4 1219.5L1604.9 1221.3L1607.4 1222.8L1609.9 1223.8L1612.5 1225L1615.4 1226.8L1617.5 1225.1L1620.2 1223.6L1622.5 1222.4L1625.6 1222.4L1628.2 1221.2L1631.4 1222.8L1634.9 1223L1637.8 1223.6L1641.4 1222.4L1644.2 1222L1646.3 1220L1649 1218.8L1651.8 1217.7L1655.4 1216.4L1658.3 1216.1L1661 1215.8L1663.4 1215.6L1665.8 1216.9L1667.4 1218L1668.6 1220.5L1669.8 1223.6L1671.3 1225.1L1673 1226.8L1676.5 1226.2L1679.4 1226L1681.6 1225.9L1684.2 1225.2L1685.4 1226.8L1687.4 1228.4L1688.3 1230.5L1689.8 1232.4L1688.7 1234.4L1687.4 1237.2L1687.6 1239.5L1687.4 1242L1686 1245.5L1685 1248.4L1686.1 1250.6L1686.6 1253.2L1689.2 1255.3L1691.4 1258L1693.8 1260L1696.2 1262.8L1697.9 1266.4L1699.4 1269.2L1701.1 1272L1702.6 1275.6L1703.4 1278.8L1704.2 1282L1703.7 1284.5L1703.4 1287.6L1704 1290.4L1705 1293.2L1705 1295.8L1705.8 1298L1703.6 1299.4L1701.8 1301.2L1700.6 1304.2L1700.2 1307.6L1699.8 1310.6L1698.6 1314L1697.4 1317.1L1697 1320.4L1698.2 1322.4L1698.6 1325.2L1700.5 1327.7L1702.6 1330.8L1704.4 1334L1705.8 1337.2L1707 1340.3L1709 1342.8L1709.2 1346.2L1709.8 1349.2L1710.2 1352.9L1710.6 1355.9M1797.8 1133.5L1799 1136.3L1801 1139.6L1802.4 1141.8L1804.2 1144.4L1806.1 1146.8L1807.4 1149.2L1807 1151.9L1807.2 1154.6L1806.6 1157.2L1807.8 1159.7L1809 1162L1810.9 1164.4M1807.9 1133.5L1809.5 1136.4L1810.9 1137.7M1810.9 1319.6L1808.5 1321.9L1805.8 1324.4L1802.9 1326.9L1800.2 1330L1798.5 1332.3L1797 1334L1798.4 1335.9L1800.2 1338L1799.9 1341.3L1799.4 1344.4L1799.9 1347.6L1801 1350.8L1800.4 1352.9L1799.4 1355.9M1784.2 1245.2L1785.4 1244.2L1787.4 1242.8L1790.2 1242.4L1792.2 1242.8L1792.9 1244.9L1794.3 1246.8L1793.4 1249.7L1793 1252.4L1791 1254L1789.8 1255.6L1787.1 1255.4L1785 1255.6L1784.2 1253.2L1783.1 1250.8L1784 1248.3Z" stroke="#000" stroke-width="2" fill="none" stroke-linejoin="round" stroke-linecap="round" shape-rendering="crispEdges"/><path d="M325.6 1190.2L328.7 1187.9L332.4 1188.7L331.6 1191.1L327.4 1191.8ZM338.3 1337L337.9 1337.8L336.7 1338.3L335.1 1338.3L333.9 1337.8L333.5 1337L333.9 1336.2L335.1 1335.7L336.7 1335.7L337.9 1336.2ZM346.2 1332L346.2 1332.8L345.6 1333.7L344.6 1334.2L343.6 1334.3L342.9 1333.8L342.9 1333L343.5 1332.2L344.5 1331.6L345.6 1331.6ZM497.2 1186.5L498.8 1187.1L496.1 1193.6L494.4 1193ZM601.7 1206.4L611.2 1195.6L613.2 1197L603.8 1207.8ZM512 1234.6L511.3 1234.9L510.3 1234.7L509.3 1234L508.8 1233.2L508.8 1232.4L509.5 1232.1L510.5 1232.3L511.5 1233L512 1233.8ZM518.6 1240.1L517.9 1240.4L517 1240.1L516.1 1239.3L515.6 1238.4L515.7 1237.7L516.4 1237.4L517.4 1237.7L518.3 1238.5L518.8 1239.4ZM524.9 1249.7L524.6 1251L523.8 1251.8L522.8 1251.8L521.9 1251L521.6 1249.7L521.9 1248.5L522.8 1247.7L523.8 1247.7L524.6 1248.5ZM556.1 1254.2L555.7 1255.3L554.6 1256L553.3 1256L552.2 1255.3L551.8 1254.2L552.2 1253.1L553.3 1252.4L554.6 1252.4L555.7 1253.1ZM562.9 1256.5L562.6 1257.4L561.7 1257.9L560.6 1257.9L559.7 1257.4L559.4 1256.5L559.7 1255.6L560.6 1255.1L561.7 1255.1L562.6 1255.6ZM638.3 1276.8L643 1275L644.1 1276.9L639.6 1278.5ZM632.8 1251.1L636.9 1251.1L636.9 1252.4L632.8 1252.4ZM676 1271L675.8 1272.9L675.2 1274.1L674.4 1274.1L673.8 1272.9L673.6 1271L673.8 1269.1L674.4 1267.9L675.2 1267.9L675.8 1269.1ZM663.1 1276.9L662.9 1278.1L662.3 1278.8L661.6 1278.8L660.9 1278.1L660.7 1276.9L660.9 1275.7L661.6 1275L662.3 1275L662.9 1275.7ZM730.6 1252.8L730.4 1253.3L729.9 1253.6L729.2 1253.6L728.7 1253.3L728.5 1252.8L728.7 1252.4L729.2 1252.1L729.9 1252.1L730.4 1252.4ZM961.3 1146.3L961.2 1147.1L960.3 1147.8L959 1148.2L957.8 1148.1L957.2 1147.5L957.4 1146.7L958.3 1146L959.6 1145.6L960.7 1145.7ZM967.7 1149.5L967.6 1150.3L966.9 1151L965.9 1151.3L964.9 1151.1L964.4 1150.5L964.5 1149.8L965.2 1149.1L966.2 1148.8L967.2 1148.9ZM974 1153.3L973.3 1153.8L972.3 1153.7L971.4 1153.1L970.9 1152.2L971.1 1151.3L971.8 1150.9L972.8 1151L973.7 1151.6L974.2 1152.5ZM771.2 1273.4L772.6 1272.7L777.3 1279.5L776 1280.4ZM782.1 1285.3L786.8 1281.5L790.4 1281.2L792.2 1285.6L796.3 1290.3L794.9 1292.1L789.5 1287.6L785.4 1288.5ZM813.2 1308.8L815.2 1308.3L820.6 1316.4L818.6 1317.8ZM803 1333.6L805.3 1332.7L817.9 1342.1L816.1 1344ZM865.3 1317.4L871.3 1315.1L872.4 1316.7L866.2 1319.1ZM901.8 1301.5L903.1 1300.7L909.9 1304.2L909 1305.9ZM1004.3 1322.6L1003.5 1323L1002.5 1322.7L1001.6 1321.9L1001.2 1321L1001.4 1320.2L1002.1 1319.9L1003.1 1320.2L1004 1320.9L1004.5 1321.9ZM1255.7 1246.6L1255.3 1248.2L1254.5 1249.2L1253.4 1249.2L1252.5 1248.2L1252.2 1246.6L1252.5 1245L1253.4 1244L1254.5 1244L1255.3 1245ZM1296.7 1136.2L1296.1 1136.6L1295.3 1136.5L1294.7 1136L1294.3 1135.3L1294.5 1134.6L1295 1134.3L1295.8 1134.3L1296.5 1134.8L1296.8 1135.5ZM1312.9 1136.9L1312.4 1137.2L1311.6 1137.2L1310.9 1136.7L1310.6 1136L1310.7 1135.3L1311.3 1134.9L1312.1 1135L1312.7 1135.5L1313.1 1136.2ZM1322.4 1137.5L1321.8 1137.9L1321.1 1137.8L1320.4 1137.4L1320 1136.7L1320.2 1136L1320.7 1135.6L1321.5 1135.7L1322.2 1136.2L1322.6 1136.9ZM1326.5 1143.6L1325.9 1144L1325.1 1143.9L1324.4 1143.5L1324.1 1142.8L1324.2 1142.1L1324.8 1141.7L1325.6 1141.8L1326.3 1142.2L1326.6 1142.9ZM1329.2 1145L1328.6 1145.3L1327.8 1145.3L1327.1 1144.8L1326.8 1144.1L1326.9 1143.4L1327.5 1143.1L1328.3 1143.1L1329 1143.6L1329.3 1144.3ZM1334.6 1146.3L1334 1146.7L1333.2 1146.6L1332.5 1146.2L1332.2 1145.5L1332.3 1144.8L1332.9 1144.4L1333.7 1144.5L1334.4 1144.9L1334.7 1145.7ZM1337.3 1148.4L1336.7 1148.7L1335.9 1148.7L1335.2 1148.2L1334.9 1147.5L1335.1 1146.8L1335.6 1146.4L1336.4 1146.5L1337.1 1147L1337.4 1147.7ZM1332.6 1151.7L1332 1152.1L1331.2 1152.1L1330.5 1151.6L1330.2 1150.9L1330.3 1150.2L1330.9 1149.8L1331.7 1149.9L1332.4 1150.4L1332.7 1151.1ZM1291.3 1149.7L1290.7 1150.1L1289.9 1150L1289.2 1149.6L1288.9 1148.8L1289.1 1148.2L1289.6 1147.8L1290.4 1147.9L1291.1 1148.3L1291.4 1149ZM1382.6 1174L1382.3 1174.8L1381.5 1175.4L1380.6 1175.4L1379.9 1174.8L1379.6 1174L1379.9 1173.1L1380.6 1172.6L1381.5 1172.6L1382.3 1173.1ZM1385.7 1180.5L1385.4 1181.1L1384.8 1181.5L1384.1 1181.5L1383.5 1181.1L1383.2 1180.5L1383.5 1179.8L1384.1 1179.4L1384.8 1179.4L1385.4 1179.8ZM1340 1203.7L1339.8 1204.7L1339.2 1205.3L1338.5 1205.3L1338 1204.7L1337.8 1203.7L1338 1202.8L1338.5 1202.2L1339.2 1202.2L1339.8 1202.8ZM1425.5 1245L1428.8 1243.6L1429.5 1247.7L1426.8 1251.1L1425.2 1249ZM1436.3 1245.7L1439.7 1246.3L1439 1250.4L1437 1249ZM1256.1 1246.3L1256 1247.5L1255.6 1248.1L1255.2 1248.1L1254.9 1247.5L1254.7 1246.3L1254.9 1245.2L1255.2 1244.5L1255.6 1244.5L1256 1245.2ZM1771.4 1258L1773.5 1258.3L1774.6 1266L1777 1272.4L1779.9 1278L1781 1282.3L1778.3 1282.8L1775.4 1276.4L1772.5 1268.4ZM1793 1285.5L1795.1 1285.2L1797 1293.2L1797.8 1299.6L1799.7 1306.3L1797.5 1307.3L1794.9 1299.6L1793.8 1292.4ZM1703.1 1182.5L1706.9 1183.3L1710.1 1186L1713.5 1185.7L1712.5 1188.6L1708.2 1190.8L1705.8 1187Z" fill="#000" stroke="#000" stroke-width="0.8"/></g>
<path d="M260.4 1188.6L264.4 1188.5L268.4 1188.38L272.4 1188.25L276.4 1188.11L280.4 1187.96L284.4 1187.81L288.4 1187.67L292.4 1187.54L296.4 1187.42L300.4 1187.32L304.4 1187.25L308.4 1187.2L312.4 1187.19L316.4 1187.22L320.4 1187.27L324.4 1187.34L328.4 1187.44L332.4 1187.55L336.4 1187.67L340.4 1187.81L344.4 1187.97L348.4 1188.15L352.4 1188.36L356.4 1188.59L360.4 1188.86L364.4 1189.15L368.4 1189.47L372.4 1189.8L376.4 1190.15L380.4 1190.51L384.4 1190.87L388.4 1191.23L392.4 1191.59L396.4 1191.94L400.4 1192.3L404.4 1192.66L408.4 1193.03L412.4 1193.41L416.4 1193.81L420.4 1194.23L424.4 1194.67L428.4 1195.14L432.4 1195.63L436.4 1196.16L440.4 1196.71L444.4 1197.3L448.4 1197.92L452.4 1198.56L456.4 1199.23L460.4 1199.92L464.4 1200.62L468.4 1201.34L472.4 1202.06L476.4 1202.8L480.4 1203.54L484.4 1204.27L488.4 1205L492.4 1205.73L496.4 1206.43L500.4 1207.13L504.4 1207.8L508.4 1208.47L512.4 1209.15L516.4 1209.85L520.4 1210.56L524.4 1211.3L528.4 1212.07L532.4 1212.86L536.4 1213.68L540.4 1214.52L544.4 1215.37L548.4 1216.24L552.4 1217.12L556.4 1218L560.4 1218.89L564.4 1219.77L568.4 1220.66L572.4 1221.55L576.4 1222.44L580.4 1223.35L584.4 1224.28L588.4 1225.22L592.4 1226.18L596.4 1227.14L600.4 1228.12L604.4 1229.09L608.4 1230.06L612.4 1231.01L616.4 1231.95L620.4 1232.88L624.4 1233.8L628.4 1234.72L632.4 1235.64L636.4 1236.57L640.4 1237.52L644.4 1238.5L648.4 1239.48L652.4 1240.49L656.4 1241.5L660.4 1242.53L664.4 1243.56L668.4 1244.58L672.4 1245.61L676.4 1246.63L680.4 1247.64L684.4 1248.64L688.4 1249.64L692.4 1250.62L696.4 1251.58L700.4 1252.53L704.4 1253.47L708.4 1254.4L712.4 1255.32L716.4 1256.24L720.4 1257.15L724.4 1258.06L728.4 1258.98L732.4 1259.89L736.4 1260.81L740.4 1261.74L744.4 1262.67L748.4 1263.6L752.4 1264.54L756.4 1265.48L760.4 1266.42L764.4 1267.37L768.4 1268.32L772.4 1269.27L776.4 1270.21L780.4 1271.15L784.4 1272.08L788.4 1273L792.4 1273.9L796.4 1274.78L800.4 1275.64L804.4 1276.49L808.4 1277.31L812.4 1278.1L816.4 1278.88L820.4 1279.64L824.4 1280.37L828.4 1281.09L832.4 1281.79L836.4 1282.47L840.4 1283.15L844.4 1283.81L848.4 1284.46L852.4 1285.11L856.4 1285.75L860.4 1286.39L864.4 1287.03L868.4 1287.66L872.4 1288.29L876.4 1288.92L880.4 1289.54L884.4 1290.16L888.4 1290.77L892.4 1291.36L896.4 1291.94L900.4 1292.5L904.4 1293.04L908.4 1293.56L912.4 1294.06L916.4 1294.54L920.4 1295L924.4 1295.45L928.4 1295.88L932.4 1296.3L936.4 1296.71L940.4 1297.11L944.4 1297.49L948.4 1297.85L952.4 1298.19L956.4 1298.52L960.4 1298.82L964.4 1299.09L968.4 1299.35L972.4 1299.58L976.4 1299.79L980.4 1299.98L984.4 1300.15L988.4 1300.3L992.4 1300.42L996.4 1300.53L1000.4 1300.61L1004.4 1300.69L1008.4 1300.75L1012.4 1300.79L1016.4 1300.83L1020.4 1300.85L1024.4 1300.87L1028.4 1300.87L1032.4 1300.86L1036.4 1300.84L1040.4 1300.8L1044.4 1300.76L1048.4 1300.69L1052.4 1300.62L1056.4 1300.52L1060.4 1300.41L1064.4 1300.27L1068.4 1300.12L1072.4 1299.94L1076.4 1299.75L1080.4 1299.53L1084.4 1299.3L1088.4 1299.04L1092.4 1298.77L1096.4 1298.49L1100.4 1298.2L1104.4 1297.89L1108.4 1297.57L1112.4 1297.23L1116.4 1296.88L1120.4 1296.51L1124.4 1296.13L1128.4 1295.73L1132.4 1295.32L1136.4 1294.89L1140.4 1294.44L1144.4 1293.98L1148.4 1293.5L1152.4 1293.01L1156.4 1292.51L1160.4 1291.99L1164.4 1291.45L1168.4 1290.9L1172.4 1290.33L1176.4 1289.74L1180.4 1289.13L1184.4 1288.5L1188.4 1287.86L1192.4 1287.19L1196.4 1286.5L1200.4 1285.78L1204.4 1285.04L1208.4 1284.28L1212.4 1283.48L1216.4 1282.67L1220.4 1281.85L1224.4 1281.03L1228.4 1280.23L1232.4 1279.45L1236.4 1278.71L1240.4 1278.01L1244.4 1277.35L1248.4 1276.7L1252.4 1276.05L1256.4 1275.38L1260.4 1274.67L1264.4 1273.9L1268.4 1273.07L1272.4 1272.19L1276.4 1271.27L1280.4 1270.31L1284.4 1269.33L1288.4 1268.35L1292.4 1267.37L1296.4 1266.41L1300.4 1265.47L1304.4 1264.56L1308.4 1263.66L1312.4 1262.78L1316.4 1261.91L1320.4 1261.06L1324.4 1260.21L1328.4 1259.37L1332.4 1258.52L1336.4 1257.68L1340.4 1256.83L1344.4 1255.98L1348.4 1255.11L1352.4 1254.24L1356.4 1253.34L1360.4 1252.43L1364.4 1251.49L1368.4 1250.53L1372.4 1249.54L1376.4 1248.52L1380.4 1247.47L1384.4 1246.38L1388.4 1245.25L1390.3 1244.7" stroke="#c00000" stroke-width="1.1" fill="none"/>
<path d="M1497.2 1244.9L1501.2 1243.95L1505.2 1242.96L1509.2 1241.94L1513.2 1240.88L1517.2 1239.8L1521.2 1238.7L1525.2 1237.58L1529.2 1236.44L1533.2 1235.29L1537.2 1234.14L1541.2 1232.99L1545.2 1231.84L1549.2 1230.69L1553.2 1229.55L1557.2 1228.43L1561.2 1227.32L1565.2 1226.22L1569.2 1225.15L1573.2 1224.1L1577.2 1223.07L1581.2 1222.06L1585.2 1221.08L1589.2 1220.12L1593.2 1219.18L1597.2 1218.26L1601.2 1217.36L1605.2 1216.47L1609.2 1215.61L1613.2 1214.76L1617.2 1213.93L1621.2 1213.12L1625.2 1212.33L1629.2 1211.56L1633.2 1210.81L1637.2 1210.07L1641.2 1209.35L1645.2 1208.63L1649.2 1207.93L1653.2 1207.23L1657.2 1206.54L1661.2 1205.85L1665.2 1205.17L1669.2 1204.48L1673.2 1203.79L1677.2 1203.1L1681.2 1202.42L1685.2 1201.74L1689.2 1201.07L1693.2 1200.41L1697.2 1199.77L1701.2 1199.14L1705.2 1198.52L1709.2 1197.92L1713.2 1197.33L1717.2 1196.77L1721.2 1196.22L1725.2 1195.69L1729.2 1195.17L1733.2 1194.68L1737.2 1194.21L1741.2 1193.76L1745.2 1193.33L1749.2 1192.91L1753.2 1192.52L1757.2 1192.14L1761.2 1191.78L1765.2 1191.44L1769.2 1191.12L1773.2 1190.82L1777.2 1190.54L1781.2 1190.27L1785.2 1190.03L1789.2 1189.8L1793.2 1189.59L1797.2 1189.4L1801.2 1189.23L1805.2 1189.08L1809.2 1188.94L1810.6 1188.9" stroke="#c00000" stroke-width="1.1" fill="none"/>
<path d="M258.2 1208.9L288.8 1211.2L322.6 1212.5L363.2 1212.5L390.3 1211.4L417.3 1210.9L444.4 1210.5L471.5 1209.8L505 1209.8L559 1209.8L613 1210.1L640 1209.8L667 1209.1L694 1209.1L721.5 1210.3L740 1211.5L765 1214.8L800.3 1219.6L863.2 1230.8L917.3 1240.3L980.2 1249L1015 1252.2L1059.1 1258.5L1113.2 1266.6L1161.3 1273.4L1207.9 1280.2L1235 1285.4L1262 1290.5L1282.1 1293L1306.4 1296.1L1318 1297.5L1327 1297L1349.7 1291L1370 1286.3L1391 1281.3L1403.8 1274.8L1424.1 1263.9L1451.2 1249.7L1478.2 1235.5L1498.5 1224.7L1518 1214.6L1537 1208.4L1561 1202L1580.2 1198.6L1601 1198L1629 1197.2L1657 1196.9L1681 1197.2L1705 1198.5L1729 1200.4L1761 1203.9L1793 1207.1L1812.5 1208.8" stroke="#00ff00" stroke-width="5.9" fill="none" stroke-linejoin="round"/>
<path d="M737.39 1254.88L746.82 1257.07L744.11 1268.76L734.68 1266.57ZM750.51 1257.93L759.94 1260.15L757.19 1271.83L747.76 1269.61ZM763.62 1261.02L773.05 1263.25L770.28 1274.93L760.85 1272.7ZM776.65 1264.11L786.08 1266.32L783.35 1278L773.92 1275.8ZM789.72 1267.16L799.18 1269.26L796.58 1280.97L787.12 1278.87ZM802.76 1270.03L812.25 1271.97L809.84 1283.73L800.35 1281.78ZM815.85 1272.68L825.36 1274.46L823.15 1286.26L813.64 1284.47ZM828.95 1275.1L838.49 1276.75L836.45 1288.58L826.91 1286.93ZM842.19 1277.37L851.75 1278.93L849.81 1290.77L840.25 1289.21ZM855.41 1279.52L864.98 1281.05L863.09 1292.9L853.52 1291.37ZM868.7 1281.63L878.27 1283.14L876.4 1294.99L866.83 1293.49ZM881.97 1283.72L891.54 1285.18L889.73 1297.04L880.16 1295.58ZM895.18 1285.72L904.77 1287.06L903.12 1298.94L893.53 1297.61ZM908.42 1287.53L918.03 1288.7L916.58 1300.61L906.97 1299.44ZM921.69 1289.12L931.31 1290.17L930.01 1302.1L920.39 1301.05ZM934.97 1290.55L944.6 1291.49L943.43 1303.44L933.8 1302.49ZM948.27 1291.83L957.92 1292.63L956.93 1304.59L947.28 1303.79ZM961.6 1292.9L971.27 1293.53L970.5 1305.5L960.83 1304.88ZM974.89 1293.72L984.56 1294.17L984.01 1306.16L974.34 1305.71ZM988.23 1294.3L997.91 1294.57L997.57 1306.57L987.89 1306.3ZM1001.6 1294.65L1011.28 1294.79L1011.1 1306.79L1001.42 1306.65ZM1014.99 1294.83L1024.67 1294.88L1024.61 1306.88L1014.93 1306.82ZM1028.38 1294.88L1038.06 1294.83L1038.12 1306.83L1028.44 1306.88ZM1041.76 1294.8L1051.45 1294.65L1051.64 1306.64L1041.95 1306.8ZM1055.13 1294.57L1064.81 1294.27L1065.17 1306.27L1055.49 1306.56ZM1068.47 1294.13L1078.15 1293.66L1078.73 1305.65L1069.05 1306.11ZM1081.79 1293.45L1091.45 1292.84L1092.21 1304.81L1082.55 1305.43ZM1095.17 1292.58L1104.83 1291.85L1105.73 1303.81L1096.07 1304.54ZM1108.5 1291.55L1118.15 1290.71L1119.2 1302.66L1109.55 1303.5ZM1121.78 1290.37L1131.42 1289.4L1132.62 1301.34L1122.98 1302.31ZM1135.11 1289L1144.73 1287.91L1146.09 1299.83L1136.47 1300.93ZM1148.4 1287.47L1158 1286.26L1159.5 1298.17L1149.9 1299.38ZM1161.68 1285.78L1171.27 1284.44L1172.92 1296.33L1163.33 1297.66ZM1174.9 1283.91L1184.47 1282.43L1186.3 1294.29L1176.73 1295.77ZM1188.06 1281.85L1197.6 1280.21L1199.64 1292.03L1190.1 1293.68ZM1201.21 1279.55L1210.72 1277.72L1212.99 1289.5L1203.48 1291.34ZM1214.35 1276.97L1223.84 1275.02L1226.25 1286.77L1216.76 1288.72ZM1227.63 1274.24L1237.15 1272.45L1239.37 1284.24L1229.85 1286.03ZM1241.01 1271.81L1250.57 1270.27L1252.49 1282.11L1242.93 1283.66ZM1254.16 1269.7L1263.69 1267.97L1265.84 1279.78L1256.31 1281.51Z" fill="#ff0000"/>
<path d="M720.1 1177.3L721.92 1182.79L727.71 1182.83L723.05 1186.26L724.8 1191.77L720.1 1188.4L715.4 1191.77L717.15 1186.26L712.49 1182.83L718.28 1182.79ZM818.3 1195.6L820.12 1201.09L825.91 1201.13L821.25 1204.56L823 1210.07L818.3 1206.7L813.6 1210.07L815.35 1204.56L810.69 1201.13L816.48 1201.09ZM969.2 1227.7L971.02 1233.19L976.81 1233.23L972.15 1236.66L973.9 1242.17L969.2 1238.8L964.5 1242.17L966.25 1236.66L961.59 1233.23L967.38 1233.19ZM1315.2 1288.6L1317.02 1294.09L1322.81 1294.13L1318.15 1297.56L1319.9 1303.07L1315.2 1299.7L1310.5 1303.07L1312.25 1297.56L1307.59 1294.13L1313.38 1294.09ZM1456.6 1247.6L1458.42 1253.09L1464.21 1253.13L1459.55 1256.56L1461.3 1262.07L1456.6 1258.7L1451.9 1262.07L1453.65 1256.56L1448.99 1253.13L1454.78 1253.09Z" stroke="#c030c0" stroke-width="1" fill="none"/>
<path d="M260.5 1309.5h15M1810.5 1309.5h-15M260.5 1244.5h15M1810.5 1244.5h-15M260.5 1179.5h15M1810.5 1179.5h-15M440.5 1133.5v15M440.5 1355.5v-15M620.5 1133.5v15M620.5 1355.5v-15M800.5 1133.5v15M800.5 1355.5v-15M980.5 1133.5v15M980.5 1355.5v-15M1161.5 1133.5v15M1161.5 1355.5v-15M1343.5 1133.5v15M1343.5 1355.5v-15M1628.5 1133.5v15M1628.5 1355.5v-15" stroke="#000" stroke-width="1" fill="none" shape-rendering="crispEdges"/>
<rect x="260.5" y="1133.5" width="1550" height="222" stroke="#000" stroke-width="1.2" fill="none" shape-rendering="crispEdges"/>
<text x="186.8 202.8" y="1192.6" font-size="27.78" fill="#000">15</text>
<text x="219.3" y="1179.6" font-size="22">o</text>
<text x="232" y="1192.6" font-size="27.78">N</text>
<text x="214.5" y="1257.3" font-size="27.78" fill="#000">0</text>
<text x="232.3" y="1244.3" font-size="22">o</text>
<text x="187.5 203.5" y="1322.4" font-size="27.78" fill="#000">15</text>
<text x="220" y="1309.4" font-size="22">o</text>
<text x="232.3" y="1322.4" font-size="27.78">S</text>
<text x="216.8" y="1401.8" font-size="27.78" letter-spacing="-0.433" fill="#000">GLON</text>
<text x="403.7 419.7 435.7 451.7 459.7" y="1401.8" font-size="27.78" fill="#000">079.8</text>
<text x="583.7 599.7 615.7 631.7 639.7" y="1401.8" font-size="27.78" fill="#000">121.6</text>
<text x="764 780 796 812 820" y="1401.8" font-size="27.78" fill="#000">163.3</text>
<text x="944 960 976 992 1000" y="1401.8" font-size="27.78" fill="#000">205.2</text>
<text x="1124.7 1140.7 1156.7 1172.7 1180.7" y="1401.8" font-size="27.78" fill="#000">247.4</text>
<text x="1306.3 1322.3 1338.3 1354.3 1362.3" y="1401.8" font-size="27.78" fill="#000">289.5</text>
<text x="1591.7 1607.7 1623.7 1639.7 1647.7" y="1401.8" font-size="27.78" fill="#000">355.8</text>
<text x="1773.7 1789.7 1805.7 1821.7 1829.7" y="1401.8" font-size="27.78" fill="#000">037.9</text>
<text x="220.2" y="1442.6" font-size="27.78" letter-spacing="0.533" fill="#000">GLAT</text>
<text x="403.7 419.7 435.7 451.7 459.7" y="1442.6" font-size="27.78" fill="#000">+11.0</text>
<text x="583.7 599.7 615.7 631.7 639.7" y="1442.6" font-size="27.78" fill="#000">+02.7</text>
<text x="767.5 776.5 792.5 808.5 816.5" y="1442.6" font-size="27.78" fill="#000">-07.2</text>
<text x="947.5 956.5 972.5 988.5 996.5" y="1442.6" font-size="27.78" fill="#000">-12.8</text>
<text x="1128.2 1137.2 1153.2 1169.2 1177.2" y="1442.6" font-size="27.78" fill="#000">-11.0</text>
<text x="1309.8 1318.8 1334.8 1350.8 1358.8" y="1442.6" font-size="27.78" fill="#000">-02.7</text>
<text x="1591.7 1607.7 1623.7 1639.7 1647.7" y="1442.6" font-size="27.78" fill="#000">+07.2</text>
<text x="1773.7 1789.7 1805.7 1821.7 1829.7" y="1442.6" font-size="27.78" fill="#000">+12.8</text>
<text x="224" y="1483.4" font-size="27.78" letter-spacing="0.567" fill="#000">GALT</text>
<text x="419.7 435.7 451.7" y="1483.4" font-size="27.78" fill="#000">785</text>
<text x="599.7 615.7 631.7" y="1483.4" font-size="27.78" fill="#000">842</text>
<text x="780 796 812" y="1483.4" font-size="27.78" fill="#000">760</text>
<text x="960 976 992" y="1483.4" font-size="27.78" fill="#000">599</text>
<text x="1140.7 1156.7 1172.7" y="1483.4" font-size="27.78" fill="#000">456</text>
<text x="1322.3 1338.3 1354.3" y="1483.4" font-size="27.78" fill="#000">403</text>
<text x="1607.7 1623.7 1639.7" y="1483.4" font-size="27.78" fill="#000">478</text>
<text x="1789.7 1805.7 1821.7" y="1483.4" font-size="27.78" fill="#000">635</text>
<text x="216" y="1524.2" font-size="27.78" letter-spacing="-0.333" fill="#000">MLON</text>
<text x="403.7 419.7 435.7 451.7 459.7" y="1524.2" font-size="27.78" fill="#000">151.4</text>
<text x="583.7 599.7 615.7 631.7 639.7" y="1524.2" font-size="27.78" fill="#000">192.3</text>
<text x="764 780 796 812 820" y="1524.2" font-size="27.78" fill="#000">235.7</text>
<text x="944 960 976 992 1000" y="1524.2" font-size="27.78" fill="#000">278.2</text>
<text x="1124.7 1140.7 1156.7 1172.7 1180.7" y="1524.2" font-size="27.78" fill="#000">319.1</text>
<text x="1306.3 1322.3 1338.3 1354.3 1362.3" y="1524.2" font-size="27.78" fill="#000">000.5</text>
<text x="1591.7 1607.7 1623.7 1639.7 1647.7" y="1524.2" font-size="27.78" fill="#000">068.3</text>
<text x="1773.7 1789.7 1805.7 1821.7 1829.7" y="1524.2" font-size="27.78" fill="#000">109.1</text>
<text x="220.5" y="1565" font-size="27.78" letter-spacing="0.000" fill="#000">MLAT</text>
<text x="403.7 419.7 435.7 451.7 459.7" y="1565" font-size="27.78" fill="#000">+02.3</text>
<text x="587.2 596.2 612.2 628.2 636.2" y="1565" font-size="27.78" fill="#000">-05.9</text>
<text x="767.5 776.5 792.5 808.5 816.5" y="1565" font-size="27.78" fill="#000">-13.4</text>
<text x="947.5 956.5 972.5 988.5 996.5" y="1565" font-size="27.78" fill="#000">-11.7</text>
<text x="1128.2 1137.2 1153.2 1169.2 1177.2" y="1565" font-size="27.78" fill="#000">-04.7</text>
<text x="1306.3 1322.3 1338.3 1354.3 1362.3" y="1565" font-size="27.78" fill="#000">+11.0</text>
<text x="1595.2 1604.2 1620.2 1636.2 1644.2" y="1565" font-size="27.78" fill="#000">-05.8</text>
<text x="1773.7 1789.7 1805.7 1821.7 1829.7" y="1565" font-size="27.78" fill="#000">+02.9</text>
<text x="238.5" y="1605.8" font-size="27.78" letter-spacing="-2.000" fill="#000">UT</text>
<text x="403.7 419.7 435.7 443.7 459.7" y="1605.8" font-size="27.78" fill="#000">09:37</text>
<text x="583.7 599.7 615.7 623.7 639.7" y="1605.8" font-size="27.78" fill="#000">09:50</text>
<text x="764 780 796 804 820" y="1605.8" font-size="27.78" fill="#000">10:03</text>
<text x="944 960 976 984 1000" y="1605.8" font-size="27.78" fill="#000">10:15</text>
<text x="1124.7 1140.7 1156.7 1164.7 1180.7" y="1605.8" font-size="27.78" fill="#000">10:26</text>
<text x="1306.3 1322.3 1338.3 1346.3 1362.3" y="1605.8" font-size="27.78" fill="#000">10:38</text>
<text x="1591.7 1607.7 1623.7 1631.7 1647.7" y="1605.8" font-size="27.78" fill="#000">09:13</text>
<text x="1773.7 1789.7 1805.7 1813.7 1829.7" y="1605.8" font-size="27.78" fill="#000">09:24</text>
<text x="226.5" y="1646.6" font-size="27.78" letter-spacing="0.500" fill="#000">SLT</text>
<text x="403.7 419.7 435.7 443.7 459.7" y="1646.6" font-size="27.78" fill="#000">15:00</text>
<text x="583.7 599.7 615.7 623.7 639.7" y="1646.6" font-size="27.78" fill="#000">18:00</text>
<text x="764 780 796 804 820" y="1646.6" font-size="27.78" fill="#000">21:00</text>
<text x="944 960 976 984 1000" y="1646.6" font-size="27.78" fill="#000">00:00</text>
<text x="1124.7 1140.7 1156.7 1164.7 1180.7" y="1646.6" font-size="27.78" fill="#000">03:00</text>
<text x="1306.3 1322.3 1338.3 1346.3 1362.3" y="1646.6" font-size="27.78" fill="#000">06:00</text>
<text x="1591.7 1607.7 1623.7 1631.7 1647.7" y="1646.6" font-size="27.78" fill="#000">09:00</text>
<text x="1773.7 1789.7 1805.7 1813.7 1829.7" y="1646.6" font-size="27.78" fill="#000">12:00</text>
<g transform="translate(1900.2 1663.5) rotate(-90)"><text x="0" y="0" font-size="22.2" textLength="391" lengthAdjust="spacing">Preliminary corrected calibration, 2/11/09</text></g>
<g transform="translate(1926.2 1663.5) rotate(-90)"><text x="0" y="0" font-size="22.2" textLength="320" lengthAdjust="spacing">Produced 28-May-2009 17:03:58</text></g>
</svg>
</body></html>
